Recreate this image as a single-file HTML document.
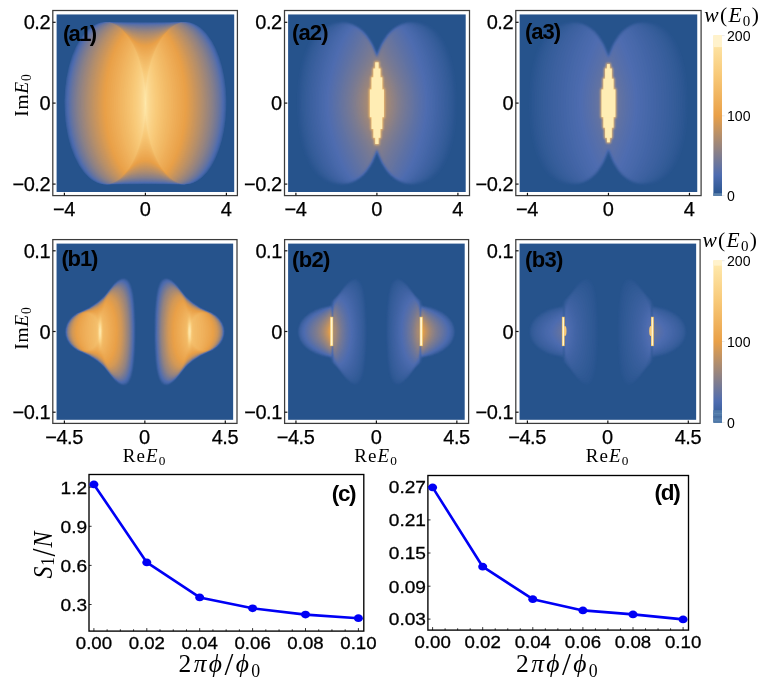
<!DOCTYPE html>
<html lang="en"><head><meta charset="utf-8"><title>Figure</title><style>html,body{margin:0;padding:0;background:#fff;}svg{display:block;}</style></head><body>
<svg width="762" height="683" viewBox="0 0 762 683">
<rect width="762" height="683" fill="#fff"/>
<defs><filter id="soft" x="-5%" y="-5%" width="110%" height="110%" color-interpolation-filters="sRGB"><feGaussianBlur stdDeviation="0.6"/></filter><filter id="soft2" x="-50%" y="-10%" width="200%" height="120%" color-interpolation-filters="sRGB"><feGaussianBlur stdDeviation="0.9"/></filter></defs>
<g id="hm-a1">
<rect x="56.60" y="14.45" width="177.60" height="177.55" fill="#26538c"/>
<clipPath id="cp-a1"><rect x="0" y="0" width="177.60" height="177.55"/></clipPath>
<g transform="translate(56.60,14.45)" clip-path="url(#cp-a1)"><g fill-rule="evenodd" filter="url(#soft)">
<path fill="#29558e" d="M45.7,8l0.5,-0.4 2,-0.1 83.2,0.1 0.5,0.4 2.1,0.1 0.5,0.5 1.5,0 1.5,1 1,0 5,3.1 4.8,4.4 0.2,0.5 2.9,3 0.1,0.5 1.4,1.5 1.1,2 0.9,1 4.5,8.5 0.6,2 2,4 0,1 0.5,0.5 1.5,4.5 0,1 0.5,0.5 0,1.1 0.4,0.5 0.1,1.5 0.5,0.5 0,1.5 0.5,0.5 0,1.5 0.5,0.5 0.5,4 0.5,1 0,2 0.5,0.5 0.5,6 0.5,1 0,3.5 0.5,1 0,5.5 0.5,2.1 0,13.5 -0.5,2.5 0,5.5 -0.5,1 0,3.5 -0.5,1 -0.5,6.1 -0.5,0.5 0,2 -0.5,1 -0.5,4 -0.5,0.5 0,1.5 -0.5,0.5 0,1.5 -0.5,0.5 -0.1,1.5 -0.4,0.5 0,1 -0.5,0.5 -0.6,3 -0.9,2.5 -0.5,0.5 -0.6,2.5 -1.4,2.5 -0.1,1 -3.5,7.1 -0.9,1 -0.6,1.5 -0.9,1 -1.1,2 -1.4,1.5 -0.1,0.5 -4.4,4.8 -5,4.1 -0.5,0.1 -2,1.4 -1,0.5 -1,0.1 -1.5,0.9 -1.5,0.1 -0.5,0.5 -2.1,0 -1,0.5 -84.7,0 -0.5,-0.5 -2.1,0 -0.5,-0.5 -1.5,-0.1 -1.5,-0.9 -1,-0.1 -5,-3 -4.8,-4.4 -0.2,-0.5 -2.9,-3 -0.1,-0.5 -1.4,-1.5 -1.1,-2 -0.9,-1 -5,-9.6 -0.1,-1 -1.4,-2.5 -0.6,-2.5 -0.5,-0.5 -0.9,-2.5 -0.6,-3 -0.5,-0.5 0,-1 -0.4,-0.5 -0.1,-1.5 -0.5,-0.5 0,-1.5 -0.5,-0.5 0,-1.5 -0.5,-0.5 -0.5,-4 -0.5,-1 0,-2 -0.5,-0.5 0,-2.6 -0.4,-0.5 -0.1,-3 -0.5,-1 0,-3.5 -0.5,-1 0,-5.5 -0.4,-1.5 -0.1,-13 0.1,-2.5 0.4,-1.1 0,-5.5 0.5,-1 0,-3.5 0.5,-1 0.5,-6 0.5,-0.5 0,-2 0.5,-1 0.5,-4 0.5,-0.5 0,-1.5 0.5,-0.5 0,-1.5 0.5,-0.5 0.1,-1.5 0.4,-0.5 0,-1.1 0.5,-0.5 0,-1 1.5,-4.5 0.5,-0.5 0,-1 0.5,-0.5 0.5,-2 1,-1.5 0.1,-1 1.9,-4 1.6,-3 0.9,-1 0.6,-1.5 0.9,-1 0.1,-0.5 2.4,-3 0.1,-0.5 2.9,-3 0.2,-0.5 4.8,-4.4 4,-2.6 1,-0.5 1,0 1.5,-1 1.5,0 0.5,-0.5z"/>
<path fill="#2b5691" d="M45.9,8l0.8,-0.4 3.5,0 80.7,0 1,0.5 2.1,0.1 0.5,0.4 2.5,0.6 4,2 3,2.1 6.8,6.8 4.5,6.5 4,7.5 3,7.5 3,9.6 2,9 1.5,10 1,12.6 0,11 -0.5,9 -1.5,11.6 -2,10 -3,10 -3.5,9 -4,7.6 -4.5,6.5 -3.3,3.5 -5.5,4.8 -2.5,1.4 -3.5,1.6 -5.6,1.1 -83.7,0 -1,-0.4 -2.1,-0.1 -0.5,-0.4 -2.5,-0.6 -4,-2 -3,-2.1 -6.8,-6.8 -4.5,-6.5 -4,-7.6 -4,-10.5 -2.5,-8.5 -2.5,-13.1 -1,-8.5 -0.5,-7.5 -0.1,-9.5 0.6,-11.1 1.5,-11.5 2,-10 3.5,-11.6 4,-9.5 4.6,-8 2.9,-4 6.8,-6.8 3,-2.1 4,-2 2.5,-0.6 0.5,-0.4z"/>
<path fill="#2e5893" d="M43.6,8.3l3.1,-0.6 3.5,-0.1 80.7,0.1 1,0.4 2.1,0.2 0.5,0.3 2.5,0.7 4,2 3,2.1 6.2,6.2 5,7 3.4,6.5 4.1,10 3,10.6 2,9.5 1.5,12 0.5,9.6 0,9 -1,13 -1.5,10.1 -2.5,11 -2.5,8 -3.6,8.5 -3.4,6.6 -4.6,6.5 -6.1,6.2 -3.5,2.6 -5.5,2.5 -5.6,1.1 -83.2,-0.1 -1,-0.4 -2.1,-0.1 -0.5,-0.4 -2.5,-0.6 -4,-2 -3,-2.1 -6.2,-6.2 -5,-7 -5,-10.1 -3,-8 -3,-11 -2,-11.1 -1,-9 -0.5,-15.5 0.5,-11.1 1.5,-12 2.5,-11.5 3,-10.1 4,-9.5 4,-7 4,-5.5 6.2,-6.2 3,-2.1 4,-2 2.5,-0.7z"/>
<path fill="#315a96" d="M43.6,8.4l3.6,-0.7 3.5,-0.1 30.6,0.3 49.6,-0.1 3.1,0.6 3,0.9 4,2.1 3,2.1 6.1,6.1 4.9,7 4,7.7 3.6,8.8 3,10.6 2,10 1.5,12 0.5,10.1 -0.1,8 -0.9,12.5 -1.5,10.6 -2,9 -3.1,9.9 -3.5,8.5 -4.4,8.2 -4,5.5 -5.6,5.6 -3.5,2.5 -5.5,2.6 -6.1,1.2 -35.6,-0.3 -47.1,0.2 -3.1,-0.6 -3,-1 -4,-2.1 -3,-2.1 -6.1,-6 -4.9,-7.1 -4.6,-9 -3.5,-9 -3,-11 -2,-11.1 -1,-9.5 -0.5,-14 0.5,-11.6 1.5,-12 2,-10 3,-10.6 4.1,-9.9 4.4,-8.1 4,-5.5 6.1,-6.1 3,-2.1 4,-2.1z"/>
<path fill="#345b98" d="M44.1,8.3l6.6,-0.6 29.6,0.3 46.6,-0.3 4,0.2 4.6,1 2.5,1 3,1.6 3.5,2.5 5,5.1 5.5,7.7 4,7.8 3,7.5 3.1,9.9 2,9.2 1.5,10.4 0.8,12.7 0,9.5 -0.8,12.1 -1.5,10.4 -2,9.3 -2.6,8.4 -3.5,9 -3.5,6.9 -4,6.1 -4.8,5.5 -2.2,2 -3.5,2.5 -5.5,2.7 -6.1,1.1 -37.6,-0.3 -44.6,0.3 -3.1,-0.6 -3.5,-1.1 -4,-2.1 -3.5,-2.5 -5,-5 -5.5,-7.8 -4.5,-8.8 -3.6,-9.4 -3,-11.2 -2,-11.3 -1,-9.6 -0.4,-13.1 0.4,-10.1 1.5,-13.1 2.5,-12.1 3.1,-9.9 3.5,-8.6 4.5,-8.3 4.5,-6.1 4.5,-4.6 2.5,-2 5.5,-3.1z"/>
<path fill="#365d9b" d="M44.1,8.4l6.6,-0.7 33.1,0.5 46.6,-0.4 3.1,0.6 3.5,1.1 3,1.5 3.7,2.5 2.8,2.5 3,3.2 5.5,7.9 3.5,6.7 3.5,8.7 3.1,10.1 2,9.5 1.5,11 0.6,9.7 0,10.5 -0.6,11.1 -1.5,11.1 -2,9.5 -3.1,10.1 -3.5,8.7 -3.5,6.7 -5,7.2 -4.5,4.8 -5.5,4 -4.5,2.1 -6.6,1.2 -36.6,-0.4 -45.1,0.3 -3.1,-0.5 -3.5,-1.2 -3,-1.5 -3.7,-2.5 -2.8,-2.5 -3,-3.2 -5.5,-7.8 -4.5,-9 -3.6,-9.5 -3,-11.4 -2,-11.8 -1,-10.8 -0.2,-12.7 0.7,-12.2 1.5,-11 2.5,-11.4 3.1,-9.6 3.5,-8.4 4.5,-8 5,-6.6 5.5,-5.1 3,-2 3,-1.5z"/>
<path fill="#395f9d" d="M44.1,8.4l6.6,-0.7 13.5,0.4 28.6,0.2 34.1,-0.6 3.5,0.2 3.1,0.5 3.2,1.1 3.1,1.5 3.7,2.5 2.9,2.5 3.1,3.5 5,7 4,7.7 3.5,8.8 3.1,10.4 2,9.8 1.5,11.9 0.5,8.7 -0.1,11 -0.9,12.5 -1.5,9.9 -2.5,10.8 -2.6,8 -3.5,8.4 -3.5,6.6 -4.5,6.5 -4.7,5 -5.5,4 -3.1,1.5 -3.2,1.1 -5.1,0.7 -35.6,-0.5 -28.6,0.1 -13.5,0.4 -3.5,-0.1 -3.1,-0.6 -3.2,-1.1 -3.1,-1.5 -3.7,-2.5 -2.9,-2.5 -3.1,-3.4 -5,-7.1 -4.5,-8.8 -3.5,-9.2 -3.1,-10.9 -2,-10.9 -1.2,-12.4 -0.3,-12 0.5,-11.7 1.5,-11.9 2.5,-11.8 3.1,-9.8 4,-9.5 4.5,-7.9 5,-6.5 5.1,-4.7 3.1,-2 3.1,-1.5z"/>
<path fill="#3c61a0" d="M44.1,8.5l6.6,-0.8 13,0.5 27.1,0.2 24.6,-0.2 11.5,-0.5 3.5,0.2 3.1,0.6 3,1 4,2 2.8,2 5.7,5.6 5.5,7.8 3.5,6.7 3.5,8.6 3.1,10 2,9.3 1.5,10.6 0.7,11.2 0,11 -0.7,11.1 -1.5,10.6 -2,9.4 -2.6,8.5 -3.5,9 -4,7.7 -4,6 -4.9,5.4 -5.1,4 -5.3,2.5 -4.8,1.1 -2,0.2 -37.1,-0.6 -43.6,0.5 -3.6,-0.7 -3,-1 -4,-2 -2.8,-2 -5.7,-5.6 -5.5,-7.8 -4,-7.7 -3.5,-9 -3.1,-10.6 -2,-10.2 -1.5,-13.3 -0.3,-11 0.3,-11.1 1.5,-13.2 2.5,-12.3 3.1,-10 4,-9.7 4.5,-8 5,-6.5 2.9,-3 3.1,-2.5 5.5,-3z"/>
<path fill="#3e62a2" d="M44.3,8.5l6.4,-0.7 13,0.5 25.6,0.2 25.1,-0.2 12.5,-0.5 3.5,0.2 2.9,0.5 4.1,1.5 5.7,3.5 2.8,2.5 3.1,3.4 2.5,3.3 3,4.6 3.5,6.8 3.5,8.8 3.1,10.3 2,9.7 1.5,11.8 0.5,10.1 -0.1,11 -0.9,11.9 -1.5,9.7 -2.5,10.8 -3.1,9.2 -3,7.1 -4,7.4 -4,5.6 -4.7,5 -5.4,4 -3.1,1.5 -3,1 -5.4,0.8 -13.5,-0.5 -22.6,-0.2 -44.1,0.5 -3.4,-0.6 -3,-1 -3.1,-1.5 -3.7,-2.5 -2.8,-2.5 -3.1,-3.4 -2.5,-3.2 -3,-4.7 -4,-7.9 -3.5,-9.2 -3.1,-10.9 -2,-10.8 -1.3,-12.6 -0.3,-12 0.6,-12.1 1.5,-11.8 2.5,-11.7 3.1,-9.7 4,-9.5 4.5,-7.9 5,-6.4 5.1,-4.7 3,-2 3.1,-1.5z"/>
<path fill="#4164a4" d="M44.6,8.5l6.1,-0.7 13.5,0.6 27.6,0.2 23.6,-0.3 11.5,-0.5 6,0.7 3.1,1 3.1,1.5 5.5,4 5.4,6 4.5,6.8 3.5,6.9 3.5,9 2.6,8.6 2,9.3 1.5,10.7 0.7,11 0,11 -0.7,11 -1.5,10.6 -2,9.4 -3.1,10 -3.5,8.6 -4,7.5 -4.5,6.4 -5,5.2 -4.9,3.5 -3.1,1.5 -3,1 -5.6,0.7 -12.5,-0.5 -24.1,-0.2 -27.1,0.2 -13,0.5 -3,-0.1 -3.1,-0.6 -4.2,-1.5 -2.7,-1.5 -3.5,-2.5 -5.6,-5.7 -2.5,-3.3 -3,-4.8 -4,-8 -3.5,-9.4 -3.1,-11.3 -2,-11.5 -1.1,-11.7 -0.2,-12.5 0.8,-13 1.5,-10.7 2.5,-11.2 3.1,-9.5 3.5,-8.3 4.5,-8.1 4.9,-6.4 5.5,-5.1 3,-2 3.1,-1.5z"/>
<path fill="#4466a7" d="M44.9,8.5l5.8,-0.7 11.5,0.6 26.6,0.4 26.6,-0.4 11.5,-0.6 3.1,0.2 2.7,0.5 4.2,1.5 5.6,3.5 2.8,2.5 3.2,3.5 3,4 2.5,4 3.5,6.8 3.5,8.8 3.1,10.4 2,9.9 1.4,11.3 0.6,10.6 -0.2,10.5 -0.8,11.2 -1.5,10 -2.5,10.9 -2.6,7.9 -3.5,8.5 -4,7.5 -4.4,6.2 -4.9,5 -4.9,3.5 -3.1,1.5 -3,1 -5.3,0.7 -11.5,-0.5 -25.1,-0.4 -27.6,0.3 -12.5,0.6 -3,-0.2 -2.8,-0.5 -4.2,-1.5 -5.6,-3.5 -2.8,-2.5 -3.2,-3.4 -3,-4 -2.5,-4 -4,-8 -3.5,-9.2 -3.1,-11 -2,-11 -1.2,-12.1 -0.3,-12 0.5,-11.2 1.5,-12.2 2.5,-11.9 3.1,-9.8 3.5,-8.5 4.5,-8.2 5,-6.7 5.7,-5.3 3,-2 3.1,-1.5z"/>
<path fill="#4767a9" d="M45.3,8.5l5.4,-0.6 9.5,0.5 23.6,0.5 23.1,-0.2 20,-0.8 5.4,0.6 3.1,1 3.1,1.5 5.4,4 5.1,5.6 5,7.4 4,8.2 3,7.9 2.6,8.7 2.2,11.4 1.3,9.6 0.6,11.5 -0.1,11.5 -0.9,10 -1.6,11.1 -2,8.8 -3.1,9.6 -3.5,8.4 -4,7.3 -4.3,6 -4.8,5 -4.9,3.5 -3.1,1.5 -3.1,1 -4.9,0.7 -18,-0.8 -19.1,-0.3 -21.1,0.3 -18.5,0.8 -2.7,-0.2 -2.7,-0.5 -4.2,-1.5 -3.6,-2 -2.7,-2 -3.2,-3 -3,-3.5 -5,-7.5 -4.5,-9.3 -3.5,-10 -2.6,-9.9 -2,-11.9 -1,-11.5 -0.1,-11.6 0.6,-11.5 1.5,-11.4 2.5,-11.5 3.1,-9.6 4,-9.5 4.5,-7.8 5,-6.4 5,-4.6 3,-2 3.1,-1.5z"/>
<path fill="#4969ac" d="M45.6,8.5l5.1,-0.6 16,0.8 18.6,0.4 23.1,-0.3 18.5,-0.9 5.1,0.6 3,1 3.1,1.5 5.5,4 5.4,6 4.5,6.8 3.5,6.9 3.5,9 3.1,10.7 1.8,9.3 1.3,10 0.6,11.1 0,10.5 -0.8,10.5 -1.4,10.1 -2.1,9.5 -3,9.9 -3.5,8.6 -4,7.5 -4.5,6.4 -5,5.2 -4.9,3.5 -3.1,1.5 -3,1 -4.6,0.7 -17.5,-0.9 -20.1,-0.3 -18.6,0.2 -20.5,1 -2.4,-0.2 -2.7,-0.5 -4.2,-1.5 -2.7,-1.5 -3.5,-2.5 -3.2,-3 -2.7,-3 -5.2,-7.8 -4.5,-9.2 -3.5,-9.8 -2.6,-9.7 -2,-11.6 -1,-11.6 -0.3,-12.5 0.8,-12.6 1.5,-11 2.6,-11.3 3,-9.5 3.5,-8.3 4.5,-8.1 4.9,-6.4 5.5,-5.1 3,-2 3.1,-1.5z"/>
<path fill="#4c6bae" d="M48.7,8l19,0.9 17.6,0.4 23.6,-0.4 18,-1 4.7,0.6 3,1 3.1,1.5 5.5,4 5.3,5.9 5,7.6 3.5,7.1 3.5,9.3 2.6,9 2,10.1 1.3,10.7 0.6,10.6 -0.1,10.5 -0.9,10.5 -1.4,10.2 -2.1,9.4 -3,9.7 -3.5,8.6 -4,7.4 -4.5,6.3 -4.9,5.1 -4.9,3.5 -4.4,2 -5.9,1.1 -17,-0.9 -21.1,-0.5 -20.1,0.4 -20.5,0.9 -2.7,-0.5 -4.2,-1.5 -2.7,-1.5 -3.5,-2.5 -3.2,-3 -2.8,-3.2 -3,-4.1 -2.5,-4.2 -4,-8.2 -3.5,-9.8 -3,-11.6 -1.7,-10.6 -1.1,-12 -0.2,-12 0.9,-12.6 1.5,-11 2.6,-11.2 3,-9.4 4,-9.3 4.5,-7.7 5,-6.3 5.5,-4.8 5.4,-3 3,-1z"/>
<path fill="#4f6caf" d="M49.2,8l21,1.2 15.6,0.3 20.6,-0.3 20.5,-1.2 4.3,0.5 3,1 3.1,1.5 5.4,4 5.3,5.8 5,7.6 4,8.2 3,8.1 2.5,8.9 2.1,9.9 1.4,11.2 0.5,10.6 -0.1,10.5 -0.8,11.1 -1.5,10 -2.6,10.9 -2.5,8.1 -3.5,8.4 -4,7.4 -4.5,6.3 -4.8,5 -4.9,3.5 -4.4,2 -5.5,1.1 -20,-1.2 -18.1,-0.4 -18.1,0.4 -22,1.1 -2.8,-0.5 -4.1,-1.5 -3.6,-2 -2.7,-2 -3.2,-3 -2.7,-3.1 -2.9,-3.9 -2.6,-4.3 -4,-8.2 -3.5,-9.7 -2.6,-9.5 -2.1,-12 -1.1,-11.5 -0.3,-12 0.6,-11.6 1.6,-12 2.4,-11.1 3,-9.8 4,-9.6 4.5,-7.9 4.8,-6.2 5.4,-5.1 3,-2 3.1,-1.5 3,-1z"/>
<path fill="#526dad" d="M49.6,8l19.6,1.3 17.1,0.4 21.1,-0.4 19.5,-1.3 3.9,0.5 3,1 3.1,1.5 3,2 3,2.5 5.3,6.1 4.8,7.5 4,8.5 3,8.4 2.5,9.3 2,10.4 1.1,10 0.6,11.1 -0.3,10.5 -0.9,10.5 -1.5,10.1 -2.5,10.3 -3,9.2 -3.5,8.2 -4,7.1 -4.5,6 -4.8,4.8 -5.3,3.5 -3.4,1.5 -5.1,1.1 -19.5,-1.4 -19.1,-0.4 -18.6,0.4 -20.6,1.3 -2.8,-0.5 -4.1,-1.5 -3.6,-2 -2.7,-2 -3.2,-3 -3,-3.5 -3.1,-4.3 -2.5,-4.3 -4,-8.4 -3.5,-10.1 -2.6,-10 -1.9,-11.6 -1,-11.5 -0.1,-11.5 0.6,-11.6 1.6,-11.5 2.4,-11 3,-9.7 4,-9.5 4.5,-7.9 4.7,-6 5.4,-5.1 3,-2 3.1,-1.5 3,-1z"/>
<path fill="#556eab" d="M50,8l18.2,1.4 18.1,0.5 21.6,-0.4 19,-1.5 3.4,0.5 3.1,1 3,1.5 3.1,2 3,2.5 5.5,6.3 5,8.1 3.5,7.5 3,8.3 2.5,9.2 2.1,10.6 1.2,10.7 0.4,10.6 -0.2,10.5 -0.9,11.1 -1.5,9.5 -2.6,10.6 -3,9.1 -3.5,8.1 -4,7.1 -4.6,6.2 -4.6,4.5 -5.3,3.5 -3.5,1.5 -4.6,1 -19,-1.4 -19.6,-0.5 -19.6,0.5 -19.2,1.4 -2.7,-0.5 -4.2,-1.5 -3.6,-2 -3.2,-2.5 -3.2,-3 -3,-3.6 -3,-4.4 -2.5,-4.3 -4,-8.8 -3.1,-9 -2.6,-10.5 -1.9,-11.6 -1,-11.5 -0.1,-12 0.7,-11.6 1.7,-11.5 2.3,-10.3 3,-9.8 4,-9.3 4.5,-7.8 5,-6.4 5,-4.6 3.1,-2 3,-1.5 3.1,-1z"/>
<path fill="#5870a9" d="M47.7,8.5l3,-0.5 19.5,1.6 18.6,0.6 18.6,-0.6 19.5,-1.6 3,0.5 3,1 3.1,1.5 5.5,4 5.5,6.1 4.9,7.5 3.7,7.5 3.4,9.4 2.5,9.2 2,10 1.3,10.5 0.5,10.6 -0.2,10.5 -0.8,10.5 -1.6,10.6 -2.2,9.5 -3,9.6 -3.5,8.3 -3.9,7.2 -4.3,6 -4.9,5 -4.9,3.5 -4.4,2 -4.7,1 -19.5,-1.6 -18.6,-0.5 -18.1,0.5 -20.5,1.6 -2.5,-0.5 -4.2,-1.5 -2.7,-1.5 -3.5,-2.5 -3.2,-3 -3,-3.4 -5.4,-8.1 -4.1,-8.6 -3.1,-8.5 -2.9,-11 -1.9,-10.6 -1.1,-11.5 -0.3,-11 0.5,-11.6 1.2,-11.1 2.1,-10.4 3,-10.8 3.5,-9 4,-7.8 4.8,-7 5.3,-5.6 2.5,-2 3.3,-2z"/>
<path fill="#5c71a7" d="M48.1,8.5l2.6,-0.4 19.5,1.7 18.6,0.6 18.6,-0.6 19.5,-1.7 2.6,0.4 3,1 3.1,1.5 5.4,4 5.5,6.1 5,7.6 4,8.4 3,8.2 2.5,9.2 2,10.2 1.3,10.5 0.5,10.6 -0.1,10.5 -0.9,10.5 -1.5,10.6 -2.3,9.7 -2.5,8.3 -3.5,8.5 -4,7.6 -4.5,6.3 -5,5.2 -4.9,3.5 -4.5,2 -4.2,0.9 -19.5,-1.7 -18.6,-0.5 -18.1,0.5 -20.5,1.7 -3.7,-0.9 -2.5,-1 -3.6,-2 -3.3,-2.5 -3.1,-3 -2.9,-3.5 -5,-7.7 -4,-8.3 -3.5,-9.9 -2.5,-9.7 -2,-11.1 -1.1,-11 -0.3,-11.5 0.5,-11.1 1.3,-11.4 2.1,-10.3 3,-10.7 3.5,-9 4,-7.8 4.8,-6.9 5.2,-5.6 2.6,-2 3.3,-2z"/>
<path fill="#5f72a5" d="M48.6,8.5l2.1,-0.3 2.5,0.1 18,1.8 17.6,0.5 17.6,-0.5 18,-1.8 2.5,-0.1 2.1,0.3 3,1 3.1,1.5 3,2 3,2.5 5.4,6.2 5,7.9 3.6,7.5 3.4,9.5 2.5,9.6 1.7,9.5 1.2,11 0.5,10.6 -0.3,11 -1,10.5 -1.6,10.1 -2.5,10.1 -3,9 -3.5,8 -4,7 -4.5,6 -4.6,4.5 -5.2,3.5 -3.5,1.5 -3.8,0.8 -20.5,-1.8 -16.6,-0.6 -18.1,0.5 -18.5,1.8 -2.5,0.1 -2.1,-0.3 -3,-1 -3.1,-1.5 -3,-2 -3,-2.5 -5.4,-6.1 -5,-7.9 -4,-8.6 -3,-8.7 -2.6,-9.8 -2,-11.5 -1,-11.1 -0.3,-11.5 0.6,-11.6 1.3,-11 2,-10 3,-10.5 3.5,-9 4.2,-8.1 4.8,-6.9 5,-5.2 2.6,-2 3.2,-2z"/>
<path fill="#6273a3" d="M49.1,8.5l4.1,-0.2 8.5,1.1 11.5,1 15.6,0.5 15.6,-0.5 11.5,-1 8.5,-1.1 4.1,0.2 3,1 3.1,1.5 3,2 3,2.5 5.4,6.2 5,7.9 4,8.5 3,8.5 2.5,10 1.8,9.6 1.1,10.5 0.5,10.6 -0.3,11 -1,10.5 -1.6,10.1 -2.5,10.1 -3,9 -3.5,8 -4,7 -4.5,6 -4.6,4.5 -5.2,3.5 -3.5,1.5 -3.3,0.8 -20.5,-2 -16.6,-0.6 -16.1,0.4 -10,0.8 -10.5,1.3 -4.1,-0.2 -3,-1 -3.1,-1.5 -3,-2 -3,-2.5 -5.4,-6.1 -5,-8 -4,-8.5 -3,-8.7 -2.6,-9.8 -2,-11.6 -1,-11 -0.3,-11.5 0.6,-11.6 1.3,-11 2,-10 3,-10.5 3.5,-9 4.2,-8.1 4.8,-6.9 5,-5.2 2.6,-2 3.2,-2z"/>
<path fill="#6574a0" d="M49.6,8.5l3.6,-0.1 10,1.3 10.5,1 15.1,0.5 15.1,-0.5 10.5,-1 10,-1.3 3.6,0.1 3,1 3.1,1.5 3,2 3.5,3 5.5,6.6 4.9,8 3.5,7.7 3.1,8.8 2.4,9.6 1.9,10.5 1.1,10.5 0.4,10.6 -0.3,10.5 -1.1,10.5 -1.6,10.1 -2.4,9.5 -3,9.1 -3.5,8 -4,7 -4.5,6 -4.6,4.5 -5.3,3.5 -3.4,1.5 -2.8,0.7 -2.5,0 -18,-2.1 -17.1,-0.7 -15.6,0.5 -10.5,0.9 -10,1.4 -3.6,-0.2 -3,-1 -3.1,-1.5 -3,-2 -3.5,-3 -5.5,-6.5 -4.9,-8 -4,-9 -3,-9.1 -2.5,-10.4 -1.7,-10.2 -0.9,-11 -0.2,-11.5 0.6,-11.6 1.4,-11 2.3,-10.8 2.9,-9.8 3.6,-8.9 4,-7.6 4.7,-6.5 4.8,-5.1 2.6,-2 3.3,-2z"/>
<path fill="#69759e" d="M50.2,8.5l3,-0.1 9.5,1.4 10,1 16.1,0.6 16.1,-0.6 10,-1 9.5,-1.4 3,0.1 3.1,1 3,1.5 3.1,2 3.5,3 5.5,6.6 4.9,8 3.5,7.8 3,8.6 2.5,9.8 1.8,9.9 1.1,10.5 0.4,10.6 -0.3,10.6 -1,10.6 -1.6,9.9 -2.4,9.9 -3,9.1 -3.5,8 -4,7.1 -4.6,6 -4.6,4.5 -5.2,3.5 -5.2,2 -3,0.2 -9.5,-1.5 -10.5,-1 -10.1,-0.5 -10.5,0 -15.6,0.9 -15,2.1 -3,-0.2 -3.1,-1 -3,-1.5 -3.1,-2 -3.5,-3 -5.5,-6.5 -4.9,-8 -4,-9.1 -3,-9 -2.5,-10.5 -1.6,-10.1 -1,-11 -0.2,-11.5 0.6,-11.6 1.4,-11 2.3,-10.7 2.9,-9.9 3.6,-8.9 4,-7.5 4.7,-6.6 4.9,-5.1 2.5,-2 3.3,-2z"/>
<path fill="#6c769c" d="M50.7,8.5l2.5,-0.1 9.5,1.6 10.5,1.1 15.6,0.6 15.6,-0.6 10.5,-1.1 9.5,-1.6 2.5,0.1 3,1 3.1,1.5 3,2 3.5,3 5.5,6.6 5,8.2 3.5,7.7 3,8.7 2.5,9.9 1.8,10.1 1.1,10.5 0.4,10.6 -0.3,10.5 -1.1,10.5 -1.6,10.1 -2.4,9.5 -2.9,8.8 -3.6,8.3 -4,7 -4.5,6 -4.6,4.5 -5.2,3.5 -5.2,2 -2.5,0.1 -9.5,-1.5 -11,-1.2 -10.1,-0.5 -9.5,0 -13.6,0.8 -9,1 -8.5,1.4 -2.5,-0.1 -3,-1 -3.1,-1.5 -3,-2 -3.5,-3 -5.5,-6.5 -5,-8.2 -3.9,-8.9 -3.1,-9.3 -2.5,-10.2 -1.6,-10.6 -1,-11 -0.1,-11.5 0.6,-11.6 1.5,-11 2.1,-10 3,-10.1 3.5,-8.7 4.1,-7.8 4.7,-6.5 4.8,-5.1 2.6,-2 3.2,-2z"/>
<path fill="#6f779a" d="M51.3,8.5l1.9,-0.1 10,1.8 9,1.1 16.6,0.7 16.6,-0.7 9,-1.1 10,-1.8 1.9,0.1 3,1 3.1,1.5 3,2 3.5,3 5.6,6.6 5.1,8.5 3.4,7.6 3.1,8.9 2.4,9.8 1.7,9.8 1.1,10.5 0.4,10.6 -0.3,10.5 -1,10.5 -1.7,10.1 -2.3,9.5 -2.9,8.6 -3.7,8.5 -4,7 -4.5,6 -4.6,4.5 -5.2,3.5 -3.5,1.5 -1.7,0.5 -1.9,0.1 -10.5,-1.8 -9.5,-1.1 -10.1,-0.6 -10,0 -13.6,0.8 -9,1.2 -8.5,1.5 -1.9,-0.1 -3,-1 -3.1,-1.5 -3,-2 -3.5,-3 -5.6,-6.5 -5.1,-8.5 -3.9,-9 -3,-9.1 -2.4,-10 -1.7,-10.6 -0.9,-11.5 -0.2,-11 0.7,-11.1 1.5,-11.5 2.1,-10 2.9,-10.1 3.5,-8.6 4.2,-7.9 4.6,-6.5 4.9,-5.1 2.6,-2 3.2,-2z"/>
<path fill="#727898" d="M51.9,8.5l1.3,0 9.5,1.7 9,1.2 8.6,0.7 8.5,0.3 8.5,-0.3 8.6,-0.7 9,-1.2 9.5,-1.7 1.3,0 3,1 3.9,2 2.9,2 3.3,3.1 3.2,3.5 2.6,3.5 4.9,8.5 3.5,8.2 2.9,8.9 2.3,9.5 1.6,10 1,10.5 0.3,10.6 -0.4,11 -1.2,10.3 -1.8,10.3 -2.5,9.5 -3.2,8.9 -3.5,7.6 -4,6.7 -4.7,5.9 -5,4.5 -4.9,3 -4.2,1.5 -1.3,0.1 -10,-1.9 -10,-1.2 -9.6,-0.7 -9,-0.1 -15.1,1 -8.5,1.2 -9,1.7 -1.3,-0.1 -3,-1 -3.9,-2 -2.9,-2 -3.3,-3 -3.2,-3.5 -2.6,-3.5 -4.9,-8.6 -3.5,-8.1 -3.1,-9.4 -2.4,-10.5 -1.6,-10.6 -0.9,-11 0,-11.5 0.7,-11.1 1.4,-11 2.3,-10.5 2.9,-9.6 3.7,-9 4,-7.3 4.4,-6.2 4.9,-5.1 2.6,-2 3.2,-2z"/>
<path fill="#757996" d="M52.5,8.5l19.2,3.2 8.6,0.7 8.5,0.3 8.5,-0.3 8.6,-0.7 19.2,-3.2 3,1 3.9,2 3.5,2.5 2.7,2.6 2.8,3 3,4 5.1,9 3.4,8 2.9,9.1 2.3,9.5 1.6,10 0.9,10.5 0.3,10.6 -0.5,10.5 -1.1,10.5 -1.9,10.2 -2.4,9.4 -3.1,8.7 -3.6,7.9 -4.3,7 -4.4,5.5 -5,4.5 -4.9,3 -2.5,1 -2.4,0.6 -9.5,-1.9 -10,-1.5 -9.6,-0.7 -9.5,-0.1 -8,0.4 -8.1,0.8 -17.2,2.9 -3,-1 -3.9,-2 -3.5,-2.5 -2.7,-2.5 -2.8,-3 -3,-4 -5.1,-9.1 -3.6,-8.5 -3,-9.5 -2.3,-10.4 -1.6,-10.7 -0.8,-11 0,-11 0.8,-11.6 1.4,-10.5 2.2,-10 3,-9.7 3.5,-8.6 4,-7.5 4.5,-6.3 4.9,-5.1 2.6,-2 3.2,-2z"/>
<path fill="#797a93" d="M53.2,8.5l10,2.1 8,1.3 9.1,0.8 8.5,0.3 8.5,-0.3 9.1,-0.8 8,-1.3 10,-2.1 3.1,1 3.9,2 3.5,2.5 2.7,2.6 3.1,3.5 2.8,3.7 2.6,4.3 2.6,5 3.4,8 2.8,9.1 2.2,9.5 1.6,10 0.9,10.5 0.2,10.6 -0.4,10.5 -1.2,10.5 -1.9,10.1 -2.5,9.5 -3.3,9 -3.5,7.5 -4,6.6 -4.4,5.5 -5,4.5 -5,3 -4.2,1.5 -10.5,-2.2 -9.5,-1.4 -9.1,-0.7 -9.5,-0.1 -7.5,0.3 -8.1,0.9 -8,1.3 -9,1.9 -3.1,-1 -3.9,-2 -3.5,-2.5 -2.7,-2.5 -3.1,-3.5 -2.8,-3.8 -2.6,-4.2 -2.6,-5.1 -3.6,-8.5 -2.9,-9.5 -2.3,-10.5 -1.5,-10.6 -0.8,-11 0,-11 0.8,-10.7 1.5,-10.9 2.2,-10 2.9,-9.6 3.4,-8.5 4.4,-8 4.7,-6.5 5,-5.1 5.3,-3.5z"/>
<path fill="#7c7b91" d="M46.9,11.5l6.3,-2.8 1.5,0.2 9.5,2.1 9.5,1.5 8.1,0.7 7.5,0.2 8,-0.3 8.1,-0.8 7.5,-1.2 11.5,-2.4 3.6,1.3 2.7,1.5 3.5,2.5 3.2,3.1 5.6,7 5,8.8 3.4,8.2 2.9,9.1 2.2,9.5 1.6,10 0.9,10.5 0.2,10.6 -0.5,10.5 -1.2,10.5 -1.8,10.1 -2.6,9.5 -3,8.5 -3.6,7.7 -4.2,6.9 -4.4,5.5 -5,4.5 -4.9,3 -3.6,1.3 -12,-2.4 -8,-1.3 -9.1,-0.7 -8.5,-0.2 -8,0.4 -7.6,0.8 -18,3.4 -3.6,-1.3 -2.7,-1.5 -3.5,-2.5 -3.2,-3 -5.6,-7 -5,-8.9 -3.5,-8.4 -2.9,-9.3 -2.3,-10 -1.5,-10.6 -0.9,-10.5 -0.1,-11 0.7,-11.1 1.4,-10.5 2.1,-10.2 2.7,-9.4 3.3,-8.5 4,-7.9 4.5,-6.6 4.6,-5.1z"/>
<path fill="#7f7c8f" d="M52.8,9l2.4,0 9.5,2.3 9,1.5 7.6,0.7 7.5,0.2 8,-0.3 7.6,-0.7 9,-1.5 9,-2.2 2,-0.1 2.9,1.1 3.5,2 3.3,2.5 2.7,2.6 3,3.5 2.7,3.7 5,9 3.5,8.3 2.6,8.6 2.3,10 1.6,10 0.8,10.6 0.2,10.5 -0.5,10.5 -1.1,10 -1.9,9.9 -2.5,9.5 -3,8.5 -3.6,7.8 -4.2,7 -4.5,5.5 -4.9,4.5 -5,3 -2.9,1.1 -1.5,0 -10,-2.3 -8.5,-1.4 -8.6,-0.9 -8.5,-0.2 -8,0.4 -7.6,0.9 -8.5,1.5 -8,1.9 -2,0.1 -2.9,-1.1 -3.5,-2 -3.3,-2.5 -2.7,-2.5 -3,-3.5 -2.7,-3.7 -5,-9 -3.5,-8.5 -2.9,-9.4 -2.1,-9.6 -1.6,-10.5 -0.8,-10.5 -0.1,-11 0.7,-11.1 1.3,-10.5 2.1,-10 2.8,-9.6 3.3,-8.5 3.8,-7.6 4.3,-6.4 5,-5.6 5.1,-4z"/>
<path fill="#827e8d" d="M53.5,9l1.6,0 9.1,2.3 8.5,1.6 8.1,0.9 8,0.3 8,-0.3 8.1,-0.9 8.5,-1.6 9.1,-2.3 1.6,0 3.5,1.5 3.3,2 5.7,5.1 5.4,7 5,9.1 3.3,7.9 2.8,9.1 2.2,10 1.5,10 0.9,10.6 0.1,10.5 -0.5,10.5 -1.2,10 -1.9,10.1 -2.6,9.5 -3.1,8.5 -3.5,7.5 -4,6.6 -4.4,5.5 -5,4.5 -5,3 -2.5,1 -1.2,0.1 -9.5,-2.4 -8.5,-1.6 -9.1,-0.9 -8.5,-0.2 -7.5,0.3 -7.6,0.9 -8,1.5 -9.1,2.3 -1.6,0 -3.5,-1.5 -3.3,-2 -5.7,-5 -5.4,-7 -5,-9.1 -3.4,-8.5 -2.8,-9 -2.2,-10 -1.5,-10.6 -0.8,-10.5 -0.1,-11 0.7,-11.1 1.4,-10.5 2.2,-10.3 2.7,-9.3 3.4,-8.5 3.8,-7.5 4.5,-6.5 4.5,-5.1 5.2,-4z"/>
<path fill="#857f8b" d="M54.2,9l11,2.8 7.5,1.4 8.1,1 8,0.3 8,-0.3 8.1,-1 7.5,-1.4 11,-2.8 3.5,1.5 3.3,2 3.1,2.5 3,3.1 2.9,3.5 2.7,4 4.8,9 3.3,8.3 2.6,8.8 2.1,9.5 1.5,10 0.8,10.6 0.1,10.5 -0.6,10.5 -1.2,10 -1.8,9.6 -2.6,9.5 -3.1,8.5 -3.5,7.6 -4,6.5 -4.4,5.5 -5,4.5 -5,3 -3,1.1 -10,-2.7 -8.5,-1.6 -8.6,-1 -8.5,-0.2 -7.5,0.4 -7.6,0.9 -7,1.4 -11,2.7 -3.5,-1.5 -3.3,-2 -3.1,-2.5 -3,-3 -2.9,-3.5 -2.7,-4 -4.8,-9.1 -3.4,-8.5 -2.8,-9.5 -2.1,-10 -1.4,-10.1 -0.7,-10.5 0,-11 0.7,-10.6 1.5,-10.5 2.1,-10 2.8,-9.3 3.3,-8.3 3.9,-7.5 4.4,-6.5 4.5,-5.1 5.2,-4z"/>
<path fill="#898089" d="M48.1,12.5l6.6,-3.4 1.5,0.3 9,2.6 9.6,1.8 7.5,0.8 7,0.3 8,-0.4 8.1,-1.1 7.5,-1.6 10,-2.7 3.3,1.4 3.3,2 3.1,2.5 3,3.1 2.9,3.5 2.7,4 4.8,9 3.4,8.5 2.6,8.9 2.1,9.7 1.4,10 0.8,10.1 0.1,10.5 -0.6,10.5 -1.2,10 -1.9,10.1 -2.5,9 -3.1,8.5 -3.6,7.6 -3.9,6.5 -4.5,5.5 -4.9,4.5 -5,3 -2.3,0.9 -10.5,-2.8 -8,-1.6 -8.6,-1 -8,-0.3 -8,0.4 -7.6,1 -7.5,1.6 -10,2.7 -3.3,-1.4 -3.3,-2 -3.1,-2.5 -3,-3 -2.9,-3.5 -2.7,-4 -4.8,-9 -3.4,-8.6 -2.6,-8.9 -2.1,-9.6 -1.4,-10.1 -0.8,-10.5 -0.1,-10.5 0.6,-10.6 1.4,-10.5 1.9,-9.7 2.6,-9.4 3.2,-8.5 3.7,-7.5 4.2,-6.5 4.6,-5.5z"/>
<path fill="#8c8186" d="M54.3,9.5l1.9,-0.1 9,2.7 8.5,1.9 7.6,0.9 7.5,0.4 8,-0.4 7.6,-1 8.5,-1.9 8.5,-2.6 1.5,0 3.5,1.6 3,2 3,2.5 2.9,3.1 5.5,7.5 4.7,9 3.3,8.5 2.6,9.1 2.1,9.5 1.3,10 0.8,10.1 0.1,10.5 -0.7,10.5 -1.2,10.1 -1.9,9.5 -2.4,9 -3.1,8.5 -3.6,7.6 -4,6.5 -4.4,5.5 -5,4.5 -4.9,3 -1.6,0.7 -1.5,-0.1 -8.5,-2.6 -8.5,-1.8 -8.1,-1.1 -8.5,-0.3 -7.5,0.4 -7.6,1 -8,1.8 -8.5,2.6 -1.5,0.1 -3.5,-1.7 -3,-2 -3,-2.5 -2.9,-3 -5.5,-7.5 -4.7,-9.1 -3.3,-8.5 -2.6,-9 -2.1,-9.9 -1.4,-10.2 -0.7,-10.5 0,-10.5 0.6,-10.6 1.4,-10 2,-10 2.6,-9.1 3.3,-8.5 3.7,-7.5 4.3,-6.5 4.3,-5 4.7,-4.1z"/>
<path fill="#8f8284" d="M55,9.5l1.2,0 9,2.8 8.5,2 7.6,1 7.5,0.4 7.5,-0.4 7.6,-1 8.5,-2 9,-2.8 1.2,0 3,1.5 3.1,2 3,2.5 3.3,3.6 3,3.8 2.7,4.2 4.7,9.5 3.1,8.4 2.6,9.2 1.9,9.8 1.3,10.2 0.6,10.1 -0.1,10.5 -0.7,10.5 -1.4,10.1 -2,9.5 -2.7,9.2 -3.2,8.3 -3.8,7.5 -4.4,6.6 -4.4,5 -4.9,4 -4.7,2.5 -1.2,0.1 -9,-2.9 -8.5,-2 -7.6,-1 -7.5,-0.3 -7.5,0.3 -7.6,1 -8.5,2 -9,2.9 -1.2,-0.1 -3,-1.5 -3.1,-2 -3,-2.5 -3.3,-3.5 -3,-3.9 -2.7,-4.1 -4.7,-9.6 -3.1,-8.3 -2.6,-9.2 -1.9,-9.9 -1.3,-10.2 -0.6,-10 0.1,-10.5 0.7,-10.6 1.4,-10 2,-9.5 2.7,-9.3 3.2,-8.3 3.8,-7.5 4.4,-6.5 4.4,-5.1 4.9,-4z"/>
<path fill="#928382" d="M55.8,9.5l10.4,3.3 7,1.7 8.1,1.2 7.5,0.4 7.5,-0.4 8.1,-1.2 7,-1.7 10.4,-3.3 3.1,1.5 3.7,2.5 2.8,2.5 3.3,3.6 2.8,3.7 2.7,4.3 4.7,9.5 3.1,8.5 2.4,9.1 1.9,9.5 1.2,10 0.6,10.1 0,10.5 -0.8,10.5 -1.4,10.1 -2,9.5 -2.6,9 -3.3,8.5 -3.5,7.1 -4.3,6.5 -4.3,5 -4.7,4 -5.4,3 -10.4,-3.3 -7,-1.7 -8.1,-1.2 -7.5,-0.3 -7.5,0.3 -8.1,1.2 -7,1.7 -10.4,3.3 -3.1,-1.5 -3.7,-2.5 -2.8,-2.5 -3.3,-3.5 -2.8,-3.7 -2.7,-4.3 -4.7,-9.6 -3.1,-8.5 -2.4,-9 -1.9,-9.5 -1.2,-10.1 -0.6,-10 0,-10.5 0.8,-10.6 1.4,-10 2,-9.5 2.6,-9.1 3.3,-8.5 3.5,-7 4.3,-6.5 4.3,-5 4.7,-4.1z"/>
<path fill="#968480" d="M50.5,13l5.7,-3.3 1,0.2 9,3.1 8.6,2.2 7.5,1 7,0.3 7.5,-0.4 7.6,-1.2 7,-1.9 10,-3.3 3.5,1.8 2.9,2 2.8,2.5 3.3,3.6 3,4 2.5,4 4.6,9.3 3,8.2 2.5,9.1 2,10 1.3,10 0.6,10.1 -0.1,10.5 -0.7,10.5 -1.4,10.1 -2,9.5 -2.7,9 -3.1,8 -3.7,7.6 -4.2,6.5 -4.3,5 -4.7,4 -5.1,2.9 -10,-3.4 -7,-1.8 -8.1,-1.3 -7.5,-0.4 -7.5,0.4 -8.1,1.3 -7,1.8 -10,3.4 -3.5,-1.9 -2.9,-2 -2.8,-2.5 -3.3,-3.5 -3,-4 -2.5,-4 -4.6,-9.3 -3,-8.3 -2.5,-9 -1.9,-9.5 -1.3,-10.1 -0.6,-10 0,-10.5 0.6,-10.1 1.4,-10 1.9,-9.5 2.5,-9.1 3,-8 3.7,-7.5 4,-6.5 4.6,-5.5z"/>
<path fill="#99857e" d="M56.2,10l1.2,0 8.8,3.3 8.1,2.1 7.5,1.2 7,0.4 7,-0.4 7.5,-1.2 8.1,-2.1 8.8,-3.3 1.2,0 3.5,2 2.7,2 3.2,3.1 2.7,3 5.1,7.5 4.7,9.5 2.9,8 2.5,9.1 1.9,9.5 1.3,10 0.6,10.1 0,10.5 -0.6,10 -1.4,10.1 -1.9,9.5 -2.5,9 -3.1,8.3 -3.5,7.3 -4.1,6.5 -4.6,5.5 -4.5,4 -4.9,3 -1.2,0 -8.8,-3.2 -8.1,-2.2 -7.5,-1.2 -7,-0.3 -7,0.3 -7.5,1.2 -8.1,2.2 -8.8,3.2 -1.2,0 -3.5,-2 -2.7,-2 -3.2,-3 -2.7,-3 -5.1,-7.5 -4.7,-9.6 -2.9,-8 -2.5,-9 -1.9,-9.5 -1.3,-10.1 -0.6,-10 0,-10.5 0.6,-10.1 1.4,-10 1.9,-9.5 2.5,-9.1 3.1,-8.2 3.5,-7.3 4.1,-6.5 4.6,-5.5 4.5,-4.1z"/>
<path fill="#9c867c" d="M57,10l9.7,3.6 7,2 7.6,1.4 7.5,0.4 7.5,-0.4 7.6,-1.4 7,-2 9.7,-3.6 2.7,1.5 3.5,2.5 3.2,3.1 3.1,3.5 5.3,8 4.5,9.5 3,8.5 2.4,9.1 1.8,9.5 1.1,10 0.6,10.1 -0.1,10 -0.7,10 -1.4,10.1 -2,9.5 -2.6,8.8 -3,7.9 -3.6,7.4 -3.9,6.2 -4.5,5.3 -4.5,4 -4.9,3 -9.7,-3.6 -7,-2 -7.6,-1.3 -7.5,-0.5 -7.5,0.5 -7.6,1.3 -7,2 -9.7,3.6 -2.7,-1.5 -3.5,-2.5 -3.2,-3 -3.1,-3.5 -5.3,-8 -4.5,-9.6 -3,-8.5 -2.4,-9 -1.8,-9.6 -1.1,-10 -0.6,-10 0.1,-10 0.7,-10.1 1.4,-10 2,-9.5 2.6,-8.9 3,-7.9 3.6,-7.3 3.9,-6.2 4.5,-5.3 4.5,-4.1z"/>
<path fill="#9f877a" d="M56.8,10.5l1.7,0 8.7,3.5 7.6,2.2 7,1.3 7,0.4 7.5,-0.5 7,-1.3 6.6,-1.9 9.2,-3.7 1.3,-0.1 2.9,1.6 3.3,2.5 5.7,6.1 5.3,8 4.4,9.3 2.9,8.2 2.4,9.1 1.9,9.5 1.1,9.5 0.6,10.1 0,10 -0.7,10 -1.3,10.1 -1.9,9.4 -2.4,8.6 -2.9,8 -3.6,7.6 -4,6.5 -4.4,5.5 -4.3,4 -5,3.2 -1.3,-0.2 -9.2,-3.7 -6.6,-1.9 -7,-1.3 -7.5,-0.4 -7.5,0.4 -7,1.3 -6.6,1.9 -9.2,3.7 -1.3,0.2 -2.9,-1.7 -3.3,-2.5 -5.7,-6 -5.3,-8 -4.4,-9.3 -2.9,-8.3 -2.4,-9 -1.9,-9.6 -1.1,-9.5 -0.6,-10 0,-10 0.7,-10.1 1.2,-9.5 1.9,-9.5 2.3,-8.6 2.9,-8 3.5,-7.5 3.9,-6.5 4.3,-5.5 4.8,-4.6z"/>
<path fill="#a28877" d="M57.7,10.5l1.5,0.4 9,3.7 6.6,2 7,1.3 7,0.5 7,-0.5 7,-1.3 6.6,-2 9,-3.7 1.5,-0.4 3.3,2 3.1,2.5 5.5,6.1 5.2,8 4.4,9.5 2.8,8 2.4,9.1 1.8,9.5 1.2,9.5 0.5,10.1 0,10 -0.7,10 -1.3,9.6 -1.9,9.5 -2.4,8.5 -3,8 -3.5,7.6 -3.8,6.2 -4.2,5.3 -4.8,4.5 -4.6,3 -1.5,-0.3 -9,-3.8 -6.6,-2 -7,-1.3 -7,-0.4 -7,0.4 -7,1.3 -6.6,2 -9,3.8 -1.5,0.3 -3.3,-2 -3.1,-2.5 -5.5,-6 -5.2,-8 -4.4,-9.6 -2.8,-8 -2.4,-9 -1.8,-9.6 -1.2,-9.5 -0.5,-10 0,-10 0.7,-10.1 1.3,-9.5 1.9,-9.5 2.4,-8.6 3,-8 3.5,-7.5 3.8,-6.3 4.2,-5.2 4.8,-4.6z"/>
<path fill="#a68975" d="M53.3,14l4.9,-3.3 1,0.2 8.5,3.8 8.1,2.5 6.5,1.2 7,0.5 7,-0.6 7,-1.5 6.6,-2.1 7.5,-3.4 2,-0.6 3,1.8 3.1,2.5 5.5,6.1 5.2,8 4.4,9.5 2.9,8.3 2.3,8.8 1.7,9.1 1.2,9.9 0.6,10.1 -0.1,10 -0.7,10 -1.3,9.6 -1.8,9 -2.4,8.8 -3,8.2 -3.3,7.1 -3.9,6.5 -4.3,5.5 -4.2,4 -4.9,3.3 -2,-0.6 -8,-3.5 -6.6,-2.1 -7,-1.4 -7,-0.5 -7,0.5 -7,1.4 -6.6,2.1 -8,3.5 -2,0.6 -3,-1.8 -3.1,-2.5 -5.5,-6 -5.2,-8 -4.4,-9.6 -2.9,-8.3 -2.3,-8.7 -1.7,-9.1 -1.2,-9.5 -0.5,-9.5 0,-10 0.6,-10.1 1.2,-9.5 1.9,-9.5 2.3,-8.6 2.8,-8 3.4,-7.5 3.9,-6.5 4.2,-5.5z"/>
<path fill="#a98a73" d="M58.4,11l1.8,0.4 9,4.1 6.1,2 7,1.4 6.5,0.5 6.5,-0.5 7,-1.4 6.1,-2 9,-4.1 1.8,-0.4 3,2 3,2.5 5.3,6.1 5.1,8 4.3,9.5 2.8,8 2.3,8.9 1.7,9.2 1.2,9.5 0.5,9.6 0,10 -0.7,10 -1.2,9.6 -1.8,9 -2.3,8.5 -2.9,8 -3.4,7.6 -3.8,6.5 -4.2,5.5 -4.6,4.5 -4.3,3 -1.8,-0.3 -9,-4.2 -6.1,-1.9 -7,-1.5 -6.5,-0.4 -6.5,0.4 -7,1.5 -6.1,1.9 -9,4.2 -1.8,0.3 -3,-2 -3,-2.5 -5.3,-6 -5.1,-8 -4.3,-9.6 -2.8,-8 -2.3,-8.8 -1.7,-9.3 -1.2,-9.5 -0.5,-9.5 0,-10 0.7,-10.1 1.2,-9.5 1.8,-9 2.3,-8.6 2.9,-8 3.4,-7.5 3.8,-6.5 4.2,-5.5 4.6,-4.6z"/>
<path fill="#ac8c71" d="M53.8,15l5.4,-3.9 1,0.3 8,4 8.1,2.8 6.5,1.3 6.5,0.4 6.5,-0.6 7,-1.6 6.6,-2.3 9,-4.3 2.9,1.9 3,2.5 2.9,3.1 2.8,3.5 5,8 4.1,9 2.7,8 2.3,8.6 1.7,9.5 1.2,9.5 0.5,9.6 0,10 -0.7,10 -1.2,9.6 -1.8,9 -2.3,8.6 -3,8.4 -3.3,7.1 -3.8,6.5 -4.2,5.5 -4,4 -4.8,3.4 -9,-4.2 -6.6,-2.4 -7,-1.6 -7,-0.5 -7,0.5 -7,1.6 -6.6,2.4 -9,4.2 -2.9,-1.9 -3,-2.5 -2.9,-3 -2.8,-3.5 -5,-8 -4.1,-9.1 -2.7,-8 -2.3,-8.5 -1.7,-9.1 -1.1,-9.5 -0.6,-9.5 0,-10 0.6,-9.6 1.1,-9.5 1.7,-9 2.3,-8.6 2.7,-8 3.4,-7.5 3.6,-6.5 4,-5.5z"/>
<path fill="#af8d6f" d="M59.3,11.5l0.9,0 8,4.1 7.1,2.7 7,1.6 6.5,0.5 6.5,-0.5 7,-1.6 7.1,-2.7 8,-4.1 0.9,0 5.7,4.5 5.5,6.6 4.9,8 4,9 2.7,8 2.2,8.6 1.7,9 1.1,9.5 0.6,9.6 -0.1,10 -0.6,9.5 -1.2,9.6 -1.7,9 -2.3,8.5 -2.8,8 -3.1,7.1 -3.7,6.5 -4,5.5 -4.3,4.5 -4.6,3.5 -0.9,0.1 -8,-4.2 -7.1,-2.6 -7,-1.6 -6.5,-0.5 -6.5,0.5 -7,1.6 -7.1,2.6 -8,4.2 -0.9,-0.1 -5.7,-4.5 -5.5,-6.5 -4.9,-8 -4,-9.1 -2.7,-8 -2.2,-8.5 -1.7,-9.1 -1.1,-9.5 -0.6,-9.5 0.1,-10 0.6,-9.6 1.2,-9.5 1.7,-9 2.3,-8.6 2.8,-8 3.1,-7 3.7,-6.5 4,-5.5 4.3,-4.6z"/>
<path fill="#b38e6d" d="M55.1,15.5l5.1,-3.9 8.5,4.5 7.6,2.9 6.5,1.5 6.5,0.4 6.5,-0.6 7,-1.8 7.1,-2.9 7.5,-4 5.7,4.4 5.5,6.6 4.9,8 4.2,9.5 2.7,8 2.1,8.6 1.7,9 1.1,9.5 0.5,9.6 -0.1,9.5 -0.6,9.5 -1.2,9.6 -1.7,9 -2.3,8.5 -2.8,8 -3.1,7.1 -3.7,6.5 -4,5.5 -4.3,4.5 -4.6,3.5 -8,-4.3 -7.1,-2.8 -7,-1.7 -6.5,-0.5 -6.5,0.5 -7,1.7 -7.1,2.8 -8,4.3 -5.7,-4.5 -5.5,-6.5 -4.9,-8 -4.2,-9.6 -2.7,-8 -2.1,-8.5 -1.7,-9.1 -1,-9 -0.6,-9.5 0,-9.5 0.6,-9.6 1.2,-9.5 1.7,-9 2.2,-8.6 2.8,-8 3.1,-7 3.6,-6.5 3.9,-5.5z"/>
<path fill="#b68f6a" d="M60.4,12l1.3,0.4 8,4.4 6.1,2.4 6.5,1.7 6.5,0.5 6.5,-0.5 6.5,-1.7 6.1,-2.4 8,-4.4 1.3,-0.4 5.5,4.6 5.4,6.5 4.7,8 4.2,9.5 2.6,8.1 2.1,8.5 1.6,9 1.1,9.5 0.5,9.6 -0.1,9.5 -0.6,9.5 -1.2,9.1 -1.6,8.5 -2.2,8.5 -2.8,8 -3.1,7.1 -3.6,6.5 -3.9,5.5 -4.2,4.5 -4.4,3.5 -1.3,-0.3 -8,-4.5 -6.1,-2.4 -6.5,-1.6 -6.5,-0.6 -6.5,0.6 -6.5,1.6 -6.1,2.4 -8,4.5 -1.3,0.3 -5.5,-4.5 -5.4,-6.5 -4.7,-8 -4.2,-9.6 -2.6,-8 -2.1,-8.5 -1.6,-9.1 -1.1,-9.5 -0.5,-9.5 0.1,-9.5 0.6,-9.6 1.2,-9 1.6,-8.5 2.2,-8.6 2.8,-8 3.1,-7 3.6,-6.5 3.9,-5.5 4.2,-4.6z"/>
<path fill="#b99068" d="M60.5,12.5l1.2,0 7.5,4.3 7.1,3 6.5,1.7 6,0.5 6,-0.5 6.5,-1.7 7.1,-3 7.5,-4.3 1,-0.1 5.4,4.7 5.2,6.5 4.7,8 3.9,9 2.6,8.1 2.1,8.5 1.6,9 1.1,9 0.5,9.1 0,9.5 -0.6,9.5 -1.1,9 -1.7,9.1 -2.2,8.5 -2.7,8 -3,7 -3.6,6.6 -3.8,5.5 -4,4.5 -4.4,3.6 -1,0 -7.5,-4.4 -7.1,-3 -6.5,-1.6 -6,-0.5 -6,0.5 -6.5,1.6 -7.1,3 -7.5,4.4 -1,0 -5.4,-4.6 -5.2,-6.5 -4.7,-8 -3.9,-9.1 -2.6,-8 -2.1,-8.5 -1.6,-9.1 -1.1,-9 -0.5,-9 0,-9.5 0.6,-9.6 1.1,-9 1.6,-8.5 2.1,-8.6 2.7,-8 3,-7 3.5,-6.5 3.7,-5.5 4.4,-5.1z"/>
<path fill="#bc9166" d="M61.4,12.5l8.3,4.9 6.6,2.8 6.5,1.8 6,0.5 6,-0.5 6.5,-1.8 6.6,-2.8 8.3,-4.9 5.6,5.1 5.1,6.5 4.6,8 4,9.5 2.5,7.7 2,8.4 1.6,9 1,9 0.5,9.1 -0.1,9.5 -0.6,9.5 -1.1,9 -1.6,8.6 -2.2,8.5 -2.7,8 -3,7 -3.6,6.6 -3.8,5.5 -4,4.5 -4.2,3.5 -8.3,-4.8 -6.6,-2.9 -6.5,-1.8 -6,-0.5 -6,0.5 -6.5,1.8 -6.6,2.9 -8.3,4.8 -5.6,-5 -5.1,-6.5 -4.6,-8 -4,-9.6 -2.5,-7.6 -2,-8.4 -1.6,-9.1 -1,-9 -0.5,-9 0.1,-9.5 0.6,-9.6 1.1,-9 1.6,-8.5 2.2,-8.6 2.7,-8 3,-7 3.6,-6.5 3.8,-5.5 4,-4.6z"/>
<path fill="#bf9264" d="M61.7,13l1.5,0.5 8,4.9 5.6,2.5 6,1.6 6,0.6 6,-0.6 6,-1.6 5.6,-2.5 8,-4.9 1.5,-0.5 5.5,5.1 4.9,6.5 4.5,8 3.8,9 2.4,7.6 2.1,8.5 1.6,9 1,9 0.4,9.1 0,9.5 -0.6,9 -1.1,9 -1.5,8.6 -2.2,8.5 -2.5,7.5 -2.9,7 -3.4,6.6 -3.7,5.5 -3.8,4.5 -4.5,4 -1.5,-0.4 -8,-5 -5.6,-2.4 -6,-1.7 -6,-0.5 -6,0.5 -6,1.7 -5.6,2.4 -8,5 -1.5,0.4 -5.5,-5 -4.9,-6.5 -4.5,-8.1 -3.8,-9 -2.4,-7.5 -2.1,-8.5 -1.6,-9.1 -1,-9 -0.4,-9 0,-9.5 0.6,-9.1 1.1,-9 1.5,-8.5 2.2,-8.6 2.5,-7.5 2.9,-7 3.4,-6.5 3.7,-5.5 3.8,-4.5z"/>
<path fill="#c39362" d="M57.6,17.6l4.6,-4.3 1.5,0.6 7,4.5 6.6,3.1 6,1.7 5.5,0.5 6,-0.6 6,-1.8 5.6,-2.6 7.5,-4.8 1.5,-0.6 5.5,5.3 4.8,6.5 4.5,8 3.7,9 2.5,8.1 1.9,8 1.4,8.5 1,9 0.5,9.1 0,9.5 -0.6,9 -1.1,9 -1.6,8.6 -2.1,8.5 -2.5,7.5 -2.9,7 -3.4,6.6 -3.7,5.5 -3.8,4.5 -4.1,3.7 -1.5,-0.5 -7.5,-4.9 -5.6,-2.6 -6,-1.7 -6,-0.6 -6,0.6 -6,1.7 -5.6,2.6 -7.5,4.9 -1.5,0.5 -5.5,-5.2 -4.8,-6.5 -4.5,-8.1 -3.7,-9 -2.5,-8 -1.9,-8 -1.4,-8.6 -1,-9 -0.5,-9 0,-9 0.5,-9.1 1.1,-9 1.5,-8.5 2.1,-8.5 2.5,-7.6 2.9,-7 3.3,-6.5 3.6,-5.5z"/>
<path fill="#c69460" d="M58.1,18.1l4.6,-4.4 1,0.2 7.5,5.1 6.6,3.1 5.5,1.6 5.5,0.6 6,-0.7 6,-1.9 5.6,-2.7 7.5,-5.1 1,-0.2 5,4.9 4.9,6.5 4.4,8 3.7,9 2.5,8.1 1.9,8 1.5,8.5 1,9 0.5,9.1 0,9 -0.6,9 -1,9 -1.6,8.6 -2.1,8.5 -2.4,7.5 -2.9,7 -3.4,6.6 -3.6,5.5 -3.7,4.5 -4.1,3.9 -1,-0.3 -7.5,-5.1 -5.6,-2.7 -6,-1.9 -6,-0.6 -6,0.6 -6,1.9 -5.6,2.7 -7.5,5.1 -1,0.3 -5,-4.9 -4.9,-6.5 -4.4,-8.1 -3.7,-9 -2.4,-7.5 -1.9,-8 -1.5,-8.6 -1.1,-9 -0.5,-9 0,-9 0.5,-9.1 1.1,-9 1.5,-8.5 1.9,-8 2.6,-8.1 2.8,-7 3.3,-6.5 3.5,-5.5z"/>
<path fill="#c9955d" d="M63.2,14l0.5,0 8,5.6 5.6,2.8 6,1.9 5.5,0.6 5.5,-0.6 6,-1.9 5.6,-2.8 8,-5.6 0.5,0 5.4,5.6 4.7,6.5 4.2,8 3.6,9 2.3,7.6 1.9,8 1.4,8.5 1,9 0.5,9.1 -0.1,9 -0.6,9 -1,8.5 -1.5,8.6 -2,8 -2.4,7.5 -2.8,7 -3.3,6.6 -3.5,5.5 -3.7,4.5 -4.1,4 -0.5,0 -8,-5.6 -5.6,-2.8 -6,-1.8 -5.5,-0.6 -5.5,0.6 -6,1.8 -5.6,2.8 -8,5.6 -0.5,0 -5.4,-5.5 -4.7,-6.5 -4.2,-8.1 -3.6,-9 -2.3,-7.5 -1.9,-8 -1.4,-8.6 -1,-9 -0.5,-9 0.1,-9 0.6,-9.1 1,-8.5 1.5,-8.5 2,-8 2.4,-7.6 2.8,-7 3.3,-6.5 3.5,-5.5 3.7,-4.5z"/>
<path fill="#cc965b" d="M63.6,14.5l0.6,0 7,5.1 6.1,3.3 6,2 5.5,0.6 5.5,-0.6 6,-2 5.6,-3 7.5,-5.4 0.5,-0.1 5,5.2 4.9,7 4.2,8 3.5,9 2.4,8.1 1.8,8 1.4,8.5 0.9,8.5 0.4,8.6 -0.1,9 -0.5,9 -1,8.5 -1.5,8.1 -1.9,8 -2.4,7.5 -2.8,7 -3.2,6.6 -3.4,5.5 -3.6,4.5 -4.1,4.1 -0.5,0 -7.5,-5.5 -5.6,-2.9 -6,-2 -5.5,-0.6 -5.5,0.6 -6,2 -5.6,2.9 -7.5,5.5 -0.5,0 -5,-5.1 -4.9,-7 -4.2,-8.1 -3.5,-9 -2.3,-7.5 -1.8,-8 -1.4,-8.6 -1,-8.5 -0.4,-8.5 0,-9 0.6,-9.1 1,-8.5 1.5,-8.5 1.9,-8 2.4,-7.6 2.8,-7 3.2,-6.5 3.4,-5.5 3.6,-4.5z"/>
<path fill="#cf9759" d="M60.1,19.1l4.1,-4.3 0.5,0.2 7,5.2 6.1,3.3 5.5,1.9 5.5,0.7 5.5,-0.7 6,-2.1 5.1,-2.8 8,-5.7 5,5.3 4.5,6.5 4.2,8 3.5,9 2.2,7.6 1.9,8 1.4,8.5 0.9,8.5 0.4,8.6 0,9 -0.5,9 -1,8.5 -1.4,8.1 -1.9,8 -2.4,7.5 -2.7,7 -3.2,6.6 -3.3,5.5 -3.9,5 -3.7,3.7 -8,-5.7 -5.1,-2.8 -6,-2.1 -5.5,-0.6 -5.5,0.6 -6,2.1 -5.1,2.8 -8,5.7 -5,-5.2 -4.5,-6.5 -4.2,-8.1 -3.5,-9 -2.2,-7.5 -1.9,-8 -1.4,-8.6 -0.9,-8.5 -0.4,-8.5 0,-9 0.5,-8.6 1,-8.5 1.3,-8 1.9,-8 2.3,-7.6 2.7,-7 3.1,-6.5 3.3,-5.5z"/>
<path fill="#d39957" d="M60.6,19.6l4.1,-4.4 0.5,0.3 7,5.3 6.1,3.4 5.5,1.9 5,0.6 5.5,-0.7 5.5,-2 5.6,-3.2 7.5,-5.6 4.9,5.4 4.4,6.5 4.1,8 3.5,9 2.2,7.6 1.8,8 1.3,8 0.9,8.5 0.5,8.6 -0.1,9 -0.4,8.5 -1,8.5 -1.4,8.1 -1.9,8 -2.2,7.5 -2.7,7 -3.2,6.6 -3.3,5.5 -3.7,5 -3.7,3.8 -7.5,-5.6 -5.6,-3.2 -5.5,-2 -5.5,-0.6 -5.5,0.6 -5.5,2 -5.6,3.2 -7.5,5.6 -4.9,-5.3 -4.4,-6.5 -4.1,-8.1 -3.5,-9 -2.2,-7.5 -1.8,-8 -1.3,-8.1 -0.9,-8.5 -0.5,-8.5 0.1,-9 0.4,-8.6 1,-8.5 1.4,-8 1.9,-8 2.2,-7.6 2.5,-6.5 3.1,-6.5 3.2,-5.5z"/>
<path fill="#d69a55" d="M61.2,20.1l4,-4.4 0.5,0.3 7,5.5 6.1,3.5 5,1.7 5,0.6 5.5,-0.7 5.5,-2.1 5.1,-3 7.5,-5.8 4.8,5.4 4.6,7 4,8 3.2,8.5 2.2,7.6 1.7,8 1.3,8 0.9,8.5 0.4,8.6 0,8.5 -0.5,8.5 -1,8.5 -1.3,8.1 -1.9,8 -2.3,7.5 -2.5,6.5 -3.1,6.6 -3.2,5.5 -3.7,5 -3.6,3.9 -7.5,-5.8 -5.1,-3 -5.5,-2.1 -5.5,-0.8 -5.5,0.8 -5.5,2.1 -5.1,3 -7.5,5.8 -4.8,-5.4 -4.6,-7 -4,-8.1 -3.2,-8.5 -2.2,-7.5 -1.7,-7.5 -1.3,-8.1 -0.9,-8.5 -0.4,-8.5 0,-8.5 0.5,-8.6 0.9,-8.5 1.3,-8 1.9,-8 2.1,-7.1 2.6,-7 3,-6.5 3.2,-5.5z"/>
<path fill="#d99b53" d="M61.7,20.6l4,-4.5 7.5,6 5.6,3.4 5,1.8 5,0.7 5,-0.7 5.5,-2.1 5.1,-3.1 7.5,-6 4.7,5.5 4.6,7 3.8,8 3.2,8.5 2.1,7.6 1.7,7.5 1.3,8 0.8,8.5 0.5,8.6 -0.1,8.5 -0.5,8.5 -0.9,8.5 -1.4,8.1 -1.8,7.5 -2,7 -2.6,7 -3.1,6.6 -3.1,5.5 -3.6,5 -3.6,3.9 -7.5,-6 -5.1,-3.1 -5.5,-2.1 -5,-0.6 -5,0.6 -5.5,2.1 -5.1,3.1 -7.5,6 -4.7,-5.4 -4.6,-7 -3.8,-8.1 -3.2,-8.5 -2.1,-7.5 -1.7,-7.5 -1.3,-8.1 -0.8,-8.5 -0.5,-8.5 0.1,-8.5 0.5,-8.6 0.9,-8 1.3,-8 1.7,-7.5 2.2,-7.4 2.4,-6.7 3,-6.5 3.1,-5.5z"/>
<path fill="#dc9c50" d="M62.3,21.1l3.9,-4.5 7.5,6.2 5.6,3.4 5,1.9 4.5,0.5 5,-0.7 5.5,-2.2 5.1,-3.3 7,-5.8 4.6,5.5 4.5,7 3.8,8 3.1,8.5 2.1,7.6 1.6,7.5 1.3,8 0.8,8 0.4,8.6 -0.1,8.5 -0.4,8.5 -0.9,8 -1.4,8.1 -1.7,7.5 -2.2,7.4 -2.4,6.6 -3,6.6 -3.1,5.5 -3.5,5 -3.5,4 -7,-5.9 -5.1,-3.3 -5.5,-2.2 -5,-0.7 -5,0.7 -5.5,2.2 -5.1,3.3 -7,5.9 -4.6,-5.5 -4.5,-7 -3.8,-8.1 -3.1,-8.5 -2.1,-7.5 -1.6,-7.5 -1.3,-8.1 -0.8,-8 -0.4,-8 0,-8.5 0.5,-8.6 0.9,-8 1.3,-8 1.7,-7.5 2,-7.1 2.5,-7 2.9,-6.5 3.1,-5.5z"/>
<path fill="#e09d4e" d="M66.7,17.1l7,6 5.1,3.4 5,2 5,0.8 5,-0.8 5,-2 5.1,-3.4 7,-6 4.5,5.5 4.4,7 3.7,8 3.2,9 2.1,7.6 1.5,7.5 1.2,8 0.8,8 0.3,8.1 0,8.5 -0.5,8 -0.9,8 -1.4,8.1 -1.7,7.5 -2,7 -2.4,6.5 -2.9,6.6 -3.1,5.5 -3.4,5 -3.4,4 -7,-6.1 -5.1,-3.3 -5,-2.1 -5,-0.7 -5,0.7 -5,2.1 -5.1,3.3 -7,6.1 -4.5,-5.5 -4.4,-7 -3.7,-8.1 -3.2,-9 -2.1,-7.5 -1.5,-7.5 -1.2,-8.1 -0.8,-8 -0.3,-8 0,-8.5 0.5,-8.1 0.9,-8 1.4,-8 1.7,-7.5 2,-7.1 2.4,-6.5 2.9,-6.5 3.1,-5.5 3.4,-5z"/>
<path fill="#e39e4c" d="M67.2,17.6l6.5,5.9 5.1,3.5 5,2.2 5,0.7 5,-0.7 5,-2.2 5.1,-3.5 6.5,-5.9 4.4,5.5 4.3,7 3.7,8 3.1,9 1.9,7.1 1.5,7.5 1.2,8 0.8,8 0.3,8.1 0,8.5 -0.5,8 -0.9,8 -1.3,8.1 -1.7,7.5 -2.1,7 -2.3,6.5 -2.7,6.1 -3,5.5 -3.4,5 -3.3,4 -6.5,-5.9 -5.1,-3.5 -5,-2.2 -5,-0.8 -5,0.8 -5,2.2 -5.1,3.5 -6.5,5.9 -4.4,-5.5 -4.3,-7 -3.7,-8.1 -3.1,-9 -1.9,-7 -1.5,-7.5 -1.2,-8.1 -0.8,-8 -0.3,-8 0,-8.5 0.5,-8.1 0.9,-8 1.3,-8 1.7,-7.5 2.1,-7.1 2.3,-6.5 2.7,-6 3,-5.5 3.4,-5z"/>
<path fill="#e69f4a" d="M63.8,23.1l3.9,-5 7.1,6.5 5,3.4 4.5,1.9 4.5,0.7 4.5,-0.7 5,-2.1 5,-3.6 6.6,-6.1 4.3,5.5 4.1,7 3.7,8 2.9,8.5 1.9,7.1 1.6,7.5 1.2,8 0.7,8 0.4,8.1 -0.1,8 -0.4,8 -0.9,8 -1.2,7.6 -1.7,7.5 -1.9,7 -2.3,6.5 -2.6,6 -2.9,5.6 -3.2,5 -3.6,4.5 -6.6,-6.1 -5,-3.6 -5,-2.2 -4.5,-0.6 -4.5,0.6 -5,2.2 -5,3.6 -6.6,6.1 -4.3,-5.5 -4.1,-7 -3.7,-8.1 -2.9,-8.5 -1.9,-7 -1.6,-7.5 -1.1,-7.6 -0.8,-8 -0.4,-8 0.1,-8 0.4,-8.1 0.8,-8 1.2,-7.5 1.6,-7.5 2,-7.1 2.2,-6.5 2.6,-6 2.8,-5.5z"/>
<path fill="#e9a048" d="M64.4,23.6l3.8,-5 0.5,0.4 6.1,5.9 5,3.7 4.5,2 4.5,0.7 4.5,-0.7 5,-2.3 5,-3.8 6.1,-5.9 4.1,5.5 4.1,7 3.6,8 2.9,8.5 1.8,7.1 1.6,7.5 1.1,7.5 0.7,8 0.4,8.1 -0.1,8 -1.2,15.5 -1.2,7.6 -1.6,7.5 -2,7 -2.2,6.5 -2.6,6 -2.8,5.6 -3.2,5 -3.4,4.4 -6.1,-5.8 -5,-3.8 -5,-2.3 -4.5,-0.7 -4.5,0.7 -5,2.3 -5,3.8 -6.1,5.8 -4.1,-5.4 -4.1,-7 -3.6,-8.1 -2.9,-8.5 -1.8,-7 -1.5,-7 -1.1,-7.6 -0.8,-8 -0.4,-8 0,-8 1.2,-15.6 1.2,-7.5 1.6,-7.5 1.9,-7.1 2.2,-6.5 2.5,-6 2.8,-5.5z"/>
<path fill="#eaa34b" d="M69,19.6l0.3,0 0.1,0.5 5.9,5.8 4.5,3.5 4.5,2.2 4.5,0.8 4.5,-0.8 4.5,-2.2 4.5,-3.5 5.9,-5.8 0.1,-0.5 0.3,0 4.4,6 3.6,6.5 3.4,8 2.9,8.6 1.7,7 1.5,7.5 1.7,15 0.3,15.6 -1.2,15.5 -2.7,14.6 -1.9,7 -2.3,6.5 -2.5,6 -2.8,5.6 -3,5 -3.1,4 -0.3,0 -0.1,-0.5 -5.9,-5.8 -4.5,-3.6 -4.5,-2.2 -4.5,-0.7 -4.5,0.7 -4.5,2.2 -4.5,3.6 -5.9,5.8 -0.1,0.5 -0.3,0 -4.4,-6 -3.6,-6.5 -3.4,-8.1 -2.9,-8.5 -1.7,-7 -1.5,-7.5 -1.7,-15.1 -0.3,-15.5 1.2,-15.6 2.7,-14.5 1.9,-7.1 2.3,-6.5 2.5,-6 2.8,-5.5 3,-5z"/>
<path fill="#eba54e" d="M69.7,21.1l0.5,-0.1 0.5,0.4 5.1,5.6 4.5,3.8 4.5,2.3 4,0.7 4,-0.7 4.5,-2.3 4.5,-3.8 5.1,-5.6 0.5,-0.4 0.5,0.1 4,6 3.4,6.5 3.1,7.5 2.6,8.1 3.1,14 1.7,14.5 0.4,15.1 -1.1,15 -2.5,14.6 -3.8,13 -2.3,6 -2.6,5.6 -2.9,5 -3.1,4.5 -0.5,0 -0.5,-0.4 -5.1,-5.6 -4.5,-3.8 -4.5,-2.3 -4,-0.7 -4,0.7 -4.5,2.3 -4.5,3.8 -5.1,5.6 -0.5,0.4 -0.5,0 -4,-6 -3.4,-6.6 -3.1,-7.5 -2.6,-8 -3.1,-14 -1.7,-14.6 -0.4,-15 1.1,-15.1 2.5,-14.5 3.8,-13.1 2.3,-6 2.6,-5.5 2.9,-5z"/>
<path fill="#eca851" d="M70.6,22.6l0.6,-0.2 5.6,6.3 4.5,3.9 4,2.1 3.5,0.6 4,-0.8 4,-2.2 4,-3.6 4.6,-5.3 1,-1 0.5,-0.1 3.6,5.8 3.3,6.5 3,7.5 2.5,8.1 3,13.5 1.6,14.5 0.3,14.6 -1,14.5 -2.4,14.1 -3.6,13 -2.3,6 -2.5,5.6 -2.8,5 -2.7,4.2 -0.5,-0.1 -1,-0.9 -4.6,-5.4 -4,-3.5 -4,-2.2 -4,-0.8 -4,0.8 -4,2.2 -4,3.5 -4.6,5.4 -1,0.9 -0.5,0.1 -3.6,-5.7 -3.3,-6.6 -3,-7.5 -2.5,-8 -3,-13.5 -1.6,-14.6 -0.3,-14.5 1,-14.6 2.4,-14 3.4,-12.6 2.3,-6 2.5,-5.5 2.7,-5z"/>
<path fill="#edaa54" d="M71.8,23.6l0.5,0 0.1,0.5 5.4,6.4 3.5,3.3 4,2.3 3.5,0.7 3.5,-0.7 4,-2.3 3.5,-3.3 5.4,-6.4 0.1,-0.5 0.5,0 3.6,6 3.1,6.5 2.9,7.5 2.4,8.1 2.7,13 1.5,14 0.2,14.6 -1,14 -2.2,13.6 -3.4,12.5 -4.4,11 -2.6,5.1 -2.8,4.5 -0.5,0 -0.1,-0.5 -5.4,-6.5 -3.5,-3.2 -4,-2.3 -3.5,-0.7 -3.5,0.7 -4,2.3 -3.5,3.2 -5.4,6.5 -0.1,0.5 -0.5,0 -3.6,-6 -3.1,-6.6 -2.9,-7.5 -2.4,-8 -2.7,-13.1 -1.5,-14 -0.2,-14.5 1,-14.1 2.2,-13.5 3.4,-12.6 4.4,-11 2.6,-5z"/>
<path fill="#eead57" d="M72.8,25.1l0.5,0 0.1,0.5 4.4,5.6 4,4.1 3.5,2.2 3.5,0.8 3.5,-0.8 3.5,-2.2 4,-4.1 4.4,-5.6 0.1,-0.5 0.5,0 3.5,6 2.9,6.5 2.6,7 2.3,8.1 2.6,13 1.4,13.5 0.2,14.1 -1,13.5 -2,13.1 -3.2,12 -4.2,11 -5.1,9.6 -0.5,0 -0.1,-0.5 -4.4,-5.7 -4,-4.1 -3.5,-2.2 -3.5,-0.7 -3.5,0.7 -3.5,2.2 -4,4.1 -4.4,5.7 -0.1,0.5 -0.5,0 -3.5,-6 -2.9,-6.6 -2.6,-7 -2.3,-8 -2.6,-13.1 -1.4,-13.5 -0.2,-14 1,-13.6 2,-13 3.2,-12.1 4.2,-11z"/>
<path fill="#efaf5a" d="M73.7,26.6l1.2,1 4.4,6.2 3,3.1 3.5,2.3 3,0.6 3,-0.6 3.5,-2.3 3,-3.1 4.4,-6.2 1.2,-1 3.2,6 2.8,6.5 2.5,7 2,7.6 2.5,12.5 1.3,13 0.2,13.6 -0.9,13 -1.9,13.1 -3.1,12 -3.8,10.5 -4.8,9.6 -1.2,-1 -4.4,-6.2 -3,-3.2 -3.5,-2.2 -3,-0.7 -3,0.7 -3.5,2.2 -3,3.2 -4.4,6.2 -1.2,1 -3.2,-6.1 -2.8,-6.5 -2.5,-7 -2,-7.5 -2.5,-12.6 -1.3,-13 -0.2,-13.5 0.9,-13.1 1.9,-13 3.1,-12.1 3.8,-10.5z"/>
<path fill="#f0b25d" d="M74.8,28.1l5,7.1 3,3.4 3,2.1 3,0.7 3,-0.7 3,-2.1 3,-3.4 5,-7.1 2.9,5.5 2.7,6.5 2.4,7 2,7.6 2.2,12 1.3,13 0.2,13.1 -0.8,12.5 -1.8,12.6 -2.8,11.5 -3.7,10.5 -4.6,9.6 -5,-7.2 -3,-3.3 -3,-2.1 -3,-0.8 -3,0.8 -3,2.1 -3,3.3 -5,7.2 -2.9,-5.6 -2.7,-6.5 -2.4,-7 -2,-7.5 -2.2,-12.1 -1.3,-13 -0.2,-13 0.8,-12.6 1.8,-12.5 2.8,-11.6 3.7,-10.5z"/>
<path fill="#f1b560" d="M71.4,39.1l4.4,-9.5 4.5,7.1 3,3.6 3,2.1 2.5,0.6 3,-0.8 3,-2.4 3,-3.8 4,-6.4 2.7,5.5 2.6,6.5 2.3,7.1 1.8,7 2.1,11.5 1.2,12.5 0.2,12.6 -0.8,12.5 -1.7,12.1 -2.7,11.5 -3.5,10.5 -4.2,9 -4,-6.3 -3,-3.8 -3,-2.4 -3,-0.9 -3,0.9 -3,2.4 -3,3.8 -4,6.3 -2.7,-5.5 -2.6,-6.5 -2.3,-7 -1.8,-7 -2.1,-11.6 -1.2,-12.5 -0.2,-12.5 0.7,-12.1 1.7,-12 2.6,-11.5z"/>
<path fill="#f1b763" d="M76.6,31.6l4.2,6.6 2.5,3.3 3,2.5 2.5,0.7 2.5,-0.7 3,-2.5 2.5,-3.3 4.2,-6.6 2.6,5.5 2.4,6.5 2,6.6 1.7,7 1.9,11.5 1.1,11.5 0.2,12.1 -0.8,12 -1.5,11.6 -2.5,11 -3.2,10 -3.9,9.1 -4.2,-6.7 -2.5,-3.3 -3,-2.4 -2.5,-0.7 -2.5,0.7 -3,2.4 -2.5,3.3 -4.2,6.7 -2.6,-5.6 -2.4,-6.5 -2,-6.5 -1.7,-7 -1.9,-11.6 -1.1,-11.5 -0.2,-12 0.8,-12.1 1.5,-11.5 2.5,-11 3.2,-10.1z"/>
<path fill="#f2ba66" d="M77.4,33.6l0.4,-0.1 3.5,6.3 2.5,3.5 2.5,2.3 2.5,0.7 2.5,-0.7 2.5,-2.3 2.5,-3.5 3.5,-6.3 0.4,0.1 4.5,11.5 3.3,12.6 1.8,10.5 1.1,11.5 0.2,11.6 -0.6,11.5 -1.4,11.1 -2.2,11 -3,10 -3.7,9 -0.4,0.1 -3.5,-6.3 -2.5,-3.5 -2.5,-2.2 -2.5,-0.8 -2.5,0.8 -2.5,2.2 -2.5,3.5 -3.5,6.3 -0.4,-0.1 -4.5,-11.5 -3.3,-12.5 -1.8,-10.6 -1.1,-11.5 -0.2,-11.5 0.6,-11.6 1.4,-11 2.2,-11 3,-10.1z"/>
<path fill="#f3bc69" d="M78.2,35.6l0.6,0 3,5.8 2.5,3.8 2.5,2.2 2,0.6 2,-0.6 2.5,-2.2 2.5,-3.8 3,-5.8 0.5,-0.1 4.1,11.1 3.2,12.6 1.6,10.5 1,11.1 0.1,11 -0.5,11 -1.3,10.6 -2.1,10.5 -2.8,9.5 -3.3,8.7 -0.5,-0.2 -3,-5.8 -2.5,-3.7 -2.5,-2.3 -2,-0.6 -2,0.6 -2.5,2.3 -2.5,3.7 -3,5.8 -0.5,0.2 -4.1,-11.2 -3.2,-12.5 -1.6,-10.6 -1,-11 -0.1,-11 0.5,-11.1 1.3,-10.5 2,-10 2.7,-9.6z"/>
<path fill="#f4bf6c" d="M79.3,37.1l3.5,6.9 2,3.1 2,2 2,0.6 2,-0.6 2,-2 2,-3.1 3.5,-6.9 3.9,11 3,12.6 1.5,10 0.8,10.6 0.2,10.5 -0.6,10.5 -1.2,10 -1.9,10.1 -2.6,9.5 -3.1,8.5 -3.5,-6.9 -2,-3.1 -2,-1.9 -2,-0.7 -2,0.7 -2,1.9 -2,3.1 -3.5,6.9 -3.9,-11 -3,-12.5 -1.5,-10.1 -0.8,-10.5 -0.2,-10.5 0.6,-10.6 1.2,-10 1.9,-10 2.6,-9.6z"/>
<path fill="#f5c16f" d="M80.1,39.1l2.7,5.8 2,3.5 2,2.3 2,0.8 2,-0.8 2,-2.3 2,-3.5 2.7,-5.8 3.5,10.6 2.8,12.5 1.3,9.5 0.8,10.1 0.1,10 -0.5,10 -1.1,10 -1.8,9.6 -2.3,9 -2.8,8 -2.7,-5.7 -2,-3.5 -2,-2.3 -2,-0.8 -2,0.8 -2,2.3 -2,3.5 -2.7,5.7 -3.5,-10.5 -2.8,-12.5 -1.3,-9.6 -0.8,-10 -0.1,-10 0.5,-10.1 1.1,-10 1.8,-9.5 2.3,-9.1z"/>
<path fill="#f6c472" d="M80.7,41.6l0.6,0.3 2,4.8 2,3.7 2,2.3 1.5,0.5 1.5,-0.5 2,-2.3 2,-3.7 1.9,-4.6 0.6,-0.6 3.1,10.2 2.4,11 1.3,9.5 0.7,9.6 0.1,9.5 -0.4,9.5 -1,9.5 -1.6,9.1 -2,8.5 -2.6,8.1 -0.6,-0.6 -1.9,-4.5 -2,-3.8 -2,-2.2 -1.5,-0.6 -1.5,0.6 -2,2.2 -2,3.8 -1.9,4.5 -0.6,0.6 -3.1,-10.1 -2.4,-11 -1.3,-9.6 -0.7,-9.5 -0.1,-9.5 0.4,-9.6 1,-9.5 1.6,-9 2,-8.5z"/>
<path fill="#f7c675" d="M79.2,51.7l2.6,-8.1 2.5,6.1 1.5,2.8 1.5,1.9 1.5,0.6 1.5,-0.6 1.5,-1.9 1.5,-2.8 2.5,-6.1 0.2,0 2.9,10.1 2.2,11 1.1,9 0.6,9.1 0.1,9 -0.4,9 -1,9 -1.5,9.1 -2.1,9 -2.1,6.1 -2.5,-6.2 -1.5,-2.8 -1.5,-1.8 -1.5,-0.6 -1.5,0.6 -1.5,1.8 -1.5,2.8 -2.5,6.2 -0.2,-0.1 -2.9,-10 -2.2,-11.1 -1.1,-8.5 -0.6,-9 -0.1,-9 0.4,-9.1 0.9,-9 1.4,-8.5z"/>
<path fill="#f8c978" d="M82.2,46.1l0.7,0.5 1.9,5.2 1.5,2.9 1.5,1.8 1,0.3 1,-0.3 1.5,-1.8 1.5,-2.9 1.9,-5.2 0.6,-0.6 2.5,9.2 1.9,10 1.1,8.5 0.5,8.6 0.2,8.5 -0.4,8.5 -0.8,8.5 -1.2,8.1 -1.6,8 -2.2,7.7 -0.6,-0.7 -1.9,-5.1 -1.5,-3 -1.5,-1.7 -1,-0.3 -1,0.3 -1.5,1.7 -1.5,3 -1.9,5.1 -0.6,0.7 -2.5,-9.2 -1.9,-10.1 -1.1,-8.5 -0.5,-8.5 -0.2,-8.5 0.4,-8.6 0.8,-8.5 1.2,-8 1.6,-8z"/>
<path fill="#f8cb7b" d="M83,48.1l0.3,0 0.1,1.1 2.9,6.9 1.5,2.1 1,0.4 1,-0.4 1.5,-2.1 2.9,-6.9 0.1,-1.1 0.3,0 2.4,9.6 1.6,9.5 0.9,8 0.5,8.1 0.1,8.5 -0.4,8 -0.7,8 -1.3,8.6 -2,9 -1.1,4 -0.3,0.1 -0.1,-1.1 -2.9,-7 -1.5,-2 -1,-0.4 -1,0.4 -1.5,2 -2.9,7 -0.1,1 -0.3,0 -2.4,-9.5 -1.6,-9.6 -0.9,-8 -0.5,-8 -0.1,-8 0.4,-8.1 0.7,-8 1.1,-7.5 1.5,-7.5z"/>
<path fill="#f9cd7f" d="M83.7,50.2l3.1,8.2 1,1.4 1,0.5 1,-0.5 1,-1.4 3.1,-8.2 2.1,9 1.5,9 1.2,15.1 -0.2,15.5 -0.7,8 -1.1,7.6 -1.4,7.5 -1.5,5.5 -0.1,-1 -0.5,-0.5 -0.2,-1 -2.2,-5.7 -1,-1.5 -1,-0.5 -1,0.5 -1,1.5 -3.1,8.2 -2.1,-9 -1.5,-9.1 -1.2,-15 0.2,-15.1 1.6,-15z"/>
<path fill="#f9cf82" d="M84.2,52.7l0.7,1 0.3,1.5 1.6,4.5 1,1.8 1,0.6 1,-0.6 1,-1.8 2.5,-7.2 1.8,8.2 1.3,8.5 1.1,14.1 -0.1,14.5 -1.5,14 -2.6,13.3 -2.5,-7.3 -1,-1.7 -1,-0.6 -1,0.6 -1,1.7 -2.5,7.3 -1.8,-8.2 -1.3,-8.6 -1.1,-14 0.1,-14.1 1.4,-14z"/>
<path fill="#fad185" d="M84.8,55.2l0.6,1 1.9,6 1,1.5 0.5,0.2 0.5,-0.2 1,-1.5 1.9,-6 0.6,-1.1 1.4,7.1 1.2,8 1,13.1 -0.1,13.5 -1.2,13 -2.3,12.6 -0.6,-1 -1.9,-6 -1,-1.5 -0.5,-0.2 -0.5,0.2 -1,1.5 -1.9,6 -0.6,1 -1.4,-7 -1.2,-8.1 -1,-13 0.1,-13.5 1.2,-13.1z"/>
<path fill="#fad389" d="M83.3,69.7l2,-12 0.6,0.5 0.2,1.5 1.2,3.9 1,1.8 0.5,0.3 1,-1 1.7,-5 0.2,-1.5 0.6,-0.5 2.1,13 0.9,12.6 0,12.5 -1.1,12.5 -1.9,11.5 -0.6,-0.4 -0.2,-1.5 -1.7,-5 -1,-1 -1,1 -1.7,5 -0.2,1.5 -0.6,0.4 -2.1,-13 -0.9,-12 0,-12.5z"/>
<path fill="#fad58c" d="M85.8,60.2l0.5,0.5 1.5,5.5 1,1.3 1,-1.3 1.5,-5.5 0.5,-0.5 1.8,12 0.7,11.6 0,11.5 -0.8,11 -1.7,11.1 -0.5,-0.5 -1.5,-5.6 -1,-1.2 -1,1.2 -1.5,5.6 -0.5,0.5 -1.8,-12.1 -0.7,-11.5 0,-11.5 0.8,-11.1z"/>
<path fill="#fbd790" d="M84.9,72.7l1.4,-10.2 0.1,0.7 0.5,0.5 0.9,4 0.5,1.2 0.5,0.4 0.5,-0.4 0.5,-1.2 0.9,-4 0.5,-0.5 0.1,-0.7 1.5,10.7 0.6,10.6 0,10.5 -0.7,10.5 -1.4,10.3 -0.1,-0.7 -0.5,-0.5 -0.9,-4 -0.5,-1.2 -0.5,-0.4 -0.5,0.4 -0.5,1.2 -0.9,4 -0.5,0.5 -0.1,0.7 -1.5,-10.8 -0.6,-10.5 0,-10.5z"/>
<path fill="#fbd993" d="M86.8,64.7l1.5,5.8 0.5,0.6 0.5,-0.6 0.5,-1.5 1,-4.5 1.3,10.7 0.5,9.6 0,9.5 -0.6,9.5 -1.2,9.2 -1,-4.4 -0.5,-1.6 -0.5,-0.5 -0.5,0.5 -0.5,1.6 -1,4.4 -1.3,-10.7 -0.5,-9.5 0,-9.5 0.6,-9.1z"/>
<path fill="#fcdb97" d="M87.2,67.2l1.1,5 0.5,0.7 0.5,-0.7 1.1,-5 1.1,10 0.4,9.1 -0.1,8.5 -0.6,9.5 -0.9,6.1 -0.3,-2.6 -0.7,-2.4 -0.5,-0.8 -0.5,0.8 -1.1,4.9 -1.1,-10 -0.4,-8.5 0.1,-8 0.4,-8.1z"/>
<path fill="#fcde9a" d="M87.8,70.7l0.5,3 0.5,1.1 0.5,-1.1 0.5,-3 0.5,0.5 0.7,8.5 0.1,16.1 -0.8,10.5 -0.5,0.5 -0.5,-2.9 -0.5,-1.1 -0.5,1.1 -0.5,2.9 -0.5,-0.5 -0.7,-8.5 -0.1,-16 0.8,-10.6z"/>
<path fill="#fde09d" d="M87.8,72.7l1,3.9 0.8,-2.4 0.2,-1.7 0.5,6.7 0.3,13.1 -0.8,12.7 -0.2,-1.7 -0.8,-2.4 -0.8,2.4 -0.2,1.7 -0.5,-6.7 -0.3,-13z"/>
<path fill="#fde2a1" d="M88,76.2l0.3,-0.4 0.5,2.7 0.5,-2.7 0.3,0.4 0.3,4.6 0.2,12.5 -0.5,8 -0.3,0.4 -0.5,-2.6 -0.5,2.6 -0.3,-0.4 -0.3,-4.5 -0.2,-10.5z"/>
<path fill="#fde4a4" d="M87.9,87.3l0.4,-9.5 0.5,2.5 0.5,-2.5 0.4,11 -0.4,11 -0.5,-2.6 -0.5,2.6 -0.2,-3.5z"/>
<path fill="#fee6a8" d="M88.8,82.3l0.4,1.5 0.1,4.5 -0.1,5.5 -0.4,1.5 -0.4,-1.5 -0.1,-4.5 0.1,-5.5z"/>
<path fill="#fee8ab" d="M88.8,84.3l0.4,4.5 -0.4,4.7 -0.4,-4.7z"/>
<path fill="#ffeaaf" d="M88.6,88.8l0.2,-2.8 0.2,2.8 -0.2,2.8z"/>
<path fill="#ffecb2" d="M88.7,88.8l0.1,-1 0,1.9z"/>
</g></g>

</g>
<rect x="52.80" y="10.50" width="184.60" height="185.10" fill="none" stroke="#3c3c3c" stroke-width="1.25"/>
<line x1="52.80" x2="55.60" y1="22.30" y2="22.30" stroke="#111" stroke-width="1.2"/>
<text x="50.10" y="29.30" font-family='"Liberation Sans", sans-serif' font-size="20.0" font-weight="normal" font-style="normal" text-anchor="end" stroke="#000" stroke-width="0.25" letter-spacing="-0.45">0.2</text>
<line x1="52.80" x2="55.60" y1="103.10" y2="103.10" stroke="#111" stroke-width="1.2"/>
<text x="50.10" y="110.10" font-family='"Liberation Sans", sans-serif' font-size="20.0" font-weight="normal" font-style="normal" text-anchor="end" stroke="#000" stroke-width="0.25" letter-spacing="-0.45">0</text>
<line x1="52.80" x2="55.60" y1="184.10" y2="184.10" stroke="#111" stroke-width="1.2"/>
<text x="50.10" y="191.10" font-family='"Liberation Sans", sans-serif' font-size="20.0" font-weight="normal" font-style="normal" text-anchor="end" stroke="#000" stroke-width="0.25" letter-spacing="-0.45">−0.2</text>
<line x1="64.40" x2="64.40" y1="195.60" y2="192.80" stroke="#111" stroke-width="1.2"/>
<text x="64.00" y="215.90" font-family='"Liberation Sans", sans-serif' font-size="20.0" font-weight="normal" font-style="normal" text-anchor="middle" stroke="#000" stroke-width="0.25" letter-spacing="-0.45">−4</text>
<line x1="145.40" x2="145.40" y1="195.60" y2="192.80" stroke="#111" stroke-width="1.2"/>
<text x="145.00" y="215.90" font-family='"Liberation Sans", sans-serif' font-size="20.0" font-weight="normal" font-style="normal" text-anchor="middle" stroke="#000" stroke-width="0.25" letter-spacing="-0.45">0</text>
<line x1="226.40" x2="226.40" y1="195.60" y2="192.80" stroke="#111" stroke-width="1.2"/>
<text x="226.00" y="215.90" font-family='"Liberation Sans", sans-serif' font-size="20.0" font-weight="normal" font-style="normal" text-anchor="middle" stroke="#000" stroke-width="0.25" letter-spacing="-0.45">4</text>
<text x="62.90" y="40.50" font-family='"Liberation Sans", sans-serif' font-size="22" font-weight="bold" font-style="normal" text-anchor="start" letter-spacing="-1.64">(a1)</text>
<g id="hm-a2">
<rect x="288.10" y="14.45" width="177.60" height="177.55" fill="#26538c"/>
<clipPath id="cp-a2"><rect x="0" y="0" width="177.60" height="177.55"/></clipPath>
<g transform="translate(288.10,14.45)" clip-path="url(#cp-a2)"><g fill-rule="evenodd" filter="url(#soft)">
<path fill="#28548e" d="M50.6,6l4.6,-0.3 7,1 5.5,2.1 5,3 4.1,3.3 3.8,4.5 5,7.5 2.7,5.6 0.5,0.4 0.5,-0.4 2.7,-5.6 3.5,-5.5 1.9,-2.5 3.9,-4.4 3.6,-2.9 5,-3 3.5,-1.5 5,-1.2 5,-0.4 5.5,0.6 6.1,1.3 5,2.1 5,3.3 4,3.6 3.8,4.5 3.6,5.5 3.8,8 3,8.5 2.5,10.1 1.6,9.5 1.2,12 0.3,9.1 -0.1,15.5 -0.8,11 -1.6,11.1 -1.9,9 -2.6,8.5 -3.1,7.6 -3.8,7 -4.1,5.5 -4.8,4.8 -5,3.5 -4,1.9 -3.5,1.2 -5.1,1 -4,0.4 -7,-0.5 -6.5,-2 -6,-3.6 -4.4,-3.7 -3.5,-4 -2.5,-3.5 -3,-5 -2.2,-4.6 -0.5,-0.5 -0.5,0.5 -2.7,5.6 -5,7.5 -3.8,4.4 -4.1,3.3 -5,3.1 -5.5,2 -7,1 -5.5,-0.4 -4,-0.7 -4.6,-1.3 -3.5,-1.6 -4,-2.4 -3,-2.5 -3.8,-3.9 -3.1,-4 -2.5,-4 -3.8,-8.1 -3.6,-10.5 -2.5,-11 -1.7,-12.1 -0.8,-12.5 0.1,-19.1 0.9,-11.5 2,-12.5 2.6,-10.6 3.4,-9.5 4,-8 4.6,-6.5 5.2,-5.3 6,-4.1 6,-2.4z"/>
<path fill="#29558f" d="M53.3,6.5l5.9,0.3 4.5,1 4.5,1.9 4.5,2.9 3.6,2.9 4.3,5.1 4,6 3.2,6.5 1,1.4 0.5,-0.4 2.3,-5 3,-5 3.1,-4.5 3.6,-4.1 4.1,-3.3 4,-2.5 4.5,-1.9 5,-1.1 5,-0.2 6,0.8 5.6,1.5 5,2.4 4.5,3.1 3.8,3.8 4,5 3,5 3.5,7.5 2.9,8.5 2.2,9.1 1.8,11 1.1,12 0.2,12.1 -0.2,13 -1,11.5 -1.5,9.6 -2,9 -2.6,8 -3.4,8.1 -4,7 -4,5 -4.3,4.1 -5.5,3.6 -3.5,1.6 -3.6,1 -5,1 -3.5,0.3 -7,-0.7 -6,-2.1 -5.5,-3.3 -3.6,-3 -3.2,-3.5 -5.1,-7.5 -3.2,-6.6 -1,-1.3 -1,1.3 -3.2,6.6 -4,6 -4.3,5 -4.1,3.3 -5,3 -5.5,2 -6.5,0.8 -5,-0.4 -5,-1 -4.1,-1.3 -3.5,-1.7 -3.5,-2.3 -3.4,-2.9 -3.2,-3.5 -3,-4 -2.7,-4.5 -3.9,-8.6 -3.1,-9.5 -2.5,-11.5 -1.5,-11.6 -0.7,-13 0.2,-18.6 1.1,-12.5 2,-12 2.5,-9.6 3.5,-9.5 3.8,-7.5 5.1,-7 5.3,-5.1 6,-3.7 6.1,-2.1z"/>
<path fill="#2b5691" d="M52.5,7l6.2,0.1 3.5,0.7 5.5,2.1 4.5,2.7 4.1,3.4 4.3,5.1 3.9,6 3.3,6.8 1,1.3 0.5,-0.4 2.7,-5.7 3,-5 3.1,-4.5 3.7,-4.1 4.1,-3.2 4,-2.4 4,-1.7 4.5,-1 5,-0.3 6,0.8 5.6,1.5 4.5,2.1 4.5,3.2 3.8,3.6 3.6,4.5 3.4,5.5 3.5,7.5 2.9,8.5 2.4,9.6 1.7,10.5 1,11.5 0.4,12.1 -0.3,13 -1,11.5 -1.5,10.1 -2.1,9 -2.7,8.5 -3.3,7.6 -3.4,6 -4.2,5.5 -4.7,4.5 -5,3.3 -6.6,2.5 -4.5,0.9 -4,0.5 -4.5,-0.3 -3,-0.5 -6,-2.2 -4,-2.4 -3.1,-2.4 -4.7,-4.9 -5,-7.5 -3.3,-6.8 -1,-1.4 -0.5,0.4 -2.7,5.8 -3,5 -3.1,4.5 -3.7,4 -4.1,3.3 -4,2.4 -4,1.6 -4.5,1.1 -5,0.3 -6,-0.8 -5.6,-1.6 -4.5,-2.1 -4.5,-3.1 -3.8,-3.6 -3.6,-4.5 -3.4,-5.5 -3.9,-8.6 -3.2,-10 -2.4,-11 -1.6,-12.1 -0.7,-13 0.2,-17.1 1,-13 1.9,-11.5 2.6,-10.1 3.2,-9 4.1,-8 4.5,-6.5 5,-5.1 5.6,-3.7 6.1,-2.4z"/>
<path fill="#2d5792" d="M51.2,7.5l3,-0.3 3.5,0.1 5,0.9 5,2 4.5,2.7 3.8,3.1 3.9,4.6 4.6,7 3.3,6.8 1,1.4 1,-1.4 2.7,-5.8 3.1,-5 2.4,-3.5 3.8,-4.3 4.1,-3.2 4,-2.4 4.5,-1.8 4.5,-1 4.5,-0.2 5,0.7 5.6,1.4 5,2.4 4.1,2.8 3.7,3.6 3.6,4.5 3.1,5 3.5,7.3 3,8.6 2.5,9.9 1.7,9.8 1.2,11.5 0.4,10.6 -0.2,13.5 -0.8,11 -1.4,10.1 -2.1,9.5 -2.7,9 -3,7.6 -3.6,6.5 -3.9,5.5 -4.4,4.5 -5.2,3.6 -3,1.5 -3.6,1.2 -4.5,1.1 -4,0.4 -7,-0.6 -3.5,-1 -3,-1.3 -3.5,-2.1 -4.1,-3.1 -4.3,-4.7 -4.9,-7.5 -3.3,-6.9 -1,-1.3 -1,1.3 -2.7,5.9 -3.1,5 -2.4,3.5 -3.8,4.2 -4.1,3.3 -4,2.4 -4.5,1.8 -4.5,0.9 -4.5,0.2 -5,-0.6 -5.6,-1.5 -5,-2.3 -4.1,-2.9 -3.7,-3.5 -3.6,-4.5 -3.1,-5 -4,-8.6 -3.2,-9.5 -2.4,-10.5 -1.8,-12.6 -0.8,-13 0.1,-16.1 0.8,-12 1.7,-11.8 2.6,-10.7 3,-9 4,-8.6 4.2,-6.5 5.1,-5.6 5.2,-3.8 5.5,-2.5z"/>
<path fill="#2f5894" d="M53.9,7.5l5.8,0.3 5.5,1.5 5,2.5 4.6,3.4 4.1,4.4 3.2,4.5 3,5 3.2,6.8 0.5,0.4 0.5,-0.4 3.2,-6.8 2.7,-4.5 3.1,-4.5 3.6,-4.1 4,-3.2 4,-2.4 4,-1.7 4.5,-1 5,-0.2 5,0.7 5.6,1.6 4.5,2.2 4.1,3 3.6,3.6 3.5,4.5 3.3,5.5 3.5,7.7 3,9 2.5,10.4 1.6,10 1,11.5 0.2,11.6 -0.2,11.5 -1,11.5 -1.6,9.7 -2,8.9 -2.6,8.5 -3.4,8.1 -3.6,6.5 -4.2,5.5 -4.8,4.5 -4.7,3 -5.8,2.2 -4.5,1 -3.5,0.4 -4,-0.2 -3,-0.5 -3.5,-1.1 -3,-1.4 -3.5,-2.2 -3.6,-2.8 -4,-4.4 -5.3,-8 -3.2,-6.8 -1,-1.4 -0.5,0.4 -3.2,6.8 -2.7,4.5 -3.1,4.5 -3.6,4 -4,3.2 -4,2.4 -4,1.7 -4.5,1 -5,0.2 -5,-0.7 -5.6,-1.6 -4.5,-2.2 -4.1,-3 -3.6,-3.5 -3.5,-4.5 -3.3,-5.5 -4,-9.1 -3,-9.5 -2.5,-11.7 -1.6,-11.9 -0.7,-13.5 0.2,-15.6 1,-12 2.1,-12.2 2.5,-9.9 3.5,-9.8 3.9,-7.7 4.5,-6.5 5.1,-5.1 5.3,-3.5 5.8,-2.2z"/>
<path fill="#305a95" d="M51.8,8l2.9,-0.3 3.5,0.1 4.5,0.9 4.5,1.7 5,3 3.6,2.9 4.1,4.8 4.2,6.5 3.7,7.7 1,1.3 0.5,-0.3 3.4,-7.2 2.3,-4 3.1,-4.5 3.7,-4.3 3.6,-2.9 4,-2.5 4.5,-2 4.5,-1 5,-0.2 4.5,0.7 5,1.5 4.6,2.1 4.1,3 3.5,3.6 3.5,4.5 3,5 3.4,7.3 3,8.7 2.4,9.6 1.8,10 1.1,11 0.4,11.1 -0.1,12.5 -0.9,11 -1.5,10.6 -2,9.5 -2.7,8.8 -3,7.5 -3.6,6.8 -3.9,5.5 -4.4,4.5 -5,3.5 -3.2,1.5 -3,1 -4,0.9 -3.5,0.4 -6.5,-0.5 -3.5,-1 -3.5,-1.6 -3,-1.8 -4.1,-3.2 -3.8,-4.2 -5,-7.5 -3.7,-7.7 -1,-1.4 -0.5,0.4 -3.4,7.2 -2.3,4 -3.1,4.5 -3.7,4.2 -3.6,2.9 -4,2.6 -4.5,1.9 -4.5,1 -5,0.2 -4.5,-0.7 -5,-1.4 -4.6,-2.2 -4.1,-3 -3.5,-3.5 -3.5,-4.5 -3,-5 -3.9,-8.6 -3.1,-9.5 -2.5,-11 -1.7,-12.1 -0.9,-12.5 0,-14.5 0.9,-12.6 1.7,-11.5 2.3,-10.6 3.1,-9.5 3.7,-8.3 4.1,-6.7 4.7,-5.5 4.9,-4.1 5.9,-2.8z"/>
<path fill="#325b97" d="M53.8,8l5.4,0.1 5,1.2 5.5,2.6 5.1,3.7 4.1,4.5 3.2,4.5 3,5 3.2,7 0.5,0.4 0.5,-0.4 3.2,-7 3,-5 3.2,-4.5 3.2,-3.5 4,-3.4 4,-2.4 4,-1.7 4.5,-1 5,-0.1 4.5,0.7 5,1.6 4.3,2.2 3.9,3 3.3,3.6 3.4,4.5 3.2,5.5 3.3,7.5 2.8,8.5 2.4,10.1 1.7,10 1,10.5 0.4,11.6 -0.2,12 -1,11 -1.5,10.1 -2.2,10 -2.7,8.6 -3.3,8 -3.6,6.5 -4.1,5.5 -4.7,4.5 -4.8,3 -6.1,2.2 -6,0.9 -4,-0.2 -3,-0.6 -3,-0.9 -3.5,-1.7 -3,-1.9 -3.1,-2.4 -4.1,-4.4 -5,-7.5 -3.9,-8.1 -1,-1.3 -0.5,0.3 -3.2,7.1 -3,5 -3.2,4.5 -3.2,3.5 -4,3.3 -4,2.5 -4,1.6 -4.5,1 -5,0.2 -4.5,-0.8 -5,-1.6 -4.3,-2.2 -3.9,-3 -3.3,-3.5 -3.4,-4.5 -3.2,-5.5 -3.9,-9.1 -3,-10 -2.4,-11 -1.6,-12.1 -0.7,-12.5 0.2,-14.1 0.9,-12 1.9,-12 2.5,-10.6 3.1,-9.2 3.6,-7.8 4.4,-7 4.4,-5.1 5.2,-4 5.6,-2.5z"/>
<path fill="#345c98" d="M52.1,8.5l2.6,-0.3 3.5,0 4,0.7 5,1.8 5,3.1 3.4,2.8 3.9,4.5 4.6,7 3.7,7.9 1,1.3 0.5,-0.4 3.4,-7.3 3,-5 2.8,-4 3.5,-4 3.9,-3.2 3.5,-2.2 4,-1.7 4.5,-1.1 5,-0.2 4,0.6 5.4,1.7 3.8,2 3.8,3 3.3,3.6 3.3,4.5 2.9,5 3.6,8 2.8,8.5 2.4,9.6 1.7,10.5 1.1,10.5 0.4,11.1 -0.2,12 -1,11 -1.6,10.6 -2.1,9.5 -2.8,9 -3.2,7.9 -3.6,6.7 -4.1,5.5 -4.7,4.5 -4.7,3 -3.5,1.4 -3.5,0.9 -3,0.5 -3.5,0 -2.5,-0.2 -3.5,-0.9 -5.5,-2.4 -6.1,-4.5 -3.8,-4.3 -5,-7.5 -3.7,-7.9 -1,-1.3 -0.5,0.3 -3.4,7.4 -3,5 -2.8,4 -3.5,4 -3.9,3.1 -3.5,2.2 -4,1.8 -4.5,1.1 -5,0.2 -4,-0.7 -5.4,-1.7 -3.8,-2 -3.8,-3 -3.3,-3.5 -3.3,-4.5 -2.9,-5 -3.6,-8.1 -3.3,-10 -2.4,-11 -1.7,-11.6 -0.9,-12 0,-13.5 0.7,-12.1 1.6,-11.4 2.2,-10.6 2.9,-9.6 3.5,-8.5 3.9,-7.1 4.6,-5.9 5.1,-4.6 5.4,-2.8z"/>
<path fill="#365d9a" d="M53.7,8.5l5.5,0 5.5,1.3 5,2.5 5.1,3.7 4.2,4.6 3.1,4.5 2.9,5 3.2,7 0.6,0.5 0.6,-0.5 3.2,-7 2.9,-5 3.1,-4.5 3.6,-4 4.2,-3.4 3.5,-2.1 4,-1.6 4,-0.9 5,-0.2 3.7,0.6 4.6,1.5 3.7,2 3.8,3 3.7,4.1 3.1,4.5 3.1,5.5 3.4,8 2.8,8.5 2.2,9.6 1.7,10.5 1,10.5 0.4,11.1 -0.3,11.5 -0.9,10.5 -1.6,10.6 -2.3,10 -2.6,8.5 -3.3,8.1 -3.6,6.5 -4,5.5 -4.6,4.5 -4.6,3 -6.4,2.2 -3,0.4 -3.5,0 -3,-0.4 -3,-0.8 -5.5,-2.6 -5.6,-4.2 -3.7,-4.1 -5,-7.5 -3.8,-8.2 -1,-1.3 -0.6,0.4 -3.2,7.1 -2.9,5 -3.1,4.5 -3.6,4 -4.2,3.3 -3.5,2.1 -4,1.7 -4,0.9 -5,0.1 -3.7,-0.6 -4.6,-1.5 -3.7,-2 -3.8,-3 -3.7,-4 -3.1,-4.5 -3.1,-5.5 -3.6,-8.6 -3.1,-10 -2.4,-11 -1.6,-11.6 -0.7,-12 0,-13 0.8,-11.6 1.6,-11.5 2.4,-11.1 3,-9.5 3.6,-8.5 4,-7 4.9,-6 4.8,-4.1 5,-2.5z"/>
<path fill="#375e9c" d="M52.4,9l5.8,-0.4 4.5,0.7 5,2 4.5,2.8 3.1,2.5 4.6,5.5 4.2,6.5 3.7,8 1,1.2 1,-1.2 2.9,-6.5 2.9,-5 3.2,-4.5 3.5,-4 4.1,-3.2 3.5,-2.1 3.5,-1.5 4,-1 4.5,-0.2 3.3,0.4 4.8,1.5 3.6,2 3.8,3 3.2,3.6 3.3,4.5 3.1,5.5 3.4,8 2.8,8.5 2.3,9.6 1.8,10.5 1.1,10.5 0.4,10.6 -0.2,11.5 -0.9,10.5 -1.6,10.6 -2.1,9.5 -2.8,9.5 -3.3,8.1 -3.7,7 -4,5.5 -4.5,4.5 -4.6,3 -6.2,2.1 -6,0.3 -5.5,-1.1 -3.5,-1.5 -2.5,-1.5 -5,-3.8 -4,-4.5 -4.9,-7.5 -3.7,-8 -1,-1.3 -1,1.3 -2.9,6.5 -2.9,5 -3.2,4.5 -3.5,4 -4.1,3.2 -3.5,2.1 -3.5,1.5 -4,0.9 -4.5,0.2 -3.3,-0.4 -4.8,-1.5 -3.6,-2 -3.8,-3 -3.2,-3.5 -3.3,-4.5 -3.1,-5.5 -3.5,-8.2 -3,-9.5 -2.5,-10.9 -1.7,-11.1 -0.9,-11.5 -0.1,-12.5 0.6,-11.6 1.3,-11 2,-10.5 2.8,-10.1 3.4,-9 3.8,-7.5 4.2,-6 4.9,-5.1 4.6,-3z"/>
<path fill="#395f9d" d="M53.8,9l5.4,-0.1 5,1 5,2.4 5.6,4 3.9,4.3 2.8,4 3,5 3.3,7.2 1,1.2 1,-1.2 2.7,-6.2 3.2,-5.5 3.2,-4.5 3.4,-3.8 3.6,-2.9 4,-2.5 3.5,-1.5 4,-0.9 5,-0.1 3.5,0.6 3.9,1.5 3.3,2 3.5,3 3.4,4.1 3.1,4.5 2.9,5.4 3.2,7.6 2.8,9 2.4,10.1 1.6,10 1,10 0.4,10.6 -0.2,11 -0.9,10.5 -1.6,10.6 -2.2,9.8 -2.8,9.2 -3.2,8.1 -3.7,7 -4,5.5 -4.4,4.5 -4.6,3 -2.3,1 -3.6,1 -5.5,0.2 -5.5,-1.3 -3,-1.3 -3,-1.7 -4.6,-3.6 -4.2,-4.8 -4.5,-7 -3.8,-8.3 -1,-1.2 -1,1.2 -2.7,6.3 -3.2,5.5 -3.2,4.5 -3.4,3.8 -3.6,2.9 -4,2.4 -3.5,1.5 -4,1 -5,0.1 -3.5,-0.7 -3.9,-1.5 -3.3,-2 -3.5,-3 -3.4,-4 -3.1,-4.5 -2.9,-5.5 -3.5,-8.6 -3,-9.5 -2.3,-10.5 -1.6,-11.1 -0.9,-11.5 -0.1,-12 0.6,-11.1 1.4,-11 2.1,-10.5 2.8,-10.2 3.3,-8.9 3.8,-7.5 4.2,-6 4.8,-5.1 4.6,-3 2.3,-1z"/>
<path fill="#3b609f" d="M57,9l4.2,0.3 4.5,1.4 5,2.6 4.2,3.3 3.7,4 3.5,5 2.8,5 2.9,6.5 1,1.2 1,-1.2 2.9,-6.5 2.8,-5 3.5,-5 3.3,-3.7 4.1,-3.2 3.5,-2.1 4,-1.7 4,-0.8 4.5,0 3.8,0.9 3.3,1.5 3.5,2.5 3.6,3.6 3.1,4 3.1,5 2.7,5.5 3.1,8 2.7,9.6 2.2,10 1.5,10 0.8,10 0.2,11.1 -0.4,10 -1,10 -1.7,10.1 -2.4,10.2 -2.8,8.8 -3.4,8.1 -3.6,6.5 -4.1,5.5 -4.2,4 -4.9,3 -4.6,1.4 -5.5,0 -5,-1.3 -3,-1.4 -3,-1.8 -4.1,-3.3 -4,-4.6 -4.6,-7 -3.9,-8.6 -1,-1.1 -1,1.1 -2.9,6.6 -2.8,5 -3.5,5 -3.3,3.6 -4.1,3.3 -3.5,2.1 -4,1.6 -4,0.8 -4.5,0 -3.8,-0.9 -3.3,-1.5 -3.5,-2.5 -3.6,-3.5 -3.1,-4 -3.1,-5 -2.7,-5.5 -3.4,-9.1 -2.8,-10 -2.2,-11 -1.4,-11.1 -0.7,-11.5 0.2,-12 0.8,-10.6 1.6,-11 2.4,-10.9 3,-9.8 3.5,-8.5 4.1,-7.4 4.3,-5.5 5,-4.6 4.9,-2.5 2.8,-0.7z"/>
<path fill="#3d61a0" d="M54.5,9.5l5.2,-0.2 5,1.1 5,2.4 5,3.8 3.7,4 3.2,4.5 3,5 3.2,7.2 1,1.2 1,-1.2 3.2,-7.2 2.7,-4.5 3.5,-5 3.1,-3.5 4.1,-3.3 3.5,-2.1 3.5,-1.5 4,-0.9 4.5,0.1 3,0.6 3.3,1.5 2.8,2 3.7,3.6 3.1,4 2.9,4.5 2.8,5.5 3.2,8 2.7,9 2.3,10.1 1.6,10 1,10 0.3,10.6 -0.3,10.5 -1,10 -1.7,10.6 -2.3,10 -2.8,9.1 -3.5,8.5 -3.8,7 -4.1,5.5 -4.7,4.5 -4.2,2.5 -4.3,1.2 -3,0.1 -2.5,-0.2 -5.5,-1.8 -5,-2.9 -3.5,-2.9 -4.4,-5 -4.5,-7 -3.7,-8.3 -1,-1.1 -1,1.1 -3.2,7.3 -2.7,4.5 -3.5,5 -3.1,3.5 -4.1,3.2 -3.5,2.1 -3.5,1.5 -4,0.9 -4.5,0 -3,-0.7 -3.3,-1.5 -2.8,-2 -3.7,-3.5 -3.1,-4 -2.9,-4.5 -2.8,-5.5 -3.4,-8.6 -2.8,-9.5 -2.3,-10.5 -1.6,-10.6 -0.8,-10.5 -0.1,-11.5 0.5,-10.6 1.2,-10 1.9,-10.5 2.8,-10.6 3.1,-9 3.8,-8 4.1,-6.5 4.4,-5.1 4.5,-3.5 2,-1z"/>
<path fill="#3e62a2" d="M56.8,9.5l3.9,0.1 5,1.4 5,2.6 4.1,3.1 3.5,3.9 3.2,4.5 3,5 3.3,7.5 1,1.1 1,-1.1 3.3,-7.5 2.7,-4.5 3.1,-4.5 3.4,-3.9 4.1,-3.3 3.5,-2 3.5,-1.5 4,-0.9 3.4,0 3.1,0.7 3.7,1.8 3.1,2.5 3.4,3.6 2.9,4 3,5 2.6,5.5 3,8 2.8,9.6 2.1,9.7 1.5,9.8 0.9,10 0.2,10.1 -0.3,10 -1,9.5 -1.7,10.6 -2.4,10 -2.9,9.5 -3.3,8.1 -3.8,7 -4.1,5.5 -4.6,4.5 -4.1,2.5 -4.1,1 -4.9,-0.2 -5,-1.6 -5,-3 -3.4,-2.7 -4.3,-5 -4.3,-6.5 -4.1,-9 -1,-1.1 -1,1.1 -3.3,7.5 -2.7,4.5 -3.1,4.5 -3.4,3.8 -4.1,3.3 -3.5,2.1 -3.5,1.5 -4,0.8 -3.4,0 -3.1,-0.6 -3.7,-1.9 -3.1,-2.5 -3.4,-3.5 -2.9,-4 -3,-5 -2.6,-5.6 -3.2,-8.5 -2.7,-9.5 -2.2,-10.5 -1.5,-10.6 -0.8,-10.5 -0.1,-11 0.6,-10.1 1.3,-10.5 2.2,-11 2.7,-10.1 3.3,-9 3.9,-8 4.2,-6.5 4.7,-5.1 2.6,-2 2.7,-1.5z"/>
<path fill="#4063a3" d="M55.7,10l4,-0.3 5,1 5,2.4 4.7,3.5 3.9,4.1 3.1,4.4 3.2,5.5 3.2,7.2 1,1 1,-1 3.2,-7.2 2.6,-4.5 3.4,-5 3.3,-3.7 4.1,-3.3 3.5,-2.1 3.5,-1.4 3.5,-0.8 3,-0.1 3.6,0.8 2.7,1.5 3.1,2.5 3.2,3.6 2.9,4 3,5 2.6,5.5 3,8 2.8,9.6 2.2,10 1.5,9.5 0.9,9.5 0.2,10.1 -0.3,10 -0.9,9.5 -1.8,10.6 -2.3,10 -3,9.5 -3.2,8.1 -3.7,7 -3.9,5.5 -4.4,4.5 -2.7,2 -1.9,1 -1.6,0.5 -3,0.4 -2.5,-0.2 -3,-0.7 -5,-2.3 -5.1,-3.6 -4,-4.2 -3.1,-4.4 -3.2,-5.5 -3.2,-7.2 -1,-1.1 -1,1.1 -3.2,7.2 -2.6,4.5 -3.4,5 -3.3,3.7 -4.1,3.3 -3.5,2.1 -3.5,1.4 -3.5,0.8 -3,0 -3.6,-0.8 -2.7,-1.5 -3.1,-2.5 -3.2,-3.5 -2.9,-4 -3,-5 -2.6,-5.5 -3.2,-8.6 -2.7,-9.5 -2.2,-10 -1.5,-10.1 -0.8,-10 -0.2,-10 0.4,-10.1 1,-9.5 1.9,-10.5 2.6,-10.6 3.1,-9.5 3.5,-8 4,-7 4.3,-5.6 4.6,-4 2.7,-1.5z"/>
<path fill="#4264a5" d="M57.7,10l4,0.1 4.5,1.4 4.5,2.4 4.1,3.1 3.7,4.1 3.1,4.5 2.9,5 3.3,7.4 1,1 1,-1 3.3,-7.4 2.6,-4.5 3.4,-5 3.2,-3.6 3.6,-3 3.5,-2.1 4,-1.7 3.5,-0.7 3,0 3.2,1 3,2 2.7,2.5 2.9,3.6 3.1,4.5 2.7,5 2.5,5.5 3,8.4 2.6,9.2 2.1,10 1.4,9.5 0.8,9.6 0.2,9.5 -0.3,9.5 -1,9 -1.8,10.6 -2.5,10.5 -3,9.5 -3.3,8.1 -3.7,7 -3.9,5.5 -4.5,4.5 -4.1,2.5 -4.1,0.6 -5,-0.9 -4.7,-2.2 -4.9,-3.5 -4,-4.3 -3.3,-4.7 -2.9,-5 -3.3,-7.5 -1,-1 -1,1 -3.3,7.5 -2.6,4.5 -3.4,5 -3.2,3.5 -3.6,3 -3.5,2.1 -4,1.7 -3.5,0.8 -3,-0.1 -3.2,-1 -3,-2 -2.7,-2.5 -2.9,-3.5 -3.1,-4.5 -2.7,-5 -2.5,-5.6 -3,-8.5 -2.7,-9.5 -2.1,-10 -1.5,-10.1 -0.7,-9.9 -0.1,-10.1 0.5,-9.6 1.1,-9.2 2,-10.8 2.7,-10.6 3.2,-9.5 3.6,-8 3.8,-6.5 4.4,-5.6 4.8,-4 2,-1z"/>
<path fill="#4365a7" d="M57.3,10.5l3.9,-0.2 4.5,1.1 5,2.6 3.9,3.1 3.7,3.9 3.2,4.6 2.9,5 3.4,7.6 1,1 1,-1 3.4,-7.6 2.9,-5 3.2,-4.5 3.2,-3.5 3.9,-3.2 3,-1.9 3.5,-1.5 3.5,-0.7 2.5,0 2.7,0.7 2.9,2 2.7,2.5 2.9,3.6 2.7,4 2.8,5 2.5,5.5 2.9,8 2.8,9.6 2.1,9.5 1.6,9.5 0.8,9 0.3,9.1 -0.2,9.5 -0.9,9 -1.6,10.1 -2.4,10.5 -3,10 -3.3,8.6 -3.5,7 -3.9,6 -4.1,4.5 -2.4,2 -1.9,1.1 -3.5,0.7 -5,-0.8 -5,-2.4 -4.6,-3.3 -4,-4.2 -3.2,-4.6 -2.9,-5 -3.4,-7.7 -1,-0.9 -1,0.9 -3.4,7.7 -2.9,5 -3.2,4.5 -3.2,3.5 -3.9,3.2 -3,1.8 -3.5,1.5 -3.5,0.8 -2.5,0 -2.7,-0.8 -2.9,-2 -2.7,-2.5 -2.9,-3.5 -2.7,-4 -2.8,-5 -2.5,-5.6 -2.9,-8 -2.8,-9.5 -2.2,-9.9 -1.5,-9.7 -0.9,-9 -0.2,-9.5 0.3,-9.6 0.9,-9 1.8,-10.5 2.5,-10.5 3.1,-10.1 3.4,-8.5 3.8,-7 3.8,-5.5 4.5,-4.6 2,-1.5z"/>
<path fill="#4567a8" d="M59.6,10.5l3.6,0.3 3.7,1.2 3.8,2.2 4.1,3.1 3.5,3.8 3.1,4.5 3,5 3.4,7.8 1,0.9 1,-0.9 3.4,-7.8 3,-5 3.1,-4.5 3.3,-3.5 3.8,-3.1 3.3,-2 3.7,-1.4 3,-0.6 2.5,0.2 2.1,0.8 3.1,2.5 2.8,3.1 2.7,3.5 2.7,4.5 4.9,10.5 2.9,8.5 2.5,9.1 2.1,9.5 1.4,9 0.8,8.5 0.2,9.1 -0.3,9 -0.8,8.5 -1.7,10.1 -2.4,10.5 -3.1,10 -3.3,8.6 -3.5,7 -3.9,6 -4,4.5 -2.4,2 -1.7,1 -1.6,0.5 -2,0 -4.4,-1 -4.6,-2.3 -4.3,-3.2 -3.7,-4 -3.2,-4.5 -3,-5 -3.4,-7.9 -1,-0.9 -1,0.9 -3.4,7.9 -3,5 -3.1,4.4 -3.5,3.8 -4.3,3.3 -4.8,2.5 -4.5,1 -3,-0.3 -1.6,-0.7 -2.6,-2 -2.5,-2.5 -2.8,-3.5 -4.2,-7 -4.1,-9.1 -2.9,-8.5 -2.7,-9.5 -2,-9.5 -1.4,-9.6 -0.7,-9 -0.2,-9.5 0.4,-9.1 1.1,-9 1.9,-10.5 2.7,-10.6 3.1,-9.5 3.5,-8.5 3.8,-7 4.5,-6.1 4.4,-4 1.7,-1z"/>
<path fill="#4768aa" d="M59.4,11l3.3,0 3.7,1 4.3,2.3 4.1,3.1 3.5,3.9 3,4.3 3.2,5.5 3.3,7.5 1,0.9 1,-0.9 3.3,-7.5 3.2,-5.5 3,-4.3 3.5,-3.9 4.1,-3.1 4.3,-2.3 3.7,-1 3.5,0.1 1.8,0.9 2.3,2 5,6.1 4.4,7.5 3.9,9 2.9,8.5 2.5,9.1 2,9 1.4,9 0.8,8.6 0.2,9 -0.3,8.5 -0.9,8.5 -1.7,10.1 -2.5,10.5 -3.1,10 -3.3,8.6 -3.5,7 -3.8,6 -4.5,5 -1.8,1.5 -1.8,0.9 -3.5,0.2 -3.7,-1.1 -4.3,-2.3 -4.1,-3.1 -3.5,-3.8 -3,-4.3 -3.2,-5.5 -3.3,-7.6 -1,-0.9 -1,0.9 -3.3,7.6 -3.2,5.5 -3,4.3 -3.5,3.8 -4.1,3.1 -4.3,2.3 -3.7,1.1 -3.5,-0.2 -1.8,-0.9 -2.3,-2 -5,-6 -4.4,-7.5 -3.9,-9.1 -2.9,-8.5 -2.5,-9 -2,-9 -1.4,-9.1 -0.8,-8.5 -0.2,-9 0.3,-8.6 0.9,-8.5 1.7,-10 2.5,-10.5 3.1,-10.1 3.3,-8.5 3.7,-7.5 4,-6 4.7,-5.1 2,-1.5z"/>
<path fill="#4969ab" d="M60,11.5l3.2,-0.2 4,1.2 3.7,2 3.8,3.1 3.6,3.8 3,4.3 3.1,5.4 3.4,7.7 1,0.9 1,-0.9 3.4,-7.7 3.1,-5.4 3,-4.3 3.6,-3.8 3.8,-3.1 3.7,-2 4,-1.2 3.2,0.2 1.7,1 2.6,2.5 4.6,6.1 3.9,7 3.9,9 2.8,8.5 2.6,9.1 1.9,9 1.4,8.5 0.8,8 0.3,8.6 -0.3,8.5 -0.8,8 -1.7,10.1 -2.3,10 -3,10 -3.3,9 -3.6,7.6 -3.6,6 -4.1,5 -2.1,2 -1.7,1 -3.2,0.2 -4,-1.2 -3.7,-2 -3.8,-3 -3.6,-3.9 -3,-4.3 -3.1,-5.3 -3.4,-7.7 -1,-0.9 -1,0.9 -3.4,7.7 -3.1,5.3 -3,4.3 -3.6,3.9 -3.8,3 -3.7,2 -4,1.2 -3.2,-0.2 -1.7,-1 -2.6,-2.5 -4.6,-6 -3.9,-7 -3.9,-9.1 -2.8,-8.5 -2.6,-9 -1.9,-9 -1.4,-8.6 -0.8,-8 -0.3,-8.5 0.3,-8.6 0.8,-8 1.7,-10 2.3,-10 3,-10.1 3.3,-9 3.6,-7.5 3.6,-6 4.1,-5.1 2.1,-2z"/>
<path fill="#4a6aad" d="M60.8,12l2.4,-0.3 3.6,0.8 3.9,2.1 4.1,3.2 3.5,3.8 3,4.3 3,5.2 3.5,7.9 1,0.8 1,-0.8 3.5,-7.9 3,-5.2 3,-4.3 3.5,-3.8 3.6,-2.8 3.5,-2 4,-1.3 2.5,0.2 1.2,0.6 2.6,2.5 4.9,6.6 4,7.5 3.9,9.5 2.9,8.5 2.4,9.1 1.9,8.5 1.4,8.5 0.7,8.1 0.2,8 -0.3,8 -0.7,7.5 -1.6,9.6 -2.3,10 -3.1,10.5 -3.4,9 -3.5,7.6 -3.5,6 -4.4,5.5 -2.1,2 -1.2,0.7 -2.5,0.1 -4,-1.2 -3.5,-2 -3.6,-2.8 -3.5,-3.8 -3,-4.3 -3,-5.2 -3.5,-7.9 -1,-0.9 -1,0.9 -3.5,7.9 -3,5.2 -3,4.3 -3.5,3.8 -3.6,2.8 -3.5,2 -4,1.2 -2.5,-0.1 -1.2,-0.7 -2.6,-2.5 -4.9,-6.5 -4,-7.5 -3.9,-9.6 -2.9,-8.5 -2.4,-9 -1.9,-8.6 -1.3,-8 -0.7,-7.5 -0.3,-8 0.2,-8 0.7,-8.1 1.6,-9.5 2.3,-10 2.9,-10.1 3.5,-9.5 3.4,-7.5 3.5,-6 3.7,-5.1z"/>
<path fill="#4c6bae" d="M61.7,12.5l2,-0.4 3.7,0.9 3.7,2 3.7,2.9 3,3.2 3.5,4.9 3,5.2 3.5,7.9 1,0.9 1,-0.9 3.5,-7.9 3,-5.2 3.5,-4.9 3,-3.2 3.7,-2.9 3.7,-2 3.2,-0.9 2,0.2 1.7,1.2 2.3,2.5 4.5,6.6 4.1,8 4,10 2.7,8.6 2.5,9 1.7,8 1.2,8 0.7,7.6 0.2,8 -0.3,7.5 -0.8,7.5 -1.5,9.1 -2.4,10 -3.1,10.2 -3.4,9.3 -3.4,7.6 -3.4,6 -4.2,5.5 -2,2 -1.1,0.7 -2,0.2 -3.2,-0.9 -3.7,-2 -3.7,-2.9 -3,-3.2 -3.5,-4.9 -3,-5.1 -3.5,-8 -1,-0.8 -1,0.8 -3.5,8 -3,5.1 -3.5,4.9 -3,3.2 -3.7,2.9 -3.7,2 -3.2,0.9 -2,-0.2 -1.7,-1.2 -2.3,-2.5 -4.5,-6.5 -4.1,-8 -4,-10.1 -2.7,-8.5 -2.3,-8.5 -1.8,-8.1 -1.3,-8 -0.7,-7.5 -0.2,-8 0.3,-7.5 0.7,-7.6 1.5,-9 2.2,-9.5 3,-10.1 3.4,-9.5 3.3,-7.5 3.3,-6 3.9,-5.6z"/>
<path fill="#4e6cb0" d="M62.8,13l1.9,-0.4 3.3,0.9 2.8,1.5 4,3.1 3,3.2 3.5,4.9 3,5.2 3.4,7.7 1.1,1 1.1,-1 4.9,-10.5 5.5,-7.9 3.1,-3.1 4.2,-3.1 3.8,-1.6 1.5,-0.3 1.5,0.3 1.5,1.1 2.5,3.1 4.6,7 4.1,8.5 3.9,10.5 2.7,8.6 2.3,8.5 1.5,7.5 1.2,7.5 0.6,7.1 0.2,7.5 -0.3,7.5 -0.8,7 -1.5,9.1 -2.3,9.5 -3.1,10 -3.4,9.5 -3.3,7.6 -3.3,6 -3.8,5.5 -2.3,2.5 -1,0.7 -1.5,0.2 -1.5,-0.2 -3.8,-1.7 -4.2,-3 -3.1,-3.2 -5.5,-7.8 -4.9,-10.6 -1.1,-0.9 -1.1,0.9 -4.9,10.6 -5.5,7.8 -3.1,3.2 -4.2,3 -3.8,1.7 -1.5,0.2 -1.5,-0.2 -1.5,-1.2 -2.5,-3 -4.6,-7 -4.1,-8.6 -3.9,-10.5 -4.8,-16.5 -1.7,-7.6 -1.1,-7.5 -0.7,-7 -0.2,-7.5 0.3,-7.5 0.7,-7.1 1.4,-8.5 2.3,-9.5 2.9,-10.1 3.4,-9.5 3.2,-7.5 3.5,-6.5 3.7,-5.5z"/>
<path fill="#506daf" d="M63.9,13.5l1.3,-0.3 1,0 3.5,1.4 4.3,3 3.3,3.3 5.5,7.8 4.8,10.4 0.7,0.9 0.5,0.2 0.5,-0.2 0.7,-0.9 4.8,-10.4 5.5,-7.8 3.3,-3.3 4.3,-3 3.5,-1.4 2,0.2 1.3,1.1 2.8,3.6 4.5,7.5 4.4,9.5 4.1,11.5 4.5,16.1 1.5,7.5 1,7 0.5,7.1 0,7 -0.4,7 -0.8,7 -1.6,8.6 -2.4,9.5 -3.1,10 -3.5,9.5 -3.4,7.6 -3.3,6 -4.3,6 -1.3,1.3 -1,0.5 -2.5,-0.2 -3.3,-1.6 -3.5,-2.5 -3.3,-3.3 -5.5,-7.9 -4.8,-10.4 -0.7,-0.9 -0.5,-0.2 -0.5,0.2 -0.7,0.9 -4.8,10.4 -5.5,7.9 -3.3,3.3 -4.3,3 -3.5,1.3 -2,-0.2 -1.3,-1.1 -2.8,-3.5 -4.5,-7.5 -4.4,-9.6 -4.1,-11.5 -4.5,-16 -1.4,-7.1 -1,-7 -0.5,-7 -0.1,-7 0.3,-6.6 0.7,-7 1.6,-8.5 2.2,-9 2.8,-9.6 3.4,-9.5 3.2,-7.5 3.4,-6.5 3.6,-5.5z"/>
<path fill="#526dad" d="M65,14l1.2,-0.3 1,0.1 3,1.3 3.6,2.5 3.5,3.4 5.5,7.9 4.7,10.2 0.8,1.1 0.5,0.1 0.5,-0.1 0.8,-1.1 4.7,-10.2 5.5,-7.9 3.5,-3.4 3.6,-2.5 3,-1.3 1,-0.1 1.2,0.3 1.8,2 2.6,3.6 4.4,8 4.5,10.5 4.2,12.1 4,15 1.4,7 0.8,6.5 0.4,6.6 0,7 -0.4,6.5 -0.9,7 -1.7,8.6 -2.4,9 -3.2,10 -3.3,9 -3.4,7.6 -3.5,6.5 -3.9,5.5 -1.1,1.3 -1,0.5 -2,-0.2 -3,-1.4 -3.1,-2.2 -3.5,-3.5 -5.5,-7.8 -4.7,-10.3 -0.8,-1 -0.5,-0.2 -0.5,0.2 -0.8,1 -4.7,10.3 -5.5,7.8 -3.5,3.5 -3.6,2.5 -3,1.2 -1,0.1 -1.2,-0.3 -1.8,-2 -2.6,-3.5 -4.4,-8 -4.5,-10.5 -4.2,-12.1 -4,-15.1 -1.4,-7 -0.8,-6.5 -0.4,-6.5 0,-7 0.4,-6.6 0.8,-6.5 1.6,-8 2.3,-9 3,-9.6 3.2,-9 3.3,-7.5 3,-6 3.5,-5.5z"/>
<path fill="#546eac" d="M66.2,14.5l2,0 2.5,1.1 3,2.1 3.6,3.5 5.5,7.8 4.6,10.1 0.7,1 0.7,0.4 0.7,-0.4 0.7,-1 4.6,-10.1 5.5,-7.8 3.6,-3.5 3,-2.1 2.5,-1.1 2,0 1.5,1.5 2.8,4.1 4.8,9 4.8,11.5 4.4,13.1 3.6,14 1.1,6.5 0.7,6.6 0.3,6.5 -0.1,6.5 -1.4,12.5 -1.6,8.1 -2.4,8.7 -3.2,9.8 -3.4,9 -3.3,7.6 -3.4,6.5 -3.7,5.5 -1,1.2 -1,0.5 -1.7,-0.2 -2.8,-1.4 -3,-2.1 -3.6,-3.7 -5,-7.3 -4.6,-10.1 -0.7,-1 -0.7,-0.3 -0.7,0.3 -0.7,1 -4.6,10.1 -5.5,7.9 -3.6,3.5 -3,2.1 -2.5,1.1 -2,-0.1 -1.5,-1.5 -2.8,-4 -4.8,-9 -4.8,-11.6 -4.4,-13 -3.6,-14.1 -1.8,-12.5 -0.3,-6.5 0.1,-6.5 1.3,-12.6 1.5,-7.5 2.2,-8.5 3,-9.6 3.4,-9 3.2,-7.5 3,-6 3.4,-5.5z"/>
<path fill="#566fab" d="M67.6,15l1.1,0.1 1.4,0.4 2.6,1.6 5.1,4.8 5,7.3 4.5,9.9 0.7,1 0.8,0.5 0.8,-0.5 0.7,-1 4.5,-9.9 5,-7.3 3.5,-3.6 2.6,-1.8 3,-1.4 1.5,0.1 1.6,1.9 2.7,4 4.9,9.5 5.2,13 4.5,13.6 3.1,13 1.5,12.1 0.1,12.5 -1.5,12 -1.6,7.6 -2.4,8.5 -3,9 -3.4,9 -3.2,7.6 -3.1,6 -3.8,6 -1.1,1.5 -0.9,0.5 -1.1,0 -1.4,-0.5 -2.6,-1.6 -5.1,-4.8 -5,-7.3 -4.5,-9.9 -0.7,-1 -0.8,-0.4 -0.8,0.4 -0.7,1 -4.5,9.9 -5,7.3 -3.5,3.6 -2.6,1.9 -3,1.4 -1.5,-0.1 -1.6,-1.9 -2.7,-4 -4.9,-9.5 -5.2,-13.1 -4.5,-13.5 -3.1,-13.1 -1.5,-12 -0.1,-12.5 1.5,-12.1 1.6,-7.5 2.4,-8.5 3,-9.1 3.4,-9 3.2,-7.5 3.1,-6 3.8,-6 1.1,-1.6z"/>
<path fill="#586fa9" d="M68,16l0.7,-0.3 1,0.1 2.5,1.2 2.1,1.5 3.5,3.6 5,7.3 4.5,9.8 0.6,0.9 0.9,0.6 0.9,-0.6 0.6,-0.9 4.5,-9.8 5,-7.3 3.5,-3.6 2.1,-1.5 2.5,-1.2 1,-0.1 0.7,0.3 1.9,2.6 2.7,4.5 4.8,10 5.4,13.8 4.3,13.3 2.7,12 1.4,11.6 -0.2,12 -1.5,11.5 -1.6,7.1 -2.3,8 -6.5,18 -3.2,7.6 -3.3,6.5 -3.8,6 -0.8,1 -0.7,0.3 -1.7,-0.3 -2.8,-1.7 -4.6,-4.3 -5,-7.3 -4.5,-9.8 -0.6,-1 -0.9,-0.5 -0.9,0.5 -0.6,1 -4.5,9.8 -5,7.3 -3.5,3.5 -2.1,1.5 -2.5,1.2 -1,0.1 -0.7,-0.3 -1.9,-2.5 -2.7,-4.5 -4.8,-10.1 -5.4,-13.7 -4.3,-13.3 -2.7,-12.1 -1.4,-11.5 0.1,-11.5 1.5,-11.6 1.6,-7 2.1,-7.5 6,-17.1 6.3,-14 3.1,-5.5z"/>
<path fill="#5a70a8" d="M69.6,16.6l1.1,0.1 2.5,1.3 4.6,4.3 5,7.2 4.6,10.1 0.9,1 0.5,0.2 0.5,-0.2 0.9,-1 4.6,-10.1 5,-7.2 4.6,-4.3 2.5,-1.3 1.5,0 1.7,2.4 2.9,5 5.2,11 5.9,15.1 4,13 2.4,11.5 1.1,11.1 -0.3,11 -1.7,11 -1.6,7.1 -2.3,7.5 -6.2,17 -6.5,14.1 -3.5,6 -1.5,1.5 -1.1,-0.1 -2.5,-1.3 -4.6,-4.3 -5,-7.3 -4.6,-10.1 -0.9,-1 -0.5,-0.2 -0.5,0.2 -0.9,1 -4.6,10.1 -5,7.3 -4.6,4.3 -2.5,1.3 -1.5,-0.1 -1.7,-2.3 -2.9,-5 -5.2,-11.1 -5.9,-15 -4,-13 -2.4,-11.6 -1.1,-11 0.3,-11 1.7,-11.1 1.6,-7 2.3,-7.5 6.2,-17.1 6.5,-14 3.5,-6z"/>
<path fill="#5c71a6" d="M70.3,17.6l1.4,-0.1 1.5,0.8 4.6,4.2 5,7.2 4.6,9.9 0.7,1 0.7,0.3 0.7,-0.3 0.7,-1 4.6,-9.9 5,-7.2 4.6,-4.2 1.5,-0.8 1.5,0.1 1.7,2.5 2.8,5 5.8,12.5 5.7,15.1 3.9,12.5 2.2,11 0.9,10.6 -0.4,10.5 -1.8,11 -3.9,14.1 -6.2,16.5 -6.7,14.6 -3.2,5.5 -1.3,1.1 -1,-0.1 -2,-1.1 -4.6,-4.5 -5,-7.5 -4.1,-9 -0.7,-1 -0.7,-0.3 -0.7,0.3 -0.7,1 -4.6,9.9 -5,7.3 -4.6,4.2 -1.5,0.7 -1.5,-0.1 -1.7,-2.4 -2.8,-5 -5.8,-12.6 -5.7,-15 -3.9,-12.6 -2.1,-10.5 -0.9,-10.5 0.3,-10.5 1.7,-11.1 3.5,-13 5.9,-16.1 6.5,-14.5 3.3,-6z"/>
<path fill="#5e71a5" d="M71.3,18.6l0.9,-0.2 1.5,0.6 3.1,2.6 2,2.4 4.5,6.8 4,8.9 0.7,0.9 0.8,0.4 1.2,-0.9 4.3,-9.3 5,-7.4 1.5,-1.8 3.1,-2.6 1.5,-0.6 1,0.2 1.9,3 2.9,5.5 6.2,13.7 5.5,14.4 3.5,12 2,10.5 0.8,10.1 -0.5,10 -1.8,10.5 -3.7,13.1 -5.9,15.5 -6.8,15.1 -3.4,6 -1.2,1.2 -1.5,-0.4 -2.6,-1.9 -3.5,-4 -4,-6.2 -4,-8.8 -0.7,-1 -0.8,-0.4 -1.2,0.9 -4.3,9.3 -5,7.5 -1.5,1.8 -3.1,2.5 -1.5,0.7 -1,-0.2 -1.9,-3 -2.9,-5.5 -6.2,-13.8 -5.5,-14.3 -3.5,-12.1 -2,-10 -0.7,-10 0.4,-10.1 1.7,-10.5 3.3,-12 5.4,-14.6 6.6,-15 3.4,-6.5z"/>
<path fill="#6072a4" d="M72.3,19.6l1.4,0 2.1,1.4 4,4.5 3.5,5.5 4,8.9 0.5,0.7 1,0.6 1,-0.6 0.5,-0.7 4,-8.9 4,-6.1 2,-2.5 2,-1.8 2.1,-1.2 1,0.2 5.1,9.5 6.9,15.6 5.1,13.5 3.1,11 1.8,10 0.5,9.6 -0.5,9.5 -1.8,10 -3.5,12.1 -5.5,14.5 -7.3,16.1 -3.3,6 -1.1,1.2 -1,-0.2 -2.6,-1.8 -3.5,-4.2 -3.5,-5.4 -4,-8.9 -0.5,-0.8 -1,-0.5 -1,0.5 -0.5,0.8 -4,8.9 -4,6.1 -2,2.5 -2,1.8 -2.1,1.2 -1,-0.3 -5.1,-9.4 -6.9,-15.6 -5.1,-13.5 -3.1,-11.1 -1.7,-9.5 -0.6,-9.5 0.4,-9.6 1.7,-10 3.2,-11 5,-13.6 7.1,-16 3.3,-6.5z"/>
<path fill="#6273a2" d="M73.6,20.6l1.2,0.2 1.5,0.9 3.5,4.1 3.5,5.4 4,8.8 0.5,0.7 1,0.6 0.5,-0.2 0.9,-1 4.1,-8.9 4,-6.1 3.5,-3.7 1.5,-0.9 1.1,0.3 5.4,10.3 7.3,16.5 4.7,12.6 2.9,10.5 1.6,9.5 0.5,9.6 -0.7,9 -1.7,9.5 -3.3,11.1 -5.2,13.4 -7.8,17.2 -3.2,6 -1,1 -1.6,-0.5 -1.5,-1.1 -3.5,-4.3 -3,-4.8 -4,-8.8 -0.5,-0.7 -1,-0.5 -0.5,0.1 -0.9,1 -4.1,8.9 -4,6.1 -3.5,3.8 -1.5,0.8 -1.1,-0.2 -5.4,-10.3 -7.3,-16.6 -4.7,-12.5 -2.9,-10.6 -1.6,-9.5 -0.5,-9.5 0.7,-9.1 1.7,-9.5 3.3,-11 5,-13.1 7.5,-16.5 3.4,-6.5z"/>
<path fill="#6574a1" d="M74.2,22.1l1.1,-0.4 1,0.5 3.5,3.8 3.5,5.4 4,8.7 0.5,0.8 1,0.5 1,-0.5 0.5,-0.8 4,-8.7 3.5,-5.4 3.5,-3.8 1,-0.5 1,0.3 6,11.6 7.6,17.1 4.2,11.5 2.7,10 1.4,9.1 0.4,9 -0.7,9 -1.8,9 -3.2,10.6 -4.7,12 -8.3,18.1 -3,5.8 -1.1,1 -1,-0.2 -1,-0.7 -3.5,-4.1 -3,-4.7 -4,-8.7 -0.5,-0.7 -1,-0.5 -1,0.5 -0.5,0.7 -4,8.7 -3.5,5.4 -3.5,3.8 -1,0.5 -1,-0.2 -6,-11.7 -7.6,-17 -4.2,-11.5 -2.7,-10.1 -1.4,-9 -0.4,-9 0.7,-8.6 1.7,-9 2.7,-9.5 4.3,-11 7.1,-16.1z"/>
<path fill="#67749f" d="M75.5,23.1l0.8,-0.1 1,0.6 3,3.4 3,4.7 3.9,8.4 0.6,0.9 1,0.5 1,-0.5 0.6,-0.9 3.9,-8.4 3,-4.7 3,-3.4 1,-0.6 1,0.3 6.6,12.8 7.4,16.6 4,11 2.6,10 1.3,8.6 0.2,9 -0.8,8.5 -1.8,9 -3,9.6 -4.7,11.5 -8.6,18.6 -2.7,5 -1,1.1 -1,-0.3 -1,-0.8 -3.5,-4.4 -2.5,-4.2 -3.4,-7.5 -0.6,-0.9 -1,-0.5 -1,0.5 -0.6,0.9 -3.9,8.5 -3,4.6 -3,3.4 -1,0.7 -1,-0.3 -6.6,-12.8 -7.4,-16.6 -4,-11 -2.6,-10.1 -1.3,-8.5 -0.2,-9 0.8,-8.6 1.7,-8.5 2.9,-9.5 4.2,-10.5 7.8,-17.1 3.8,-7.5z"/>
<path fill="#69759e" d="M76.3,24.6l1,-0.2 1,0.7 3,3.6 2,3.2 3.8,8.2 0.7,1.1 1,0.4 1,-0.4 0.7,-1.1 3.8,-8.2 2,-3.2 3,-3.6 1,-0.7 1,0.2 7.2,14 7,15.6 4,11 2.5,9.5 1.1,8.6 0.2,8.5 -0.9,8.5 -1.8,8.5 -3.1,9.6 -4.4,10.5 -9.2,19.5 -2.2,4.1 -0.9,0.7 -1,-0.4 -1,-0.8 -3,-3.9 -3,-5.5 -2.3,-5.2 -0.7,-1 -1,-0.5 -1,0.5 -0.7,1 -3.8,8.2 -2,3.3 -3,3.6 -1,0.6 -1,-0.1 -7.2,-14.1 -7,-15.5 -4,-11.1 -2.5,-9.5 -1.1,-8.5 -0.2,-8.5 0.8,-8.1 1.8,-8.5 2.7,-8.5 4,-10 7.1,-15.4z"/>
<path fill="#6b769d" d="M77.2,26.1l0.6,-0.3 1,0.4 2.5,2.8 2,3.2 3.9,8.4 0.6,0.7 1,0.4 1,-0.4 0.6,-0.7 3.9,-8.4 2,-3.2 2.5,-2.8 1,-0.4 0.6,0.3 8.2,16 6.2,13.6 3.8,10.5 2.5,10 1,8.1 0,8.5 -0.9,8 -2,8.5 -3,9.1 -4.2,10 -10.2,20.6 -1.4,2.5 -0.6,0.3 -1.5,-0.9 -2.5,-3.1 -3,-5.4 -2.2,-5 -0.8,-1.2 -1,-0.4 -1,0.4 -0.6,0.7 -3.9,8.4 -2,3.2 -2.5,2.9 -1,0.4 -0.6,-0.3 -8.2,-16.1 -6.2,-13.5 -3.8,-10.6 -2.5,-10 -1,-8 0,-8 0.8,-8.1 1.8,-8 2.7,-8.5 3.7,-9 6.4,-13.6z"/>
<path fill="#6d769b" d="M78.1,27.6l0.7,-0.4 0.5,0.2 2.5,2.7 3,5.3 2.3,5.2 0.7,0.8 1,0.5 1,-0.5 0.7,-0.8 2.3,-5.2 3,-5.3 2.5,-2.7 0.5,-0.2 0.7,0.4 8.6,16.5 6,13.1 3.8,10.5 2.3,9.5 0.8,8.1 0,8 -1,8 -1.9,8 -3,8.6 -4.3,10 -10.5,20.8 -0.8,1.3 -0.7,0.3 -1,-0.5 -2,-2.3 -3,-5.4 -2.3,-5.2 -0.7,-0.8 -1,-0.4 -1,0.4 -0.7,0.8 -2.3,5.2 -3,5.4 -2.5,2.6 -0.5,0.2 -0.7,-0.3 -8.6,-16.6 -6,-13 -3.8,-10.6 -2.3,-9.5 -0.8,-7.5 0,-8 0.9,-8.1 1.9,-8 2.7,-8 3.5,-8.5 5.9,-12.1z"/>
<path fill="#6f779a" d="M78.9,29.1l0.9,-0.4 0.5,0.3 1.5,1.5 3,5.2 2.2,4.9 0.8,1 1,0.4 1,-0.4 0.8,-1 2.2,-4.9 3,-5.2 1.5,-1.5 0.5,-0.3 0.9,0.4 8.7,16.4 5.7,12.2 3.8,10.5 2.2,9.5 0.9,7.6 -0.1,8 -0.9,7.5 -1.9,8 -2.8,8.1 -3.7,8.5 -7.6,15 -3.7,7.1 -1,1.3 -1,-0.2 -1.5,-1.6 -3,-5.2 -2.2,-4.9 -0.8,-0.9 -1,-0.4 -1,0.4 -0.8,0.9 -2.2,4.9 -3,5.2 -1.5,1.6 -0.5,0.2 -0.9,-0.3 -8.7,-16.4 -5.7,-12.2 -3.8,-10.6 -2.2,-9.5 -0.9,-7.5 0.1,-7.5 0.8,-7.6 1.9,-8 2.5,-7.5 3.6,-8.5 5.4,-11.1z"/>
<path fill="#717899" d="M79.7,30.6l0.6,-0.4 0.5,0.1 1,0.8 3,4.9 2.1,4.6 0.9,1.1 1,0.4 1,-0.4 0.9,-1.1 2.1,-4.6 2.5,-4.3 1.5,-1.4 0.5,-0.1 0.5,0.4 9,16.5 5.5,11.6 3.8,10.5 2.1,9.5 0.8,7.6 -0.2,7.5 -1,7.5 -2,8 -2.9,8.1 -3.8,8.5 -10.3,19.4 -1.5,2.1 -1,-0.4 -1,-1.2 -2.5,-4.3 -2.1,-4.6 -0.9,-1.1 -1,-0.4 -1,0.4 -0.9,1.1 -2.1,4.6 -2.5,4.3 -1.5,1.5 -0.5,0.1 -0.5,-0.4 -9,-16.6 -5.5,-11.5 -3.8,-10.6 -2.1,-9.5 -0.8,-7.5 0.2,-7.5 1,-7.6 1.9,-7.5 2.6,-7.5 3.5,-8 4.9,-9.8z"/>
<path fill="#737897" d="M80.5,32.1l0.8,-0.4 1,0.7 2,3.1 2.8,5.6 0.7,0.8 1,0.4 1,-0.4 0.7,-0.8 2.8,-5.6 2,-3.1 1,-0.7 0.8,0.4 8.8,15.8 5.6,11.8 3.6,10 2.3,10 0.6,7.1 -0.2,7.5 -1.1,7.5 -2,7.5 -3,8.1 -4.2,9 -9.7,17.8 -0.7,1.3 -0.8,0.3 -1,-0.7 -1.5,-2.2 -3.3,-6.5 -0.7,-0.7 -1,-0.4 -1,0.4 -0.7,0.7 -2.8,5.7 -2,3 -1,0.7 -1,-0.7 -8.9,-16.2 -5.3,-11 -3.6,-10.1 -2.3,-10 -0.6,-7 0.2,-7.5 1,-7.1 2,-7.5 2.7,-7.5 3.6,-8 4.9,-9.6z"/>
<path fill="#757996" d="M81.3,33.6l0.5,-0.3 1,0.5 1.5,2.1 2.6,5.2 0.9,1 1,0.3 1,-0.3 0.9,-1 2.6,-5.2 1.5,-2.1 1,-0.5 0.5,0.3 8.6,15.1 5.7,11.5 3.8,10.5 2.1,10.1 0.5,7 -0.3,7 -1.1,7 -2,7.5 -2.8,7.6 -3.9,8.3 -9.3,16.7 -1.8,2.4 -1,-0.6 -1,-1.3 -3.1,-6 -0.9,-0.9 -1,-0.3 -1,0.3 -0.9,0.9 -2.6,5.3 -1.5,2 -1,0.6 -0.5,-0.4 -8.6,-15 -5.7,-11.5 -3.8,-10.6 -2.1,-10 -0.5,-7 0.3,-7 1.1,-7.1 1.8,-7 2.6,-7 3.7,-8 4.8,-9.1z"/>
<path fill="#777a94" d="M82,35.1l0.8,-0.3 1,0.9 3.3,5.9 0.7,0.6 1,0.3 1,-0.3 0.7,-0.6 2.8,-5.2 1,-1.2 1,-0.4 0.5,0.5 8.6,14.6 5.5,11.3 3.6,10 2,10.1 0.5,7 -0.3,7 -1.2,7 -2,7 -2.8,7.6 -3.6,7.5 -6.5,11.5 -3.3,5.6 -1,1.2 -1,-0.3 -1,-1.3 -2.8,-5.2 -0.7,-0.6 -1,-0.3 -1,0.3 -0.7,0.6 -2.8,5.2 -1,1.3 -1,0.3 -0.5,-0.4 -8.6,-14.7 -5.5,-11.2 -3.6,-10.1 -2,-10 -0.5,-6.5 0.3,-7 1.1,-7.1 1.9,-7 2.6,-7 3.5,-7.5 4.9,-9.1z"/>
<path fill="#797a93" d="M82.5,36.6l0.8,-0.4 0.5,0.3 3.1,5.1 0.9,0.8 1,0.3 1,-0.3 0.9,-0.8 3.1,-5.1 1,-0.1 0.5,0.5 8.5,14.3 5.4,11 3.6,10 1.1,5 0.8,5.1 0.4,7 -0.5,6.5 -1.2,7 -2.1,7 -3,7.6 -4.2,8.5 -8.3,14 -1,1.3 -0.5,0.1 -1,-0.8 -2.6,-4.6 -0.9,-0.8 -1,-0.2 -1,0.2 -0.9,0.8 -3.1,5.1 -1,0.2 -0.7,-0.8 -8.3,-14 -5.4,-11 -3.6,-10.1 -1.1,-5 -0.8,-5 -0.4,-6.5 0.4,-6.5 1.1,-6.6 1.9,-7 2.7,-7 3.3,-7 4.9,-8.7z"/>
<path fill="#7b7b92" d="M83,38.1l0.8,-0.4 0.5,0.2 2.9,4.2 1.6,0.8 1.6,-0.8 2.9,-4.2 0.5,-0.2 0.5,0.1 0.7,0.8 8.2,13.6 5.2,10.5 3.5,10 1.2,5 0.7,5.1 0.3,6.5 -0.4,6.5 -1.2,6.5 -2,7 -2.8,7.1 -4,8 -8.1,13.5 -1,1.5 -0.8,0.5 -1,-0.9 -2.4,-3.6 -1.6,-0.7 -1.6,0.7 -2.9,4.2 -0.5,0.3 -0.5,-0.2 -1,-1.3 -8,-13.4 -5.3,-10.6 -3.4,-10.1 -1.8,-9.5 -0.3,-6.5 0.4,-6.5 1.2,-6.6 1.8,-6.5 2.6,-6.5 3.6,-7.5 4.7,-8.3z"/>
<path fill="#7d7c90" d="M84.2,39.1l0.6,0.3 2.1,2.7 1.4,0.9 1,0 1,-0.5 3,-3.4 0.9,0.5 1.1,1.6 7.5,12.5 5.2,10.5 3.3,10 1.7,9.6 0.2,6.5 -0.6,6.5 -1.3,6.5 -2,6.5 -2.9,7.1 -3.8,7.5 -7.7,12.5 -1.1,1.4 -0.5,0.2 -1,-0.9 -1.6,-2.2 -1.4,-0.8 -1,0 -1,0.5 -3,3.4 -0.9,-0.6 -1.4,-2 -7.5,-12.5 -4.9,-10 -3.3,-10.1 -1.7,-9.5 -0.2,-6.5 0.5,-6 1.2,-6.6 2,-6.5 2.8,-7 3.9,-7.5 7.5,-12.5 1.1,-1.6z"/>
<path fill="#7f7d8f" d="M84.2,40.6l0.6,-0.2 0.5,0.3 1.9,1.9 1.6,0.6 1.6,-0.6 1.9,-1.9 1,-0.2 2.5,3.5 6.8,11.2 4.8,10 3.1,9.5 1.6,9.1 0.2,6.5 -0.5,6 -1.3,6.5 -2,6.5 -2.9,7.1 -3.9,7.5 -7.4,11.9 -0.9,1.1 -0.6,0.2 -2.4,-2.2 -1.6,-0.6 -1.6,0.6 -1.9,1.9 -1,0.2 -4.2,-6.1 -6.1,-10.5 -4.2,-9.1 -2.9,-9 -1.4,-8.5 -0.2,-6.5 0.5,-6 1.1,-6.1 2,-6.5 2.6,-6.5 3.5,-7 5.1,-8.6z"/>
<path fill="#817d8e" d="M84.4,42.1l0.9,-0.4 2,1.3 1.5,0.4 1.5,-0.4 2,-1.3 0.5,0.1 4.2,5.8 5.9,10.1 4.1,9 2.9,9 1.4,8.6 0.1,6.5 -0.5,6 -1.3,6 -2,6.5 -3,7.1 -4,7.5 -6.8,10.8 -1,1.1 -0.5,0.1 -2,-1.4 -1.5,-0.4 -1.5,0.4 -2,1.4 -0.5,-0.1 -1.5,-1.9 -4.5,-7 -5.1,-9 -3.7,-8.6 -2.4,-8 -1.3,-8 -0.1,-6 0.5,-6 1.1,-6.1 1.8,-6 2.7,-6.5 3.3,-6.5 4.2,-7.2z"/>
<path fill="#837e8c" d="M84.9,43.1l0.9,-0.4 3,1 3,-1 0.5,0.1 1.5,1.8 4.6,7.1 4.7,8.5 3.8,8.5 2.3,8 1.2,8.1 0.1,6 -0.5,6 -1.2,6 -2.1,6.5 -3.1,7.1 -3.7,7 -6.6,10.2 -1,1.1 -0.5,0.1 -3,-0.9 -3,0.9 -0.9,-0.4 -7.1,-11 -4.3,-8 -3.1,-7.6 -2.1,-7.5 -1.1,-7.5 -0.1,-6 0.4,-5.5 1.2,-6.1 1.9,-6 2.4,-6 3.3,-6.5 4.2,-7z"/>
<path fill="#857f8b" d="M86.2,43.6l2.6,0.4 2.5,-0.4 0.9,0.5 4.5,6.6 3.9,6.5 3.7,7.5 2.7,7 1.8,7 0.9,7.1 0,6 -0.6,5.5 -1.3,6 -2,6 -2.9,6.6 -3.8,7 -6.1,9.5 -0.8,1 -0.9,0.5 -2.5,-0.3 -2.5,0.3 -0.9,-0.5 -4.5,-6.5 -3.9,-6.5 -3.7,-7.6 -2.7,-7 -1.8,-7 -0.9,-7 0,-6 0.6,-5.6 1.3,-6 2,-6 2.9,-6.5 3.5,-6.5 6.4,-10.1z"/>
<path fill="#887f89" d="M86.3,44.6l1,-0.3 3,0 1,0.3 4.6,6.6 4.5,7.5 3.5,7 2.6,7 1.6,7 0.8,6.6 -0.1,6 -0.7,5.5 -1.3,6 -2.1,6 -3.2,7.1 -4,7 -5.7,8.5 -0.5,0.5 -1,0.4 -3.5,-0.1 -1,-0.8 -5.4,-8 -4.3,-7.5 -3,-6.6 -2.3,-6.5 -1.3,-6 -0.8,-6.5 0.1,-5.5 0.6,-5.6 1.2,-5.5 1.9,-6 2.4,-5.5 3.1,-6 4.3,-7z"/>
<path fill="#8a8088" d="M87.1,45.1l1.2,-0.3 1.5,0 1.5,1.1 5.9,8.8 4.4,8 2.8,6.5 1.9,6 1.4,6.6 0.4,6 -0.2,5.5 -0.8,6 -1.6,6 -2.3,6 -4,8.1 -5.6,9 -2.8,3.8 -1,0.5 -1,0.1 -1.7,-0.4 -2.1,-2.5 -6,-9.5 -4.2,-8.1 -2.3,-6 -1.6,-5.5 -1,-5.5 -0.4,-5.5 0.1,-5 0.8,-5.6 1.3,-5.5 1.9,-5.5 2.4,-5.5 3.2,-6 4.8,-7.5z"/>
<path fill="#8c8187" d="M87.9,45.6l0.9,-0.2 1,0.3 1.5,1.6 6.4,9.9 4.2,8 2.2,5.5 1.8,6 1.1,6.1 0.3,5.5 -0.2,5.5 -0.8,5.5 -1.6,6 -2.1,5.5 -3.5,7.1 -4.2,7 -4.1,6 -1,1 -1,0.2 -1,-0.2 -1,-1 -4.1,-6 -4.2,-7 -3.5,-7.1 -2.1,-5.5 -1.4,-5.5 -0.9,-5.5 -0.3,-5 0.2,-5.5 0.7,-5.1 1.3,-5 1.9,-5.5 2.5,-5.5 3.3,-6 5.8,-9.1z"/>
<path fill="#8e8185" d="M88.1,46.6l0.7,-0.2 1,0.4 1.9,2.4 6,9.5 3.8,7.5 2.2,5.5 1.6,5.5 0.9,5.6 0.4,5.5 -0.3,5.5 -0.7,5 -1.4,5.5 -2,5.5 -2.9,6.1 -3.7,6.5 -4.8,7.3 -1,1 -1,0.4 -1,-0.4 -1,-1 -4.2,-6.3 -4.1,-7 -2.9,-6.1 -2,-5.5 -1.4,-5 -0.8,-5 -0.4,-5.5 0.2,-5 0.7,-5.1 1.2,-5 1.9,-5.5 2.5,-5.5 3,-5.5 5.4,-8.5z"/>
<path fill="#908284" d="M88.5,47.6l1.3,0.4 2.1,2.7 5.8,9.5 3.7,7.5 1.8,5 1.5,5.5 0.9,5.6 0.2,5 -0.2,5 -0.9,5.5 -1.3,5 -1.8,5 -3.6,7.6 -5.5,9 -2.2,3.2 -1.5,0.9 -1.5,-0.9 -2.2,-3.2 -5.5,-9 -3.6,-7.6 -1.8,-5 -1.3,-5 -0.9,-5.5 -0.2,-5 0.2,-5 0.9,-5.6 1.3,-5 1.8,-5 2.6,-5.5 3.4,-6 4.4,-7 1.4,-1.7z"/>
<path fill="#928382" d="M87.8,49.2l1,-0.5 0.5,0.2 2,2 5.8,9.8 3,6 2.2,5.5 1.6,5.5 0.8,5.1 0.4,5.5 -0.2,5 -0.7,5 -1.3,5 -1.9,5.5 -3.3,7.1 -5.6,9.5 -1.8,2.5 -1.5,0.9 -1.5,-0.9 -1.8,-2.5 -5.6,-9.5 -3.1,-6.6 -1.8,-5 -1.4,-5 -0.8,-5 -0.3,-5 0.2,-4.5 0.6,-5.1 1.2,-5 1.5,-4.5 4.5,-9.5 5.3,-9z"/>
<path fill="#948381" d="M88,50.2l1.3,-0.2 2,2 5.6,9.7 2.9,6 1.9,5 1.5,5.5 0.9,5.1 0.3,5 -0.2,5 -0.7,4.5 -1.2,5 -1.7,5 -2.9,6.6 -5.7,10 -1.7,2.4 -1.5,0.9 -1.5,-0.9 -1.7,-2.4 -5.4,-9.5 -3,-6.6 -1.8,-5 -1.1,-4.5 -0.8,-4.5 -0.3,-5 0.2,-4.5 0.6,-4.6 1,-4.5 1.6,-5 4.4,-9.5 4.8,-8.4z"/>
<path fill="#968480" d="M88.2,51.2l0.6,-0.2 1,0.4 1.5,1.8 5.6,10 2.6,5.5 1.8,5 1.3,5 0.8,5.1 0.3,4.5 -0.2,4.5 -0.7,5 -1.2,5 -1.5,4.5 -2.7,6.1 -5.4,10 -1.7,2.3 -1.5,0.8 -1.5,-0.8 -1.7,-2.3 -5.1,-9.5 -2.8,-6.1 -1.6,-4.5 -1.1,-4.5 -0.8,-5 -0.3,-4.5 0.2,-4.5 0.6,-4.6 1,-4.5 1.6,-5 2.6,-6 5.1,-9.5 1.8,-2.8z"/>
<path fill="#98857e" d="M86.3,54.1l2,-1.9 1,0 1,0.7 1,1.2 7,13.6 2,5 1.4,5 0.9,5.1 0.4,5 -0.1,4.5 -0.7,5 -1.1,5 -1.5,4.5 -2.4,5.5 -5.2,10.1 -1.7,2.2 -1.5,0.8 -1.5,-0.8 -1.5,-2 -5.1,-9.8 -2.3,-5 -1.6,-4.5 -1.1,-4.5 -0.8,-4.5 -0.3,-4.5 0.6,-8.5 0.9,-4.6 1.4,-4.5 2.5,-6 4,-8z"/>
<path fill="#9a867d" d="M87.7,53.7l1.6,-0.3 1,0.6 1,1.2 6.7,13.5 1.9,5 1.3,4.5 0.8,5.1 0.3,5 -0.1,4.5 -0.6,4.5 -1.1,4.5 -1.5,4.5 -2.1,5 -5,10.1 -1.6,2.2 -1.5,0.7 -1.5,-0.7 -1.5,-2 -7.1,-14.8 -1.5,-4.5 -1.1,-4.5 -0.8,-8.5 0.6,-8.5 2.3,-8.6 2,-5 4.4,-9 1.7,-3z"/>
<path fill="#9c867c" d="M87.8,54.7l1,-0.3 1,0.3 1.5,1.5 1.7,3 4.6,10 1.8,5 1.2,4.5 0.8,5.1 0.3,4.5 -0.7,8.5 -1,4.5 -1.5,4.5 -6.7,14.8 -1.5,1.9 -1.5,0.7 -1.5,-0.7 -1.5,-1.9 -6.6,-14.3 -2.4,-8.5 -0.9,-8.5 0.6,-8 2.2,-8.6 6.2,-14 1.4,-2.5z"/>
<path fill="#9e877a" d="M88,55.7l0.8,-0.2 1,0.3 1,0.8 1,1.4 5.5,12.2 1.6,4.5 1.2,4.5 0.7,4.6 0.2,4.5 -0.7,8.5 -2.2,8.5 -5.8,13.4 -2,2.8 -1.5,0.6 -1.5,-0.6 -1.9,-2.6 -5.7,-13.1 -2.3,-8 -0.8,-8.5 0.6,-8 2,-8.1 5.9,-14 1.7,-2.6z"/>
<path fill="#a08879" d="M88.2,56.7l1.1,-0.1 1,0.5 1.5,1.9 5.2,12.2 2.5,8.5 0.9,8.6 -0.7,8.5 -2.1,8 -5.7,13.6 -1.6,2 -1.5,0.6 -1.5,-0.6 -1.6,-2 -5.3,-12.6 -2.4,-8.5 -0.8,-8 0.6,-8 2,-8.1 5.5,-13.3 1.5,-2.3z"/>
<path fill="#a28877" d="M88.7,57.7l1.6,0.5 1.5,1.8 1.7,3.7 3.1,8 2.4,8.5 0.6,4.1 0.2,4.5 -0.7,8 -2.1,8 -3.5,9.1 -1.7,3.6 -1.5,1.9 -1.5,0.5 -1.5,-0.5 -1.5,-1.9 -1.7,-3.6 -3.5,-9.1 -2.1,-8 -0.7,-8 0.7,-8 2.1,-8.1 3.5,-9 1.7,-3.7 1.5,-1.8z"/>
<path fill="#a48976" d="M87.4,59.2l1.4,-0.5 1.5,0.6 1.5,1.8 1.3,2.6 4.6,13.5 1,5.1 0.5,5.5 -0.6,8 -2.1,8.5 -4.2,11.3 -1.5,2.3 -1,0.7 -1,0.2 -1.5,-0.5 -1,-1 -1.5,-2.8 -1.7,-4.2 -3.6,-11.5 -0.8,-4.5 -0.3,-4.5 0.4,-7 1.6,-7.6 4.3,-12 1.6,-2.9z"/>
<path fill="#a68a75" d="M87.5,60.2l1.3,-0.4 1.5,0.5 1.5,1.8 1.1,2.1 1.5,4 2.7,9 1.1,5.6 0.4,5 -0.2,5 -0.7,5 -3.3,11.5 -2.6,6.2 -1.5,1.7 -1.5,0.6 -1.5,-0.6 -1,-1 -1.3,-2.3 -1.5,-3.6 -3.4,-11.5 -0.8,-4.5 -0.3,-4.5 0.5,-7.5 1.6,-7.6 3.7,-10.6 1.5,-2.8z"/>
<path fill="#a88a73" d="M87.6,61.2l1.7,-0.3 1.5,0.9 1.3,1.9 1.4,3 2,6.5 1.4,5.5 0.8,4.6 0.3,4.5 -0.1,4.5 -0.7,5 -1.2,5.5 -2,6.5 -1.7,4.2 -1,1.7 -1,1 -1.5,0.5 -1.5,-0.5 -1,-1 -1,-1.7 -1.5,-3.7 -3.2,-11.5 -1,-8.5 0.4,-7.5 1.9,-8.6 1.9,-6 1.5,-3.7 1,-1.6z"/>
<path fill="#ab8b72" d="M87.7,62.2l1.6,-0.2 1.5,0.9 1,1.3 1.5,3.2 2,6.3 1.2,5.5 1,8.6 -0.2,4.5 -0.6,5 -1.3,6 -1.6,5.5 -1,2.6 -1.5,2.7 -1,1 -1.5,0.5 -1.5,-0.5 -1,-1 -2.3,-4.8 -2.9,-11 -1,-8.5 0.5,-7.5 1.9,-9.1 1.7,-5.5 1.1,-2.6 1,-1.7z"/>
<path fill="#ad8c71" d="M87.8,63.2l1.5,-0.2 1.5,0.9 1,1.3 1.4,3 2.5,9.5 0.9,5.6 0.3,4.5 -0.1,5 -0.7,5 -1.1,5.5 -1.6,5.5 -2.1,4.3 -1,0.9 -1.5,0.6 -1.5,-0.6 -1,-0.9 -2,-4.1 -1.7,-5.7 -0.9,-4.5 -1,-9 0.3,-7 1.7,-9.1 2.6,-7.6 1,-1.6z"/>
<path fill="#af8c6f" d="M88,64.2l1.3,-0.1 1,0.5 1.5,1.7 1,2 2.3,8.4 1,6.1 0.3,5 -0.4,7.5 -1.6,9 -1.6,5 -1,1.9 -1.5,1.8 -1.5,0.5 -1.5,-0.5 -1,-1 -1,-1.6 -1,-2.6 -1.3,-4.5 -0.9,-4.5 -0.9,-9 0.3,-7 1.6,-9.1 2.2,-6.5 1.5,-2.2z"/>
<path fill="#b18d6e" d="M88.2,65.2l1.1,-0.1 1.5,1 1,1.3 1,2.1 1.4,4.2 0.8,4 0.7,5.6 0.3,5 -0.5,7.5 -1.5,8.5 -2.2,5.9 -1.5,1.7 -1.5,0.6 -1.5,-0.6 -1.5,-1.7 -2.1,-5.4 -1.5,-8 -0.6,-7.5 0.4,-7 1.4,-8.6 2.2,-6 1.2,-1.6z"/>
<path fill="#b38e6c" d="M88.4,66.2l1.4,0.2 1.5,1.4 1,1.7 1.3,3.7 1.4,7.6 0.6,7.5 -0.4,7.5 -1.4,8 -2,5.2 -1.5,1.8 -1.5,0.6 -1.5,-0.6 -1.3,-1.5 -2,-5 -1.4,-7.5 -0.6,-7.5 0.4,-7.5 1.4,-8.1 2,-5.2 1.5,-1.7z"/>
<path fill="#b58f6b" d="M87.6,67.7l1.2,-0.5 1.5,0.7 1.5,1.9 1,2.2 1.5,6.2 0.9,8.6 -0.3,8 -1.3,8.5 -1.3,3.5 -1,1.8 -1.5,1.4 -1,0.3 -1,-0.3 -1.5,-1.4 -2,-4.4 -1.2,-5.9 -0.7,-7.5 0.2,-7.5 1.2,-8.1 2,-5.4z"/>
<path fill="#b78f6a" d="M87.7,68.7l1.1,-0.4 1.5,0.7 1.5,2 1,2.2 1.4,6 0.6,8.1 -0.3,8 -1.2,7.5 -2,4.6 -1.4,1.4 -1.1,0.4 -1.1,-0.4 -1.4,-1.4 -1.9,-4.1 -1.1,-6 -0.5,-7 0.2,-7.5 1.2,-7.6 1.6,-4.2z"/>
<path fill="#b99068" d="M88,69.7l1.3,-0.1 1,0.6 1.5,2.1 0.9,1.9 1.2,5.5 0.6,7.6 -0.3,8 -1.2,7 -0.7,2 -1.2,2 -1.3,1.4 -1,0.4 -1,-0.4 -1,-0.9 -2,-3.8 -1.2,-5.7 -0.5,-7 0.2,-7 1,-6.9 1.5,-4.1 1,-1.5z"/>
<path fill="#bb9167" d="M88.4,70.7l0.9,0 1,0.7 1.5,2.2 0.7,1.6 1.2,5.6 0.5,7 -0.3,7.5 -1.1,6.1 -0.9,2.4 -1.1,1.7 -1,1 -1,0.4 -1,-0.4 -1,-1 -1.9,-3.7 -1.1,-5.5 -0.4,-6.5 0.3,-7.5 1.1,-6.2 1.5,-3.4 1,-1.3z"/>
<path fill="#bd9165" d="M87.8,72.2l1,-0.4 1,0.4 1.3,1.5 1,2 1.2,5 0.5,6.1 -0.1,7 -1,6 -1.6,4 -1.3,1.5 -1,0.4 -1,-0.4 -0.9,-1 -1.6,-3 -1,-4.4 -0.5,-6.1 0.1,-6.5 0.9,-6.3 1.1,-3.3z"/>
<path fill="#bf9264" d="M88.3,73.2l1,0 1,0.9 1.7,3.1 1.1,4.6 0.4,6 -0.2,6 -1,5.7 -1.5,3.3 -1,1.2 -1,0.5 -1,-0.5 -1,-1.2 -1.5,-3.3 -0.9,-4.7 -0.3,-5 0.2,-6 0.8,-5.1 1.2,-3.1 1,-1.5z"/>
<path fill="#c19363" d="M88,74.7l0.8,-0.3 1,0.5 1.7,2.8 1.1,4.1 0.5,5.5 -0.1,6 -0.8,4.5 -1.4,3.5 -1,1.3 -1,0.5 -1.5,-1 -1.5,-3 -1,-4.3 -0.3,-4.5 0.1,-5.5 0.7,-4.6 1,-3z"/>
<path fill="#c39361" d="M88,76.2l0.8,-0.4 0.5,0.2 1,1 0.9,1.7 1.1,4.1 0.4,4.5 -0.1,5 -0.8,4.7 -1.5,3.5 -1,1.1 -0.5,0.1 -0.5,-0.1 -1,-1.1 -1.2,-2.7 -0.8,-3.2 -0.4,-4.3 0.1,-4.5 0.5,-4 1.1,-3.6z"/>
<path fill="#c59460" d="M88.1,77.7l0.7,-0.3 0.5,0.1 1.5,2.4 1,3.5 0.4,4.4 -0.1,4.5 -0.8,4 -1,2.5 -0.8,1 -0.7,0.4 -1,-0.7 -1.3,-2.7 -0.8,-3 -0.3,-4 0,-3.5 0.5,-3.5 0.9,-2.9z"/>
<path fill="#c7955f" d="M88.4,79.2l0.9,0.1 0.4,0.4 0.9,2.1 0.8,3 0.2,3.5 -0.1,3.5 -0.7,3.5 -1,2.4 -1,0.7 -1,-0.7 -1,-2.4 -0.8,-6 0.1,-3.5 0.6,-3 0.6,-2z"/>
<path fill="#c9955d" d="M88.6,81.3l0.7,0.1 1,2.2 0.6,5.2 -0.6,5.2 -0.5,1.4 -1,1 -1,-1 -0.5,-1.4 -0.6,-5.2 0.6,-5.2 0.5,-1.4z"/>
<path fill="#cb965c" d="M87.8,85.9l1,-1.9 0.5,0.4 0.5,1.5 0.2,2.4 -0.2,3.3 -0.5,1.5 -0.5,0.5 -0.5,-0.5 -0.5,-1.3 -0.2,-2.5z"/>
</g></g>
<g filter="url(#soft2)">
<rect x="374.40" y="61.50" width="5.00" height="83.30" fill="#f3bd6c"/>
<rect x="372.55" y="67.70" width="8.70" height="70.90" fill="#f3bd6c"/>
<rect x="370.70" y="76.50" width="12.40" height="53.30" fill="#f3bd6c"/>
<rect x="369.05" y="88.60" width="15.70" height="29.40" fill="#f3bd6c"/>
</g><g filter="url(#soft)">
<rect x="375.20" y="62.30" width="3.40" height="81.70" fill="#ffedb4"/>
<rect x="373.35" y="68.50" width="7.10" height="69.30" fill="#ffedb4"/>
<rect x="371.50" y="77.30" width="10.80" height="51.70" fill="#ffedb4"/>
<rect x="369.85" y="89.40" width="14.10" height="27.80" fill="#ffedb4"/>
</g>
</g>
<rect x="284.50" y="10.50" width="185.00" height="185.10" fill="none" stroke="#3c3c3c" stroke-width="1.25"/>
<line x1="284.50" x2="287.30" y1="22.30" y2="22.30" stroke="#111" stroke-width="1.2"/>
<text x="281.80" y="29.30" font-family='"Liberation Sans", sans-serif' font-size="20.0" font-weight="normal" font-style="normal" text-anchor="end" stroke="#000" stroke-width="0.25" letter-spacing="-0.45">0.2</text>
<line x1="284.50" x2="287.30" y1="103.10" y2="103.10" stroke="#111" stroke-width="1.2"/>
<text x="281.80" y="110.10" font-family='"Liberation Sans", sans-serif' font-size="20.0" font-weight="normal" font-style="normal" text-anchor="end" stroke="#000" stroke-width="0.25" letter-spacing="-0.45">0</text>
<line x1="284.50" x2="287.30" y1="184.10" y2="184.10" stroke="#111" stroke-width="1.2"/>
<text x="281.80" y="191.10" font-family='"Liberation Sans", sans-serif' font-size="20.0" font-weight="normal" font-style="normal" text-anchor="end" stroke="#000" stroke-width="0.25" letter-spacing="-0.45">−0.2</text>
<line x1="295.90" x2="295.90" y1="195.60" y2="192.80" stroke="#111" stroke-width="1.2"/>
<text x="295.50" y="215.90" font-family='"Liberation Sans", sans-serif' font-size="20.0" font-weight="normal" font-style="normal" text-anchor="middle" stroke="#000" stroke-width="0.25" letter-spacing="-0.45">−4</text>
<line x1="376.90" x2="376.90" y1="195.60" y2="192.80" stroke="#111" stroke-width="1.2"/>
<text x="376.50" y="215.90" font-family='"Liberation Sans", sans-serif' font-size="20.0" font-weight="normal" font-style="normal" text-anchor="middle" stroke="#000" stroke-width="0.25" letter-spacing="-0.45">0</text>
<line x1="457.90" x2="457.90" y1="195.60" y2="192.80" stroke="#111" stroke-width="1.2"/>
<text x="457.50" y="215.90" font-family='"Liberation Sans", sans-serif' font-size="20.0" font-weight="normal" font-style="normal" text-anchor="middle" stroke="#000" stroke-width="0.25" letter-spacing="-0.45">4</text>
<text x="292.10" y="39.70" font-family='"Liberation Sans", sans-serif' font-size="22" font-weight="bold" font-style="normal" text-anchor="start" letter-spacing="-0.91">(a2)</text>
<g id="hm-a3">
<rect x="519.65" y="14.45" width="177.60" height="177.55" fill="#26538c"/>
<clipPath id="cp-a3"><rect x="0" y="0" width="177.60" height="177.55"/></clipPath>
<g transform="translate(519.65,14.45)" clip-path="url(#cp-a3)"><g fill-rule="evenodd" filter="url(#soft)">
<path fill="#28548e" d="M53.1,6l5.6,0.2 4.5,1 5,2.1 5,3.2 3.6,3 4.3,5.1 3.9,6 3.3,6.6 0.5,0.5 0.5,-0.5 2.7,-5.6 3.1,-5 2.5,-3.5 3.7,-4.1 4.1,-3.3 4,-2.4 5,-2.1 4.5,-1 5,-0.2 6.5,0.8 5.6,1.4 4.5,2 4.5,3 4.2,3.9 4.1,5 3.4,5.5 3.1,6.5 3,8.5 2.5,10.1 1.7,10.5 1,12.5 0.3,13.1 -0.3,13 -1,12.6 -1.6,10 -2,8.5 -2.6,8 -3.1,7.1 -3.4,6 -4.2,5.5 -4.6,4.4 -5,3.4 -3,1.5 -4.6,1.5 -7.5,1.2 -7,-0.3 -4,-0.9 -3,-1.1 -3,-1.4 -4,-2.7 -3.1,-2.6 -3.2,-3.5 -4.6,-6.5 -2,-3.5 -2.2,-4.7 -0.5,-0.4 -0.5,0.4 -3.3,6.7 -4.6,7 -4.1,4.5 -4.1,3.3 -5,3 -5.5,1.9 -7,0.9 -4.5,-0.3 -5.5,-1 -3.6,-1.1 -4,-1.9 -4,-2.6 -3.5,-3 -3.4,-3.7 -2.9,-4 -2.4,-4 -4.1,-9.1 -3,-9.5 -2.5,-12 -1.4,-12.1 -0.6,-13.5 0.3,-18.1 1.2,-13.5 2.1,-12 2.9,-10.6 3.1,-8 4.4,-8 4.7,-6 5.1,-4.8 6,-3.6 6.1,-2z"/>
<path fill="#29558f" d="M51.2,7l4.5,-0.2 4,0.3 3,0.7 5,2 5,3.1 3.6,3 3.6,4.2 4.7,7 3.2,6.7 1,1.4 1,-1.4 2.7,-5.7 3.1,-5 2.4,-3.5 3.7,-4.1 4.2,-3.3 4,-2.4 3.5,-1.5 5,-1.2 5,-0.3 5,0.5 6.1,1.5 5,2.2 4.5,3 3.9,3.6 3.7,4.5 3.2,5 3.4,7 3.1,8.5 2.4,9.6 1.6,10 1.1,12 0.4,11.6 -0.2,14 -0.9,12.5 -1.4,9.6 -1.9,9 -2.6,8.5 -2.9,7.1 -3.6,6.5 -4,5.5 -4.3,4.3 -5,3.5 -3,1.5 -4.1,1.5 -8.5,1.4 -7,-0.4 -4,-1 -2.5,-1.1 -3.5,-1.8 -3,-2.2 -3.1,-2.5 -3.3,-3.7 -5,-7.5 -3.2,-6.8 -1,-1.3 -1,1.3 -2.7,5.8 -3.1,5 -2.4,3.5 -3.7,4 -4.2,3.4 -4,2.4 -3.5,1.5 -5,1.2 -5,0.3 -5,-0.6 -6.1,-1.4 -5,-2.2 -4.5,-3 -3.9,-3.6 -3.7,-4.5 -3.2,-5 -4,-8.6 -3.3,-10 -2.3,-10.5 -1.6,-12.1 -0.7,-13.5 0.1,-17.6 0.9,-13 1.8,-12 2.6,-10.6 3.1,-8.5 4,-8 4.1,-6 5.1,-5.3 5.5,-3.8 6.6,-2.7z"/>
<path fill="#2b5691" d="M51.4,7.5l3.3,-0.3 3.5,0.2 4.5,0.9 5,1.9 5,3.2 3.2,2.6 4.7,5.6 3.8,6 3.9,8 0.5,0.4 0.5,-0.4 2.8,-6 2.9,-5 3.1,-4.5 3.7,-4.2 4.1,-3.3 4,-2.4 4.5,-1.8 4.5,-0.9 5,-0.2 6,0.9 5.1,1.5 4.5,2.2 4.4,3.1 3.6,3.6 3.5,4.5 3,4.9 3.5,7.5 2.9,8.6 2.1,8.8 1.7,10.3 1,11.5 0.3,12.6 -0.2,13.5 -0.9,12 -1.3,9.2 -2.1,9.2 -2.5,8.1 -3,7.3 -3.5,6.4 -4.1,5.5 -4.6,4.5 -4.8,3.3 -3,1.4 -3.6,1.2 -4.5,1 -4,0.4 -7,-0.6 -3.5,-1 -3,-1.4 -4,-2.4 -3.6,-2.8 -4.2,-4.6 -4.9,-7.5 -3.9,-8.1 -0.5,-0.4 -0.5,0.4 -2.8,6.1 -2.9,5 -3.1,4.5 -3.7,4.2 -4.1,3.2 -4,2.4 -4.5,1.8 -4.5,1 -5,0.2 -6,-0.9 -5.1,-1.5 -4.5,-2.2 -4.4,-3.2 -3.6,-3.5 -3.5,-4.5 -3,-4.9 -4,-8.9 -3,-9.5 -2.3,-10.8 -1.5,-11.6 -0.7,-13.5 0.1,-17.1 1,-13 1.8,-12 2.5,-10.1 2.9,-8.5 3.7,-7.5 4.3,-6.5 4.7,-5.1 5.6,-4 6,-2.5z"/>
<path fill="#2d5792" d="M50.9,8l4.3,-0.4 3.5,0.2 3,0.5 5.5,2 5,3 3.6,3 4.1,4.8 4.5,7 3.9,8.2 0.5,0.4 0.5,-0.4 2.8,-6.2 2.9,-5 3.1,-4.5 3.7,-4.3 3.6,-3 4,-2.5 4.5,-1.9 4.5,-1 5,-0.3 5,0.7 5.6,1.6 4.3,2.1 4.2,3 3.6,3.6 3.4,4.3 3,4.9 3.5,7.5 2.9,8.3 2.1,8.9 1.7,10.2 1,11 0.4,12.1 -0.2,14 -0.8,12.1 -1.5,10.5 -2,9 -2.6,8.2 -3,7.2 -3.5,6.4 -3.9,5.3 -4.7,4.5 -4.5,3 -3.2,1.5 -3.3,1.1 -4.5,1 -3.5,0.3 -4,-0.1 -3,-0.6 -3,-0.9 -3.5,-1.5 -3.5,-2.2 -3.6,-2.8 -3.9,-4.3 -4.9,-7.5 -4.2,-8.7 -0.5,-0.4 -0.5,0.4 -2.8,6.2 -2.9,5 -3.1,4.5 -3.7,4.3 -3.6,2.9 -4,2.6 -4.5,1.9 -4.5,1 -5,0.2 -5,-0.7 -5.6,-1.6 -4.3,-2.1 -4.2,-3 -3.6,-3.5 -3.4,-4.3 -3,-4.9 -4,-8.8 -3,-9.5 -2.2,-10.1 -1.6,-11.6 -0.7,-13.5 0,-16.6 0.8,-13 1.7,-11.6 2.1,-9.5 2.9,-9 3.5,-8 4.4,-7 4.4,-5 5.1,-4.1 5.6,-2.8z"/>
<path fill="#2f5894" d="M53.8,8l5.4,0.2 5,1.1 5,2.3 5.6,4.1 4.1,4.4 3.1,4.5 3,5 3.3,7.2 0.5,0.4 0.5,-0.4 3.3,-7.2 3,-5 3.1,-4.5 3.2,-3.5 4,-3.3 4,-2.5 3.5,-1.5 4.5,-1.1 5,-0.2 4.3,0.5 5.4,1.5 4.2,2 4.2,3 3.6,3.6 3.5,4.5 3.3,5.5 3.3,7.5 2.8,8.5 2.1,9.1 1.6,10 1,11.5 0.3,12.6 -0.3,13.5 -0.9,11.5 -1.3,9.1 -2,9.1 -2.5,8.3 -3,7.4 -3.4,6.3 -4.1,5.5 -4.6,4.5 -4.5,3 -3.3,1.5 -3.2,1 -4,0.8 -3,0.3 -4,-0.2 -3,-0.6 -3,-0.9 -3.5,-1.7 -3,-1.9 -3.1,-2.4 -4.1,-4.4 -5,-7.5 -3.9,-8.3 -1,-1.3 -0.5,0.3 -3.3,7.3 -3,5 -3.1,4.5 -3.2,3.5 -4,3.3 -4,2.4 -3.5,1.5 -4.5,1.1 -5,0.3 -4.3,-0.6 -5.4,-1.5 -4.2,-2 -4.2,-3 -3.6,-3.5 -3.5,-4.5 -3.3,-5.5 -3.6,-8.3 -3.1,-9.8 -2.2,-11 -1.4,-11.6 -0.7,-14 0.1,-16.6 0.9,-12.5 1.9,-12 2.4,-10.1 3.1,-8.8 3.7,-7.7 4.3,-6.4 5,-5.2 5.1,-3.5 5,-2z"/>
<path fill="#305a95" d="M52.6,8.5l6.1,-0.1 4.5,0.9 5,2 4,2.6 3.2,2.7 4.7,5.5 3.9,6 3.8,8.2 1,1.3 0.6,-0.5 3.1,-7 3,-5 3.1,-4.5 3.6,-4 3.7,-3.1 3.5,-2.2 4.5,-1.9 4,-0.9 5,-0.2 4.5,0.7 4.8,1.5 3.9,2 3.9,3 3.4,3.6 3.3,4.5 2.9,5 3.4,7.5 2.6,8 2.2,9.6 1.6,10 0.9,11 0.4,12.6 -0.3,13.5 -0.9,11.6 -1.4,10 -2,9 -2.6,8.5 -2.9,7.1 -3.6,6.5 -3.6,5 -4.6,4.5 -4.5,3 -3.4,1.5 -3,0.9 -6,0.9 -3.5,-0.2 -3,-0.5 -3,-1 -3.5,-1.7 -3,-1.9 -3.2,-2.5 -4.1,-4.5 -5,-7.5 -3.8,-8.3 -1,-1.3 -0.6,0.5 -3.1,7.1 -3,5 -3.1,4.5 -3.6,4 -3.7,3 -3.5,2.2 -4.5,2 -4,0.9 -5,0.1 -4.5,-0.7 -4.8,-1.5 -3.9,-2 -3.9,-3 -3.4,-3.5 -3.3,-4.5 -2.9,-5 -3.6,-8.1 -2.9,-9.5 -2.3,-10.5 -1.4,-11.6 -0.8,-13.5 0.1,-16.1 0.7,-12.5 1.6,-11.5 2.2,-10.1 2.8,-9 3.6,-8 3.9,-6.5 4.7,-5.5 4.9,-4.1 5.2,-2.5z"/>
<path fill="#325b97" d="M52,9l2.7,-0.4 3.5,0 4.5,0.7 5,2 4.5,2.8 3.1,2.5 4.6,5.5 4.2,6.5 3.7,8.1 1,1.3 1,-1.3 2.7,-6.1 3.2,-5.5 3.1,-4.5 3.5,-4 4.1,-3.2 3.5,-2.1 3.5,-1.5 4,-1 5,-0.2 3.2,0.4 4.9,1.5 3.8,2 3.9,3 3.3,3.6 3.3,4.5 2.9,5 3.3,7.5 2.8,8.5 2.2,9.6 1.5,10 0.9,11 0.3,12.6 -0.2,13 -0.9,11.5 -1.4,9.6 -1.9,9 -2.4,8 -3,7.6 -3.4,6.5 -4,5.5 -4.5,4.5 -4.4,3 -3.4,1.5 -3.6,1 -2.7,0.4 -3.5,0 -3,-0.4 -3,-0.7 -5.5,-2.7 -5.5,-4.1 -4,-4.5 -4.9,-7.5 -3.7,-8.2 -1,-1.2 -1,1.2 -2.7,6.2 -3.2,5.5 -3.1,4.5 -3.5,3.9 -4.1,3.3 -3.5,2.1 -3.5,1.5 -4,0.9 -5,0.2 -3.2,-0.4 -4.9,-1.5 -3.8,-2 -3.9,-3 -3.3,-3.5 -3.3,-4.5 -2.9,-5 -3.5,-8.1 -2.9,-9 -2.2,-10.5 -1.5,-11.1 -0.8,-13 0,-15.5 0.6,-12.6 1.4,-11.5 2,-10.1 2.6,-8.7 3.1,-7.8 3.8,-7 4,-5.5 4.7,-4.6 4.8,-3z"/>
<path fill="#345c98" d="M54.4,9l5.3,0 5,1.2 5.5,2.8 4.6,3.4 3.8,4.2 3.5,5 2.9,5 2.8,6.5 1,1.2 1,-1.2 2.8,-6.5 2.9,-5 3.5,-5 3.3,-3.8 4.1,-3.2 3.5,-2.1 3.5,-1.5 4,-0.9 5,-0.1 3.3,0.5 4.1,1.5 3.4,2 3.6,3 3.5,4.1 3.1,4.5 3,5.5 3.1,7.5 2.6,8.5 2,9.6 1.4,10 0.9,12 0.2,13.6 -0.4,12 -0.9,11.1 -1.5,9.5 -2.1,9 -2.6,8 -2.9,7.1 -3.7,6.5 -3.8,5 -4.2,4 -4.7,3 -2.4,1 -3.5,0.9 -5.5,0.2 -5.5,-1.2 -3,-1.4 -3,-1.7 -4.6,-3.6 -4.1,-4.7 -4.5,-7 -3.9,-8.6 -1,-1.2 -1,1.2 -2.8,6.6 -2.9,5 -3.5,5 -3.3,3.7 -4.1,3.2 -3.5,2.1 -3.5,1.5 -4,1 -5,0.1 -3.3,-0.6 -4.1,-1.5 -3.4,-2 -3.6,-3 -3.5,-4 -3.1,-4.5 -3,-5.5 -3.3,-8.1 -2.8,-9.5 -2,-10.3 -1.4,-11.3 -0.6,-12.5 0,-15.6 0.7,-12 1.5,-11.5 2.1,-10.1 2.7,-9 3.3,-8 3.7,-6.5 4.3,-5.5 5,-4.6 4.5,-2.5z"/>
<path fill="#365d9a" d="M54,9.5l5.2,-0.3 5,1 5,2.3 5.1,3.7 4.1,4.4 3.2,4.5 2.9,5 3.3,7.4 1,1.1 1,-1.1 3.3,-7.4 2.6,-4.5 3.5,-5 3.1,-3.5 3.7,-3.1 3.4,-2 3.5,-1.6 4,-1 3.5,-0.2 4,0.5 3.5,1.3 4,2.5 3.3,3.1 3.4,4 3,4.5 2.6,5 3.3,8 2.5,8.5 2,9.6 1.4,10 0.8,11.5 0.2,13.1 -0.3,12 -1,11.1 -1.5,9.5 -2,9 -2.6,8.4 -3,7.2 -3.5,6.3 -3.9,5.2 -4.1,4 -4.6,3 -4.5,1.5 -3.5,0.3 -2.5,-0.1 -5.5,-1.5 -5.5,-3 -4,-3.2 -4.3,-5 -4.5,-7 -3.8,-8.5 -1,-1.1 -1,1.1 -3.3,7.5 -2.6,4.5 -3.5,5 -3.1,3.5 -3.7,3 -3.4,2.1 -3.5,1.5 -4,1 -3.5,0.2 -4,-0.5 -3.5,-1.3 -4,-2.5 -3.3,-3 -3.4,-4 -3,-4.5 -2.6,-5 -3.3,-8.1 -2.6,-9 -2.1,-10 -1.4,-11.1 -0.7,-12.5 0,-14.5 0.6,-12.1 1.2,-11 1.9,-10 2.4,-9.1 3,-8 3.6,-7 4.1,-6 4.4,-4.6 4.2,-3 2.1,-1z"/>
<path fill="#375e9c" d="M57.7,9.5l4.5,0.4 4,1.3 4.5,2.5 4.1,3.1 3.5,3.8 3.1,4.5 3.2,5.5 3.2,7.3 1,1 1,-1 3.2,-7.3 2.5,-4.5 3.5,-5 3.3,-3.8 4.1,-3.3 3.5,-2.1 3.5,-1.4 4,-0.9 4,0.1 3.4,0.8 2.9,1.5 3.3,2.5 3.4,3.6 3.1,4 3,5 2.6,5.5 2.9,8 2.3,8.6 1.8,9.5 1.2,10.5 0.7,11.6 0.1,13.5 -0.6,11.5 -1,10.6 -1.7,9.5 -2,8.5 -2.7,8 -3.1,7.1 -3.5,6 -4,5 -4.4,4 -4.3,2.5 -1.9,0.6 -3,0.4 -4.9,-0.5 -5.1,-1.9 -4.5,-2.8 -3.1,-2.6 -3,-3.3 -2.1,-2.9 -3.5,-5.5 -3.9,-8.8 -1,-1.1 -1,1.1 -3.2,7.3 -2.5,4.5 -3.5,5 -3.3,3.7 -4.1,3.3 -3.5,2.1 -3.5,1.5 -4,0.8 -4,0 -3.4,-0.9 -2.9,-1.5 -3.3,-2.5 -3.4,-3.5 -3.1,-4 -3,-5 -2.6,-5.6 -2.9,-8 -2.5,-9.5 -1.9,-10.5 -1.1,-11.1 -0.6,-12.5 0.2,-14.6 0.7,-11.5 1.5,-11 2.1,-10.1 2.6,-8.5 3,-7.5 3.9,-7 4.1,-5.5 4.9,-4.6 4.3,-2.5 1.9,-0.6z"/>
<path fill="#395f9d" d="M57.1,10l4.1,0 4,1 5,2.6 4.6,3.4 3.7,4.1 3.1,4.5 2.9,5 3.3,7.6 1,1 1,-1 3.3,-7.6 2.6,-4.5 3.4,-5 3.2,-3.6 3.6,-3 3.5,-2.1 3.5,-1.5 3.5,-0.9 3,-0.1 3.2,0.6 2.9,1.5 3.8,3 3.2,3.6 3,4 2.6,4.5 2.6,5.5 2.9,8 2.4,9.1 1.7,9.5 1.2,10 0.7,11.6 0.1,13.5 -0.5,11 -1.1,10.6 -1.6,9.5 -2,8.5 -2.6,8 -3,7.1 -3.8,6.5 -3.8,5 -4.4,4 -4,2.4 -4,0.8 -5,-0.7 -5.5,-2.4 -5.1,-3.6 -4,-4.3 -3.3,-4.7 -2.9,-5 -3.3,-7.6 -1,-1 -1,1 -3.3,7.6 -2.6,4.5 -3.4,5 -3.2,3.5 -3.6,3 -3.5,2.2 -3.5,1.5 -3.5,0.8 -3,0.1 -3.2,-0.6 -2.9,-1.5 -3.8,-3 -3.2,-3.5 -3,-4 -2.6,-4.5 -2.6,-5.6 -2.9,-8 -2.4,-9 -1.8,-10 -1.2,-10.6 -0.6,-12 0,-14 0.6,-11.6 1.3,-10.5 1.7,-9.5 2.4,-9.1 2.7,-7.5 3.3,-7 3.9,-6 4.4,-5.1 4.6,-3.5 2.1,-1z"/>
<path fill="#3b609f" d="M57.6,10.5l4.1,-0.1 4,1.1 5,2.5 3.9,3.1 3.7,4 3.1,4.5 3,5 3.4,7.9 1,0.9 1,-0.9 3.2,-7.4 2.8,-5 3.5,-5 3,-3.3 3.9,-3.3 3.2,-1.9 3.7,-1.6 2.8,-0.6 3,0 2.5,0.6 3.2,2 2.9,2.5 3.1,3.6 2.7,4 2.6,4.5 2.5,5.5 2.8,8 2.3,8.6 1.7,9.5 1.2,10 0.7,11 0.1,13.1 -0.5,11 -0.9,10.1 -1.5,9.5 -2.1,9 -2.5,8 -2.8,7.1 -3.4,6.3 -3.8,5.2 -4.4,4.5 -3.9,2.5 -3.5,0.8 -4.8,-0.8 -5.2,-2.4 -4.6,-3.3 -4,-4.3 -3.1,-4.5 -3,-5 -3.4,-7.9 -1,-1 -1,1 -3.2,7.4 -2.8,4.9 -3.5,5.1 -3,3.3 -3.9,3.2 -3.2,1.9 -3.7,1.6 -2.8,0.6 -3,0.1 -2.5,-0.7 -3.2,-2 -2.9,-2.5 -3.1,-3.5 -2.7,-4 -2.6,-4.5 -2.5,-5.6 -2.8,-8 -2.4,-9 -1.7,-9.5 -1.2,-10.4 -0.6,-11.7 -0.1,-13 0.6,-11.1 1.1,-10.5 1.6,-9.5 2.2,-9.1 2.7,-8 3.1,-7 3.5,-6 4,-5 4.4,-4.1 2.1,-1.2z"/>
<path fill="#3d61a0" d="M58.7,11l3.5,-0.1 4.3,1.1 4.2,2.3 4.1,3.1 3.5,3.9 3,4.3 3.2,5.5 3.3,7.7 1,0.9 1,-0.9 4.7,-10.2 2.8,-4.5 3,-4 3,-3.1 4.1,-3 3.7,-2 4.3,-1.1 2.5,-0.1 2.2,0.7 2.8,2 3.1,3.1 2.8,3.5 2.6,4 2.6,4.8 2.2,5.2 2.7,8 2.2,8.6 1.7,9.5 1.1,10 0.7,11.1 0,12.5 -0.5,11 -1,10.1 -1.5,9.5 -2.1,9 -2.5,8 -2.9,7.1 -3.6,6.5 -3.6,5 -4,4 -2,1.5 -2,1 -3.5,0.2 -4.3,-1.2 -4.2,-2.3 -4.1,-3.1 -3.5,-3.8 -3,-4.3 -3.2,-5.5 -3.3,-7.7 -1,-0.9 -1,0.9 -4.7,10.2 -2.8,4.5 -3,3.9 -3,3.2 -4.1,3 -3.7,1.9 -4.3,1.2 -2.5,0 -2.2,-0.7 -2.8,-2 -3.1,-3 -2.8,-3.5 -2.6,-4 -2.6,-4.8 -2.2,-5.3 -2.7,-8 -2.2,-8.5 -1.7,-9.5 -1.1,-10.1 -0.7,-11 0,-12.5 0.5,-11.1 1,-10 1.5,-9.5 2.1,-9.1 2.5,-8 2.9,-7 3.6,-6.5 3.6,-5 4.6,-4.6z"/>
<path fill="#3e62a2" d="M60.3,11.5l3.4,0 3.4,1 3.6,2 4.1,3.2 3.5,3.8 3,4.3 3,5.3 3.5,8 1,0.8 1,-0.8 4.8,-10.5 5.5,-8 3.2,-3.4 3.6,-2.7 3.6,-2 3.9,-1.1 2.5,0 1.5,0.6 3.1,2.5 2.8,3.1 2.6,3.5 2.5,4.1 4.5,9.9 2.6,8 2.1,8.6 1.7,9.5 1,9.5 0.6,10.6 0.1,12 -0.4,10.5 -1,10.1 -1.5,9.5 -1.9,8.5 -2.4,8 -2.9,7.4 -3.1,6.2 -3.7,5.5 -4.1,4.5 -1.8,1.5 -1.8,1 -3,0.1 -3.9,-1.1 -3.6,-2 -4.1,-3.1 -3.5,-3.9 -3,-4.3 -3,-5.2 -3.5,-8 -1,-0.9 -1,0.9 -4.8,10.5 -5.5,8 -3.2,3.3 -3.6,2.7 -3.6,2 -3.9,1.1 -2.5,0 -1.5,-0.6 -3.1,-2.5 -2.8,-3 -2.6,-3.5 -2.5,-4.2 -4.5,-9.9 -2.6,-8 -2.1,-8.5 -1.7,-9.5 -1,-9.6 -0.6,-10.5 -0.1,-12 0.4,-10.6 1,-10 1.5,-9.5 1.9,-8.6 2.4,-8 2.9,-7.5 3.1,-6 3.7,-5.5 4.1,-4.6 1.8,-1.5z"/>
<path fill="#4063a3" d="M62.3,12l1.9,0 1.5,0.4 3.8,1.6 4.3,3.1 3.5,3.4 5.6,8.1 4.8,10.5 1.1,1 1.1,-1 3.4,-7.8 3,-5.2 3.5,-5 3,-3.2 3.7,-2.9 3.6,-2 3.3,-1 2.5,0.2 1.4,0.8 2.6,2.5 4.7,6.1 3.8,7 3.3,8 2.5,8 2,8.6 1.5,9 1,9.5 0.6,10.1 0.1,11.5 -0.5,10 -0.9,9.5 -1.5,9.6 -1.8,8.5 -2.3,8 -2.6,7.1 -3.1,6.5 -3.5,5.5 -3.8,4.5 -2.1,2 -1.4,0.8 -2.5,0.2 -3.3,-1 -3.6,-2 -3.7,-2.9 -3,-3.2 -3.5,-4.9 -3,-5.2 -3.4,-7.9 -1.1,-1 -1.1,1 -3.4,7.9 -3,5.2 -3.5,4.9 -3,3.2 -3.7,2.9 -3.6,2 -3.3,1 -2.5,-0.2 -1.4,-0.8 -2.6,-2.5 -4.7,-6 -3.8,-7 -3.3,-8.1 -2.5,-8 -2,-8.5 -1.5,-9.5 -1.1,-9.6 -0.5,-10 0,-11.5 0.4,-10.1 1,-9.5 1.4,-9.5 1.9,-8.6 2.4,-8 2.8,-7.5 3.3,-6.5 3.6,-5.5 4.1,-4.6 1.8,-1.5z"/>
<path fill="#4264a5" d="M63.1,13l1.1,-0.3 2,0.3 3.7,1.5 4.2,3.1 3.2,3.2 5.5,7.9 4.7,10.4 0.8,1.1 0.5,0.1 0.5,-0.1 0.8,-1.1 4.7,-10.4 5.5,-7.9 3.2,-3.2 4.2,-3.1 3.7,-1.5 1.5,-0.3 1.5,0.3 3.7,3.6 4.3,6 3.7,7 3.1,8 2.3,7.5 2,8.6 1.5,9 1,9 0.6,9.6 0.1,10.5 -0.4,9.5 -0.8,9.5 -1.3,9.1 -1.8,9 -2.2,8 -2.6,7.5 -2.9,6.6 -3.2,5.5 -3.8,5 -3.3,3 -1.5,0.3 -1.5,-0.2 -3.7,-1.6 -4.2,-3 -3.2,-3.2 -5.5,-8 -4.7,-10.4 -0.8,-1 -0.5,-0.2 -0.5,0.2 -0.8,1 -4.7,10.4 -5.5,8 -3.2,3.2 -4.2,3 -3.7,1.6 -1.5,0.2 -1.5,-0.3 -3.7,-3.5 -4.3,-6 -3.7,-7 -3.1,-8.1 -2.3,-7.5 -2,-8.5 -1.5,-9 -1,-9.1 -0.6,-9.5 -0.1,-10.5 0.4,-9.6 0.8,-9.5 1.3,-9 1.7,-8.5 2.1,-8.1 2.6,-7.5 2.9,-6.5 3.4,-6 3.8,-5.1z"/>
<path fill="#4365a7" d="M64.7,14l1,-0.3 1,0 3.5,1.4 3.6,2.5 3.5,3.4 5.5,8 4.6,10.1 0.6,1 0.8,0.5 0.8,-0.5 0.6,-1 4.6,-10.1 5.5,-8 3.5,-3.4 3.6,-2.5 3,-1.3 2,0 1.1,0.7 2.3,2.6 4.4,6.5 3.7,7.5 3.1,8.5 2.1,7.5 1.9,8.6 1.4,8.5 1,9 0.5,9.1 0.1,10 -0.4,9 -0.8,9 -1.3,9.1 -1.8,8.5 -2.1,8 -2.5,7.5 -2.8,6.6 -3.3,6 -3.6,5 -1.9,2 -1.1,0.8 -2,-0.1 -3,-1.2 -3.6,-2.5 -3.5,-3.5 -5.5,-7.9 -4.6,-10.2 -0.6,-1 -0.8,-0.4 -0.8,0.4 -0.6,1 -4.6,10.2 -5.5,7.9 -3.5,3.5 -3.6,2.5 -3,1.2 -2,0.1 -1.1,-0.8 -2.3,-2.5 -4.4,-6.5 -3.7,-7.5 -3.1,-8.6 -2.1,-7.5 -1.9,-8.5 -1.4,-8.5 -0.9,-8.6 -0.6,-9 -0.1,-10 0.4,-9.1 0.7,-8.5 1.3,-9 1.6,-8.5 2.1,-8.1 2.4,-7.5 2.7,-6.5 3.2,-6 3.4,-5z"/>
<path fill="#4567a8" d="M66.5,15l1.2,-0.3 2.6,0.8 3.4,2.3 3.6,3.5 5.5,7.9 4.7,10.4 0.8,1 0.5,0.2 0.5,-0.2 0.8,-1 4.7,-10.4 5.5,-7.9 3.3,-3.2 2.8,-2.1 2.5,-1.1 2,0 1.2,1.1 2.3,3.1 4,6.5 3.3,7.5 3.1,9 2.1,7.9 1.7,8.2 1.3,8 0.9,8.5 0.4,8.6 0.1,9.5 -0.4,8.5 -0.8,8 -1.3,9.1 -1.7,8.5 -2.1,8 -2.5,7.5 -2.9,7.1 -3.2,6 -3.9,5.5 -1.1,1.3 -1,0.5 -2,-0.3 -3.5,-2 -5.1,-4.8 -5,-7.4 -4.7,-10.4 -0.8,-1 -0.5,-0.1 -0.5,0.1 -0.8,1 -4.7,10.4 -5.5,7.9 -3.3,3.3 -2.8,2 -2.5,1.1 -2,0 -1.2,-1.1 -2.3,-3 -4,-6.5 -3.3,-7.6 -3.1,-9 -2,-7.5 -1.7,-8 -1.3,-8.1 -0.9,-8.5 -0.5,-8.5 -0.1,-9.5 0.4,-8.6 0.7,-8 1.2,-8.5 1.7,-8.5 2,-8.1 2.4,-7.5 2.6,-6.5 3,-6 3.2,-5z"/>
<path fill="#4768aa" d="M68.7,16l1.5,0.1 2.7,1.5 4.9,4.6 5,7.3 4.5,10.1 0.8,1 0.7,0.4 0.7,-0.4 0.8,-1 4.5,-10.1 5,-7.3 4.9,-4.6 2.7,-1.5 1.5,-0.1 1.1,1.1 2.5,3.5 3.9,7 3.3,8 3,9.5 3.5,15.6 2,15.5 0.4,16.6 -1.1,15.5 -1.3,8.6 -1.6,8 -2,8 -2.4,7.5 -2.5,6.6 -2.8,6 -3.7,6 -2.3,2.5 -1.5,-0.1 -2.7,-1.4 -4.9,-4.7 -5,-7.3 -4.5,-10.1 -0.8,-1 -0.7,-0.3 -0.7,0.3 -0.8,1 -4.5,10.1 -5,7.3 -4.9,4.7 -2.7,1.4 -1.5,0.1 -1.1,-1 -2.5,-3.5 -3.9,-7 -3.3,-8.1 -3,-9.5 -3.5,-15.5 -2,-15.6 -0.4,-16.5 1.1,-15.6 1.3,-8.5 1.6,-8 2,-8.1 2.4,-7.5 2.5,-6.5 2.8,-6 3.4,-5.5 1.6,-2.2z"/>
<path fill="#4969ab" d="M70.5,17.6l1.2,0 1.5,0.7 4.6,4.3 5,7.2 4.7,10.3 0.8,0.9 0.5,0.2 0.5,-0.2 0.8,-0.9 4.7,-10.3 5,-7.2 4.6,-4.3 2,-0.8 1,0.2 3.6,5.4 3.7,7.5 3.4,9 2.9,10.1 3,14.5 1.6,14.5 0.3,15.1 -1.2,14.5 -1.2,8.1 -1.7,8 -2,8 -2.4,7.5 -2.5,6.6 -2.8,6 -3.6,6 -0.7,1 -0.9,0.6 -1,-0.2 -2,-1 -3.1,-2.8 -1.5,-1.8 -5,-7.5 -4.2,-9.4 -0.8,-0.9 -0.5,-0.1 -0.5,0.1 -0.8,0.9 -4.7,10.3 -5,7.3 -4.6,4.2 -2,0.9 -1,-0.2 -3.6,-5.4 -3.7,-7.5 -3.4,-9.1 -2.9,-10 -3,-14.5 -1.6,-14.6 -0.3,-15 1.1,-14.1 1.2,-8 1.7,-8 4.2,-15.1 2.4,-6.5 2.7,-6 3.4,-6z"/>
<path fill="#4a6aad" d="M71.9,19.6l0.8,-0.5 1,0.4 2.6,1.9 2,2.2 5,7.5 4,9 0.5,0.8 1,0.5 1,-0.5 0.5,-0.8 4,-9 3.5,-5.5 4,-4.6 2.1,-1.5 1.5,-0.2 1.1,1.3 2.2,4 4.1,9 3.5,10 2.9,10.6 2.6,13.5 1.4,13.6 0,14 -1.2,13 -2.8,15.1 -4.3,15 -2.7,7.1 -2.7,6 -3.4,6 -1.2,0.9 -1,-0.3 -2.6,-1.9 -3.5,-4.2 -3.5,-5.6 -4,-9 -0.5,-0.7 -1,-0.5 -1,0.5 -0.5,0.7 -4,9 -3.5,5.6 -4,4.6 -2.1,1.5 -1.5,0.2 -1.1,-1.3 -2.2,-4 -4.1,-9.1 -3.5,-10 -2.9,-10.5 -2.5,-13.1 -1.4,-13 -0.2,-13.5 1.1,-13.1 2.6,-14.5 3.9,-14.6 4.8,-12.5 2.7,-5.5z"/>
<path fill="#4c6bae" d="M73.7,21.6l1.1,-0.4 1.5,0.8 3.5,4 3.5,5.5 4,8.9 0.5,0.7 1,0.5 1,-0.5 0.5,-0.7 4,-8.9 3.5,-5.5 3.5,-4 1.5,-0.8 1.1,0.3 3.7,7.1 3.7,9 3.4,10.5 2.8,11.1 2.2,12 1,12.1 -0.1,12.5 -1.1,12 -2.8,14.1 -4,14 -5.1,13.1 -3.1,6 -1.2,1.3 -1,-0.2 -1.5,-1 -3.5,-4.3 -3,-4.7 -3.8,-8.7 -0.7,-0.9 -1,-0.5 -1,0.4 -0.5,0.7 -4,9 -3.5,5.4 -3.5,4 -1.5,0.8 -1.1,-0.3 -3.7,-7 -3.7,-9.1 -3.4,-10.5 -2.8,-11 -2.2,-12.1 -1,-12 0,-12 1.2,-12.1 2.4,-13 3.9,-14.1 4.7,-12.5z"/>
<path fill="#4e6cb0" d="M75.9,23.6l0.9,0 1,0.8 3.5,4.2 2,3.3 3.9,8.7 0.6,0.8 1,0.4 1,-0.4 0.6,-0.8 3.9,-8.7 2,-3.3 3.5,-4.2 1,-0.8 1,0.1 3.8,7.4 4.3,11 3.6,12.1 2.6,11 1.6,11 0.7,10.6 -0.3,11 -1.4,11 -2.6,12.6 -4.1,13.5 -5.1,13.1 -2.6,5.2 -1,0.9 -2,-1.4 -3,-3.8 -2,-3.3 -3.9,-8.7 -0.6,-0.7 -1,-0.5 -1,0.5 -0.6,0.7 -3.9,8.7 -2,3.3 -3.5,4.3 -1,0.7 -1,0 -3.8,-7.4 -4.3,-11.1 -3.6,-12 -2.6,-11.1 -1.6,-11 -0.7,-10.5 0.3,-11.1 1.3,-10.5 2.5,-12 3.8,-13.1 4.7,-12.5 3,-6.3z"/>
<path fill="#506daf" d="M77.6,26.1l1.2,0.3 2.5,2.8 2,3.2 3.7,8.2 0.8,1 1,0.4 1,-0.4 0.8,-1 3.7,-8.2 2,-3.2 2.5,-2.8 1,-0.4 0.5,0.4 4.3,9.2 4.2,11.5 3.3,11.1 2.3,10.5 1.3,10 0.5,9.6 -0.4,10 -1.3,10 -2.6,11.6 -3.6,12 -5,13 -2.5,5.6 -1,1 -1.5,-0.7 -2.5,-3.1 -3,-5.6 -2.2,-5.2 -0.8,-1 -1,-0.4 -1,0.4 -0.8,1 -3.7,8.2 -2,3.3 -2.5,2.8 -1,0.3 -0.5,-0.3 -4.3,-9.3 -4.2,-11.5 -3.3,-11 -2.3,-10.6 -1.3,-10 -0.5,-9.5 0.4,-10.1 1.3,-10 2.4,-11 3.6,-12.1 4.8,-12.5 2.7,-6z"/>
<path fill="#526dad" d="M79.1,28.6l0.7,0 0.5,0.3 1.5,1.6 3,5.4 2.3,5.2 0.7,0.8 1,0.3 1,-0.3 0.7,-0.8 2.3,-5.2 3,-5.4 2,-1.9 0.5,-0.1 0.5,0.4 4.4,9.7 4.4,12.1 3.2,11 2,10 1.1,9.6 0.3,9 -0.5,9 -1.4,9.5 -2.3,10.1 -3.5,11 -5,13 -2.3,5.1 -0.9,1.1 -1,-0.4 -1.5,-1.7 -3,-5.4 -2.3,-5.2 -0.7,-0.7 -1,-0.4 -1,0.4 -0.7,0.7 -2.3,5.2 -3,5.4 -2,2 -0.5,0.1 -0.5,-0.4 -4.4,-9.8 -4.4,-12 -3.2,-11 -2,-10.1 -1.1,-9.5 -0.3,-9 0.5,-9.1 1.3,-9 2.3,-10 3.4,-11.1 4.6,-12 2.8,-6.3z"/>
<path fill="#546eac" d="M80.7,31.1l1.1,0.5 1,1.3 4.1,8.2 0.9,1 1,0.4 1,-0.4 0.9,-1 2.1,-4.6 2.5,-4.3 1,-1 0.5,-0.1 0.5,0.3 4.8,10.7 4.3,12.1 3,10.5 1.9,10 0.9,8.6 0.1,8.5 -0.6,8.5 -1.4,8.5 -2.3,9.6 -3.3,10 -5.1,13 -1.9,4.1 -0.9,1 -1,-0.5 -1,-1.4 -4.1,-8.2 -0.9,-0.9 -1,-0.4 -1,0.4 -0.9,0.9 -2.1,4.7 -2.5,4.3 -1,1 -0.5,0.1 -0.5,-0.4 -4.8,-10.7 -4.3,-12 -3,-10.6 -1.9,-10 -0.9,-8.5 -0.1,-8.5 0.6,-8.6 1.4,-8.5 2.3,-9.5 3.3,-10 4.9,-12.6 2.1,-4.5z"/>
<path fill="#566fab" d="M81.7,34.1l0.6,-0.2 1,0.9 3.7,6.8 0.8,0.8 1,0.3 1,-0.3 0.8,-0.8 2.7,-5.4 1.5,-2 0.5,-0.3 0.5,0.1 0.5,0.6 4.8,11 4.2,11.6 2.7,10 1.8,10 0.7,8.1 -0.1,8 -0.7,8 -1.4,8 -2.4,9.1 -3.4,10 -5.7,13.4 -0.9,1.6 -0.6,0.2 -2,-2.3 -2.7,-5.4 -0.8,-0.7 -1,-0.3 -1,0.3 -0.8,0.7 -2.7,5.4 -1.5,2 -0.5,0.3 -0.5,-0.1 -0.5,-0.6 -4.8,-11 -4.2,-11.5 -2.7,-10.1 -1.8,-10 -0.6,-7.5 0,-8 0.6,-8.1 1.3,-7.5 2,-8 2.9,-9 4.2,-10.6z"/>
<path fill="#586fa9" d="M82.7,37.1l0.6,-0.5 0.5,0.3 2.9,4.7 1.1,1.1 1,0.3 1,-0.3 1.1,-1.1 2.9,-4.7 0.5,-0.3 0.6,0.5 5,11 4,11.1 2.8,10 1.5,9.5 0.6,7.6 -0.1,7.5 -0.8,7.5 -1.4,7.5 -2.3,8.6 -2.9,8.5 -5.3,12.5 -1.1,2 -0.6,0.5 -1,-0.7 -2.8,-4.8 -1.7,-0.8 -1,0.3 -1.1,1 -2.9,4.8 -0.5,0.2 -0.9,-1 -4.9,-11 -4,-11 -2.6,-9.6 -1.5,-9.5 -0.6,-7 0.1,-7.5 0.6,-7.1 1.3,-7.5 1.9,-7.5 2.7,-8 3.6,-9.1z"/>
<path fill="#5a70a8" d="M84,39.6l0.8,0.1 2.5,3 1.5,0.6 1.6,-0.7 2.4,-2.9 0.8,-0.1 0.7,1 5,11.1 3.6,10 2.5,9.5 1.4,9.6 0.4,7 -0.2,7 -0.8,7 -1.4,7 -2.2,8.1 -2.9,8 -4.9,11.1 -1,1.8 -0.5,0.3 -0.5,-0.2 -2.4,-3 -1.6,-0.6 -1.6,0.6 -2.4,3 -0.8,0 -0.7,-0.9 -5,-11.1 -3.6,-10 -2.5,-9.6 -1.4,-9.5 -0.4,-7 0.2,-7 0.8,-7.1 1.3,-6.5 1.9,-7 2.8,-8 4,-9.6z"/>
<path fill="#5c71a6" d="M85,42.1l0.8,0.1 1.5,1 1.5,0.4 1.5,-0.4 2,-1.2 0.5,0.2 0.9,1.4 4.7,10.6 3.4,9.5 2.3,9.5 1.3,9.1 0.2,7 -0.3,6.5 -0.8,6.5 -1.4,6.5 -2.1,7.6 -2.8,7.5 -4.5,10 -0.9,1.4 -0.5,0.2 -2,-1.2 -1.5,-0.4 -1.5,0.4 -2,1.2 -0.5,-0.2 -0.9,-1.4 -4.7,-10.5 -3.4,-9.5 -2.3,-9.6 -1.3,-9 -0.2,-6.5 0.2,-6.5 0.8,-6.6 1.3,-6.5 2,-7 2.5,-7 4.2,-9.6z"/>
<path fill="#5e71a5" d="M85.9,44.1l0.9,-0.3 2,0.3 2,-0.3 0.9,0.3 3.4,6.6 3.7,9 2.6,8.5 1.8,8 0.8,8.1 0.1,6.5 -0.3,6 -0.9,6 -1.5,6.5 -2.3,7.6 -3.2,8 -3.6,7.7 -0.6,0.8 -0.9,0.3 -2,-0.2 -2.5,0.2 -0.5,-0.4 -4.6,-9.4 -3.1,-8 -2.2,-7.6 -1.5,-7.5 -0.8,-7.5 -0.2,-6 0.4,-6 0.8,-6.1 1.3,-6 1.7,-6 2.4,-6.5 3.5,-8z"/>
<path fill="#6072a4" d="M87.4,45.1l1.9,-0.2 0.9,0.2 0.6,0.6 3.2,6.5 3.5,8.5 2.2,6.5 1.7,7 1,6.6 0.4,6.5 -0.2,6 -0.6,6 -1.1,6 -1.7,6.5 -3,8.6 -4.1,9 -1.8,3 -1.5,0.3 -1.5,-0.3 -1.3,-2 -4,-8.5 -3,-8 -1.7,-6.1 -1.3,-6 -0.9,-6 -0.3,-5.5 0.1,-5.5 0.5,-5.6 2.2,-11 1.9,-6 2.5,-6.5 3.7,-8.1z"/>
<path fill="#6273a2" d="M88.6,46.6l1.2,0.5 2.1,3.6 3.6,8.5 2.6,7.5 1.5,5.5 1,5.5 0.7,5.6 0.2,5.5 -0.2,5.5 -0.7,5.5 -1,5.5 -1.5,5.5 -2.4,7.1 -3.6,8.5 -1.8,3.4 -1,1 -0.5,0.2 -0.5,-0.2 -1,-1 -1.8,-3.4 -3.6,-8.5 -2.4,-7.1 -1.5,-5.5 -1,-5.5 -0.7,-5.5 -0.2,-5.5 0.8,-10.6 1,-5.5 1.5,-5.5 2.2,-6.5 3.4,-8.5 2.3,-4.5z"/>
<path fill="#6574a1" d="M88.8,49.2l0.5,0.1 1,1 1.8,3.4 5.1,14.5 2.3,10.5 0.7,10.1 -0.7,10 -2.3,10.5 -5.1,14.6 -1.8,3.4 -1.5,1.1 -1.5,-1.1 -1.8,-3.4 -5.1,-14.6 -2.3,-10.5 -0.7,-10 0.7,-10.1 2.3,-10.5 5.1,-14.5 1.8,-3.4z"/>
<path fill="#67749f" d="M87.9,52.2l0.9,-0.5 0.5,0.2 1.5,1.6 1.5,3.2 2.2,6.5 3.4,13 0.8,5.6 0.3,6 -0.1,5 -0.5,5.5 -2.4,11 -4.2,12.8 -1.5,2.7 -1.5,1 -1.5,-1 -1.5,-2.7 -3.9,-11.8 -2.4,-10.5 -0.9,-10 0.4,-8.5 1.6,-9.1 3.9,-13.5 1.8,-4.3z"/>
<path fill="#69759e" d="M87.9,54.7l1.4,-0.2 1.5,1.4 1.5,3.1 1.4,4.2 3,12.5 0.8,6.1 0.4,6 -0.1,5.5 -0.6,5 -2.3,11.5 -3.1,10 -1.5,2.6 -1.5,0.8 -1.5,-0.8 -1,-1.6 -1.3,-2.9 -2.1,-7.1 -2.4,-11.5 -0.8,-9.5 0.1,-5.5 0.6,-5.1 2.1,-11 2.8,-9.2 1.5,-3.1z"/>
<path fill="#6b769d" d="M88,57.2l1.3,-0.1 1.5,1.2 1,1.9 1.3,3.5 2.5,11 0.9,7.1 0.4,6 -0.7,11 -2,11 -1.4,4.8 -1.5,3.8 -1,1.5 -1.5,0.7 -1.5,-0.7 -1,-1.5 -1.5,-3.8 -1.3,-4.3 -2,-10.5 -0.8,-10 0.7,-11.1 2,-11 2.4,-7.5 1,-1.9z"/>
<path fill="#6d769b" d="M88.2,59.7l1.6,0.2 1,0.9 1.4,2.9 1.2,3.5 1.7,8.5 0.9,12.1 -0.1,5.5 -0.7,7 -1.7,9.5 -2.2,6.1 -1,1.4 -1.5,0.7 -1.5,-0.7 -1,-1.4 -2.2,-6.1 -1.6,-8.5 -0.9,-11.5 0.6,-11.1 0.6,-5 1.2,-5.5 1.8,-5.6 1,-1.8z"/>
<path fill="#6f779a" d="M88.7,62.2l1.1,0.3 1,0.9 1,1.8 1.1,3 1.6,8 0.8,12.6 -0.8,12.5 -1.6,8 -1.1,3.1 -1,1.7 -1,1 -1,0.3 -1,-0.3 -1,-1 -1,-1.7 -1.1,-3.1 -1.6,-8 -0.8,-12.5 0.7,-12.1 1.6,-8 1.7,-4.5 1,-1.3z"/>
<path fill="#717899" d="M87.7,65.2l1.1,-0.4 1.5,0.7 1,1.3 1,2.3 1.5,6.4 0.8,10.8 -0.1,9 -1,8.5 -1.7,6 -1.5,2.2 -1.5,0.8 -1,-0.4 -1,-1 -1.5,-3.1 -1.5,-6.2 -0.8,-10.8 0.1,-8.5 0.9,-8.6 1.8,-6.4z"/>
<path fill="#737897" d="M88,67.7l1.3,-0.1 1,0.7 1,1.5 1.3,3.4 1,5.5 0.5,8.1 -0.2,9 -1,7.5 -1.9,5 -1.2,1.4 -1,0.4 -1,-0.4 -1,-1.1 -2,-4.9 -0.9,-5.9 -0.4,-7 0.2,-9 0.9,-7.1 1.7,-4.9z"/>
<path fill="#757996" d="M87.8,70.7l1,-0.4 1,0.4 2,3.4 1,4.1 0.7,8.1 -0.2,8.4 -1,7.1 -1.5,3.7 -1,1.3 -1,0.5 -1,-0.5 -1,-1.3 -1.5,-3.7 -0.8,-4.5 -0.4,-6 0.1,-7.5 0.7,-6.1 0.9,-3.6 1,-2z"/>
<path fill="#777a94" d="M88,73.7l0.8,-0.4 1,0.6 1.5,2.9 1,4.1 0.5,6.3 -0.2,6.6 -0.8,5.3 -1.5,3.8 -1,1.2 -0.5,0.1 -0.5,-0.1 -1,-1.2 -1.5,-3.6 -0.6,-3.5 -0.4,-5.4 0.1,-5.6 0.6,-5.1 1,-3.5z"/>
<path fill="#797a93" d="M88.2,77.2l0.6,-0.3 0.5,0.2 1.2,2.1 0.9,3.6 0.5,5 -0.2,4.5 -0.6,4 -1.3,3.5 -1,0.9 -1,-0.8 -1,-2.6 -0.8,-3.5 -0.3,-4 0.6,-7.6 1,-3.5z"/>
<path fill="#7b7b92" d="M88.6,81.8l0.7,0.2 0.5,1.2 0.7,5.1 -0.5,5.5 -0.7,1.7 -0.5,0.4 -0.5,-0.4 -0.5,-1.2 -0.7,-5 0.4,-5 0.7,-2z"/>
</g></g>
<g filter="url(#soft2)">
<rect x="606.25" y="63.30" width="4.40" height="79.80" fill="#f3bd6c"/>
<rect x="604.30" y="67.70" width="8.30" height="70.90" fill="#f3bd6c"/>
<rect x="602.55" y="77.90" width="11.80" height="50.60" fill="#f3bd6c"/>
<rect x="600.70" y="88.60" width="15.50" height="29.30" fill="#f3bd6c"/>
</g><g filter="url(#soft)">
<rect x="607.05" y="64.10" width="2.80" height="78.20" fill="#ffedb4"/>
<rect x="605.10" y="68.50" width="6.70" height="69.30" fill="#ffedb4"/>
<rect x="603.35" y="78.70" width="10.20" height="49.00" fill="#ffedb4"/>
<rect x="601.50" y="89.40" width="13.90" height="27.70" fill="#ffedb4"/>
</g>
</g>
<rect x="515.80" y="10.50" width="185.30" height="185.10" fill="none" stroke="#3c3c3c" stroke-width="1.25"/>
<line x1="515.80" x2="518.60" y1="22.30" y2="22.30" stroke="#111" stroke-width="1.2"/>
<text x="513.10" y="29.30" font-family='"Liberation Sans", sans-serif' font-size="20.0" font-weight="normal" font-style="normal" text-anchor="end" stroke="#000" stroke-width="0.25" letter-spacing="-0.45">0.2</text>
<line x1="515.80" x2="518.60" y1="103.10" y2="103.10" stroke="#111" stroke-width="1.2"/>
<text x="513.10" y="110.10" font-family='"Liberation Sans", sans-serif' font-size="20.0" font-weight="normal" font-style="normal" text-anchor="end" stroke="#000" stroke-width="0.25" letter-spacing="-0.45">0</text>
<line x1="515.80" x2="518.60" y1="184.10" y2="184.10" stroke="#111" stroke-width="1.2"/>
<text x="513.10" y="191.10" font-family='"Liberation Sans", sans-serif' font-size="20.0" font-weight="normal" font-style="normal" text-anchor="end" stroke="#000" stroke-width="0.25" letter-spacing="-0.45">−0.2</text>
<line x1="527.45" x2="527.45" y1="195.60" y2="192.80" stroke="#111" stroke-width="1.2"/>
<text x="527.05" y="215.90" font-family='"Liberation Sans", sans-serif' font-size="20.0" font-weight="normal" font-style="normal" text-anchor="middle" stroke="#000" stroke-width="0.25" letter-spacing="-0.45">−4</text>
<line x1="608.45" x2="608.45" y1="195.60" y2="192.80" stroke="#111" stroke-width="1.2"/>
<text x="608.05" y="215.90" font-family='"Liberation Sans", sans-serif' font-size="20.0" font-weight="normal" font-style="normal" text-anchor="middle" stroke="#000" stroke-width="0.25" letter-spacing="-0.45">0</text>
<line x1="689.45" x2="689.45" y1="195.60" y2="192.80" stroke="#111" stroke-width="1.2"/>
<text x="689.05" y="215.90" font-family='"Liberation Sans", sans-serif' font-size="20.0" font-weight="normal" font-style="normal" text-anchor="middle" stroke="#000" stroke-width="0.25" letter-spacing="-0.45">4</text>
<text x="525.00" y="38.80" font-family='"Liberation Sans", sans-serif' font-size="22" font-weight="bold" font-style="normal" text-anchor="start" letter-spacing="-1.01">(a3)</text>
<text x="27.70" y="95.45" font-family='"Liberation Serif", serif' font-size="19.5" text-anchor="middle" textLength="42.5" lengthAdjust="spacing" transform="rotate(-90 27.70 95.45)"><tspan font-style="normal">Im</tspan><tspan font-style="italic">E</tspan><tspan font-size="13.6" dy="2.9">0</tspan></text>
<g id="hm-b1">
<rect x="56.55" y="243.60" width="176.60" height="176.20" fill="#26538c"/>
<clipPath id="cp-b1"><rect x="0" y="0" width="176.60" height="176.20"/></clipPath>
<g transform="translate(56.55,243.60)" clip-path="url(#cp-b1)"><g fill-rule="evenodd" filter="url(#soft)">
<path fill="#29558e" d="M64.7,34.1l1.5,-0.3 2,0 2.5,1 2.7,2.8 2.1,4.6 1.6,6 1,6.5 1,11.1 0.5,12.5 0,18.6 -0.5,13 -1,11.6 -1,6.5 -1.6,6 -1,2.5 -1.4,2.6 -2.4,2.3 -2,0.9 -1.5,0.1 -1.5,0 -2,-0.7 -2.5,-1.3 -2,-1.7 -3.3,-3.2 -7.7,-10 -4,-4 -3.6,-3 -5,-3.5 -4.3,-2.6 -11.2,-5.2 -5.6,-4 -2.8,-3.3 -2,-3.5 -1.4,-4 -0.5,-3.5 0.4,-4.6 1,-3.5 2.2,-4 3.1,-3.8 5.6,-4 11.2,-5.2 4.3,-2.6 5,-3.5 3.6,-3 4,-4 9,-11.3 4,-3.6zM105.9,34.8l3,-1 2,0 2,0.7 2.5,1.3 5.3,4.9 7.7,10 4,4 3.6,3 5,3.5 4.3,2.6 11.2,5.2 5,3.6 3.4,3.7 2,3.5 1.4,4 0.5,3.5 -0.4,4.6 -1,3.5 -2.2,4 -3.1,3.8 -5.6,4 -11.2,5.2 -4.3,2.6 -5,3.5 -3.6,3 -4,4 -7.7,10 -2.8,2.8 -4,3 -2.5,1 -1.5,0.1 -3,-0.5 -2.5,-1.8 -2.3,-3.6 -1.5,-4 -1.5,-7 -1.1,-8.5 -1,-18.6 0,-19.1 0.5,-13 1.6,-15.6 1.4,-6.5 1.6,-4.5 2.3,-3.6z"/>
<path fill="#2b5691" d="M64.8,34.6l1.4,-0.3 2,0.1 2.5,1.1 2.4,2.7 2,4.5 1.4,5.5 1,6.5 1.1,11.1 0.5,13 0,17.6 -0.5,13.5 -1.1,11.6 -1,6.5 -1.4,5.5 -2,4.5 -2.4,2.7 -2,1 -1.5,0.2 -2,-0.2 -2,-0.8 -2,-1.1 -2.5,-2.2 -3.8,-4.1 -6.7,-8.6 -3.9,-3.9 -3.7,-3 -8.4,-5.6 -12.1,-5.6 -5,-3.8 -2.8,-3.1 -2.2,-3.5 -1.4,-4 -0.4,-3.5 0.2,-3.6 1.2,-4.5 1.5,-3 3.3,-4.2 2.6,-2.1 3,-2.1 12.1,-5.6 8.4,-5.6 4.2,-3.5 3.9,-3.9 8.5,-10.8 4,-3.6zM107.5,34.6l1.9,-0.3 2,0.2 4,1.9 4.7,4.3 8.8,11.1 3.4,3.4 3.7,3 8.4,5.6 12.1,5.6 5,3.8 2.8,3.1 2.2,3.5 1.4,4 0.4,3.5 -0.2,3.6 -1.2,4.5 -1.5,3 -3.3,4.2 -2.6,2.1 -3,2.1 -12.1,5.6 -8.4,5.6 -3.7,3 -3.9,3.9 -6.7,8.6 -3.8,4.1 -4,3.1 -2.5,1 -1.5,0.2 -3,-0.6 -2.3,-1.7 -1.9,-3.1 -1.7,-4.5 -1.4,-6.5 -1,-8.5 -1.1,-19.6 0,-17.6 0.5,-13 0.6,-7.6 1,-8.5 1.4,-6.5 1.7,-4.5 2.2,-3.3z"/>
<path fill="#2e5893" d="M64.3,35.1l1.4,-0.4 2,0 2.5,0.9 1.3,1 1.2,1.6 1.9,4 1.5,5.5 1.1,7 1,11.1 0.5,11 0.1,16.6 -0.4,14 -0.7,9.6 -1.2,9 -1.4,6.5 -2.1,5 -1.5,2.1 -1.3,1 -1.5,0.8 -1.5,0.2 -2,-0.2 -1.5,-0.5 -2,-1.1 -2.5,-2 -3.2,-3.3 -8.3,-10.5 -3.1,-3 -4.9,-4 -8,-5.1 -11.1,-5.1 -5,-3.6 -2.3,-2.3 -2.6,-4 -1.5,-3.5 -0.6,-4 0.1,-4.1 1.1,-4 2.1,-4 2.8,-3.5 4.9,-3.8 13,-6.2 4.9,-3.1 4.1,-3 6.6,-6.1 9,-11.3 4,-3.5zM107.1,35.1l1.8,-0.4 2.5,0.1 4,2 4.8,4.4 8.7,11 6.1,5.5 7.3,5 5.6,3.1 7.6,3.3 3,1.9 2.5,2 3.4,3.8 1.8,3 1.2,3 0.6,4.5 -0.2,4.1 -1.4,4.5 -2,3.5 -2.9,3.3 -4.5,3.5 -12.1,5.7 -8,5.1 -4.9,4 -3.1,3 -8.3,10.5 -3.2,3.3 -3.5,2.6 -2,0.8 -2,0.4 -2.5,-0.4 -2.3,-1.6 -2.1,-3.1 -1.5,-4 -1.5,-7 -1.1,-8 -1,-18.1 0,-23.1 0.5,-10.5 1.1,-11.6 1.5,-8.5 1.6,-5 2,-3.6z"/>
<path fill="#315a96" d="M65,35.1l3.2,-0.1 2.5,1.3 2.3,2.9 2,5 1.5,7 1,8 1,20.1 0.1,15.1 -0.5,15 -0.6,7.6 -1.1,8.5 -1.4,6.5 -2,5 -1.4,2.1 -1.4,1.2 -1.5,0.8 -1.5,0.2 -2,-0.2 -2,-0.7 -3.5,-2.5 -4.3,-4.4 -7.2,-9.2 -3.4,-3.3 -4.2,-3.5 -8.6,-5.6 -11.4,-5.3 -3,-1.9 -2.5,-2.2 -2.7,-3.1 -2,-3.5 -1.1,-3 -0.6,-4 0.2,-3.6 1.3,-4.5 1.5,-3 3.4,-4.1 2.5,-2.2 3,-1.9 11.4,-5.3 8.6,-5.6 4.2,-3.5 3.4,-3.3 6.8,-8.7 2.7,-3.1 3.5,-3.1zM107.9,35.1l1.5,-0.2 2,0.2 2,0.7 2,1.2 4.5,4.2 9,11.2 6.4,5.8 4.2,3 5.1,3.1 11.4,5.3 5,3.6 2.8,3.1 1.9,3 1.6,4 0.6,4 -0.2,3.6 -1.3,4.5 -1.5,3 -3.4,4.1 -2.5,2.2 -3,1.9 -11.4,5.3 -8.6,5.6 -4.2,3.5 -3.4,3.3 -7.2,9.2 -3.8,4 -4,2.9 -2,0.7 -1.5,0.2 -2.5,-0.4 -2.4,-1.8 -1.9,-3.1 -1.6,-4.5 -1.4,-6.5 -1,-8 -1,-20.1 -0.1,-15.1 0.5,-14.5 1.6,-16.1 1.4,-6.5 1.6,-4.5 2.3,-3.5z"/>
<path fill="#345b98" d="M66.2,35.1l3,0.5 2.5,2 2,3.6 1.7,5.5 1.4,8.5 1,11.1 0.6,20.5 -0.6,23.1 -1,11.1 -1.2,7.5 -1.5,5.5 -2,4 -2.4,2.3 -1.5,0.6 -1.5,0.2 -2,-0.3 -2,-0.9 -3.5,-2.6 -3.2,-3.3 -8.3,-10.4 -3.2,-3.1 -4.3,-3.5 -7.9,-5.1 -12.2,-5.7 -4.5,-3.4 -2.2,-2.4 -2.6,-4 -1.5,-4 -0.5,-4 0.5,-4.6 1.5,-4 2.6,-4 2.2,-2.4 4.5,-3.4 12.2,-5.7 7.9,-5.1 4.3,-3.5 3.2,-3.1 8.3,-10.4 2.7,-2.8 4,-3.1zM107.9,35.4l3,-0.2 2,0.6 2,1.1 2.5,2 3.2,3.3 8.3,10.4 3.2,3.1 4.3,3.5 7.9,5.1 12.2,5.7 4.5,3.4 2.2,2.4 2.6,4 1.5,4 0.5,4 -0.5,4.6 -1.5,4 -2.6,4 -2.2,2.4 -4.5,3.4 -12.2,5.7 -7.9,5.1 -4.3,3.5 -3.2,3.1 -8.3,10.4 -3.2,3.3 -3.5,2.6 -2,0.9 -2,0.3 -1.5,-0.2 -1.5,-0.6 -2.4,-2.3 -1.8,-3.5 -1.6,-5.5 -1.3,-8 -1,-11.1 -0.6,-20 0.6,-23.6 1,-11.1 1.1,-7 1.3,-5 2,-4.5 2.2,-2.5z"/>
<path fill="#365d9b" d="M64.7,35.6l3,-0.2 1.5,0.5 1.2,0.7 2.3,3.1 1.7,4 1.6,7 1.1,8.5 1.1,20.6 0,14.1 -0.5,15 -0.6,8.1 -1.1,8.5 -1.6,7 -1.9,4.5 -1.3,1.8 -1.4,1.3 -1.6,0.6 -1.5,0.2 -1.5,-0.2 -2.5,-1 -4,-3.1 -3.4,-3.6 -7.6,-9.6 -3,-2.9 -5,-4 -8.1,-5.1 -10.5,-4.7 -3,-2 -2.5,-2.1 -2.9,-3.2 -2,-3.5 -1.3,-4 -0.4,-3.5 0.3,-3.6 1.4,-4.5 1.7,-3 2.9,-3.5 4.8,-3.7 12.4,-5.8 4.2,-2.6 4.9,-3.4 6.6,-6.1 9.5,-11.7 3.5,-3zM107.9,35.6l1.5,-0.3 2,0.2 4,2 4.6,4.2 8.4,10.5 6.5,6 6.6,4.5 5.6,3.1 8.4,3.7 5,3.6 3.4,3.7 1.8,3 1.5,4.5 0.4,3.5 -0.3,3.6 -1.4,4.5 -2,3.5 -2.9,3.2 -2.5,2.1 -3,2 -10.5,4.7 -8.1,5.1 -5,4 -3,2.9 -7.6,9.6 -3.4,3.6 -4,3.1 -2.5,1 -1.5,0.2 -2.5,-0.6 -2.2,-1.7 -1.8,-3.1 -1.7,-5 -1.2,-5.5 -1,-8 -1.1,-20.6 0,-14.1 0.5,-14.5 0.6,-8.6 1,-8 1.5,-6.5 1.6,-4.5 2,-3.1z"/>
<path fill="#395f9d" d="M65.5,35.6l2.7,0.1 2.5,1.5 2.3,3.5 1.7,5 1.2,5.5 1,8.5 0.7,8.6 0.4,14.5 0,14.1 -0.5,12.5 -1.1,11.6 -1,6.5 -1.6,6 -1.9,4 -2.2,2.3 -1.5,0.7 -1.5,0.2 -2,-0.3 -2,-0.9 -4,-3 -3.3,-3.5 -7.2,-9.2 -3.4,-3.3 -3.6,-3 -8.5,-5.6 -12.1,-5.6 -5,-3.8 -2.7,-3.1 -2.1,-3.5 -1.4,-4.5 -0.3,-3 0.3,-3.6 1.4,-4.5 2.1,-3.5 2.6,-3 5.1,-3.9 12.1,-5.6 8.5,-5.6 3.6,-3 3.4,-3.3 6.8,-8.7 3.2,-3.5 4,-3.2zM108.7,35.6l1.7,-0.1 2,0.5 2,1 2.5,1.8 4.3,4.4 7.7,9.7 3,3 4.8,3.8 8.1,5.1 11.2,5.1 5,3.8 2.7,3.1 2.1,3.5 1.4,4.5 0.3,3 -0.3,3.6 -1.4,4.5 -2.1,3.5 -2.7,3.1 -5,3.8 -12.1,5.6 -8.5,5.6 -3.6,3 -3.4,3.3 -7.2,9.2 -3.3,3.5 -4,3 -2,0.9 -2,0.3 -2.5,-0.6 -2.3,-2.1 -1.9,-3.5 -1.6,-5 -0.9,-4.5 -1.1,-9 -0.6,-8.6 -0.4,-14 0,-14.1 0.5,-12 0.6,-8.1 1.1,-8.5 1.4,-6 1.7,-4.6 2,-3 1.5,-1z"/>
<path fill="#3c61a0" d="M64.4,36.1l1.8,-0.4 1.5,0.1 2.5,1.3 2,2.6 1.9,4.5 1.5,6.5 1.1,8.5 1.1,20.1 0.1,14.1 -0.5,14 -0.7,9.6 -1.1,8.5 -1.5,6.5 -1.9,4.5 -1,1.5 -1.5,1.5 -1.5,0.7 -1.5,0.3 -2,-0.3 -2,-0.9 -4,-3 -3.1,-3.3 -7.9,-9.8 -3,-3 -4.7,-3.7 -8,-5.1 -11.4,-5.2 -4.5,-3.4 -2.7,-2.9 -2.2,-3.5 -1.4,-3.5 -0.6,-4 0.2,-3.6 1.3,-4.5 1.9,-3.5 3,-3.5 5,-3.8 11.4,-5.2 5.1,-3.1 4.3,-3 3.6,-3 3.2,-3.2 9.5,-11.7 3.5,-3zM107.8,36.1l1.6,-0.3 2,0.1 2,0.7 2,1.2 4.5,4.1 9,11.1 5.7,5.2 7.3,5.1 4.8,2.5 8.3,3.7 4.5,3 2.9,2.8 2.8,4 1.6,4 0.6,4 -0.2,3.6 -1.3,4.5 -1.9,3.5 -3,3.5 -5,3.8 -11.4,5.2 -8.7,5.6 -4.3,3.5 -3.2,3.2 -7.4,9.3 -2.6,2.9 -4,3.1 -2,1 -2,0.5 -2.6,-0.4 -2.4,-2.1 -1.8,-3 -1.5,-4.5 -1.2,-5.5 -1,-8.5 -1.1,-19.6 -0.1,-14.1 0.5,-13.5 0.7,-9.6 1,-8 1.3,-6.5 1.6,-4.5 2,-3.1z"/>
<path fill="#3e62a2" d="M65,36.1l3,0 2.5,1.5 2.2,3.6 1.6,4.3 1.2,5.7 1.1,8.5 0.7,9.5 0.4,13.6 -0.1,13.6 -0.4,11.5 -0.7,9.1 -1.2,9.2 -1.5,6.2 -2.1,4.5 -1.2,1.7 -1.3,0.9 -2.5,0.7 -2,-0.2 -2,-0.8 -4,-3 -3.4,-3.7 -7.6,-9.5 -3,-2.9 -4.5,-3.6 -8.1,-5.1 -10.5,-4.7 -2.5,-1.6 -3,-2.4 -2.2,-2.3 -2.6,-4 -1.5,-4 -0.5,-4 0.4,-4.1 1.1,-3.5 2,-3.5 2.9,-3.5 4.9,-3.7 11.5,-5.3 5.1,-3.1 4.3,-3 3.6,-3 3.1,-3.1 9.5,-11.6 4,-3.4zM108.6,36.1l1.8,-0.1 2,0.4 2,0.9 2.5,1.9 3.6,3.5 8.9,11 2.7,2.5 5,4 7.4,4.6 10.5,4.7 5,3.5 2.7,2.8 2.6,4 1.5,4 0.5,4 -0.4,4.1 -1.1,3.5 -2,3.5 -2.9,3.5 -4.9,3.7 -11.5,5.3 -8.1,5.1 -4.5,3.6 -3,2.9 -7.5,9.4 -3,3.3 -4,3.2 -2,0.9 -2,0.4 -1.5,-0.1 -1.5,-0.5 -2,-2 -2,-3.8 -1.5,-4.8 -1.2,-7 -0.8,-6.5 -0.6,-8.6 -0.4,-13.5 0.5,-24.6 0.7,-9.6 1.1,-8.5 1.5,-6.5 1.7,-4 2,-2.8z"/>
<path fill="#4164a4" d="M64,36.6l1.7,-0.4 1.5,0 2.5,1.2 2.3,2.8 1.8,4.4 1.5,6.5 1,7.6 1.2,20.1 0,14.1 -0.4,14 -0.8,10.1 -1,8.1 -1.5,6.5 -2.1,4.8 -2.3,2.7 -1.2,0.6 -1.5,0.3 -2,-0.2 -2,-0.8 -4,-3 -3.3,-3.5 -7.7,-9.6 -3,-2.9 -5.1,-4 -7.3,-4.6 -10.7,-4.8 -3,-1.9 -2.5,-2.1 -2.9,-3.2 -1.8,-3 -1.5,-4 -0.5,-3.5 0.3,-4.1 1.2,-4 2,-3.5 2.7,-3.2 3,-2.6 2.5,-1.6 11.2,-5.1 4.3,-2.6 5.1,-3.5 3.5,-2.9 3,-3.1 9.5,-11.6 3.5,-3zM108,36.6l1.9,-0.4 1.5,0.1 2,0.7 2,1.1 4.5,4.1 9,11.1 6,5.4 7.6,5.1 12.5,5.8 4.5,3.1 2.7,2.6 3,4.5 1.5,4 0.5,3.5 -0.3,4.1 -1.2,4 -2,3.5 -2.9,3.5 -5.3,3.9 -11.2,5.1 -8,5.1 -4.4,3.5 -3,2.9 -7.5,9.4 -3,3.3 -4,3.1 -2,0.9 -2,0.4 -2.5,-0.5 -2.3,-2 -1.7,-3.1 -1.6,-4.6 -1,-4.8 -1,-8 -1.2,-20.1 0.2,-22.1 0.4,-9 1.1,-11.4 1.3,-7.2 1.8,-5.4 2,-3.4z"/>
<path fill="#4466a7" d="M64.6,36.6l1.6,-0.2 1.5,0.2 2.5,1.6 2,3.1 1.6,4.1 1.3,5.8 1.2,9.2 0.6,8.9 0.5,13.5 -0.1,14.1 -0.5,11.5 -0.7,9.1 -1.3,9.1 -1.6,5.8 -2,4.3 -2.3,2.4 -2.7,0.7 -1.6,-0.2 -2.4,-1.1 -4,-3.1 -3,-3.2 -7,-8.8 -3,-3.1 -4.1,-3.3 -4.3,-3 -4.4,-2.6 -11.3,-5.2 -5,-3.7 -2.8,-3.1 -2.1,-3.5 -1.3,-4 -0.4,-3.5 0.4,-4.1 1.3,-4 2.1,-3.5 2.7,-3 5.1,-3.8 11.3,-5.2 4.4,-2.6 4.3,-3 4.1,-3.3 3,-3.1 9.5,-11.6 4,-3.2zM108.8,36.6l1.6,-0.2 2,0.4 2,0.9 2.5,1.8 4,3.9 8.5,10.5 2.5,2.4 4.9,3.9 7.4,4.6 11.3,5.2 4,2.8 3,3 2.6,4 1.4,3.5 0.6,4.5 -0.4,4.1 -1.3,4 -2.1,3.5 -2.7,3 -5.1,3.8 -11.3,5.2 -4.4,2.6 -4.3,3 -4.1,3.3 -3,3.1 -7,8.8 -3,3.2 -4,3.1 -2.4,1.1 -1.6,0.2 -2.5,-0.6 -2,-1.8 -2,-3.6 -1.6,-4.8 -1.2,-7 -0.8,-7 -0.6,-8.1 -0.5,-14 0.5,-24.1 0.8,-9.6 1,-8 1.3,-5.8 1.6,-4.1 2,-3.1z"/>
<path fill="#4767a9" d="M63.7,37.1l3,-0.4 2.5,1.1 2.1,2.4 1.9,4.4 1.6,6.1 1.1,8 0.8,10.1 0.4,10 0.1,14.1 -0.5,14 -0.8,10.6 -1.1,8 -1.6,6.1 -2,4.5 -2.1,2.5 -1.4,0.6 -1.5,0.3 -1.5,-0.2 -2,-0.7 -4.5,-3.3 -3,-3.2 -7.5,-9.4 -2.8,-2.7 -4.3,-3.5 -8,-5.1 -11.5,-5.2 -4.5,-3.3 -2.8,-3 -2.2,-3.5 -1.4,-3.5 -0.6,-4 0.2,-3.6 1.1,-4 1.8,-3.5 2.9,-3.5 2.5,-2.2 3,-2.1 11.5,-5.2 5.1,-3.1 4.2,-3 6.3,-5.8 9.5,-11.5 3.5,-2.9zM108.4,37.1l1.5,-0.4 1.5,0.1 2,0.6 2,1.1 4,3.4 9,11 6.3,5.8 7.5,5.1 3.8,2 8.5,3.7 4.5,3 3,2.8 2.8,4 1.6,4 0.6,4 -0.3,4.1 -1.2,4 -2,3.5 -3,3.5 -5,3.8 -11.5,5.2 -8,5.1 -4.3,3.5 -2.8,2.7 -7.5,9.4 -3,3.2 -4,3.1 -3.5,1.1 -2.5,-0.4 -2,-1.6 -2,-3.3 -1.6,-4.3 -1,-4.4 -1.1,-8.5 -1.2,-19.6 -0.1,-14.1 0.4,-13.4 1.5,-16.1 1.3,-6.6 1.8,-5.2 2,-3.3z"/>
<path fill="#4969ac" d="M64.5,37.1l2.7,0 2.5,1.6 2.1,3 2,5.6 1.4,7.4 0.8,7.5 1,21.1 -0.1,13.6 -0.4,10.5 -0.8,9.6 -1.3,9 -1.7,6.2 -1.8,3.8 -1.2,1.5 -1.3,1.1 -2.7,0.6 -1.5,-0.2 -2,-0.8 -4,-3 -3.5,-3.8 -7,-8.8 -2.7,-2.6 -4.3,-3.5 -8,-5.1 -11.6,-5.3 -4.9,-3.7 -3,-3.5 -1.8,-3 -1.2,-3.5 -0.5,-4 0.4,-4.1 1.3,-4 1.8,-3 3,-3.5 4.9,-3.7 11.6,-5.3 4.3,-2.6 4.4,-3 3.8,-3.1 3,-3.1 9.5,-11.5 3.5,-2.9zM109.4,37.1l2,-0.1 2,0.6 4,2.6 3.5,3.5 8.5,10.4 2.5,2.4 4.7,3.7 7.3,4.6 10.6,4.7 5,3.5 2.8,2.8 2.6,4 1.5,4 0.5,4 -0.4,4.1 -1.3,4 -1.8,3 -3,3.5 -4.9,3.7 -11.6,5.3 -8,5.1 -4.3,3.5 -2.7,2.6 -7,8.8 -3.5,3.8 -4,3 -2,0.8 -1.5,0.2 -2.5,-0.5 -2.4,-2.2 -1.6,-3 -1.7,-5 -1.3,-7 -0.8,-7.5 -1,-21.1 0.5,-23.6 0.7,-9.8 1.1,-7.8 1,-4.5 2,-5.6 2,-2.9z"/>
<path fill="#4c6bae" d="M63.5,37.6l2.7,-0.3 2.5,1 2.4,2.9 1.6,3.7 1.6,5.8 1.1,8 0.9,9.6 0.4,11 0.1,13.6 -0.5,14 -0.9,10.6 -1.1,8 -1.6,6 -2,4.1 -2.2,2.4 -1.3,0.7 -1.5,0.2 -2,-0.3 -1.5,-0.6 -4,-3 -3,-3.1 -8,-9.9 -7.1,-6 -7.3,-4.6 -11.2,-5.1 -5,-3.6 -2.6,-2.8 -2.2,-3.5 -1.5,-4 -0.5,-4 0.3,-3.6 1.2,-4 2,-3.5 2.8,-3.3 3,-2.5 2.5,-1.6 11.2,-5.1 4.4,-2.6 4.3,-3 6.2,-5.5 10,-12.1 3,-2.5zM109,37.6l1.9,-0.3 2,0.3 2,0.9 2.5,1.8 3.5,3.5 8.5,10.4 7.1,6 7.3,4.6 11.2,5.1 4.2,2.9 3,3 2.6,4 1.5,4 0.5,4 -0.3,3.6 -1.2,4 -2,3.5 -3,3.5 -2.8,2.3 -2.5,1.6 -11.2,5.1 -7.3,4.6 -7.1,6 -8,9.9 -3,3.1 -4,3 -1.5,0.6 -2,0.3 -2.5,-0.7 -2,-1.8 -2,-3.7 -1.5,-4.7 -1.2,-6 -0.9,-8 -1,-21.1 0.5,-23.6 1.5,-15.7 1.2,-5.9 1.9,-5.3 2,-3.2z"/>
<path fill="#4f6caf" d="M64.6,37.6l2.6,0.3 2.5,1.9 2,3.4 1.7,5 1.4,7 0.9,8.6 0.7,11 0.2,12.5 -0.2,14.1 -0.5,9 -1.1,10.6 -1,5.5 -1.6,5.2 -2,4 -2.5,2.3 -2.5,0.6 -1.5,-0.2 -2,-0.9 -3.5,-2.6 -3,-3.2 -7.5,-9.3 -3,-2.9 -4.5,-3.5 -8.2,-5.1 -10.4,-4.6 -2.5,-1.6 -2.7,-2.3 -2.7,-3 -2.1,-3.5 -1.3,-4 -0.4,-3.5 0.4,-4.1 1.3,-4 2.1,-3.5 2.7,-3 2.7,-2.3 2.5,-1.6 11.4,-5.1 4.3,-2.6 4.3,-3 3.6,-2.9 3,-3.1 6.5,-8.1 3,-3.3 4,-3.1zM110.5,37.6l1.5,0 1.9,0.6 2,1.1 2.5,2 3,3.2 7.5,9.3 3,2.9 4.5,3.5 8.2,5.1 10.4,4.6 4.7,3.4 2.8,3 2.2,3.5 1.5,4 0.5,4 -0.4,4.1 -1.3,4 -2.1,3.5 -2.7,3 -2.7,2.3 -2.5,1.6 -10.4,4.6 -8.2,5.1 -4.5,3.5 -3,2.9 -7.5,9.3 -3,3.2 -3.5,2.6 -2,0.9 -1.5,0.2 -2.5,-0.6 -2,-1.6 -2,-3.4 -1.6,-4.5 -1.4,-7 -0.9,-8 -1,-21.1 0.5,-23.1 0.8,-10.2 1.2,-7.9 1.6,-6 1.8,-3.9 2.2,-2.6z"/>
<path fill="#526dad" d="M63.5,38.2l1.7,-0.3 1.5,0.3 2.4,1.5 2,3 1.9,5 1.4,7 1,8 1,20.6 -0.1,13.6 -0.4,10 -0.9,10.1 -1.3,8.5 -1.7,6 -1.8,3.6 -2.4,2.4 -2.6,0.8 -2,-0.3 -1.5,-0.7 -3.5,-2.5 -3,-3.2 -7.5,-9.2 -3,-2.9 -4.4,-3.5 -8.2,-5.1 -10.5,-4.7 -5,-3.7 -2.8,-3.1 -2.1,-3.5 -1.4,-4 -0.3,-3.5 0.3,-4.1 1.4,-4 2.1,-3.5 2.6,-3 5.2,-3.8 11.5,-5.2 5,-3 3.5,-2.5 3.6,-3 3,-3 6,-7.6 3.5,-3.8 3,-2.4zM109.9,38.2l1.5,-0.3 2,0.3 2,0.9 2.5,1.9 3.5,3.6 8,9.8 3,2.8 4.5,3.5 7.6,4.6 10.5,4.7 4,2.8 3,3 2.7,4 1.4,4 0.5,4 -0.3,4.1 -1.4,4 -2.1,3.5 -2.6,3 -5.2,3.8 -10.5,4.7 -8.2,5.1 -4.4,3.5 -3,2.9 -7.5,9.2 -3,3.2 -3.5,2.5 -1.5,0.7 -2,0.3 -2.5,-0.7 -2,-1.8 -1.9,-3.3 -1.5,-4.5 -1.3,-6.5 -1,-8 -1,-20.6 0.5,-23.1 0.8,-9.6 0.8,-6.6 1.3,-5.9 1.9,-5 2,-3z"/>
<path fill="#556eab" d="M62.6,38.7l1.6,-0.5 1.5,0.1 2.5,1.1 2.3,2.8 1.6,3.5 1.4,5.5 1.3,8 0.8,9.1 0.5,10.5 0.1,13.6 -0.3,11.5 -0.8,10.1 -1.1,8.5 -1.5,6.5 -2,5 -2.3,2.8 -1.5,0.9 -1.5,0.3 -1.5,-0.1 -2,-0.7 -3.5,-2.5 -3.5,-3.7 -7.5,-9.2 -6.8,-5.8 -8.2,-5.1 -10.6,-4.7 -4,-2.9 -3,-2.9 -2.3,-3.5 -1.5,-3.5 -0.8,-4.5 0.2,-3.6 1.1,-4 1.9,-3.5 2.9,-3.6 2.5,-2.2 3,-2 11.6,-5.2 4.3,-2.6 4.3,-3 3.4,-2.8 3,-3 9,-10.9 3,-2.6zM109.6,38.7l1.8,-0.5 1.5,0.1 3.5,1.6 4.5,4.2 8.5,10.3 5.4,4.8 6.8,4.6 4.9,2.5 7.5,3.2 5,3.3 3,3 2.3,3.5 1.6,4 0.7,4.5 -0.4,4.1 -1.4,4 -2.1,3.5 -2.6,3 -5.1,3.8 -11.6,5.2 -7.9,5.1 -3.7,3 -2.9,2.8 -6.5,8.1 -3.5,3.8 -4,3 -3,0.8 -2.5,-0.6 -2.3,-1.9 -1.8,-3 -1.5,-4.5 -1.2,-5.5 -1,-7 -1.1,-18.6 0.1,-22.1 0.7,-11 1,-8.6 1.3,-6.5 1.5,-4.5 2,-3.5z"/>
<path fill="#5870a9" d="M63.2,38.7l1.5,-0.2 1.5,0.2 2.4,1.5 2.1,3 1.7,4.5 1.5,6.5 1,8 0.8,10.1 0.3,11 -0.1,13.6 -0.4,10.5 -1,10.1 -1.2,7.5 -1.6,5.6 -1.9,3.9 -1.2,1.5 -1.4,1 -2.5,0.7 -3,-0.7 -4,-2.9 -3,-3.2 -7.5,-9.2 -6.7,-5.7 -8.2,-5.1 -10.7,-4.8 -4.5,-3.2 -2.8,-3 -2.5,-4 -1.3,-4 -0.4,-3.5 0.4,-4.1 1.3,-4 2.1,-3.5 2.7,-3 5,-3.7 11.7,-5.3 7.9,-5.1 6.5,-5.7 6.5,-8.1 3.5,-3.8 3,-2.3zM110.6,38.7l1.8,-0.2 2,0.5 4,2.6 3.5,3.7 7.5,9.2 2.9,2.7 4.5,3.5 7.5,4.6 10.7,4.8 4,2.8 3.3,3.4 2.5,4 1.3,4 0.4,3.5 -0.4,4.1 -1.3,4 -2.5,4 -2.8,3 -4.5,3.2 -10.7,4.8 -8.2,5.1 -6.7,5.7 -7.5,9.2 -3,3.2 -4,2.9 -3,0.7 -2.5,-0.6 -2.2,-2.1 -1.8,-3.1 -1.5,-4.6 -1.3,-5.8 -1,-8 -0.7,-9.6 -0.3,-11 0.1,-13.6 0.4,-10 0.7,-8.6 1,-7 1.4,-6 1.7,-4.5 2.1,-3z"/>
<path fill="#5c71a7" d="M62.3,39.2l2.9,-0.4 2.5,1.1 2.4,2.8 1.6,3.8 1.4,5.2 1.3,7.5 0.9,9.6 0.4,10.5 0.1,13.6 -0.3,11 -0.7,9.7 -1.3,8.9 -1.4,6 -2,5 -2.4,2.8 -1.5,0.8 -1.5,0.3 -1.5,-0.1 -2,-0.7 -3.5,-2.6 -3,-3.2 -7.5,-9.2 -6.6,-5.6 -8.2,-5.1 -10.8,-4.8 -4,-2.9 -2.8,-2.8 -2.4,-3.5 -1.6,-4 -0.6,-4 0.3,-4.1 1.4,-4.5 2.1,-3.5 2.7,-3 4.9,-3.7 11.8,-5.3 7.9,-5.1 6.4,-5.6 9.5,-11.4 3,-2.5zM110.2,39.2l1.7,-0.4 2,0.2 1.5,0.6 2.5,1.7 4,4.1 7.5,9.2 2.8,2.6 4.5,3.5 7.5,4.6 9.8,4.3 4.8,3.2 3,3 2.6,4 1.4,3.5 0.6,4.5 -0.4,4.1 -1.3,4 -2.5,4 -2.8,3 -4.4,3.2 -10.8,4.8 -8.2,5.1 -6.6,5.6 -7.5,9.2 -3,3.2 -3.5,2.6 -3,0.8 -2.5,-0.5 -2,-1.5 -2,-3.2 -1.6,-4.2 -1.4,-6.5 -1,-7.5 -1,-17.6 -0.1,-13.1 0.3,-11 0.7,-9.6 1,-7.8 1.5,-6.7 1.6,-4.2 2,-3.2z"/>
<path fill="#5f72a5" d="M63.1,39.2l1.6,-0.1 1.5,0.4 2.3,1.7 2.2,3.5 1.6,4.5 1.3,6.5 1.1,8.6 0.7,11 0.3,12 -0.7,21.1 -0.9,9.1 -1.4,7.6 -1.5,5.4 -2,3.7 -2.5,2.3 -2.5,0.6 -3,-0.7 -3.5,-2.5 -3,-3.2 -7.5,-9.2 -6.6,-5.6 -8.1,-5 -10.9,-4.9 -4.3,-3.1 -2.8,-3 -2.5,-4 -1.4,-4 -0.3,-3.5 0.3,-4.1 1.4,-4 2.1,-3.5 2.6,-3 4.9,-3.6 10.9,-4.9 4.5,-2.6 4.1,-2.8 6.1,-5.2 7.5,-9.2 3,-3.2 3,-2.2zM111.3,39.2l1.6,-0.1 2,0.5 3.5,2.3 3.5,3.6 7.5,9.2 2.7,2.5 4.5,3.5 7.5,4.6 9.9,4.3 5,3.4 3.1,3.3 2.5,4 1.4,4 0.3,3.5 -0.3,4.1 -1.4,4 -2.5,4 -2.8,3 -4.3,3.1 -10.9,4.9 -8.1,5 -6.6,5.6 -7.5,9.2 -3,3.2 -3.5,2.5 -3,0.7 -2.5,-0.6 -2.5,-2.3 -2,-3.7 -1.5,-5.4 -1.3,-7.1 -0.8,-7.6 -0.6,-10 -0.3,-11.5 0.7,-21.1 0.8,-8.6 1.3,-7.5 1.6,-5.5 1.6,-3.4 2,-2.4z"/>
<path fill="#6273a3" d="M62.1,39.7l2.6,-0.3 1.5,0.5 1.3,0.8 2.2,2.7 1.8,4.3 1.5,6 1.1,7 0.8,8.6 0.5,11 0,12.6 -0.3,11 -0.8,10.1 -1.3,8.5 -1.5,6 -1.9,4.5 -2.4,2.7 -1.5,0.9 -1.5,0.2 -3,-0.6 -3.5,-2.4 -3,-3.1 -7.5,-9.2 -6.6,-5.7 -8,-4.9 -10.5,-4.6 -4.5,-3.2 -3.1,-3.2 -2.4,-4 -1.3,-3.5 -0.5,-4 0.4,-4.1 1.3,-3.9 2.2,-3.6 2.6,-3 4.8,-3.6 11.9,-5.4 8,-5.1 6.2,-5.5 6.5,-8.1 3,-3.2 2.5,-2zM110.8,39.7l1.6,-0.3 2,0.2 2,0.9 2,1.5 3.5,3.5 7.5,9.2 2.7,2.5 4.4,3.5 7.5,4.6 10,4.4 4.7,3.1 3,3 2.6,4 1.3,3.5 0.7,4.5 -0.4,4.1 -1.4,4 -2.4,4 -2.9,3 -4.7,3.4 -10.5,4.6 -8,4.9 -6.6,5.7 -7.5,9.2 -3,3.1 -3,2.2 -3,0.8 -2.5,-0.5 -2.3,-1.8 -1.9,-3 -1.4,-4 -1.4,-6.1 -1.1,-7.4 -1.1,-19.1 0,-12.1 0.3,-10.5 0.8,-9.6 1.1,-7.9 1.4,-6.1 1.6,-4.3 2,-3z"/>
<path fill="#6574a0" d="M63.5,39.7l2.7,0.6 2.5,2.3 2,3.6 1.5,5.1 1.3,6.9 0.9,7.6 0.6,10 0.3,12 -0.3,12.6 -0.6,10 -0.9,7.6 -1.3,6.9 -1.5,5.1 -2,3.6 -2.5,2.3 -2.5,0.7 -2.5,-0.6 -3.5,-2.3 -3,-3.1 -7.5,-9.2 -6.6,-5.6 -7.9,-4.9 -10.6,-4.7 -4.7,-3.3 -2.8,-3 -2.5,-4 -1.2,-3.5 -0.5,-4 0.4,-4.1 1.3,-4 2.5,-4 2.8,-3 4.7,-3.3 10.6,-4.7 7.9,-4.9 6.6,-5.6 7.5,-9.2 3,-3.1 3,-2.1zM112.6,39.7l2.8,0.5 3.5,2.3 3,3.1 7.5,9.2 6.6,5.6 7.9,4.9 10.6,4.7 4.5,3.2 3,3.1 2.2,3.5 1.4,3.5 0.6,4.5 -0.4,4.1 -1.3,4 -2.5,4 -2.8,3 -4.7,3.3 -10.6,4.7 -7.9,4.9 -6.6,5.6 -7.5,9.2 -3,3.1 -3.5,2.3 -2.5,0.6 -2.5,-0.7 -2.5,-2.3 -2,-3.6 -1.5,-5.1 -1.3,-6.9 -0.9,-7.6 -0.6,-10 -0.3,-12 0.8,-20.6 0.8,-8.6 1.4,-7.5 1.6,-5.5 1.9,-3.5 2.1,-2.1z"/>
<path fill="#69759e" d="M61.9,40.2l2.8,-0.1 2.5,1.4 2.2,2.7 1.8,4.5 1.5,6 1.1,7.1 0.7,8 0.5,11.5 0,13.1 -0.4,9.5 -0.8,10.5 -1.4,8.6 -1.5,5.5 -1.8,4 -2.4,2.7 -1.5,0.8 -1.5,0.2 -3,-0.6 -3,-2 -3,-3.1 -7.5,-9.2 -6.6,-5.6 -7.8,-4.8 -10.7,-4.7 -4.5,-3.2 -2.9,-3.1 -2.2,-3.5 -1.5,-3.8 -0.5,-4.2 0.4,-4.1 1.1,-3.6 1.9,-3.4 3,-3.5 2.4,-2 2.8,-1.8 10.7,-4.7 4.3,-2.5 4,-2.7 6.1,-5.2 9.5,-11.3 3,-2.4zM111.6,40.2l1.8,-0.2 1.5,0.2 3.5,2 3.5,3.5 8,9.7 6.6,5.4 7.3,4.5 10.7,4.7 4,2.8 3,3 2.6,4 1.5,3.8 0.5,4.2 -0.4,4.1 -1.3,4 -2.5,4 -2.8,3 -4.6,3.3 -10.7,4.7 -7.8,4.8 -6.6,5.6 -7.5,9.2 -3,3.1 -3,2 -2.5,0.6 -2.5,-0.4 -2.5,-2.1 -1.9,-3.2 -1.4,-4 -1.3,-5.5 -1.1,-7.5 -1.1,-18.6 0,-13.1 0.4,-9.5 0.7,-9.6 1.2,-7.7 1.5,-6.3 1.5,-3.8 2.2,-3.2z"/>
<path fill="#6c769c" d="M61.1,40.7l1.6,-0.4 1.5,0 2.5,1.2 2.3,2.7 1.7,4 1.5,5.5 1.2,7 0.8,9.1 0.5,11 0.1,13.6 -0.4,9.5 -1,11.1 -1.2,7.5 -1.5,5.5 -2,4.4 -2.5,2.6 -1.5,0.7 -1.5,0.2 -3,-0.8 -3,-2.1 -3,-3.2 -7,-8.5 -6.6,-5.6 -7.8,-4.8 -10.7,-4.7 -4.5,-3.3 -2.9,-3 -2.2,-3.5 -1.4,-4 -0.6,-4 0.4,-4.1 1.2,-3.5 1.9,-3.5 3,-3.5 5.1,-3.8 10.7,-4.7 4.5,-2.6 4.3,-2.9 6.1,-5.4 8.5,-10.2 2.5,-2.2zM111.3,40.7l1.6,-0.4 1.5,0 1.5,0.5 2,1.2 4,3.8 7.5,9.1 5.1,4.5 7,4.6 4.4,2.3 7.6,3.2 5,3.3 3,3 2.6,4 1.4,4 0.6,4 -0.5,4.5 -1.3,3.6 -2.4,4 -2.9,3 -4.5,3.3 -10.7,4.7 -7.8,4.8 -6.6,5.6 -7,8.5 -3,3.2 -3,2.1 -3,0.8 -2.5,-0.6 -2.2,-1.8 -1.9,-3 -1.4,-4.1 -1.5,-6.4 -1,-7.1 -1,-17.5 0.1,-20.1 0.8,-10.5 1.1,-8.3 1.2,-5.8 1.7,-5 2.1,-3.2z"/>
<path fill="#6f779a" d="M62,40.7l2.7,0.2 2.7,1.8 2.2,3.5 1.7,5 1.4,6.5 1,8.1 0.6,10 0.3,11.5 -0.3,13.1 -0.5,8 -0.8,8.1 -1.3,7 -1.9,6 -1.6,3 -2.5,2.4 -2.5,0.7 -3,-0.6 -3,-2.1 -3,-3.1 -7,-8.6 -6.7,-5.7 -7.6,-4.6 -10.8,-4.8 -4.5,-3.2 -2.8,-3 -2.3,-3.6 -1.5,-4.4 -0.4,-3.5 0.4,-4.1 1.4,-4 2.1,-3.6 3.1,-3.4 4.5,-3.2 10.8,-4.8 7.7,-4.7 6.6,-5.6 9.5,-11.2 2.5,-2zM112.6,40.7l2.8,0.1 3.5,2.1 3,2.9 8,9.7 6.6,5.5 7.2,4.3 10.8,4.8 4.5,3.2 2.8,3 2.3,3.6 1.5,4.4 0.4,3.5 -0.4,4.1 -1.4,4 -2.1,3.6 -3.1,3.4 -4.5,3.2 -10.8,4.8 -7.7,4.7 -6.6,5.6 -7,8.6 -3,3.1 -3,2.1 -2.5,0.6 -1.5,-0.1 -1.5,-0.6 -2.5,-2.4 -1.5,-2.7 -1.9,-5.8 -1.2,-6 -1,-9.1 -0.8,-20 0.3,-13.1 0.5,-8 0.8,-8.1 1.3,-6.9 1.3,-4.6 1.7,-3.7 2,-2.5 1.3,-0.8z"/>
<path fill="#727898" d="M61,41.2l2.7,-0.2 2.6,1.2 2.1,2.5 1.9,4 1.4,5 1.2,7 0.9,9.1 0.5,10.5 0.1,8.6 -0.5,15 -0.9,10.6 -1.3,7.6 -1.4,5.4 -2.1,4.3 -2.5,2.6 -1.5,0.7 -1.5,0.2 -3,-0.8 -2.5,-1.7 -3,-3.1 -7,-8.6 -6.6,-5.6 -7.6,-4.6 -10.9,-4.8 -4.4,-3.2 -2.8,-3 -2.4,-3.8 -1.4,-4.2 -0.4,-3.5 0.3,-3.7 1.4,-4.4 2.1,-3.5 2.7,-3 4.9,-3.7 10.9,-4.8 4.5,-2.6 4.1,-2.8 5.6,-4.8 9,-10.8 2.5,-2zM112.1,41.2l1.8,-0.3 1.5,0.2 3.5,1.9 3.5,3.5 7.5,9.1 6.6,5.4 7.1,4.3 10.3,4.5 4.4,3 3,3 2.6,4 1.5,4 0.5,4 -0.3,3.7 -1.4,4.4 -2.1,3.6 -3.2,3.4 -4.4,3.2 -10.9,4.8 -7.6,4.6 -6.6,5.6 -7,8.6 -3,3.1 -2.5,1.7 -3,0.8 -2.5,-0.6 -2.1,-1.7 -1.9,-3 -1.5,-4 -1.5,-6.5 -1,-6.6 -1.1,-17 0.2,-20.6 0.7,-10 1.2,-8.6 1.5,-6.5 1.7,-4.5 2.2,-3z"/>
<path fill="#757996" d="M60.2,41.7l1.5,-0.5 1.5,0 2.5,1.1 2.5,2.8 1.7,3.6 1.5,5 1.2,7 0.9,9.1 0.5,10 0.2,9.1 -0.5,15 -0.9,9.6 -1.1,7.5 -1.6,6 -1.9,4.1 -2.5,2.8 -1.5,0.8 -1.5,0.3 -3,-0.7 -3,-2.1 -3,-3.2 -6.5,-7.9 -6.6,-5.6 -7.5,-4.6 -11,-4.9 -4.3,-3.1 -2.8,-3 -2.5,-4 -1.2,-3.5 -0.5,-3.5 0.3,-4.1 1.2,-4 2.2,-4 2.7,-3 4.9,-3.6 11,-4.9 4,-2.3 4.5,-3 5.6,-4.9 8.5,-10.2 2.5,-2.1zM111.9,41.7l1.5,-0.5 1.5,0 1.5,0.5 2,1.1 3.5,3.2 7.5,9.1 5.6,4.9 6.6,4.3 11.9,5.3 4.8,3.2 3,3 2.3,3.5 1.5,3.6 0.7,4.4 -0.3,4.1 -1.4,4.5 -2.5,4 -2.8,3 -4.3,3.1 -11,4.9 -7.5,4.6 -6.6,5.6 -6.5,7.9 -3,3.2 -2.5,1.9 -3,0.9 -2.5,-0.5 -2.1,-1.5 -1.9,-2.8 -1.7,-4.2 -1.3,-5.4 -1,-6.3 -0.8,-7.9 -0.5,-10 -0.2,-8.6 0.3,-12.5 0.7,-9.5 1.1,-8.6 1.4,-6 1.9,-5 2,-3z"/>
<path fill="#797a93" d="M61,41.7l1.7,-0.2 1.5,0.4 2.5,1.8 2,3 1.8,5 1.4,6 1.1,8.6 0.6,9 0.4,12 -0.2,9.6 -0.7,11.5 -0.9,7.6 -1.4,7.5 -1.5,4.5 -2.1,3.9 -2.4,2.1 -2.6,0.7 -3,-0.8 -2.5,-1.8 -3,-3.1 -6.5,-8 -6.6,-5.6 -7.5,-4.5 -11,-4.9 -4.3,-3.1 -2.8,-3 -2.4,-4 -1.2,-3.5 -0.5,-4 0.4,-4.1 1.3,-4 2.4,-4 2.8,-3 4.3,-3.1 11,-4.9 8,-4.9 6.1,-5.2 9,-10.6 2.5,-2zM113.1,41.7l2.8,0 2,0.9 1.5,1.1 3,2.9 7.5,9.1 6.6,5.5 7,4.1 10.3,4.5 4.4,3 3,3 2.4,3.6 1.5,3.9 0.6,4.5 -0.4,4.1 -1.3,4 -2.4,4 -2.8,3 -4.3,3.1 -11,4.9 -7.5,4.5 -6.6,5.6 -6.5,8 -3,3.1 -2.5,1.8 -3,0.8 -2.6,-0.7 -2.4,-2.1 -2.1,-3.9 -1.5,-4.5 -1.1,-5.5 -1.2,-9.1 -0.6,-8.5 -0.3,-11.5 0.8,-19.6 0.9,-8.6 1.1,-6.2 1.5,-5.3 1.5,-3.5 2,-2.5z"/>
<path fill="#7c7b91" d="M60.1,42.2l2.6,-0.3 1.5,0.4 1.4,0.9 2.1,2.5 1.9,4 1.4,5 1.1,6.5 0.9,8.6 0.6,10 0.1,9.1 -0.3,12 -0.7,9.5 -1.5,9.9 -1.5,5.7 -2,4.5 -2.5,2.8 -1.5,0.8 -1.5,0.3 -3,-0.7 -2.5,-1.7 -3,-3.1 -7,-8.5 -6.1,-5.1 -7.5,-4.4 -10.2,-4.5 -5,-3.5 -2.8,-3 -2.2,-3.5 -1.4,-3.8 -0.5,-4.2 0.4,-4.1 1.3,-4 2.4,-3.9 2.8,-3.1 4.2,-3.1 11,-4.9 8,-4.8 6.1,-5.2 8.5,-10.2 2.5,-2zM112.8,42.2l1.6,-0.4 1.5,0.2 2,0.8 1.5,1 3,2.9 7.5,9.1 3.6,3.2 3.5,2.6 6.5,3.7 10.2,4.5 4.4,3 3,3 2.5,3.8 1.5,4 0.5,4.2 -0.4,4.1 -1.3,4 -2.4,3.9 -2.8,3.1 -5,3.5 -10.2,4.5 -7.5,4.4 -6.6,5.6 -9,10.6 -2.5,1.9 -3,1 -2.5,-0.5 -2.4,-1.9 -1.7,-2.5 -1.8,-4.5 -1.3,-5.5 -0.9,-6 -1.3,-17.1 -0.1,-9.1 0.3,-12 0.7,-9 1.1,-8.6 1.4,-6 1.9,-5 2.1,-2.9z"/>
<path fill="#7f7c8f" d="M61.5,42.2l2.7,0.6 2.5,2.1 2,3.6 1.5,4.5 1.2,5.2 1.2,9.1 0.6,8.5 0.3,12 -0.2,9.1 -0.7,11.5 -0.9,7.3 -1.4,7.3 -1.6,4.7 -2,3.6 -2.5,2.1 -2.5,0.6 -2.5,-0.5 -3,-2.1 -2.5,-2.6 -7,-8.5 -6.1,-5 -7.5,-4.5 -10.1,-4.4 -5,-3.5 -2.8,-3 -2.2,-3.5 -1.4,-4 -0.5,-4 0.4,-4.4 1.3,-3.7 2.3,-3.8 2.9,-3.2 5,-3.5 10.1,-4.4 7.5,-4.5 6.1,-5 7,-8.5 2.5,-2.6 2.5,-1.8zM114.5,42.2l2.9,0.5 3,2.1 2.5,2.6 7,8.5 6.1,5 7.5,4.5 10.1,4.4 5,3.5 2.8,3 2.2,3.5 1.4,4 0.5,4 -0.4,4.4 -1.3,3.7 -2.3,3.8 -2.9,3.2 -5,3.5 -10.1,4.4 -7.5,4.5 -6.1,5 -7,8.5 -2.5,2.6 -3,2.1 -2.5,0.5 -2.5,-0.6 -2.5,-2.1 -2,-3.6 -1.6,-4.7 -1.1,-5 -1.2,-9.1 -0.6,-8.5 -0.3,-12 0.8,-19.1 0.9,-8.6 1.2,-6.5 1.6,-5 1.8,-3.6 2.3,-2.4z"/>
<path fill="#827e8d" d="M60.1,42.7l2.8,0 1.3,0.5 1.5,1.2 2,2.8 2,5 1.3,5.5 1.2,9 0.7,9.1 0.4,11 -0.2,10.1 -0.6,9.5 -0.9,8.6 -1.4,7 -1.5,4.8 -1.9,3.7 -2.6,2.5 -2.5,0.7 -3,-0.7 -2.5,-1.7 -2.5,-2.5 -7,-8.5 -6.1,-5.1 -7.5,-4.4 -10.1,-4.4 -5,-3.5 -2.7,-3 -2.3,-3.6 -1.5,-4.4 -0.3,-3.5 0.3,-4.1 1.5,-4.4 2.3,-3.6 2.7,-3 4.6,-3.3 10.5,-4.6 8,-4.8 6.1,-5.2 8.5,-10.1 2,-1.6zM113.7,42.7l1.7,-0.2 1.5,0.3 3,1.7 3,2.9 7,8.5 6.6,5.5 7,4 10.1,4.4 4.4,3 2.9,3 2.6,4 1.4,4 0.5,4 -0.3,4.1 -1.5,4.4 -2.3,3.6 -2.7,3 -5,3.5 -10.1,4.4 -7.5,4.4 -6.1,5.1 -7,8.5 -2.5,2.5 -2.5,1.7 -3,0.7 -2.5,-0.7 -2.5,-2.4 -1.9,-3.6 -1.5,-4.5 -1,-4.5 -1.2,-8.6 -0.6,-9 -0.4,-11 0.2,-10.1 0.6,-9.5 0.9,-8.1 1,-6 1.4,-5 2,-4.4 2,-2.4z"/>
<path fill="#857f8b" d="M59.2,43.2l3,-0.3 2.5,1.2 2.3,2.6 1.9,4 1.4,5 1.1,6 0.9,8.1 0.6,10 0.1,9.1 -0.3,12 -0.8,9.5 -1.4,9.1 -1.5,5.5 -2,4.5 -2.3,2.6 -1.5,0.9 -1.5,0.4 -2.5,-0.4 -3,-1.8 -2.5,-2.5 -7,-8.5 -6.1,-5.1 -7.5,-4.4 -10,-4.3 -5,-3.5 -2.8,-3 -2.1,-3.5 -1.3,-3.5 -0.6,-4 0.2,-4 1,-3.6 2.1,-4 3,-3.5 4.6,-3.5 11.9,-5.3 7.5,-4.7 5.6,-4.8 8,-9.6 2,-1.7zM113.4,43.2l1.5,-0.4 2,0.2 3,1.6 3,2.9 7,8.5 6.6,5.4 7,4.1 10,4.3 4.4,3 3,3 2.5,4 1.4,4 0.5,4 -0.4,4.1 -1.3,4.2 -2.1,3.4 -3,3.4 -5,3.5 -10,4.3 -7.5,4.4 -6.1,5.1 -9,10.6 -2.5,1.8 -3,0.8 -2.5,-0.6 -2,-1.6 -1.9,-2.7 -1.6,-4 -1.4,-5.5 -1,-6.1 -1.3,-16.5 -0.1,-9.1 0.3,-12 0.8,-9 1.2,-8.6 1.5,-6 1.6,-4 2.2,-3z"/>
<path fill="#898089" d="M60.5,43.2l2.7,0.4 2.6,2.1 1.9,3.2 1.8,4.8 1.4,7 0.9,6.6 0.6,8.5 0.4,11.5 -0.2,9.6 -0.6,9.5 -1,8.6 -1.1,6 -1.6,5 -2.1,4 -2.5,2.3 -2.5,0.7 -2.5,-0.4 -3,-1.9 -9,-10.6 -6.1,-5.1 -7.5,-4.3 -9.9,-4.3 -5,-3.5 -3.1,-3.5 -2.1,-3.5 -1.2,-4 -0.4,-3.5 0.4,-4.1 1.2,-4 2.1,-3.5 3.1,-3.5 5,-3.5 9.9,-4.3 7.5,-4.3 6.1,-5.1 9,-10.6 2.5,-1.7zM115.1,43.2l2.8,0.4 2.5,1.5 2.5,2.5 7,8.5 6.6,5.4 7,4 9.9,4.3 5,3.5 3.1,3.5 2.1,3.5 1.2,4 0.4,3.5 -0.4,4.1 -1.2,4 -2.1,3.5 -3.1,3.5 -5,3.5 -9.9,4.3 -7.5,4.3 -6.1,5.1 -9,10.6 -3,1.9 -2.5,0.4 -2.5,-0.7 -2.5,-2.3 -2.1,-4 -1.4,-4.5 -1.3,-6.5 -0.8,-6.6 -0.6,-8 -0.4,-12 0.8,-18.6 1,-8.6 1.1,-6 1.4,-4.5 2,-4 2.3,-2.5z"/>
<path fill="#8c8186" d="M59.2,43.7l3,0 2.5,1.5 2,2.5 2.1,5 1.4,5.5 1.3,8.6 0.7,9 0.3,11 -0.1,9.6 -0.6,9.5 -1.1,9 -1.2,6.1 -1.4,4.5 -2,4 -2.4,2.3 -1.5,0.7 -1.5,0.2 -2.5,-0.5 -2.5,-1.7 -2,-2 -7,-8.5 -5.6,-4.7 -7.5,-4.4 -10.4,-4.5 -5,-3.5 -2.7,-3 -2.1,-3.5 -1.4,-3.7 -0.5,-4.3 0.4,-4.1 1.1,-3.8 2.5,-4.2 2.7,-3 5,-3.5 10.4,-4.5 7.5,-4.4 5.6,-4.7 8.5,-10.1 2,-1.6zM114.4,43.7l3,0 3,1.5 2.5,2.5 7.5,9 6.6,5.2 7,3.9 9.4,4 4.4,3 2.9,3 2.4,3.7 1.5,4 0.5,4.3 -0.4,4.1 -1.1,3.8 -2.5,4.2 -2.7,3 -5,3.5 -10.4,4.5 -7.5,4.4 -5.6,4.7 -7,8.5 -2,2 -2.5,1.7 -2.5,0.5 -2.7,-0.7 -2.3,-2 -2.2,-4 -1.5,-4.5 -1.2,-6 -0.9,-6.6 -0.7,-8.5 -0.3,-11 0.6,-17.6 0.9,-8.5 1.2,-7.1 1.5,-5 1.9,-4 2.2,-2.5z"/>
<path fill="#8f8284" d="M58.4,44.2l2.8,-0.3 2.5,1 2.2,2.3 2.1,4 1.5,5 1.2,7 1,9.1 0.4,8 0.2,8.6 -0.4,11.5 -0.8,9.5 -1.4,9.1 -1.6,5.5 -2.2,4.5 -2.5,2.5 -2.7,0.9 -2.5,-0.4 -3,-2 -8.5,-10 -5.6,-4.8 -7.5,-4.4 -10.3,-4.4 -4.4,-3 -2.9,-3 -2.5,-3.9 -1.5,-4.3 -0.4,-3.8 0.4,-4.4 1.5,-4.2 2.1,-3.4 2.7,-3.1 5,-3.5 10.3,-4.4 7.5,-4.4 5.6,-4.8 8,-9.5 2,-1.7zM114.2,44.2l2.7,-0.3 3,1.1 3,2.8 7,8.4 5.6,4.8 7.5,4.4 10.3,4.4 4.4,3 2.9,3 2.5,3.9 1.5,4.3 0.4,3.8 -0.4,4.4 -1.5,4.2 -2.1,3.4 -2.7,3.1 -5,3.5 -10.3,4.4 -7.5,4.4 -5.6,4.8 -8.5,10 -2.5,1.7 -2.5,0.7 -2.5,-0.5 -2.4,-1.9 -1.7,-2.5 -1.7,-4 -1.2,-4.8 -1.1,-6.3 -0.9,-8.5 -0.4,-8 -0.2,-8.6 0.4,-11.5 0.7,-9 1.2,-8.1 1.5,-6 1.7,-4 2.1,-3z"/>
<path fill="#928382" d="M59.5,44.2l1.7,0 1.3,0.5 2.5,2 2.1,3.5 1.6,4.5 1.4,6 0.9,7.1 0.7,8.5 0.3,11 -0.1,8.6 -0.6,10 -0.9,7.6 -1.4,7 -1.6,5 -2,3.5 -2.2,2.2 -1.5,0.6 -1.5,0.3 -2.5,-0.6 -2.5,-1.6 -8.5,-10 -6.1,-5.1 -7,-4.1 -10.2,-4.3 -4.4,-3 -2.9,-3 -2.6,-4.1 -1.5,-4.6 -0.3,-3.3 0.3,-3.9 1.5,-4.6 2.6,-4.1 2.3,-2.5 5,-3.5 10.2,-4.3 7.5,-4.5 5.6,-4.7 8.5,-10 2,-1.4zM115.8,44.2l1.6,0 1.5,0.5 2.5,1.6 8.5,10 6.1,5.1 7,4.1 10.2,4.3 4.4,3 2.9,3 2.6,4.1 1.5,4.6 0.3,3.3 -0.3,3.9 -1.5,4.6 -2.6,4.1 -2.3,2.5 -5,3.5 -10.2,4.3 -7,4.1 -6.1,5.1 -8.5,10 -2.5,1.6 -2.5,0.6 -2.5,-0.7 -2.5,-2.1 -2,-3.5 -1.7,-4.8 -1.2,-6 -1,-7.6 -0.6,-7.5 -0.3,-11 0.1,-8.6 0.6,-10 0.9,-7.6 1.4,-7 1.4,-4.5 1.9,-3.6 2.3,-2.4z"/>
<path fill="#968480" d="M58.4,44.7l2.8,-0.1 2.5,1.4 2,2.3 2,4.3 1.5,5.5 1.1,5.7 0.9,9.6 0.4,7.9 0,13.1 -0.3,8 -1,9.5 -1.1,6.2 -1.5,5.5 -2,4.3 -2.5,2.7 -1.8,0.9 -1.2,0.2 -3,-0.6 -2,-1.4 -3,-3.2 -5.5,-6.7 -6.1,-5.1 -7,-4 -10.2,-4.3 -4.4,-3 -2.9,-3.2 -2.6,-4.1 -1.4,-4.7 -0.2,-3 0.1,-3.3 1.5,-5 2.1,-3.5 2.9,-3.3 2.5,-2 2.4,-1.5 10.2,-4.3 7,-4 6.1,-5.1 8,-9.5 1.5,-1.2zM115.2,44.7l2.7,-0.1 3,1.5 3.5,3.6 6,7.3 5.6,4.5 7,4 10.2,4.3 4.4,3 2.9,3.2 2.6,4.1 1.4,4.7 0.2,3 -0.1,3.3 -1.5,5 -2.6,4.1 -2.9,3.2 -4.4,3 -10.2,4.3 -7,4 -6.1,5.1 -5.5,6.7 -3,3.2 -2,1.4 -2.5,0.6 -2.5,-0.5 -2,-1.4 -2,-2.8 -1.6,-3.5 -1.4,-5.4 -1.1,-5.7 -0.9,-9.6 -0.4,-7.9 0,-13.1 0.3,-8 1,-9.5 1,-6.1 1.5,-5.5 1.6,-3.5 2.2,-3z"/>
<path fill="#99857e" d="M57.7,45.2l1.5,-0.3 1.5,0.1 2.5,1.2 2.2,2.5 1.8,3.8 1.5,5.1 1.3,7.2 0.7,6.3 0.6,10.2 -0.3,19.6 -1,10.5 -1.3,7.6 -1.6,5 -2.1,4 -2.3,2.4 -1.5,0.7 -1.5,0.2 -2.5,-0.5 -2,-1.2 -3,-3.1 -6,-7.3 -5.6,-4.6 -7,-4 -10.1,-4.2 -4.4,-3 -2.5,-2.6 -2.6,-3.9 -1.4,-4 -0.6,-4 0.2,-3.6 1.3,-4.9 2.1,-3.6 3,-3.5 2.4,-2 2.5,-1.5 10.1,-4.2 7,-4 6.1,-5.1 7.5,-9 1.5,-1.3zM115.2,45.2l2.7,-0.3 3,1.3 3,3 6.5,7.8 3.6,3.1 3.5,2.5 6.5,3.4 9.1,3.8 4.4,3 2.5,2.6 2.6,3.9 1.5,4.1 0.5,4.4 -0.5,5 -1.1,3.1 -2,3.5 -3,3.5 -2.4,2 -2.5,1.5 -10.1,4.2 -7,4 -5.6,4.6 -6,7.3 -3,3.1 -2,1.2 -2.5,0.5 -2.5,-0.6 -2.1,-1.7 -1.9,-3 -1.5,-3.7 -1.5,-5.8 -1,-6.6 -1.1,-15.5 0.2,-18.1 0.9,-10 1,-6.6 1.5,-5.8 1.7,-4.2 2.2,-3z"/>
<path fill="#9c867c" d="M57.2,45.7l3,-0.3 2.5,1.1 2,2.2 2.1,4 1.4,4.6 1.3,6.5 0.9,8 0.6,9.5 -0.3,19.1 -0.8,9 -1.3,8.1 -1.8,6 -2.1,4 -2.5,2.5 -2.5,0.9 -2.5,-0.4 -2.5,-1.5 -8,-9.4 -6.1,-5.1 -7,-3.9 -10,-4.2 -4.4,-3 -2.6,-2.8 -2.4,-3.7 -1.5,-4 -0.5,-4 0.3,-4.6 1,-3.5 2.2,-4 3,-3.5 2.4,-2 2.5,-1.5 11,-4.7 7,-4.2 5.1,-4.3 7.5,-9zM115.4,45.7l2.5,-0.4 1.5,0.4 1.5,0.7 2.5,2.3 6.5,7.9 5.1,4.3 7,4.2 11,4.7 4.4,3 3.1,3.4 2.1,3.4 1.4,4.2 0.5,4 -0.4,4.3 -1.2,3.8 -2,3.5 -3,3.5 -2.4,2 -2.5,1.5 -10,4.2 -7,3.9 -6.1,5.1 -8,9.4 -2,1.3 -2.5,0.6 -2.5,-0.6 -2.2,-1.8 -1.8,-2.6 -1.6,-3.9 -1.4,-5.3 -1,-5.9 -0.8,-7.4 -0.5,-9 0.2,-18.1 0.8,-9 1.1,-7.1 1.4,-5.5 1.8,-4.4 2,-2.9z"/>
<path fill="#9f877a" d="M56.6,46.2l3.1,-0.4 2.5,1.1 2.2,2.3 2.1,4 1.5,5 1.2,6.1 0.9,7.5 0.5,10 0.1,11.1 -0.4,8.5 -1,9.5 -1.2,6.6 -1.6,5.5 -2.1,4 -2.5,2.5 -2.7,0.9 -2.5,-0.4 -2,-1.2 -2.5,-2.5 -6,-7.3 -6.1,-4.9 -6.5,-3.6 -9.9,-4.1 -4.4,-3 -2.7,-2.9 -2.3,-3.6 -1.4,-4 -0.6,-4 0.3,-4.1 1.3,-4.5 2.2,-4 2.7,-3 2.4,-2 2.5,-1.5 10.9,-4.6 7,-4.1 5.1,-4.4 7,-8.4 1.5,-1.3zM115.6,46.2l2.8,-0.4 2.5,0.8 3,2.8 6.5,7.8 4.6,3.9 7,4.1 10.9,4.6 4.4,3 2.7,2.9 2.3,3.6 1.4,4 0.6,4 -0.3,4.1 -1.3,4.5 -2.2,4 -2.7,3 -2.4,2 -2.5,1.5 -9.9,4.1 -7.5,4.3 -5.6,4.7 -7.5,8.9 -2,1.4 -2.5,0.6 -2.3,-0.4 -2.2,-1.5 -2.1,-3 -1.7,-4 -1.5,-5.5 -1,-6.1 -0.7,-7.5 -0.5,-8.5 0.3,-18.1 0.8,-8.5 1.1,-7.1 1.5,-5.5 1.7,-4 2.1,-3z"/>
<path fill="#a28877" d="M56.1,46.7l1.6,-0.4 1.5,0 2.5,0.9 2.4,2.5 2.1,4 1.5,5.2 1.1,5.9 0.9,7.5 0.6,9.5 0,9.6 -0.3,9.5 -1,9.5 -1.3,6.9 -1.7,5.7 -2.3,4 -2,2 -1.5,0.7 -1.5,0.3 -2.5,-0.4 -2,-1.4 -8,-9.4 -5.6,-4.5 -6.5,-3.6 -10.3,-4.3 -4.4,-3 -2.8,-3 -2.1,-3.5 -1.4,-4 -0.6,-4 0.3,-4.6 1.3,-4 1.8,-3.5 3,-3.5 2.4,-2 2.5,-1.5 10.3,-4.3 7,-4 5.1,-4.1 7,-8.5 1.5,-1.4zM115.9,46.7l1.5,-0.4 1.5,0 2.5,0.9 3,2.8 6,7.4 5.1,4.1 7,4 9.4,3.8 4.7,3 3,3 2.5,3.9 1.4,4.1 0.6,4 -0.3,4.6 -1.3,4 -1.8,3.5 -3,3.5 -2.4,2 -2.5,1.5 -10.3,4.3 -7,4 -5.1,4.1 -8,9.4 -2,1.4 -2,0.4 -2.5,-0.5 -2.2,-1.5 -2.1,-3 -1.5,-3.5 -1.4,-5 -1,-5.6 -0.8,-7.1 -0.6,-9.4 -0.1,-9.1 0.4,-9 0.7,-8 1.1,-7.1 1.3,-5.5 1.7,-4.1 2,-3z"/>
<path fill="#a68975" d="M57.5,46.7l2.7,0.4 2.4,1.6 2.1,3.1 1.7,3.9 1.4,5.5 1.2,7.6 0.7,7.5 0.3,9.5 -0.1,9.6 -0.6,9 -0.9,7.5 -1.3,6.1 -1.7,5 -2.2,3.8 -2.5,2.1 -2.5,0.6 -2,-0.3 -2,-1.1 -2,-2 -6,-7.4 -5.6,-4.5 -6.5,-3.6 -10.3,-4.2 -4.3,-3 -2.7,-3 -2.3,-3.8 -1.4,-4.2 -0.4,-4 0.3,-4.2 1.4,-4.4 2.4,-4 2.7,-3 4.3,-3 11.3,-4.7 6,-3.4 5.1,-4.2 7.5,-8.9 2,-1.5zM118,46.7l2.4,0.3 2,1.1 2,2 6,7.4 5.6,4.5 6.5,3.6 10.3,4.2 4.3,3 2.7,3 2.3,3.8 1.4,4.2 0.4,4 -0.3,4.2 -1.4,4.4 -2.4,4 -2.7,3 -4.3,3 -10.3,4.2 -6.5,3.6 -5.6,4.5 -6,7.4 -2,2 -2,1.1 -2,0.3 -2.5,-0.6 -2.3,-1.9 -1.9,-3 -1.8,-4.5 -1.4,-6 -0.9,-6.6 -0.7,-7 -0.3,-9.5 0.1,-9.1 0.5,-9 1,-7.5 1.2,-6.1 1.6,-5 2.2,-4 2.2,-2.1z"/>
<path fill="#a98a73" d="M56.6,47.2l2.6,0.1 2.5,1.4 2.4,3 1.8,4 1.5,5.5 1.1,7.1 0.8,7.5 0.3,9.5 -0.1,9.6 -0.5,9 -1,7.5 -1.3,6.3 -1.8,5.3 -2.2,3.5 -2.5,2 -2.5,0.6 -2,-0.3 -2,-1.3 -7.5,-8.9 -5.6,-4.5 -6.5,-3.6 -9.2,-3.6 -2.7,-1.5 -2.6,-2 -3,-3.5 -2,-3.5 -1.3,-4 -0.4,-4 0.3,-4.1 1.3,-4.3 2.1,-3.7 2.5,-3 2.4,-2 2.4,-1.5 10.7,-4.4 6.5,-3.6 5.1,-4.2 7.5,-8.9 1.5,-1.1zM117.9,47.2l2.5,0.1 2,1 2,2 6,7.3 5.6,4.5 6.5,3.6 9.2,3.6 2.7,1.5 2.6,2 3,3.5 2,3.5 1.3,4 0.4,4 -0.4,4.6 -1.3,4 -2,3.5 -3,3.5 -2.6,2 -2.7,1.5 -9.2,3.6 -6.5,3.6 -5.6,4.5 -7.5,8.9 -2,1.3 -2,0.3 -2.5,-0.6 -2.5,-2 -1.9,-3 -1.6,-4.1 -1.3,-4.9 -1.1,-7.1 -0.7,-7.5 -0.3,-9 0.1,-9.6 0.5,-8.5 1,-8 1.1,-5.6 1.6,-5 1.9,-3.5 2.2,-2.4z"/>
<path fill="#ac8c71" d="M55.9,47.7l2.8,0 2.7,1.5 2.3,2.9 1.7,3.6 1.6,5.5 1.2,7.6 0.7,7 0.4,9.5 -0.1,9.6 -0.6,9 -1,7.5 -1.3,6.1 -1.7,5 -2.2,3.5 -2.4,2 -2.8,0.7 -2,-0.4 -1.5,-1 -7.5,-8.9 -5.1,-4.1 -6.5,-3.6 -10.6,-4.3 -4.2,-3 -2.7,-3 -2.1,-3.5 -1.5,-4.4 -0.4,-4.1 0.3,-4.1 1.2,-4 2,-3.7 2.6,-3.3 2.4,-2 2.4,-1.5 10.6,-4.3 6.5,-3.6 5.1,-4.1 7,-8.5 1.5,-1.1zM117.9,47.7l3,0 2,1.2 7.5,8.9 6.1,4.8 6.5,3.4 8.6,3.3 4.7,3 2.8,3 2.5,4 1.5,4.4 0.4,4.1 -0.4,4.6 -1.3,4 -2.3,4 -2.7,3 -4.2,3 -10.6,4.3 -6.5,3.6 -5.1,4.1 -7.5,8.9 -1.5,1 -2,0.4 -2.5,-0.6 -2.5,-1.9 -2,-3 -1.7,-4.2 -1.3,-5 -1,-6.7 -0.7,-7.4 -0.4,-9 0.5,-16.6 0.9,-8 1.2,-6 1.5,-5.1 1.7,-3.5 2.1,-2.5z"/>
<path fill="#af8d6f" d="M55.2,48.2l3,-0.1 2.5,1.2 2.1,2.4 1.9,3.7 1.7,5.3 1.1,5.6 0.9,8.5 0.5,8 0,10.6 -0.5,8 -0.9,8.5 -1.2,6.1 -1.6,5 -2.2,4 -2.3,2.2 -1.5,0.8 -1.5,0.2 -2,-0.2 -2,-1.3 -7,-8.4 -5.1,-4.2 -6.5,-3.5 -9.5,-3.7 -2.7,-1.5 -2.5,-2 -2.7,-3 -2,-3.5 -1.4,-4 -0.5,-4 0.3,-4.6 1.2,-4 1.8,-3.5 2.8,-3.5 2.3,-2 2.4,-1.5 11,-4.4 6,-3.3 4.6,-3.7 6.5,-7.9 1.5,-1.4zM118,48.2l2.9,-0.1 2,1 2,2 5.5,6.8 3.1,2.7 3,2.1 6.5,3.3 8.5,3.3 4.7,3 2.8,3 2.2,3.5 1.5,4 0.6,4.5 -0.3,4.6 -1.4,4.5 -2.2,4 -2.7,3 -2.5,2 -2.7,1.5 -9.5,3.7 -6.5,3.5 -5.1,4.2 -7,8.4 -1.5,1.1 -2,0.4 -2.5,-0.4 -2.5,-1.8 -1.8,-2.5 -1.7,-4 -1.4,-5 -1.2,-6.6 -1.1,-14.5 0,-10.1 0.4,-8 0.7,-7 1.3,-7.1 1.6,-5.5 1.7,-3.4 2,-2.6z"/>
<path fill="#b38e6d" d="M54.7,48.7l1.5,-0.3 1.5,0.1 2.5,1.1 2.4,2.6 1.6,3.2 1.7,5.3 1.2,5.6 1,8.5 0.4,8 0,10.1 -0.4,8 -0.7,7 -1.5,7.6 -1.7,5.3 -2,3.7 -2.5,2.4 -1.5,0.7 -1.5,0.2 -2,-0.3 -1.5,-0.9 -7,-8.4 -5.6,-4.5 -5.5,-2.9 -9.9,-3.9 -4.6,-3 -2.8,-3 -2.2,-3.5 -1.6,-4.4 -0.5,-4.1 0.3,-4.6 1.2,-4 2,-4 2.5,-3 2.3,-2 2.4,-1.5 11.9,-4.8 5.5,-3.2 4.6,-3.8 6,-7.4zM118.2,48.7l2.7,-0.3 2,0.9 2,1.9 6,7.3 5.6,4.3 6,3.1 8.9,3.4 4.6,3 2.8,3 2.2,3.5 1.6,4.4 0.5,4.1 -0.3,4.6 -1.3,4.2 -1.9,3.8 -3,3.5 -2.5,2 -2.7,1.5 -9.9,3.9 -6,3.2 -5.1,4.2 -6.5,7.9 -2,1.4 -1.5,0.3 -2.5,-0.4 -2.5,-1.7 -2,-2.7 -1.7,-4 -1.4,-5 -1.1,-6.6 -1.1,-14 -0.1,-8.6 0.5,-9 0.7,-7 1.2,-7.1 1.5,-5 1.8,-4 2,-2.5z"/>
<path fill="#b68f6a" d="M54.2,49.2l2.5,-0.4 1.5,0.4 1.5,0.8 2.5,2.6 1.8,3.6 1.7,5.4 1.3,6.7 0.7,7 0.5,8 0,9.6 -0.5,8 -0.7,7 -1.5,7.6 -1.8,5.2 -2,3.5 -2.5,2.4 -3,0.8 -2,-0.4 -1.5,-1.1 -6.5,-7.9 -5.1,-4.1 -6,-3.2 -9.8,-3.8 -4.6,-3 -2.8,-3 -2.3,-4 -1.4,-4 -0.5,-4 0.3,-4.6 1.2,-4 2,-4 2.9,-3.5 2.5,-2 2.7,-1.5 9.8,-3.8 6.5,-3.5 4.6,-3.8 5.5,-6.9zM118.3,49.2l2.6,-0.4 1.5,0.4 1,0.6 7.5,8.9 5.6,4.3 6,3 8.8,3.3 4.6,3 2.8,3 2.3,4 1.4,4 0.5,4 -0.3,4.6 -1.2,4 -2,4 -2.9,3.5 -2.5,2 -2.7,1.5 -9.8,3.8 -6,3.2 -5.1,4.1 -6.5,7.9 -1.5,1.1 -1.5,0.4 -2.5,-0.4 -2.4,-1.5 -2,-2.5 -1.8,-4 -1.3,-4.5 -1.3,-6.6 -1.1,-14 -0.1,-9.1 0.4,-9 0.8,-7 1.1,-6.6 1.5,-5 1.8,-4 2,-2.5z"/>
<path fill="#b99068" d="M53.7,49.7l2.5,-0.5 1.5,0.4 1.5,0.7 2.5,2.6 2,3.8 1.6,5 1.3,6.6 0.8,7 0.4,8 0,9.6 -0.4,8 -0.8,7 -1.6,7.6 -1.7,5 -2.1,3.5 -2.5,2.2 -3,0.8 -1.5,-0.3 -1.5,-0.9 -6.5,-7.9 -5.1,-4.2 -5.5,-2.9 -10.2,-3.9 -4.6,-3 -2.7,-3 -2.1,-3.5 -1.5,-4.1 -0.6,-4.4 0.3,-4.6 1.4,-4.5 2.1,-4 2.6,-3 2.4,-2 2.7,-1.5 10.2,-3.9 6,-3.3 4.6,-3.8 5,-6.3zM118.5,49.7l2.4,-0.5 2,0.5 2.5,2.3 5,6.3 5.1,4.2 5.5,2.9 10.2,3.9 4,2.5 2.9,3 2.5,4 1.5,4.1 0.6,4.4 -0.3,4.6 -1.4,4.5 -2.1,4 -2.6,3 -2.4,2 -2.7,1.5 -10.2,3.9 -5.5,2.9 -5.1,4.2 -6.5,7.9 -1.5,0.9 -1.5,0.3 -2.5,-0.5 -2.1,-1.5 -1.9,-2.5 -1.9,-4 -1.3,-4.5 -1.2,-6.6 -1.2,-13.5 0,-8.6 0.4,-9 0.7,-7 1.2,-6.6 1.4,-5 1.9,-4 2,-2.6z"/>
<path fill="#bc9166" d="M54.6,49.7l2.6,0.2 2.5,1.5 2,2.4 2,4.2 1.4,4.7 1.3,7.1 0.8,8 0.3,7.5 -0.1,9.1 -0.5,7.5 -0.9,7 -1.4,6.6 -1.6,4.5 -2.1,3.5 -2.2,2.1 -3,1 -1.5,-0.2 -1.5,-0.8 -6.5,-7.9 -5.1,-4.1 -5.5,-2.9 -10.1,-3.8 -2.7,-1.5 -1.9,-1.5 -2.6,-3 -2.3,-4 -1.3,-4 -0.6,-4.5 0.5,-4.6 1.2,-4 1.8,-3.5 2.8,-3.5 2.4,-2 2.7,-1.5 10.1,-3.8 5.5,-2.9 5.1,-4.1 6,-7.4 1,-0.9zM120.3,49.7l2.1,0.1 1.5,0.8 7,8.4 5.1,3.9 5,2.6 10.1,3.8 2.7,1.5 1.9,1.5 2.6,3 2.3,4 1.3,4 0.6,4.5 -0.5,4.6 -1.4,4.5 -2.3,4 -2.6,3 -1.9,1.5 -2.7,1.5 -10.1,3.8 -5.5,2.9 -5.1,4.1 -6,7.4 -1.5,1.1 -1.5,0.4 -2.5,-0.5 -2.3,-1.6 -1.9,-2.5 -1.9,-4 -1.4,-5.1 -1.2,-6.5 -0.8,-8 -0.3,-7.5 0.1,-8.6 0.5,-7.5 0.8,-7 1.4,-6.6 1.5,-4.5 2,-3.6 2.4,-2.4z"/>
<path fill="#bf9264" d="M53.8,50.2l1.4,-0.2 1.5,0.3 2.5,1.4 2.1,2.5 2,4 1.4,4.8 1.3,6.8 0.8,8 0.3,7.5 -0.1,8.6 -0.4,7.5 -0.9,7 -1.5,6.7 -1.8,4.9 -2.2,3.5 -2.5,2 -2.5,0.7 -1.5,-0.2 -1.5,-1 -6,-7.4 -5.1,-4.2 -5.5,-2.8 -10.1,-3.7 -2.6,-1.5 -1.8,-1.5 -2.7,-3 -2.2,-4 -1.3,-4 -0.5,-4.5 0.4,-4.6 1.2,-4 2.1,-4 2.4,-3 2.4,-2 2.6,-1.5 10.6,-3.9 5.5,-3 4.1,-3.3 6,-7.4zM120.3,50.2l2.1,-0.1 2,1.1 6.5,7.9 5.1,4 5,2.5 10.1,3.7 2.6,1.5 1.8,1.5 2.7,3 2.2,4 1.3,4 0.5,4.5 -0.4,4.6 -1.4,4.5 -2.2,4 -2.7,3 -1.8,1.5 -2.6,1.5 -10.1,3.7 -5.5,2.8 -5.1,4.2 -6,7.4 -1.5,1 -1,0.2 -2.5,-0.5 -2.5,-1.7 -2,-2.6 -1.8,-3.9 -1.5,-5.6 -1.1,-6 -0.7,-7.5 -0.3,-7 0,-8.6 0.5,-7.5 0.9,-7.5 1.3,-6.1 1.5,-4.5 1.9,-3.5 2.3,-2.4z"/>
<path fill="#c39362" d="M53.2,50.7l1.5,-0.3 1.5,0.3 2.5,1.3 2.3,2.7 2,4 1.5,5.1 1.2,6.5 0.7,7.5 0.4,7 -0.1,9.1 -0.5,7.5 -1,7.3 -1.4,6.3 -1.9,5 -2,3 -2.4,2 -2.8,0.8 -1.5,-0.3 -1,-0.7 -6,-7.4 -5.1,-4.1 -5,-2.6 -10.5,-3.8 -2.6,-1.5 -1.8,-1.5 -2.6,-3 -2.2,-4 -1.3,-4.3 -0.5,-4.2 0.4,-4.6 1.4,-4.5 2.2,-4 2.6,-3 1.8,-1.5 2.6,-1.5 10.5,-3.8 5.5,-2.9 4.1,-3.3 5.5,-6.9zM120.3,50.7l2.1,-0.2 2,0.9 6.5,7.9 5.1,3.9 5.5,2.7 8.4,2.9 2.9,1.5 2,1.5 2.8,3 2.4,4 1.5,4.5 0.5,4.5 -0.4,4.6 -1.4,4.5 -2.2,4 -2.6,3 -1.8,1.5 -2.6,1.5 -10.5,3.8 -5,2.6 -5.1,4.1 -6,7.4 -1,0.7 -1.5,0.3 -2.5,-0.6 -2.3,-1.7 -2.1,-3 -1.6,-3.5 -1.4,-5.1 -1.1,-6 -0.7,-7.5 -0.4,-7 0.1,-8.6 0.5,-7.5 0.9,-7.5 1.2,-5.6 1.5,-4.5 1.9,-3.5 2,-2.2z"/>
<path fill="#c69460" d="M52.8,51.2l0.9,-0.3 1.5,0 1.5,0.5 1.5,0.9 2.2,2.4 2.1,4 1.5,5.1 1.3,6.5 0.8,7.5 0.3,7 -0.1,8.6 -0.5,8 -0.9,7 -1.4,6.1 -1.8,4.7 -2,3.3 -2.5,2.1 -3,0.8 -1.5,-0.4 -1,-0.8 -6,-7.5 -4.6,-3.6 -5,-2.5 -10.4,-3.7 -2.5,-1.5 -1.9,-1.5 -2.5,-3 -2.2,-4 -1.3,-4 -0.5,-4.5 0.4,-4.6 1.4,-4.5 2.2,-4 2.5,-3 1.9,-1.5 2.5,-1.5 10.4,-3.7 5,-2.5 4.6,-3.6 5,-6.4zM120.3,51.2l2.6,-0.3 1.5,0.7 6.5,7.9 5.1,3.9 5,2.4 8.8,3 2.9,1.5 2,1.5 2.8,3 2.3,4 1.3,4 0.7,4.5 -0.3,4.6 -1.3,4.5 -2.1,4 -2.8,3.5 -1.9,1.5 -2.5,1.5 -10.4,3.7 -5,2.5 -4.6,3.6 -6,7.5 -1,0.8 -1.5,0.4 -2.5,-0.6 -2.5,-1.8 -1.8,-2.5 -1.7,-3.5 -1.4,-5.1 -1.2,-6 -1.1,-14 0,-8.1 0.5,-8 0.7,-6 1.3,-6.5 1.4,-4.6 1.8,-3.5 2,-2.5z"/>
<path fill="#c9955d" d="M52.3,51.7l0.9,-0.4 1.5,0 1.5,0.4 1.5,0.9 2.1,2.1 2.2,4 1.6,5.1 1.3,6.5 0.8,7.5 0.3,7 0,8.6 -0.5,7.5 -1,7.5 -1.3,5.6 -1.7,4.5 -2.1,3.5 -2.2,2 -3,1 -1.5,-0.3 -1,-0.7 -6,-7.4 -4.6,-3.6 -5.5,-2.7 -8.7,-2.9 -2.9,-1.5 -2,-1.5 -2.7,-3 -2.3,-4 -1.4,-4.5 -0.5,-4.5 0.4,-4.6 1.1,-4 2,-4 2.9,-3.5 1.8,-1.5 2.5,-1.5 9.8,-3.4 6,-3 4.1,-3.3 5,-6.4zM120.4,51.7l2.5,-0.5 1.5,0.6 1.5,1.4 5,6.4 5.1,3.9 5,2.4 8.7,2.9 2.9,1.5 2,1.5 2.7,3 2.3,4 1.4,4.5 0.5,4 -0.3,4.6 -1.2,4.5 -2,4 -2.9,3.5 -1.8,1.5 -2.5,1.5 -9.8,3.4 -5.5,2.7 -4.6,3.6 -6,7.4 -2,1 -2.5,-0.5 -2.3,-1.5 -2,-2.5 -1.7,-3.5 -1.4,-4.6 -1.2,-6 -1.2,-13 0,-8.1 0.3,-7.5 0.8,-7.5 1.2,-6 1.5,-5.1 1.7,-3.5 2,-2.5z"/>
<path fill="#cc965b" d="M53,51.7l2.7,0.3 2.5,1.7 2,2.6 1.7,3.4 1.4,4.6 1.3,6.5 0.8,7.5 0.3,7.5 -0.1,8.6 -0.6,7.5 -1.1,7 -1.3,5.6 -1.8,4.5 -2.1,3 -2.5,2 -2.5,0.6 -1,-0.2 -1.5,-1.1 -5.5,-6.9 -4.6,-3.6 -5.5,-2.6 -8.6,-2.8 -2.9,-1.5 -2.5,-2 -2.5,-3.2 -2.1,-3.8 -1.3,-4.5 -0.4,-4 0.4,-4.6 1.3,-4.5 2.1,-3.8 2.5,-3.2 2.5,-2 2.9,-1.5 8.6,-2.8 5.5,-2.6 4.1,-3.1 5.5,-6.9 1,-1zM122.1,51.7l1.3,-0.1 1.5,0.8 6,7.4 4.6,3.6 5.5,2.6 8.6,2.8 2.9,1.5 1.9,1.5 2.7,3 2.2,4 1.5,4.5 0.5,4.5 -0.4,4.6 -1.3,4.5 -2.1,3.8 -2.5,3.2 -2.5,2 -2.9,1.5 -8.6,2.8 -5.5,2.6 -4.6,3.6 -5.5,6.9 -1.5,1.1 -1,0.2 -2.5,-0.6 -2.5,-2 -2,-2.9 -1.5,-3.6 -1.3,-4.6 -1.1,-6 -0.8,-7 -0.3,-7.5 0.1,-8.1 0.5,-7.5 1.1,-7 1.1,-5.1 1.6,-4.5 2.1,-3.4 2.2,-2.1z"/>
<path fill="#cf9759" d="M52.4,52.2l2.3,0 2.8,1.5 2.2,2.7 1.7,3.3 1.6,5.1 1.2,6.3 0.8,6.7 0.3,8 -0.1,8.1 -0.5,7.1 -1,7 -1.5,6.2 -1.5,3.8 -2.2,3.5 -2.5,2 -2.8,0.7 -1,-0.3 -1,-0.8 -5.5,-6.9 -4.6,-3.6 -5,-2.4 -9,-2.8 -2,-1 -2.8,-2 -2.2,-2.5 -2.6,-4.5 -1.4,-4.5 -0.5,-4.5 0.4,-4.6 1.1,-3.9 1.9,-4.1 2.8,-3.5 1.7,-1.5 2.5,-1.5 10.1,-3.3 5,-2.4 4.6,-3.6 4.5,-5.9zM121.9,52.2l1.5,-0.2 1.5,0.6 1.5,1.5 4.5,5.9 5.1,3.9 4.5,2.1 9,2.8 2,1 2.8,2 2.2,2.5 2.6,4.5 1.4,4.5 0.5,4.5 -0.4,4.6 -1.5,5 -2.6,4.5 -2.2,2.5 -2.8,2 -2,1 -9,2.8 -5,2.4 -4.6,3.6 -5.5,6.9 -1,0.8 -1,0.3 -2.5,-0.6 -2.3,-1.6 -2.2,-3 -1.6,-3.5 -1.2,-4.1 -1.2,-6.3 -0.7,-6.2 -0.4,-7.5 0.4,-14.6 0.9,-7 1.3,-6 1.7,-5.1 1.8,-3 2,-2.2z"/>
<path fill="#d39957" d="M52.1,52.7l1.1,-0.2 1.5,0.4 2.5,1.5 2.2,2.8 1.8,3.8 1.3,4.3 1.1,5.5 0.9,7 0.3,7.5 -0.1,9.1 -0.5,7 -0.7,5 -1.5,6.5 -1.8,4.7 -2,3.1 -2.5,2.2 -2.5,0.8 -1,-0.2 -1,-0.6 -5.5,-6.9 -5.1,-3.9 -4.5,-2 -8.8,-2.7 -2.1,-1 -2.7,-2 -2.9,-3.5 -2,-4 -1.4,-5 -0.3,-3.5 0.3,-4.1 1.4,-5 2,-4 2.9,-3.5 3.7,-2.5 9.9,-3.2 5.5,-2.6 4.1,-3.3 4.5,-5.9zM122.4,52.7l1.5,-0.1 1.5,0.7 5.5,6.9 5.1,3.9 4.5,2 8.8,2.7 4.2,2.5 3.5,4 2,4 1.4,5 0.3,3.5 -0.3,4.1 -1.4,5 -2,4 -2.9,3.5 -2.7,2 -2.1,1 -8.8,2.7 -4.5,2 -5.1,3.9 -5.5,6.9 -1,0.6 -1,0.2 -2.5,-0.8 -2.3,-1.9 -2,-3 -1.5,-3.5 -1.2,-4.4 -1,-5.2 -0.8,-6.5 -0.3,-7.5 0.1,-9.1 0.5,-6.5 0.7,-5.5 1.4,-6 1.6,-4.6 1.7,-3 2.1,-2.2z"/>
<path fill="#d69a55" d="M51.2,53.7l1,-0.4 1,0 1.5,0.6 1.5,0.9 2.4,2.9 2,4 1.5,5.1 0.9,4.5 0.8,6.5 0.4,7.5 -0.5,14.1 -0.9,6.5 -1.5,6.5 -1.8,4.6 -1.9,3 -2.4,2.1 -2.5,0.8 -1,-0.1 -1,-0.7 -5,-6.4 -4.6,-3.6 -4.5,-2 -9.1,-2.7 -2.9,-1.5 -1.8,-1.5 -2.8,-3.5 -1.8,-3.5 -1.2,-4 -0.6,-4.5 0.3,-4.6 1.3,-5 2,-4 2.8,-3.5 1.8,-1.5 2.9,-1.5 9.1,-2.7 4.5,-2 4.6,-3.6 4,-5.3zM122.3,53.7l1.6,-0.4 1.5,0.4 1.5,1.5 4,5.3 5.1,3.9 4,1.7 9.1,2.7 2.1,1 2.1,1.5 2.6,3 2.2,4 1.5,4.5 0.6,4.5 -0.3,4.6 -1.3,5 -2,4 -2.8,3.5 -1.8,1.5 -2.9,1.5 -9.1,2.7 -4.5,2 -4.1,3.1 -5,6.4 -1,0.9 -1,0.4 -2.5,-0.6 -2,-1.4 -2,-2.5 -1.9,-3.9 -2.3,-9.1 -0.8,-6.5 -0.5,-7.5 0.5,-14.1 0.8,-6.5 1.2,-5.5 1.1,-3.6 2,-4 2,-2.5z"/>
<path fill="#d99b53" d="M51.1,54.2l1.1,-0.2 1,0.2 2.5,1.5 2.2,2.5 2,4 1.5,5.1 0.8,4 1,7.5 0.3,7.5 -0.5,13.1 -0.9,6.5 -1.5,6 -1.4,3.6 -2,3.5 -2.5,2.3 -2.5,0.9 -1,-0.2 -1,-0.8 -4.5,-5.9 -4.6,-3.5 -4.5,-2 -8.9,-2.4 -2.1,-1 -2,-1.5 -2.8,-3.5 -2.1,-4 -1.3,-4.5 -0.5,-4.5 0.4,-4.6 1.2,-4.5 1.9,-4 2.7,-3.5 1.7,-1.5 2.9,-1.5 8.9,-2.4 4.5,-2 4.6,-3.5 4,-5.3zM123.5,54.2l1.4,-0.2 1,0.5 5.5,6.9 4.6,3.3 4.5,1.8 8.4,2.3 2.1,1 2,1.5 2.8,3.5 2.1,4 1.3,4.5 0.5,4.5 -0.4,4.6 -1.4,5 -2.1,4 -2.8,3.5 -2,1.5 -2.1,1 -8.9,2.4 -4.5,2 -4.6,3.5 -4.5,5.9 -1,0.8 -1,0.2 -2.5,-0.9 -2,-1.8 -1.8,-2.5 -1.6,-3.5 -1.5,-5.1 -0.9,-5 -0.7,-6.5 -0.3,-7 0.5,-13.1 0.9,-6.5 1.4,-5.5 1,-3.1 2.2,-4 1.8,-2z"/>
<path fill="#dc9c50" d="M51.6,54.7l2.6,1 2,1.8 1.8,2.7 1.7,4.1 1.3,4.5 1,5.5 0.6,6 0.2,7 -0.6,12.6 -1,6.5 -1.3,5 -1.6,4.1 -1.9,3 -2.2,2 -2.5,1 -1,-0.3 -1,-0.9 -4.5,-5.8 -4.1,-3.1 -4.5,-1.8 -8.7,-2.2 -2,-1 -2,-1.5 -2.7,-3.5 -2,-4 -1.3,-4.5 -0.4,-4.5 0.3,-4.6 1.4,-5 2,-4 2.7,-3.5 2,-1.5 2,-1 8.7,-2.2 4.5,-1.8 4.1,-3.1 4.5,-5.8 1,-0.9zM124.9,54.7l1.5,0.7 4.5,5.8 4.6,3.6 4.5,1.8 8.7,2.2 2,1 2,1.5 2.7,3.5 2,4 1.3,4.5 0.4,4.5 -0.3,4.6 -1.4,5 -2,4 -2.7,3.5 -2,1.5 -2,1 -8.7,2.2 -4.5,1.8 -4.1,3.1 -4.5,5.8 -1,0.9 -1,0.3 -2.5,-1 -2,-1.8 -1.8,-2.7 -1.7,-4.1 -1.3,-4.5 -1,-5.5 -0.6,-6 -0.2,-7.5 0.6,-12.6 1,-6 1.3,-5 1.6,-4.1 1.9,-3 2.2,-2z"/>
<path fill="#e09d4e" d="M50.4,55.7l0.8,-0.3 1,0.2 2.5,1.7 2,2.4 1.8,3.6 1.6,5 0.9,4.5 0.8,6.5 0.4,6.5 -0.1,6.6 -0.5,6.5 -0.9,6.5 -1.3,5 -1.3,3.6 -2.1,3.5 -2.3,2.2 -2.5,1.1 -1.5,-0.9 -4.5,-5.8 -4.1,-3 -4.2,-1.7 -8.7,-2 -2.1,-1 -1.9,-1.5 -2.6,-3.5 -1.9,-4 -1.3,-4.5 -0.4,-4.5 0.3,-4.6 1.3,-4.7 2,-4.3 2.6,-3.5 1.9,-1.5 2.1,-1 8.7,-2 4.2,-1.7 4.1,-3 4,-5.3zM124.2,55.7l1.2,-0.3 1,0.4 5,6.3 4.6,3.3 3.7,1.4 8.7,2 3.5,2 2.5,3 2.3,4.5 1.4,4.5 0.5,5 -0.3,4.6 -1.3,4.7 -2,4.3 -2.6,3.5 -1.9,1.5 -2.1,1 -8.7,2 -4.2,1.7 -4.1,3 -4.5,5.8 -1.5,0.9 -2.1,-0.8 -2.3,-2 -1.6,-2.3 -1.5,-3.2 -1.4,-4.6 -0.9,-4.5 -0.8,-6 -0.3,-6 0.3,-12.6 0.8,-6 1,-5 1.5,-4.5 1.8,-3.6 2,-2.4z"/>
<path fill="#e39e4c" d="M50.5,56.2l0.7,0 1.3,0.5 2.4,2 1.7,2.5 1.6,3.6 1.4,4.5 0.9,4.5 0.7,6 0.3,6.5 0,5.6 -0.6,7.5 -1,6 -1.2,4.7 -1.5,3.9 -1.9,3 -2.6,2.4 -2,0.6 -1.5,-1 -4,-5.2 -4.1,-3.1 -4,-1.4 -8.6,-1.9 -2.2,-1 -1.3,-1 -2.7,-3.5 -1.9,-4 -1.3,-4.5 -0.6,-5 0.4,-4.6 1.3,-5 2.1,-4.5 2.7,-3.5 1.3,-1 2.2,-1 8.6,-1.9 4,-1.4 4.1,-3.1 4,-5.2zM123.4,57.2l2.5,-1 1,0.5 4.5,5.7 4.1,3.1 4,1.4 8.6,1.9 2.2,1 1.3,1 2.7,3.5 1.9,4 1.3,4.5 0.6,5 -0.4,4.6 -1.3,5 -2.1,4.5 -2.7,3.5 -1.3,1 -2.2,1 -8.6,1.9 -4,1.4 -4.1,3.1 -4,5.2 -1.5,1 -2,-0.6 -2.2,-1.9 -1.7,-2.5 -1.6,-3.6 -1.4,-4.5 -0.9,-4.5 -0.7,-6 -0.3,-6 0,-6.1 0.5,-6.5 0.9,-6 1.2,-5 1.3,-3.5 1.9,-3.5z"/>
<path fill="#e69f4a" d="M49.6,57.2l0.6,-0.3 1,0.1 2.4,1.7 2.1,2.5 1.7,3.6 1.3,4 1,4.5 0.8,6 0.4,6.5 0,5.6 -0.6,7 -0.8,5.5 -1.2,5 -1.3,3.5 -2,3.6 -2.3,2.3 -2,1 -1.5,-0.7 -4,-5.2 -4.1,-3 -3.5,-1.3 -8.8,-1.7 -2.2,-1 -1.2,-1 -2.6,-3.5 -1.9,-4 -1.3,-4.5 -0.5,-4.5 0.3,-4.6 1.1,-5 2,-4.5 2.9,-4 1.2,-1 2.2,-1 8.8,-1.7 3.5,-1.3 4.1,-3zM125,57.2l0.9,-0.3 1,0.3 4.5,5.6 4.6,3.3 3.5,1.1 8.3,1.6 2.2,1 1.2,1 2.6,3.5 1.9,4 1.3,4.5 0.5,4.5 -0.3,4.6 -1.1,5 -2,4.5 -2.9,4 -1.2,1 -2.2,1 -8.8,1.7 -3.5,1.3 -4.1,3 -4,5.2 -1.5,0.7 -1.7,-0.8 -2.3,-2.2 -1.5,-2.3 -1.6,-3.6 -1.2,-4 -0.9,-5 -1,-11 0.5,-11.6 0.8,-6 1,-4.5 1.4,-4 1.5,-3.1 2,-2.4z"/>
<path fill="#e9a048" d="M49.7,57.7l1.5,0.2 2.5,2.1 1.6,2.2 1.8,4.1 1.4,4.5 0.9,5 0.9,10.5 -0.1,4.6 -0.6,8 -0.8,5 -1.2,4.5 -1.3,3.5 -2,3.6 -2.1,2.1 -2,1 -1.5,-1 -3.5,-4.6 -4.1,-3 -3.5,-1.1 -8.5,-1.5 -2.2,-1 -1.2,-1 -2.4,-3.5 -2.1,-4.5 -1.1,-4.5 -0.4,-4.5 0.3,-4.6 1.2,-5 2.1,-4.5 2.4,-3.5 1.2,-1 2.2,-1 8.5,-1.5 3.5,-1.1 4.1,-3 3,-4zM123.9,59l2.5,-1.4 1,0.5 4,5.1 4.1,3 3.5,1.1 8.5,1.5 2.2,1 1.2,1 2.4,3.5 2.1,4.5 1.1,4.5 0.4,4.5 -0.3,4.6 -1.2,5 -2.1,4.5 -2.4,3.5 -1.2,1 -2.2,1 -8.5,1.5 -3.5,1.1 -4.1,3 -3.5,4.6 -1.5,1 -2,-1 -2,-2 -1.6,-2.7 -1.5,-3.5 -1.3,-4.5 -0.8,-4.5 -0.9,-10.5 0.6,-12.1 0.8,-5 1.1,-4.5 1.3,-3.5 1.8,-3.5z"/>
<path fill="#eaa34b" d="M48.7,59.2l1,-0.4 0.5,0.1 2,1.5 2.2,2.9 1.7,3.5 1.2,4 1.1,5 0.9,10.5 -0.7,12.1 -0.8,5 -1,4 -1.6,4 -1.5,2.6 -2.2,2.5 -1.8,0.9 -1.5,-1 -3,-4 -4.1,-3 -3.5,-1 -7.5,-0.8 -1.8,-0.7 -1.5,-1 -2.2,-3 -2.1,-4.5 -1.3,-4.5 -0.5,-4.5 0.2,-5.1 1,-5 1.9,-4.5 2.5,-4 1.1,-1 2.2,-1 8,-1 3.5,-1 4.1,-3zM125.8,59.2l1.1,-0.4 1,0.4 3.5,4.6 4.6,3.2 3,0.8 7.5,0.8 1.8,0.7 1.5,1 2.2,3 2.1,4.5 1.3,4.5 0.5,4.5 -0.2,5.1 -1.2,5.4 -1.9,4.6 -2.8,4 -1.5,1 -1.8,0.7 -7.5,0.8 -3.5,1 -4.1,3 -3,4 -1.5,1 -1.8,-0.9 -1.9,-2 -1.5,-2.6 -1.5,-3.5 -1.2,-4 -0.8,-4.5 -0.9,-10 0.4,-10.1 1.7,-9.5 1.1,-3.5 1.4,-3 1.7,-2.6z"/>
<path fill="#eba54e" d="M45.2,64.5l3.5,-4.1 1,0.1 1.9,1.7 1.8,2.6 1.6,3.5 1.2,3.8 0.8,4.2 1,10 -0.5,10.6 -1.8,9 -1.3,3.5 -1.3,2.5 -1.9,2.6 -2,1.4 -1.5,-0.9 -2.5,-3.3 -4.1,-3 -2.5,-0.7 -8,-0.6 -1.6,-0.5 -1.4,-1 -2,-3 -2,-4.5 -1.1,-4 -0.5,-4.5 0.1,-5.1 1,-5.5 2,-5 2.5,-4 1.4,-1 1.6,-0.5 8,-0.6 2.5,-0.7zM126.6,60.7l0.8,-0.4 1,0.4 3,3.8 4.6,3.3 2.5,0.5 7.5,0.5 1.6,0.5 1.4,1 2,3 2,4.5 1.1,4 0.5,4.5 -0.1,5.1 -1,5.5 -2,5 -2.5,4 -1.4,1 -1.6,0.5 -8,0.6 -2.5,0.7 -4.1,3 -2.5,3.3 -1.5,0.9 -1.5,-1 -2,-2.4 -1.4,-2.6 -1.2,-3 -1.8,-7.5 -0.9,-9.5 0.4,-9.6 1.5,-8.5 2.4,-6.5 1.7,-2.6z"/>
<path fill="#eca851" d="M47.9,62.2l0.8,-0.2 0.4,0.2 1.6,1.7 1.6,2.4 1.5,3.5 1.1,3.5 0.9,4.5 0.7,8.5 -0.4,9.6 -1.5,8 -1.2,3.5 -1.4,3 -1.9,2.5 -1.4,1.3 -1,-0.4 -2.5,-3 -4.6,-3.2 -2,-0.3 -7,0 -1.6,-0.4 -1.4,-1 -2.1,-3.5 -1.5,-4 -1,-4 -0.6,-4.5 0.1,-5.1 1.2,-6 1.8,-5 2.1,-3.5 1.4,-1 1.6,-0.4 7,0 2.5,-0.5 4.1,-3zM127.5,62.2l0.9,-0.1 0.5,0.3 2.5,3 4.6,3.2 2,0.3 7,0 1.6,0.4 1.4,1 2.1,3.5 1.7,4.5 1,4.5 0.4,4 -0.2,5.1 -1.1,5.5 -1.8,5 -2.1,3.5 -1.4,1 -1.6,0.4 -7,0 -2,0.3 -4.6,3.2 -2.5,3 -1,0.4 -1.4,-1.3 -1.6,-2 -2.5,-5.5 -1.8,-8 -0.5,-8 0.4,-9.1 1.5,-8 2.3,-6 1.7,-2.5z"/>
<path fill="#edaa54" d="M45.2,66.3l2.5,-2.5 0.5,0 1,1 1.8,2.5 1.6,3.5 1.9,7.5 0.7,8.5 -0.4,8.6 -1.4,7.5 -1.2,3.5 -1.5,3 -2,2.5 -1,0.5 -2.5,-2.5 -2.1,-1.2 -2,-1.8 -2,-0.3 -6.5,0.5 -1.5,-0.3 -1.4,-0.9 -2.1,-4 -1.5,-4.5 -0.9,-4.5 -0.3,-4 0.2,-4.6 0.9,-5 1.6,-5 2.1,-4 1.4,-0.9 1.5,-0.3 8,0.4zM127.9,64.3l0.5,-0.5 1,0.3 2,2.2 4.6,3.2 7.5,-0.4 1.7,0.2 1.3,0.6 1.6,2.4 1.8,4.5 1.2,4.5 0.6,5.5 -0.2,5.1 -0.9,5 -1.6,5 -2.1,4 -1.4,0.9 -1.5,0.3 -6.5,-0.5 -2,0.3 -2,1.8 -2.1,1.2 -2.5,2.5 -1,-0.4 -1.7,-2.1 -2.3,-5 -1.8,-7 -0.7,-8 0.3,-8.6 1.2,-7 2.2,-6z"/>
<path fill="#eead57" d="M46.6,65.8l1.1,-0.2 1,1 1.5,2.4 1.4,3.3 1.7,7 0.6,7.5 -0.3,8.1 -1.4,7 -2.4,6 -1.6,2.3 -1,0.5 -6.4,-4.8 -7.2,0.9 -2,-0.3 -0.8,-0.6 -1.5,-3 -1.4,-4 -1,-4.5 -0.4,-5.5 0.1,-4.6 0.8,-5 1.5,-5 1.9,-4 0.8,-0.6 2,-0.3 7.2,0.9 0.8,-0.4 2,-1.9 1.6,-0.8zM128.7,65.8l0.7,-0.3 0.5,0.2 1.5,1.5 1.6,0.8 2,1.9 1,0.4 7,-0.9 2,0.3 0.8,0.6 1.5,3 1.4,4 1,4.5 0.4,5.5 -0.1,4.6 -0.8,5 -1.5,5 -1.9,4 -0.8,0.6 -2,0.3 -7.2,-0.9 -6.4,4.8 -1,-0.5 -1.5,-2.1 -2.4,-5.7 -1.3,-6.5 -0.5,-6.5 0.3,-8.1 1.2,-6.5 2.1,-5.5z"/>
<path fill="#efaf5a" d="M46.4,67.3l0.8,-0.1 1.2,1.6 1.3,2.5 1.3,3.5 1.3,6.5 0.4,6.5 -0.4,7.1 -1.2,6 -2.1,5.5 -1.3,2.1 -1,0.6 -3.1,-1.6 -2.5,-2.3 -1,-0.1 -5.5,1.3 -1.5,-0.1 -1,-0.4 -1.4,-3 -1.4,-4.5 -0.9,-4.5 -0.4,-5.5 0.3,-5.1 0.7,-4.5 1.5,-5 1.6,-3.5 1,-0.4 1.5,-0.1 5.5,1.3 1,-0.1 2.5,-2.3zM129.4,67.3l0.5,-0.2 3.1,1.6 2,2 1,0.4 6,-1.3 1.5,0.1 0.9,0.4 1.4,2.5 1.4,4.5 1,5 0.4,5 -0.2,4.6 -0.7,5 -1.6,5.5 -1.6,3.5 -1,0.4 -1.5,0.1 -5.5,-1.3 -1,0.1 -2.5,2.3 -3.1,1.6 -1,-0.6 -1,-1.6 -2.3,-5.5 -1.3,-6 -0.4,-6.5 0.3,-7.1 1,-5.5 1.9,-5.5z"/>
<path fill="#f0b25d" d="M43.6,69.5l2.9,-0.7 0.6,0.5 1.6,2.9 1.4,4.1 1.1,5.5 0.3,4.5 -0.1,5.6 -0.7,5.5 -1,3.9 -1.7,4.1 -1.5,2 -2.9,-0.7 -2,-2.1 -1,-0.4 -4.5,1.5 -2,0.2 -1,-0.5 -0.3,-0.5 -1.1,-3 -1.3,-5.5 -0.7,-5 0.2,-8.1 0.7,-4.7 1.1,-4.3 1.1,-3 0.8,-0.8 2,-0.1 4.5,1.4 1,0.1zM130.1,68.8l2.9,0.7 2,2.1 1,0.4 5,-1.6 2,0.1 0.8,0.8 1.1,3 1.1,4.3 0.7,4.7 0.2,8.1 -0.7,5 -1.3,5.5 -1.1,3 -0.3,0.5 -1,0.5 -2,-0.2 -4.5,-1.5 -1,0.4 -2,2.1 -2.9,0.7 -1.5,-2 -1.6,-4 -1.1,-4 -0.6,-5 -0.2,-5.6 0.3,-4.5 0.6,-4 1.1,-4 1.5,-3.5z"/>
<path fill="#f1b560" d="M43.5,70.3l1.2,-0.3 1,0.3 0.8,1 0.9,2 1.9,6 0.8,7 -0.2,6.6 -1.1,6 -2.3,6 -0.8,1 -1,0.3 -1.6,-0.6 -2,-2.2 -1,0.1 -3.5,1.5 -1,0.1 -1,-0.4 -1.9,-6.3 -0.9,-8 0,-5.1 0.4,-4.5 1,-5 1.2,-4 0.7,-0.7 1,0 5,1.7zM130.9,70.3l1,-0.3 1.1,0.2 2.5,2.6 1,-0.1 3,-1.4 1.5,-0.2 1,0.4 0.6,1.3 1.8,8.5 0.4,9.1 -0.4,4.5 -0.7,4.5 -1.3,4.5 -0.9,1.2 -1.9,-0.2 -3.1,-1.4 -1,-0.1 -2.5,2.6 -1.6,0.2 -1.3,-1.3 -2,-5 -1.4,-7.5 0,-8.6 1.4,-7.5 1.5,-4z"/>
<path fill="#f1b763" d="M44,70.8l0.7,0.1 0.9,0.9 1.4,4 1.4,6 0.4,6 -0.3,5.6 -1.1,5.5 -1.6,5 -0.6,1.1 -1.1,0.5 -1,-0.6 -2,-2.5 -3.5,1.6 -1.5,-0.1 -0.8,-2.5 -1,-5 -0.6,-8 0.6,-8.1 1.6,-7.5 0.3,-0.5 0.9,-0.2 4,1.7 2,-2.5zM132.2,70.8l1.3,0.5 2,2.5 3.5,-1.6 1.5,0.1 0.8,2.5 1,5 0.6,8 -0.6,8.1 -1.6,7.5 -0.3,0.5 -0.9,0.2 -4,-1.7 -2,2.5 -1.1,0.6 -1,-0.5 -0.6,-1.1 -1.6,-5 -1,-5 -0.4,-5.5 0.3,-5.6 1,-5 1.7,-5.5 0.6,-1z"/>
<path fill="#f2ba66" d="M43.4,71.8l0.7,-0.2 0.6,0.2 1.1,2.5 1.5,8 0.4,5 -0.3,5.6 -1,6.5 -1.1,4 -1.2,1.2 -1,-0.4 -1.5,-2.4 -0.5,-0.3 -2.5,1.2 -0.5,0.1 -0.7,-0.4 -1.2,-6 -0.5,-7.5 0.5,-8.6 1.2,-6.5 0.7,-0.4 0.5,0.1 2.5,1.2 0.5,-0.3zM132,71.8l1,-0.2 0.5,0.4 1.5,2.4 0.5,0.3 2.5,-1.2 0.5,-0.1 0.7,0.4 1.2,6 0.5,7.5 -0.5,8.6 -1.2,6.5 -0.7,0.4 -0.5,-0.1 -2.5,-1.2 -0.5,0.3 -1.5,2.4 -1.1,0.4 -1.1,-1.2 -1.1,-4 -1,-6 -0.3,-5 0.3,-5.1 0.9,-6 1,-4z"/>
<path fill="#f3bc69" d="M41.6,75.2l2,-2.8 0.5,0 0.8,0.9 0.6,1.5 1,6 0.4,6.5 -0.3,7.1 -0.8,5.5 -0.9,3 -0.8,0.9 -0.5,0 -2,-2.8 -0.5,-0.3 -2,0.5 -0.5,-0.8 -0.7,-4.5 -0.4,-6 0.2,-7.6 0.9,-6.5 0.5,-0.8 2,0.5zM132,72.8l1,-0.4 2,2.8 0.5,0.3 1.5,-0.5 0.8,0.3 0.8,4.5 0.5,6 -0.2,7.6 -0.9,7 -0.5,0.8 -2,-0.5 -0.5,0.3 -2,2.8 -1.1,-0.4 -0.8,-2 -0.9,-5.5 -0.5,-6 0.1,-4.6 0.5,-5.5 0.8,-5z"/>
<path fill="#f4bf6c" d="M43.4,73.3l0.7,-0.2 0.6,0.6 0.6,2.1 0.7,4.5 0.4,7 -0.1,5.6 -0.8,6.5 -0.8,3 -0.6,0.7 -0.5,0 -2,-3 -1.3,-0.7 -0.3,-0.5 -0.6,-4.5 -0.2,-5 0.1,-6.1 0.5,-5.5 0.5,-1 1.3,-0.7zM132.3,73.3l0.7,-0.2 0.5,0.4 1.5,2.6 1.3,0.7 0.3,0.5 0.8,9 -0.1,6.6 -0.5,5.5 -0.5,1 -1.3,0.7 -2,3 -0.6,0 -0.5,-0.6 -0.6,-2.1 -0.7,-4 -0.4,-6.5 0,-5.1 0.5,-6 0.8,-4z"/>
<path fill="#f5c16f" d="M43.6,73.8l0.5,0.1 0.6,0.8 0.6,2.6 0.6,5 0.2,5.5 -0.2,6.1 -0.6,5 -0.6,2.6 -0.6,0.8 -0.5,0.1 -2.8,-4.5 -0.6,-9.5 0.1,-6.6 0.5,-3.5zM132.9,73.8l0.6,0.4 2.3,4.1 0.6,9.5 -0.1,6.6 -0.5,3.5 -2.8,4.5 -0.6,-0.1 -0.5,-0.8 -0.6,-2.6 -0.6,-5 -0.2,-5.5 0.1,-5.6 0.6,-5 0.7,-3.1 0.5,-0.8z"/>
<path fill="#f6c472" d="M41.4,78.3l2.2,-3.8 0.5,0.1 0.9,2.2 0.5,3.5 0.4,6.5 -0.1,5.6 -0.5,5.5 -0.6,2.7 -0.6,1 -0.5,0.1 -0.7,-0.8 -1.7,-3.5 -0.5,-7 0.4,-10.6zM132.4,74.8l0.6,-0.3 0.5,0.4 1.7,3.4 0.5,2.5 0.2,4.5 -0.1,7.6 -0.3,4 -1.5,3.5 -1,1.3 -0.6,-0.1 -0.3,-0.7 -0.6,-2 -0.8,-9 0.4,-10.1 0.5,-3z"/>
<path fill="#f7c675" d="M43.5,75.3l0.6,0.1 0.9,2.4 0.5,4.5 0.2,5.5 -0.6,10.1 -0.7,2.5 -0.8,0.7 -1,-1.4 -1.1,-2.8 -0.4,-8 0.3,-9.1 1.1,-3zM131.9,76.5l1.1,-1.4 0.5,0.5 1.6,3.7 0.4,7.5 -0.3,9.6 -1.1,3 -1.1,1.7 -0.8,-0.7 -0.7,-2.5 -0.6,-9 0.4,-9.1z"/>
<path fill="#f8c978" d="M43.6,75.8l0.6,0.5 0.7,2.5 0.7,9 -0.7,9.6 -0.7,2.5 -0.6,0.5 -1,-1.3 -0.9,-2.7 -0.4,-8 0.4,-8.6 0.9,-2.7zM132.9,75.8l1.1,1.3 0.9,2.7 0.4,8 -0.4,8.6 -0.9,2.7 -1,1.3 -0.6,-0.5 -0.7,-2.5 -0.7,-9 0.7,-9.6 0.7,-2.5z"/>
<path fill="#f8cb7b" d="M43.1,76.8l0.5,-0.4 0.5,0.4 0.6,1.5 0.7,8 -0.4,9.6 -0.6,3 -0.8,0.9 -1,-1.4 -0.7,-2 -0.4,-6 0.3,-9.6 0.4,-2zM132.4,76.8l0.6,-0.4 0.5,0.4 1,2.5 0.6,6.5 -0.4,10.1 -0.7,2.5 -1,1.4 -0.6,-0.4 -0.6,-2 -0.6,-7.5 0.3,-8.6z"/>
<path fill="#f9cd7f" d="M43.2,77.3l0.4,-0.3 0.5,0.4 0.6,1.7 0.6,7.7 -0.4,8.6 -0.6,3 -0.7,0.8 -0.5,-0.4 -0.9,-2.4 -0.5,-6 0.2,-9.1 0.4,-2zM132.6,77.3l0.4,-0.3 0.5,0.4 0.8,1.9 0.4,2.5 0.2,4 -0.3,9.6 -0.6,2.4 -1,1.4 -0.6,-0.4 -0.5,-1.9 -0.6,-7.5 0.3,-8.1z"/>
<path fill="#f9cf82" d="M42.5,79.3l1.1,-1.7 0.5,0.5 0.5,1.7 0.6,7.5 -0.4,8.1 -0.7,2.7 -0.5,0.5 -0.5,-0.3 -0.9,-2.4 -0.4,-6 0.3,-8.6zM131.8,81.3l1.2,-3.7 0.5,0.3 0.9,2.4 0.4,6.5 -0.4,8.6 -0.4,1.8 -1,1.4 -0.6,-0.5 -0.5,-2.2 -0.5,-7z"/>
<path fill="#fad185" d="M42.6,79.6l1,-1.5 0.5,0.7 0.5,2 0.5,6.5 -0.4,7.6 -0.6,2.5 -0.5,0.7 -0.5,-0.4 -0.8,-2.3 -0.4,-6 0.3,-8.1zM132.3,79.3l0.7,-1.2 0.5,0.4 0.7,1.8 0.5,7 -0.4,8.1 -0.8,2.3 -0.5,0.4 -0.6,-0.7 -0.5,-2.1 -0.4,-6.4 0.3,-7.1z"/>
<path fill="#fad389" d="M43.5,78.8l0.6,0.6 0.5,1.9 0.4,6.5 -0.3,6.5 -0.6,2.5 -0.5,0.7 -0.5,-0.4 -0.6,-1.7 -0.5,-6.5 0.4,-7.6 0.4,-1.5zM132.9,78.8l0.6,0.3 0.6,1.7 0.5,7 -0.4,7.1 -0.6,2 -0.6,0.6 -0.6,-0.7 -0.4,-2.4 -0.4,-6 0.3,-6.5 0.5,-2.5z"/>
<path fill="#fad58c" d="M43.6,79.3l0.5,0.8 0.4,1.7 0.4,6 -0.3,6.1 -0.5,2.2 -0.5,0.8 -0.5,-0.3 -0.5,-1.7 -0.4,-6.5 0.3,-6.6 0.5,-2zM132.9,79.3l0.6,0.3 0.5,1.7 0.4,6.5 -0.3,6.6 -0.5,2 -0.6,0.5 -0.6,-0.8 -0.4,-2.2 -0.3,-5.5 0.3,-6.1 0.4,-2.2z"/>
<path fill="#fbd790" d="M43.1,80.3l0.5,-0.5 0.5,0.9 0.7,5.6 -0.2,6.6 -0.5,2.6 -0.5,0.9 -0.5,-0.3 -0.5,-1.6 -0.3,-3.6 0.1,-7.1zM132,83.8l1,-4 0.5,0.3 0.4,1.2 0.4,5.5 -0.2,7.1 -0.6,2.2 -0.5,0.3 -0.6,-0.9 -0.3,-1.6 -0.3,-5z"/>
<path fill="#fbd993" d="M43.1,80.8l0.5,-0.4 0.5,1 0.6,4.9 -0.2,6.1 -0.4,2.4 -0.5,1 -0.5,-0.3 -0.3,-1.1 -0.4,-4 0.1,-6.6zM132.1,83.8l0.9,-3.4 0.5,0.3 0.3,1.1 0.4,5 -0.2,6.8 -0.5,1.9 -0.5,0.3 -0.7,-1.9 -0.4,-5z"/>
<path fill="#fcdb97" d="M43.1,81.3l0.5,-0.4 0.5,1.2 0.5,4.2 -0.2,6.1 -0.8,2.9 -0.5,-0.4 -0.2,-1 -0.4,-3.5 0.1,-6.1zM132.2,83.8l0.8,-2.9 0.5,0.4 0.2,1 0.4,5 -0.2,5.6 -0.4,2 -0.5,0.4 -0.7,-1.9 -0.3,-4.5z"/>
<path fill="#fcde9a" d="M43.3,81.8l0.3,-0.3 0.5,1.3 0.4,4 -0.2,5.6 -0.7,2.3 -0.6,-0.8 -0.4,-4 0.1,-5.1zM132.3,83.8l0.7,-2.3 0.6,0.8 0.4,5 -0.2,5.6 -0.3,1.4 -0.5,0.4 -0.6,-1.8 -0.3,-4.5z"/>
<path fill="#fde09d" d="M42.9,84.3l0.7,-2.2 0.5,1.6 0.3,3.6 -0.2,4.6 -0.6,2.2 -0.5,-0.5 -0.1,-0.7 -0.3,-4zM132.9,82.3l0.6,0.3 0.1,0.7 0.3,4.5 -0.3,5.1 -0.1,0.7 -0.5,0.5 -0.6,-1.6 -0.2,-4.1 0.2,-4.6z"/>
<path fill="#fde2a1" d="M43.6,82.8l0.5,1.9 0.2,3.1 -0.2,3.7 -0.5,1.9 -0.5,-0.6 -0.3,-4.4 0.3,-4.6zM132.9,82.8l0.6,0.6 0.3,4.4 -0.3,4.6 -0.5,1 -0.6,-1.9 -0.1,-3.1 0.1,-3.7z"/>
<path fill="#fde4a4" d="M43.1,84.8l0.5,-1.3 0.6,3.8 -0.1,2.8 -0.5,2.6 -0.5,-0.9 -0.2,-2.9zM132.4,88.4l0.6,-4.9 0.5,0.9 0.2,3.4 -0.2,4 -0.5,0.9z"/>
<path fill="#fee6a8" d="M43.1,85.7l0.5,-1.3 0.5,3.4 -0.5,4 -0.5,-1.3 0,-1.6zM132.5,88.4l0.5,-4 0.5,1.3 0.1,2.1 -0.1,2.7 -0.5,1.3z"/>
<path fill="#fee8ab" d="M43.2,88.4l0.4,-2.8 0.3,2.2 -0.3,2.8zM133,90.6l0,-5 0.4,2.2z"/>
</g></g>

</g>
<rect x="52.80" y="239.60" width="184.20" height="183.80" fill="none" stroke="#3c3c3c" stroke-width="1.25"/>
<line x1="52.80" x2="55.60" y1="250.80" y2="250.80" stroke="#111" stroke-width="1.2"/>
<text x="50.10" y="257.80" font-family='"Liberation Sans", sans-serif' font-size="20.0" font-weight="normal" font-style="normal" text-anchor="end" stroke="#000" stroke-width="0.25" letter-spacing="-0.45">0.1</text>
<line x1="52.80" x2="55.60" y1="331.50" y2="331.50" stroke="#111" stroke-width="1.2"/>
<text x="50.10" y="338.50" font-family='"Liberation Sans", sans-serif' font-size="20.0" font-weight="normal" font-style="normal" text-anchor="end" stroke="#000" stroke-width="0.25" letter-spacing="-0.45">0</text>
<line x1="52.80" x2="55.60" y1="412.20" y2="412.20" stroke="#111" stroke-width="1.2"/>
<text x="50.10" y="419.20" font-family='"Liberation Sans", sans-serif' font-size="20.0" font-weight="normal" font-style="normal" text-anchor="end" stroke="#000" stroke-width="0.25" letter-spacing="-0.45">−0.1</text>
<line x1="64.40" x2="64.40" y1="423.40" y2="420.60" stroke="#111" stroke-width="1.2"/>
<text x="64.00" y="443.70" font-family='"Liberation Sans", sans-serif' font-size="20.0" font-weight="normal" font-style="normal" text-anchor="middle" stroke="#000" stroke-width="0.25" letter-spacing="-0.45">−4.5</text>
<line x1="144.85" x2="144.85" y1="423.40" y2="420.60" stroke="#111" stroke-width="1.2"/>
<text x="144.45" y="443.70" font-family='"Liberation Sans", sans-serif' font-size="20.0" font-weight="normal" font-style="normal" text-anchor="middle" stroke="#000" stroke-width="0.25" letter-spacing="-0.45">0</text>
<line x1="225.30" x2="225.30" y1="423.40" y2="420.60" stroke="#111" stroke-width="1.2"/>
<text x="224.90" y="443.70" font-family='"Liberation Sans", sans-serif' font-size="20.0" font-weight="normal" font-style="normal" text-anchor="middle" stroke="#000" stroke-width="0.25" letter-spacing="-0.45">4.5</text>
<text x="61.40" y="265.60" font-family='"Liberation Sans", sans-serif' font-size="22" font-weight="bold" font-style="normal" text-anchor="start" letter-spacing="-1.11">(b1)</text>
<text x="144.05" y="461.60" font-family='"Liberation Serif", serif' font-size="19" text-anchor="middle" textLength="42.5" lengthAdjust="spacing"><tspan font-style="normal">Re</tspan><tspan font-style="italic">E</tspan><tspan font-size="13.3" dy="2.9">0</tspan></text>
<g id="hm-b2">
<rect x="288.10" y="243.60" width="176.60" height="176.20" fill="#26538c"/>
<clipPath id="cp-b2"><rect x="0" y="0" width="176.60" height="176.20"/></clipPath>
<g transform="translate(288.10,243.60)" clip-path="url(#cp-b2)"><g fill-rule="evenodd" filter="url(#soft)">
<path fill="#28548e" d="M65.2,34.6l3,-0.1 2.5,1.2 2.2,2.5 2.1,4.5 1.4,5.5 1.1,7 1.1,11.6 0.5,13 0,16.6 -0.5,12.5 -1.1,12.1 -1,6.5 -1.5,6 -2.1,4.5 -2.7,2.9 -1,0.5 -2,0.4 -2.5,-0.3 -2.5,-1.2 -2,-1.4 -3.1,-2.9 -8.4,-10.5 -6.1,-6 -1.5,-4.1 -0.9,-0.4 -6.6,-1.2 -7,-2.6 -5.5,-3 -5,-4 -3.4,-3.8 -2,-3.5 -1.5,-4 -0.5,-4 0.1,-3.6 1.4,-5 2.5,-4.5 3,-3.5 5.4,-4.3 5.5,-3 7,-2.6 6.6,-1.2 0.9,-0.4 1.5,-4.1 6.1,-6 8,-10 4.5,-4.2 2,-1.2zM107.9,34.6l2.5,-0.2 3,0.9 2.5,1.6 3,2.7 2.8,3.1 6.2,8 6.1,6 1.5,4.1 0.9,0.4 6.6,1.2 6,2.2 6.5,3.4 4.5,3.5 3.9,4.3 2,3.5 1.5,4 0.5,4 -0.1,3.6 -1.4,5 -2.5,4.5 -3.4,3.8 -5,4 -5.5,3 -7,2.6 -6.6,1.2 -0.9,0.4 -1.5,4.1 -6.1,6 -8.4,10.5 -3.1,2.9 -2,1.4 -2,1 -2.5,0.5 -2.5,-0.4 -2.6,-1.8 -2.2,-3.6 -1.6,-4.5 -1.4,-6.5 -1,-8.5 -1.1,-20.1 0,-16.6 0.5,-12.5 1.6,-16.1 1.6,-7 1.9,-5 2.3,-3.1z"/>
<path fill="#29558f" d="M64.4,35.6l1.3,-0.3 2,-0.1 2.5,1.1 2.4,2.9 1.9,4.5 1.6,7 1.2,9.5 1.1,19.6 0,16.1 -0.5,12.5 -0.6,7.6 -1.3,10 -1.5,6.5 -1.9,4.5 -2.4,2.9 -1.5,0.8 -1.5,0.3 -2,-0.2 -2.5,-1 -2,-1.3 -3.5,-3.2 -8,-9.9 -6,-6.4 -0.6,-1 -0.5,-2.1 -0.6,-0.9 -1.1,-0.5 -6.8,-1.4 -6.5,-2.4 -5.5,-2.9 -4.5,-3.5 -3.3,-3.4 -2.5,-4 -1.5,-4 -0.6,-4 0.2,-3.6 1.4,-5 1.9,-3.5 3.4,-4 4.5,-3.7 6.5,-3.6 6.5,-2.4 6.8,-1.4 1.1,-0.5 0.6,-0.9 0.5,-2.1 0.6,-1 6.5,-6.9 6.8,-8.6 4.7,-4.4zM107.5,35.6l2.4,-0.4 3,0.7 2.5,1.4 3,2.6 3.4,3.8 5.6,7.1 6,6.4 0.6,1 0.5,2.1 0.6,0.9 1.1,0.5 6.3,1.3 6,2 5,2.5 5,3.5 3.4,3.3 2.9,4 2,5 0.6,4 -0.2,3.6 -1.4,5 -2.6,4.5 -3.2,3.5 -5,3.9 -5.5,2.9 -6.5,2.4 -6.8,1.4 -1.1,0.5 -0.6,0.9 -0.5,2.1 -0.6,1 -6,6.4 -8,9.9 -3.5,3.2 -2,1.3 -2,0.9 -2,0.3 -2.5,-0.5 -2.4,-1.9 -1.8,-3.1 -1.5,-4.5 -1.2,-5.5 -1.2,-9.5 -1.1,-19.6 0,-16.1 0.5,-12.5 1.7,-16.6 1.3,-6 1.5,-4.5 1.8,-3.1z"/>
<path fill="#2b5691" d="M64.4,36.1l2.8,-0.4 2.5,1 2.3,2.5 1.9,4.5 1.7,7 1.2,9 1.2,20.1 0,16.1 -0.6,12.5 -0.6,8.1 -1.3,9.5 -1.6,6.5 -1.9,4.5 -2.3,2.6 -1.5,0.7 -1.5,0.2 -2,-0.3 -2.5,-1.2 -5,-4.2 -7.5,-9.3 -5.3,-5.5 -1.4,-2 -0.7,-2.5 -0.7,-0.8 -8,-2 -6,-2.1 -6.5,-3.5 -4.5,-3.6 -2.8,-3.1 -2.4,-4 -1.5,-4.5 -0.3,-3 0.2,-4.1 1.4,-4.5 2.3,-4 3,-3.5 4.6,-3.7 6.5,-3.5 6,-2.1 8,-2 0.7,-0.8 0.7,-2.5 1.4,-2 5.3,-5.5 7,-8.8 4.5,-4.1zM107.8,36.1l2.6,-0.4 2.5,0.7 2.5,1.4 3,2.6 2.6,2.8 6.4,8.1 4.4,4.4 1.8,2.5 0.7,2.5 0.7,0.8 8,2 5.5,1.9 6,3.1 4,2.9 3.9,3.9 2.3,3.5 1.6,4 0.7,4.5 -0.2,4.1 -1.4,4.5 -2.3,4 -3.1,3.6 -4.5,3.6 -6.5,3.5 -6,2.1 -8,2 -0.7,0.8 -0.7,2.5 -1.4,2 -5.3,5.5 -7.5,9.3 -5,4.2 -2.5,1.2 -2,0.3 -2.5,-0.7 -2.4,-2.3 -1.6,-3.1 -1.6,-4.9 -1,-5 -1,-8.5 -1.2,-20.1 0,-15.6 0.5,-12 0.7,-8.1 1,-8.5 1.2,-5.5 1.6,-5 1.8,-3.1z"/>
<path fill="#2d5792" d="M64.3,36.6l2.9,-0.3 1.5,0.5 1.2,0.8 2.2,3.1 1.7,4.2 1.4,6.3 1.1,8.5 1.2,20.1 0.1,13.6 -0.5,14 -0.8,9.1 -1.1,8.5 -1.4,6.3 -2.1,4.9 -2.4,2.9 -2.6,0.8 -2,-0.2 -2.5,-1.1 -5,-4.2 -8,-9.8 -4.2,-4.1 -1.6,-2.5 -0.8,-2.5 -0.8,-1 -8.7,-2.2 -5.5,-2 -6,-3.2 -4.5,-3.5 -3.3,-3.7 -1.9,-3 -1.5,-4 -0.6,-4 0.3,-4.6 1.3,-4 2.4,-4 2.8,-3.2 5,-4 5.5,-3 6,-2.2 8.7,-2.2 0.8,-1 0.8,-2.5 1.6,-2.5 4.2,-4.1 7.5,-9.3 4,-3.6zM108.2,36.6l2.2,-0.3 2.5,0.6 2.5,1.4 3,2.5 2.7,2.9 6.3,7.9 4.2,4.1 1.6,2.5 0.8,2.5 0.8,1 8.7,2.2 5.5,2 6,3.2 4,3.1 3.4,3.6 2.3,3.5 1.5,4 0.6,4 -0.3,4.6 -1.3,4 -2.4,4 -3,3.5 -4.8,3.7 -5.5,3 -6,2.2 -8.7,2.2 -0.8,1 -0.8,2.5 -1.6,2.5 -4.2,4.1 -8,9.8 -5,4.2 -2,0.9 -2,0.4 -2.5,-0.5 -2.2,-1.9 -1.8,-3.3 -1.6,-4.7 -1,-4.8 -1.1,-8.7 -1.2,-20.1 0,-13.1 0.5,-14 0.8,-9.1 1,-8 1,-5 1.9,-5.5 1.7,-2.7z"/>
<path fill="#2f5894" d="M64.4,37.1l1.8,-0.2 1.3,0.2 2.3,1.6 2,3 2,5.4 1.4,7.6 0.8,6.5 0.6,8.1 0.6,14 -0.1,13.1 -0.5,11.5 -0.8,9.4 -1.2,8.2 -1.6,6 -1.8,4.2 -1,1.4 -1.5,1.4 -2.5,0.8 -2,-0.3 -2,-0.9 -5,-4 -7.5,-9.2 -4.8,-4.9 -1.1,-2 -0.9,-2.5 -0.8,-1 -1,-0.6 -7.5,-1.6 -6,-2.2 -5.5,-2.9 -4.9,-3.8 -3.2,-3.5 -2.1,-3.5 -1.5,-4.5 -0.4,-3.5 0.4,-4.1 1.5,-4.5 2.1,-3.5 3.1,-3.4 5,-3.9 5.5,-2.9 6,-2.2 7.5,-1.6 1,-0.6 0.8,-1 0.9,-2.5 1.1,-2 4.8,-4.9 6.5,-8.1 4.5,-4.1zM109.1,37.1l2.3,-0.1 2,0.6 2.5,1.5 3,2.5 8.5,10.2 4.3,4.4 1.1,2 0.9,2.5 0.8,1 1,0.6 7.5,1.6 6,2.2 5.5,2.9 4.5,3.4 3.2,3.4 2.5,4 1.5,4.5 0.4,3.5 -0.4,4.1 -1.5,4.5 -2.1,3.5 -3.1,3.4 -5,3.9 -5.5,2.9 -6,2.2 -7.5,1.6 -1,0.6 -0.8,1 -0.9,2.5 -1.1,2 -4.8,4.9 -7.5,9.2 -4.5,3.7 -2,1 -2,0.5 -2.5,-0.5 -2.1,-1.8 -1.9,-3.3 -1.6,-4.7 -1.4,-7.5 -0.8,-6.5 -0.6,-8.1 -0.6,-14 0.1,-13.1 0.5,-11 0.8,-9.6 1,-7.4 1,-4.7 2.1,-5.7 2,-2.8z"/>
<path fill="#305a95" d="M63.2,38.2l1.5,-0.4 1.5,0 1.5,0.5 1.1,0.9 2.4,3.2 1.8,4.8 1.5,7 1,8 1.2,21.1 -0.1,13.1 -0.5,11 -0.9,9.6 -1.4,9 -1.6,5.5 -2,3.9 -2.5,2.5 -2.5,0.6 -2,-0.4 -1.5,-0.8 -4.5,-3.6 -8,-9.6 -4.1,-4.1 -1.9,-4.5 -1.1,-1.2 -1.5,-0.7 -7,-1.5 -5.5,-2 -6,-3.1 -4.7,-3.6 -3.1,-3.5 -1.9,-3 -1.6,-4 -0.6,-4 0.3,-4.1 1.4,-4.5 2,-3.5 3,-3.5 4.7,-3.7 5.5,-3.1 5.5,-2 8,-1.9 1.8,-0.9 0.8,-1 1.9,-4.5 4.1,-4.1 6.5,-8 4,-3.9zM109.3,38.2l2.1,-0.5 2,0.4 2.5,1.4 3,2.5 8.5,10.1 4.1,4.1 1.9,4.5 1.1,1.2 1.5,0.7 7,1.5 5.5,2 5.5,2.8 4.5,3.3 3.4,3.6 2.3,3.5 1.6,4 0.6,4 -0.3,4.1 -1.4,4.5 -2,3.5 -3.2,3.7 -4.5,3.5 -5.5,3.1 -6.5,2.4 -7,1.5 -1.5,0.7 -1.1,1.2 -1.9,4.5 -4.1,4.1 -8,9.6 -4.5,3.6 -1.5,0.8 -2,0.4 -2.5,-0.6 -2.1,-1.9 -1.9,-3.3 -1.5,-4.5 -1.4,-6.7 -0.9,-7.5 -1.2,-21.1 0,-9.6 0.6,-14 1.6,-15.1 1.3,-6.2 1.5,-4.5 2,-3.4z"/>
<path fill="#325b97" d="M62.3,39.2l2.9,-0.5 1.5,0.5 1.5,1 2,2.6 2,4.9 1.6,6.5 1.1,8 0.8,10.1 0.4,11 0,9.6 -0.6,14 -1,10.1 -1.3,7.5 -1.5,5.5 -1.9,4 -2.3,2.5 -1.3,0.7 -1.5,0.3 -1.5,-0.2 -2,-0.8 -4.5,-3.6 -7.5,-9 -3.9,-3.9 -0.9,-1.5 -1,-3 -1.3,-1.5 -9,-2.3 -5.5,-2 -5.5,-2.9 -4.4,-3.4 -3.2,-3.5 -2.2,-3.5 -1.4,-4 -0.5,-3.5 0.3,-4.1 1.2,-4 2.2,-4 3.1,-3.5 4.9,-3.9 5.5,-2.9 6,-2.2 7.5,-1.7 1.5,-0.8 0.8,-1.1 1.3,-3.5 1,-1.4 3.5,-3.5 8,-9.5 2.5,-2.1zM110,39.2l1.9,-0.5 2.5,0.5 2,1.1 2.5,2 8.5,10 3.9,3.9 0.9,1.5 1,3 1.3,1.5 8.5,2.1 5,1.8 5,2.4 5,3.5 3.3,3.3 2.7,4 1.6,4 0.6,4 -0.3,4.1 -1.2,4 -2.2,4 -3.1,3.5 -4.9,3.9 -5.5,2.9 -5.5,2 -9,2.3 -1.3,1.5 -1,3 -0.9,1.5 -3.9,3.9 -7,8.5 -2,1.9 -2.5,1.9 -1.5,0.8 -2,0.5 -2.5,-0.5 -2.4,-2 -2,-3.5 -1.4,-4 -1.3,-5.5 -1.1,-8.5 -0.8,-9.6 -0.4,-11 0,-9.6 0.4,-11 0.8,-9.6 1.1,-8.5 1.6,-6.4 1.5,-4 2,-3.1z"/>
<path fill="#345c98" d="M61.5,40.2l1.7,-0.5 1.5,0.1 2.5,1.3 2.2,2.6 1.9,4.5 1.6,6 1.3,8.5 0.8,9.6 0.5,10.5 0,10.6 -0.5,10.5 -0.9,10.1 -1.5,9 -1.8,6.5 -1.8,3.5 -2.4,2.5 -1.4,0.7 -1.5,0.3 -2,-0.4 -1.5,-0.7 -4,-3.3 -7,-8.4 -3.7,-3.7 -0.9,-1.5 -1,-3.1 -1.3,-1.4 -8.7,-2.3 -5.5,-2 -6,-3.1 -4.1,-3.2 -3.3,-3.5 -2.2,-3.5 -1.4,-4 -0.5,-3.5 0.2,-4.1 1.3,-4 2.3,-4 3,-3.5 4.7,-3.7 5.5,-2.9 5.5,-2.1 8,-1.9 1.5,-0.7 1,-1.2 1,-3.1 0.9,-1.5 3.7,-3.7 7.5,-8.9 2.5,-2.1zM110.9,40.2l2,-0.5 2,0.4 2,1 2.5,2 8,9.4 3.7,3.7 0.9,1.5 1,3.1 1.3,1.4 8.7,2.3 5.5,2 5,2.5 4.5,3.3 3.5,3.5 2.3,3.5 1.6,4 0.6,4 -0.2,4.1 -1.3,4 -2.3,4 -3,3.5 -4.7,3.7 -5.5,2.9 -6,2.2 -8.7,2.3 -1.3,1.4 -1,3.1 -0.9,1.5 -3.7,3.7 -7,8.4 -4,3.3 -1.5,0.7 -2,0.4 -2.5,-0.7 -2.5,-2.3 -1.7,-3 -1.6,-5 -1.2,-5.7 -1.1,-7.4 -0.7,-8.5 -0.5,-10.5 0,-10.6 0.5,-10.5 0.7,-8.8 1.2,-7.8 1.4,-6.1 1.5,-4.3 2,-3.2z"/>
<path fill="#365d9a" d="M60.8,41.2l2.9,-0.3 2.7,1.3 2.3,2.9 1.8,4.1 1.5,5.5 1.3,7.5 1,10.1 0.4,9.5 0,12.6 -0.4,9.5 -1.2,11.1 -1.4,7.6 -1.5,5.2 -2,4.2 -2.5,2.5 -1.5,0.7 -1.5,0.2 -1.5,-0.2 -1.5,-0.7 -2,-1.4 -2,-1.9 -6.5,-7.7 -3.6,-3.5 -0.8,-1.5 -1.1,-3.5 -1.1,-1 -1.5,-0.7 -7.5,-1.7 -5.5,-2 -5.5,-2.9 -4.5,-3.4 -3.1,-3.4 -2.5,-3.9 -1.4,-4.1 -0.3,-3.5 0.2,-3.6 1.5,-4.5 2.1,-3.5 3.1,-3.5 4.5,-3.5 5.9,-3.2 5.5,-2 7.5,-1.7 1.5,-0.7 1.1,-1 1.1,-3.5 0.8,-1.5 3.6,-3.5 7,-8.2 2,-1.9zM111.9,41.2l2,-0.4 2,0.4 2,1.1 2,1.7 7.5,8.7 3.6,3.5 0.8,1.5 1.1,3.5 1.1,1 1.5,0.7 7.5,1.7 5.5,2 5,2.6 4.3,3.1 3.2,3.3 2.6,3.7 1.6,4 0.6,4 -0.2,4.1 -1.5,4.5 -2.1,3.5 -3.1,3.5 -4.5,3.5 -5.9,3.2 -5.5,2 -7.5,1.7 -1.5,0.7 -1.1,1 -1.1,3.5 -0.8,1.5 -3.6,3.5 -6.5,7.7 -2,1.9 -2,1.4 -1.5,0.7 -1.5,0.2 -2.5,-0.6 -2.5,-2.2 -1.6,-2.6 -1.8,-5 -1.4,-6 -1,-7.1 -1.2,-17.5 -0.1,-7.1 0.3,-12 0.8,-9.5 1.3,-9.1 1.3,-5.5 1.9,-5.2 2,-3z"/>
<path fill="#375e9c" d="M60.3,42.2l1.4,-0.3 1.5,0.2 2.7,1.6 2.3,3 2,5 1.4,6 1.3,9.1 0.8,9 0.4,11 -0.2,10.1 -0.7,9.5 -1.1,9.1 -1.4,6.9 -1.5,4.8 -2,3.8 -2.5,2.5 -2.5,0.8 -2,-0.3 -1.5,-0.6 -3.5,-3 -6,-7.1 -3.8,-3.8 -1.5,-4.5 -1,-1 -1.8,-0.8 -7.5,-1.8 -5.4,-2 -5.6,-2.9 -4.1,-3.1 -2.9,-3.1 -2.6,-3.8 -1.5,-3.9 -0.5,-3.7 0.2,-4.1 1.3,-4.1 2,-3.5 3.1,-3.5 4.1,-3.4 5.9,-3.3 6.5,-2.4 7.5,-1.8 2,-1.1 0.5,-1 0.8,-3 0.8,-1.3 3.5,-3.5 7,-8.1 2,-1.7zM113.1,42.2l1.8,-0.3 2,0.5 1.5,0.7 2,1.7 7,8.1 3.5,3.5 0.8,1.3 1,3.5 1,1 1.8,0.8 7.5,1.8 5.4,2 5.6,2.9 4,3 3,3.2 2.6,3.9 1.5,4 0.5,4 -0.4,4.1 -1.1,3.6 -2.3,3.9 -3.1,3.5 -4.6,3.5 -5.6,3 -5.5,2 -7.5,1.8 -1.8,0.8 -1,1 -1.5,4.5 -3.8,3.8 -5.5,6.6 -3.5,3.2 -2,0.9 -1.5,0.3 -2.5,-0.6 -2.5,-2 -2.2,-3.7 -1.5,-4.5 -1.3,-5.5 -1.3,-9.6 -0.7,-8 -0.4,-11 0.6,-17.1 0.9,-8.5 1.4,-8.1 1.5,-5.3 1.8,-4.2 2,-2.5z"/>
<path fill="#395f9d" d="M59.9,43.2l2.8,0.1 2.5,1.7 2,2.7 2,4.8 1.5,5.7 1.3,8.6 0.9,9 0.4,11 -0.7,17.1 -1.3,10.6 -1.3,6.5 -1.6,5 -2.1,4 -2.6,2.4 -2.5,0.7 -2,-0.2 -1.5,-0.7 -3.5,-3.2 -5,-5.9 -3.6,-3.6 -0.7,-1.5 -0.7,-3 -0.6,-0.8 -2,-1 -7.5,-1.8 -5.5,-2 -5,-2.5 -4.8,-3.5 -3.4,-3.5 -2.4,-3.8 -1.4,-4.2 -0.4,-3.5 0.3,-4 1.5,-4.1 2.1,-3.5 3.1,-3.5 3.9,-3 5.5,-3.1 6,-2.3 8,-1.9 2,-1 0.6,-0.8 0.7,-3 0.8,-1.6 10,-11 2,-1.6zM114.5,43.2l1.9,-0.1 2,0.7 3.5,2.8 5.5,6.5 3.6,3.6 0.7,1.5 0.8,3 0.5,0.8 2,1 7.5,1.8 5.5,2 5,2.5 4.8,3.5 3.4,3.5 2.4,3.8 1.4,4.2 0.4,3.5 -0.3,4 -1.5,4.1 -2.1,3.5 -3.1,3.5 -3.9,3 -5.5,3.1 -6,2.3 -8,1.9 -2,1 -0.5,0.8 -0.8,3 -0.7,1.5 -3.6,3.6 -4.5,5.4 -4,3.7 -1.5,0.7 -1.5,0.2 -2.8,-0.6 -2.4,-2 -2.1,-3.5 -1.6,-4.5 -1.6,-7 -1,-7.1 -0.7,-8 -0.4,-11 0.7,-17.1 1,-9 1.4,-7.2 1.5,-5.1 2,-4.2 2,-2.3z"/>
<path fill="#3b609f" d="M57.7,44.7l1.5,-0.4 1.5,-0.1 2.5,1 2.5,2.5 2,4 1.6,5 1.4,7.1 1.1,8.5 0.5,8.5 0.2,8.6 -0.4,11 -1,9.5 -1.7,9.1 -1.7,5.4 -2,4.1 -2.5,2.5 -1.5,0.7 -1.5,0.3 -1.5,-0.2 -1.5,-0.6 -3.5,-3 -8,-8.9 -0.7,-1.3 -0.8,-3.5 -0.6,-0.6 -2.5,-0.9 -7.5,-1.9 -4.6,-1.7 -5,-2.5 -4.9,-3.5 -3,-3.1 -2.6,-3.7 -1.5,-3.8 -0.6,-3.9 0.3,-4.1 1.3,-4.2 2.1,-3.4 2.9,-3.4 4.4,-3.5 5.4,-3 5.8,-2.2 7.5,-1.9 2.5,-0.9 0.6,-0.6 0.8,-3.5 0.8,-1.5 8.4,-9.3 2,-1.8zM114.3,44.7l2.1,-0.5 1.5,0.2 2,0.9 1.5,1.2 9.5,10.4 0.7,1.3 0.9,3.5 0.5,0.6 2.5,0.9 7.5,1.9 4.6,1.7 5,2.5 4.3,3 3.6,3.5 2.6,3.8 1.5,3.8 0.6,3.9 -0.3,4.1 -1.3,4.2 -2.3,3.8 -3.2,3.5 -4.6,3.5 -5,2.6 -5.5,2.1 -7.5,1.9 -2.5,0.9 -0.5,0.6 -1.1,4 -1,1.4 -9,9.8 -2.5,1.8 -2,0.5 -2.5,-0.5 -2.2,-1.5 -1.9,-2.5 -1.8,-4 -1.4,-5 -1.3,-6.6 -1,-8 -0.5,-8.5 -0.2,-8.6 0.4,-10.5 0.9,-9 1,-6.6 1.5,-6 1.9,-5 2.1,-3.2z"/>
<path fill="#3d61a0" d="M57.1,45.7l1.6,-0.4 1.5,0.1 2.5,1.2 2.3,2.6 1.8,3.5 1.6,5 1.4,6.6 1.1,8 0.7,9.5 0.1,8.1 -0.5,10.5 -1,9 -1.6,8.6 -1.8,5.5 -2.1,4 -2.5,2.4 -1.5,0.8 -1.5,0.2 -2.5,-0.6 -2,-1.4 -8.5,-9.2 -1.1,-1.7 -0.9,-3.9 -0.6,-0.4 -10,-2.7 -5.3,-2.1 -5.6,-3 -3.9,-3 -3.2,-3.5 -2.1,-3.4 -1.4,-4.1 -0.4,-3.5 0.3,-4 1.5,-4.1 2.1,-3.4 2.7,-3.1 4.4,-3.5 5.6,-3 5.3,-2.1 10,-2.7 0.6,-0.4 0.9,-3.9 0.9,-1.5 8.2,-9zM115.5,45.7l1.9,-0.4 2,0.3 3,2.1 8.5,9.4 1.6,5 0.5,0.4 9.5,2.6 4.7,1.7 5.9,3 4.1,3 3.4,3.5 2.5,3.9 1.4,4.1 0.4,3.5 -0.4,4.1 -1.4,4.1 -2.1,3.4 -3.2,3.5 -3.9,3 -5.6,3 -5.3,2.1 -10,2.7 -0.5,0.4 -1,3.9 -1.1,1.7 -8.5,9.2 -2,1.4 -2.5,0.6 -2.5,-0.7 -2.2,-1.7 -2,-3 -1.6,-4 -1.5,-5.5 -1.2,-6.6 -1,-9 -0.4,-6.5 -0.1,-7.6 0.5,-10 0.9,-9 1.3,-7.1 1.5,-5.5 1.8,-4.3 2,-2.9z"/>
<path fill="#3e62a2" d="M56.4,46.7l2.8,-0.2 2.6,1.2 2.4,2.8 1.9,3.7 1.7,5.5 1.4,7.1 1.1,8.5 0.5,8.5 0,9.6 -0.6,8 -1.2,9.5 -1.4,6.6 -1.9,5.5 -2.4,4 -2.3,2 -2.8,0.8 -2,-0.4 -2,-1.3 -8,-8.6 -0.9,-1.5 -1.1,-4.3 -10.2,-2.8 -5.3,-2 -5.6,-3 -3.9,-3 -3.1,-3.4 -2.1,-3.1 -1.5,-3.8 -0.6,-4.2 0.5,-4.1 1.1,-3.5 2.1,-3.5 3,-3.5 4.5,-3.5 5.6,-3 5.3,-2 10.2,-2.8 1.1,-4.3 0.8,-1.5 7.6,-8.1zM116.7,46.7l2.2,-0.3 1.5,0.4 3,2.2 7.4,8.2 1.7,5.3 10,2.7 4.2,1.6 5.2,2.5 5,3.5 3.1,3.2 2.6,3.8 1.5,3.8 0.5,3.7 -0.3,4.1 -1.2,4 -2.1,3.5 -3,3.5 -4.5,3.5 -5.6,3 -5.3,2 -10.1,2.8 -1.2,4.3 -0.8,1.5 -8.1,8.6 -2,1.3 -1.5,0.4 -2.5,-0.4 -2.5,-1.7 -2,-2.8 -1.8,-3.9 -1.6,-5.5 -1.3,-7.1 -0.9,-8 -0.5,-7.5 0,-9.6 0.4,-7 0.9,-8 1.4,-7.6 1.6,-5.5 1.8,-4 2.3,-3z"/>
<path fill="#4063a3" d="M55.6,47.7l1.6,-0.2 1.5,0.2 2.5,1.3 2.5,3.1 1.7,3.6 1.8,5.5 1.4,7.6 0.9,7.5 0.5,9 -0.1,8.6 -0.6,8.5 -1.3,8.5 -1.5,6.6 -1.9,5 -2.2,3.5 -2.5,2 -2.7,0.7 -1.5,-0.2 -2,-1.2 -7.5,-8.1 -0.8,-1.2 -1.2,-4.7 -8,-1.9 -5.9,-2 -6,-3 -4.8,-3.5 -2.9,-3.2 -2.5,-3.8 -1.4,-4 -0.4,-3.5 0.4,-4.1 1.3,-3.9 2.1,-3.3 2.9,-3.3 4.5,-3.5 5.6,-3 7.1,-2.5 8,-1.9 1.1,-4.2 0.7,-1.5 6.7,-7.4zM117.9,47.7l1.5,-0.2 1.5,0.2 1.5,0.8 2,1.8 6.5,7.4 1.6,5.2 7.9,1.9 5.9,2 5.2,2.5 5,3.5 3,3 2.7,4 1.6,4 0.5,4 -0.4,4.1 -1.3,3.9 -2.3,3.6 -3.2,3.5 -4.8,3.5 -6,3 -5.9,2 -7.9,1.9 -1.3,4.7 -0.8,1.2 -7.5,8.1 -2,1.2 -1.5,0.2 -2.5,-0.6 -2.5,-1.9 -2,-3 -1.8,-4.2 -1.5,-5.5 -1.3,-7.1 -0.8,-7 -0.4,-8.5 0.1,-8.1 0.5,-7.5 0.9,-7 1.5,-7.6 1.8,-5.5 1.7,-3.5 2.1,-2.5z"/>
<path fill="#4264a5" d="M54.8,48.7l1.4,-0.2 1.5,0.2 2.8,1.5 2.2,2.7 2,4.1 1.6,5.2 1.5,7.1 0.9,7.5 0.5,8.5 -0.1,8.6 -0.6,7.5 -1.3,8.5 -1.5,6.3 -1.7,4.8 -2.3,3.7 -2.5,2.2 -3,0.8 -1.5,-0.2 -1.5,-1 -7,-7.5 -0.8,-1.5 -1.2,-4.6 -1.6,0 -6,-1.5 -5.8,-2 -6.1,-3 -4.7,-3.5 -2.9,-3 -2.6,-3.9 -1.5,-4.1 -0.4,-3.5 0.4,-4.1 1.2,-3.5 2.4,-3.8 2.8,-3.2 4.5,-3.5 5.7,-3 7,-2.5 6,-1.5 1.6,0 1.2,-4.6 0.7,-1.5 6.1,-6.6zM118.9,48.7l1.5,-0.2 1.5,0.2 1.5,1 1.5,1.4 5.9,6.6 1.7,5.6 1.5,0 6,1.5 5.8,2 5.2,2.5 5.1,3.5 3.4,3.5 2.4,3.5 1.5,4 0.6,4 -0.4,4.1 -1.5,4 -2.2,3.5 -3.3,3.5 -4.7,3.5 -6.1,3 -5.8,2 -6,1.5 -1.5,0 -1.3,4.6 -0.8,1.5 -7,7.5 -1.5,1 -1.5,0.2 -2.5,-0.5 -2.3,-1.7 -2.2,-3 -1.8,-4 -1.5,-5 -1.3,-6.6 -0.9,-7.5 -0.5,-8.5 0.1,-8.1 0.5,-7.5 1,-7 1.5,-7.1 1.5,-4.5 2,-4 2.1,-2.5z"/>
<path fill="#4365a7" d="M54,49.7l1.2,-0.3 1.5,0.2 2.9,1.6 2.1,2.5 2.1,4 1.6,5 1.5,7.1 1,8 0.5,8 -0.2,8.1 -0.6,7.5 -1,7 -1.7,7.1 -2,5 -2.2,3.4 -2.5,2.1 -3,0.8 -1.5,-0.4 -1.5,-1.1 -6,-6.6 -0.7,-1.2 -1.3,-4.9 -1.1,0.2 -1,-0.1 -5.5,-1.4 -5.3,-1.9 -6.1,-3 -5.1,-3.8 -3,-3.2 -2.2,-3.5 -1.4,-3.5 -0.5,-4 0.4,-4.1 1.2,-3.5 2.1,-3.5 3.1,-3.5 5.4,-4 6.1,-3 5.3,-1.9 5.5,-1.4 1,-0.1 1.1,0.2 1.3,-4.9 0.7,-1.2 5.5,-6.1zM119.7,49.7l2.2,-0.2 1.5,0.6 6.8,7.1 0.9,1.5 1.4,4.9 1,-0.2 1,0.1 5.5,1.4 5.3,1.9 6.1,3 4.8,3.5 2.9,3 2.4,3.6 1.6,3.9 0.5,4 -0.4,4.1 -1.2,3.5 -2.1,3.5 -3.1,3.5 -5.4,4 -6.1,3 -5.3,1.9 -5.5,1.4 -1,0.1 -1,-0.2 -1.4,4.9 -0.7,1.2 -6,6.6 -1.5,1.1 -1.5,0.4 -2.5,-0.6 -2.5,-1.8 -2.1,-2.9 -1.9,-4 -1.6,-5.6 -1.2,-6 -0.9,-7.5 -0.5,-7.5 0.1,-8.1 0.6,-7.5 1,-7 1.5,-6.6 1.6,-4.5 2.2,-4 2.2,-2.3z"/>
<path fill="#4567a8" d="M53.1,50.7l1.1,-0.3 1.5,0.1 3,1.6 2.2,2.6 2.1,4 1.7,5.3 1.4,6.3 1,7.5 0.4,7.5 -0.1,8.1 -0.6,7.5 -1.2,7.5 -1.5,6.1 -1.9,4.7 -2,3.3 -2.5,2.3 -3,1 -1.5,-0.2 -1,-0.7 -6,-6.5 -2,-6.3 -1.1,0.5 -1,0 -6.1,-1.7 -4.2,-1.5 -6.1,-3 -5.4,-4 -3.2,-3.5 -2,-3.5 -1.3,-3.5 -0.4,-3.5 0.4,-4.1 1.2,-3.5 2.1,-3.5 3,-3.3 4.8,-3.7 6.9,-3.5 4.2,-1.5 6.1,-1.7 1,0 1.1,0.5 2,-6.3 5,-5.6zM120.4,50.7l2,-0.3 1.5,0.5 6.1,6.3 0.9,1.5 1,4.3 0.6,1.1 1,-0.5 1,0 6.1,1.7 4.2,1.5 6.1,3 4.8,3.5 3,3 2.4,3.5 1.6,4 0.5,4 -0.4,4.1 -1.3,3.5 -2,3.5 -3.2,3.5 -5.4,4 -6.1,3 -4.2,1.5 -6.1,1.7 -1,0 -1,-0.5 -2.1,6.3 -5.5,6.1 -1.5,1.1 -1,0.2 -2.5,-0.5 -2.5,-1.7 -2,-2.6 -2,-4.1 -1.7,-5.5 -1.3,-6 -0.9,-7.5 -0.4,-7 0.1,-8.1 0.5,-7 1.1,-7 1.4,-6.1 1.6,-4.5 2.1,-3.8 2,-2.3z"/>
<path fill="#4768aa" d="M52.2,51.7l1,-0.4 1,0 1.5,0.4 1.7,1 2.4,2.5 2.2,4 1.8,5.1 1.5,6.5 1,7.5 0.4,7 -0.1,8.1 -0.6,7.5 -1.3,7.5 -1.5,5.6 -1.9,4.5 -2.3,3.5 -2.3,2 -3,1 -1,-0.3 -1,-0.6 -5.5,-6 -2,-6.4 -1.1,0.8 -1,-0.1 -5.6,-1.5 -4.2,-1.5 -6,-3 -5.5,-4 -2.8,-3 -2.3,-3.5 -1.3,-3.5 -0.6,-4 0.5,-4.1 1.2,-3.5 2.1,-3.5 2.7,-3 5.1,-4 6.9,-3.5 4.2,-1.5 5.6,-1.5 1,-0.1 1.1,0.8 2,-6.4zM120.9,51.7l2,-0.5 1.5,0.5 5.5,5.8 1,1.6 1,4.4 0.6,1 1,-0.8 1,0.1 8.5,2.5 6.5,3 5.7,4 3.3,3.4 2.4,3.6 1.3,3.5 0.6,4 -0.5,4.1 -1.3,3.6 -2,3.4 -3.2,3.5 -5.5,4 -6,3 -4.2,1.5 -5.6,1.5 -1,0.1 -1,-0.8 -2.1,6.4 -5.5,6 -1,0.6 -1,0.3 -2.5,-0.7 -2.5,-1.9 -2.1,-2.9 -1.8,-4 -1.6,-5.1 -1.3,-6 -0.9,-7 -0.3,-6.5 0,-7.6 0.6,-7 0.9,-6 1.4,-6 1.8,-5.1 1.8,-3.4 2.1,-2.6z"/>
<path fill="#4969ab" d="M52.4,52.2l2.3,0.3 2.7,1.7 2.4,3 1.9,4 1.7,5.1 1.3,6.3 0.9,6.7 0.4,7 -0.2,7.6 -0.7,7 -0.9,5.5 -1.7,6.5 -1.9,4.6 -2.3,3.5 -2.2,2 -2.9,1.1 -1,-0.2 -1,-0.6 -5,-5.6 -0.6,-1.2 -0.9,-4.4 -0.5,-0.9 -1.1,1.1 -0.5,0.1 -8.4,-2.5 -7.4,-3.5 -5.5,-4 -2.8,-3 -2.3,-3.5 -1.4,-3.5 -0.5,-4 0.3,-3.6 1.3,-4 2.2,-3.5 2.7,-3 5.2,-4 6.9,-3.5 4.1,-1.5 5.1,-1.4 1,0 1.1,1.1 0.5,-0.9 0.9,-4.4 0.6,-1.2 4.5,-5.1zM122.8,52.2l1.1,-0.1 1.5,0.8 4.9,5.3 0.6,1.4 1,4.5 0.6,0.9 1,-1.1 0.5,-0.1 8.4,2.5 7.4,3.5 5.5,4 2.8,3 2.3,3.5 1.4,3.5 0.5,4 -0.3,3.6 -1.3,4 -2.2,3.5 -3,3.3 -5.7,4.2 -7.4,3.5 -8.4,2.5 -0.5,-0.1 -1,-1.1 -0.6,0.9 -0.9,4.4 -0.6,1.2 -5,5.6 -1,0.6 -1,0.2 -2.5,-0.9 -2.2,-1.7 -2.2,-3 -1.8,-4 -1.7,-5.6 -1.2,-6 -0.8,-6.5 -0.4,-6.5 0.2,-7.1 0.6,-7 1,-6 1.6,-6 1.9,-4.9 2,-3.2 2.5,-2.4z"/>
<path fill="#4a6aad" d="M50.2,54.3l2,-1.4 1.5,0.3 2.5,1.5 2.6,3 2.1,4 1.7,5.1 1.3,6 0.9,6.5 0.4,6.5 -0.1,7.1 -0.6,6.5 -1.1,6.5 -1.7,6.3 -2,4.8 -2,3 -2.5,2.3 -2.5,1 -1,-0.2 -1,-0.7 -4.5,-5 -1.5,-5.8 -0.5,-0.9 -0.8,1.2 -0.8,0.4 -7.9,-2.4 -7.3,-3.5 -5.8,-4.3 -3,-3.2 -2,-3.3 -1.4,-3.7 -0.5,-3.5 0.4,-3.6 1.3,-4 2.2,-3.5 2.7,-3 3.1,-2.5 3,-2 7.3,-3.5 7.9,-2.4 0.8,0.4 0.8,1.2 0.5,-0.9 1.5,-5.8zM122.9,53.2l1.5,-0.3 1,0.5 4.6,4.8 0.9,1.8 1,4.6 0.6,0.9 0.7,-1.2 0.8,-0.4 7.9,2.4 7.3,3.5 5.5,4 2.9,3 2.3,3.5 1.4,3.5 0.6,4 -0.4,3.6 -1.3,4 -2.2,3.5 -2.7,3 -3.1,2.5 -3,2 -7.3,3.5 -7.9,2.4 -0.8,-0.4 -0.7,-1.2 -0.6,0.9 -1.5,5.8 -4,4.5 -2,1.4 -2.5,-0.7 -2.5,-2.1 -1.9,-2.5 -2,-4 -1.6,-5.1 -1.2,-5.5 -0.9,-6.5 -0.4,-6 0.1,-7.1 0.5,-6.5 1.1,-6.5 1.4,-5.5 1.4,-4.1 2.2,-4 2.3,-2.5z"/>
<path fill="#4c6bae" d="M50.7,54.2l1,-0.5 1,0.2 3,1.8 2.2,2.5 2.1,4 1.8,5.1 1.3,5.5 0.9,6.5 0.4,6.5 -0.1,7.1 -0.6,6.5 -1.1,6.5 -1.6,5.5 -1.4,3.6 -2.5,4 -2.4,2.3 -2.5,1.1 -1,-0.1 -1,-0.7 -4,-4.6 -1.5,-6 -0.5,-0.8 -0.6,1.2 -1,0.7 -6,-1.7 -4.8,-2 -3.8,-2 -3.1,-2 -3,-2.5 -2.8,-3 -2.2,-3.5 -1.2,-3.5 -0.5,-3.5 0.4,-3.6 1.1,-3.5 2.1,-3.5 2.8,-3.2 5.6,-4.3 8.1,-4 7.3,-2.2 1,0.7 0.6,1.2 0.5,-0.8 1.5,-6zM123.1,54.2l1.8,-0.5 1,0.5 4,4.3 1,1.9 1,4.8 0.6,0.8 0.5,-1.2 1,-0.7 6,1.7 7.7,3.5 3.2,2 3.3,2.5 2.9,3 2.3,3.5 1.4,3.5 0.6,4 -0.4,3.6 -1.3,4 -2.2,3.5 -2.8,3 -3,2.5 -3.1,2 -3.8,2 -4.8,2 -6,1.7 -1,-0.7 -0.5,-1.2 -0.6,0.8 -1.5,6 -4,4.6 -1.5,0.9 -2,-0.6 -2.5,-1.9 -2,-2.6 -2,-3.9 -1.7,-5.1 -1.3,-5.5 -0.8,-6 -0.4,-6.5 0,-6.6 0.6,-6 1,-6.5 1.1,-4.3 1.7,-4.8 1.8,-3.5 2.5,-3z"/>
<path fill="#4e6cb0" d="M50.7,54.7l1,-0.2 1,0.4 2.6,1.8 2,2.5 2.1,4.1 1.8,5 1.2,5.5 0.9,6 0.4,7 -0.1,6.6 -0.6,5.5 -1.2,6.5 -1.4,5 -1.7,4.1 -2.1,3.5 -2.4,2.4 -2.5,1.3 -1,-0.2 -1,-0.8 -3.5,-4.1 -1.5,-6.2 -0.5,-0.7 -0.8,1.7 -0.8,0.6 -5.4,-1.6 -8.5,-4 -3.1,-2 -3.1,-2.5 -2.8,-3 -2.2,-3.5 -1.3,-3.5 -0.5,-3.5 0.4,-3.6 1.1,-3.5 2.1,-3.5 2.6,-3 3,-2.5 3.8,-2.5 8.5,-4 5.4,-1.6 0.8,0.6 0.8,1.7 0.5,-0.7 1.5,-6.2 3,-3.6zM124.3,54.7l1.1,-0.1 1,0.5 3.8,4.1 0.7,1.7 1,4.9 0.6,0.7 0.7,-1.7 0.8,-0.6 5.4,1.6 8.5,4 6.1,4.4 2.9,3.1 2.2,3.5 1.3,3.5 0.5,3.5 -0.5,4.1 -1.3,3.5 -2.2,3.5 -2.8,3 -3.1,2.5 -3.1,2 -8.5,4 -5.4,1.6 -0.8,-0.6 -0.7,-1.7 -0.6,0.7 -1.5,6.2 -3.5,4.1 -1,0.8 -1,0.2 -2.4,-1.2 -2.1,-2 -2,-3 -1.8,-4.1 -1.5,-4.5 -1.1,-5.5 -0.8,-5.5 -0.3,-6.5 0.1,-6.6 0.6,-5.5 1.1,-6 1.2,-4.5 1.7,-4.6 1.8,-3.1 2.5,-2.9z"/>
<path fill="#506daf" d="M49.9,55.7l0.8,-0.4 1,0.1 2.5,1.6 2.5,2.9 2,3.8 1.8,5.1 1.2,5 0.9,6 0.4,6.5 -0.1,6.6 -0.5,5.5 -1.2,6.5 -1.3,4.5 -1.6,4.1 -2.1,3.5 -2.5,2.6 -2.5,1.3 -1.5,-0.6 -3.5,-4 -1.5,-6.5 -0.5,-0.7 -0.7,1.8 -0.9,0.9 -3.5,-0.9 -5,-2 -4,-2 -4,-2.5 -3.1,-2.5 -2.8,-3 -2.2,-3.5 -1.3,-3.5 -0.5,-3.5 0.4,-3.6 1.1,-3.5 2.1,-3.5 2.7,-3 3,-2.5 3.8,-2.5 8.4,-4 4.9,-1.4 0.9,0.9 0.7,1.8 0.5,-0.7 1.5,-6.5zM124.2,55.7l1.2,-0.4 1,0.2 3.5,3.7 1,2.1 1,5.1 0.6,0.7 0.6,-1.8 0.9,-0.9 3.5,0.9 5,2 4,2 3.2,2 3.3,2.5 3,3 2.4,3.5 1.4,3.5 0.6,4 -0.4,3.6 -1.1,3.5 -2.1,3.5 -2.8,3.1 -2.9,2.4 -3.8,2.5 -4.8,2.5 -5,2 -3.5,0.9 -0.9,-0.9 -0.6,-1.8 -0.6,0.7 -1.5,6.5 -3.5,4 -1.5,0.6 -2,-0.9 -2.5,-2.4 -2,-3 -1.6,-3.7 -1.5,-4.5 -1.1,-5 -0.7,-5 -0.4,-6.5 0.5,-11.1 0.9,-5.5 1.2,-5 1.9,-5 1.6,-3.1 2.2,-2.7z"/>
<path fill="#526dad" d="M49.8,56.2l0.9,-0.3 1,0.3 2.6,2 2.3,3 1.9,4.1 1.6,4.5 1.2,5.5 0.7,5 0.4,6.5 -0.1,5.6 -0.6,6 -1.1,6 -1.5,5 -1.7,4.1 -2.2,3.4 -2.5,2.5 -2,0.9 -1.5,-0.8 -3,-3.6 -1.5,-6.7 -0.5,-0.6 -0.8,2.3 -0.8,0.8 -3,-0.8 -5,-2 -4.8,-2.5 -3.8,-2.5 -2.9,-2.4 -2.8,-3.1 -1.8,-3 -1.3,-3.5 -0.5,-3.5 0.3,-3.6 1.2,-3.5 2.1,-3.5 2.7,-3 3,-2.5 3.8,-2.5 4.8,-2.5 5,-2 3,-0.8 0.8,0.8 0.8,2.3 0.5,-0.6 1.5,-6.7zM124.9,56.2l1,-0.3 1,0.4 3,3.2 1,2.2 1,5.3 0.6,0.6 1,-2.8 0.5,-0.3 1.5,0.3 4.2,1.5 5.3,2.5 4.2,2.5 3.8,3 2.9,3 2.2,3.5 1.3,3.5 0.5,3.5 -0.3,3.6 -1.2,3.5 -2.1,3.5 -2.7,3 -3,2.5 -3.8,2.5 -4.8,2.5 -5,2 -3,0.8 -0.8,-0.8 -0.7,-2.3 -0.6,0.6 -1.5,6.7 -3,3.6 -1.5,0.8 -2,-0.9 -2.5,-2.4 -1.9,-3 -1.6,-3.6 -1.4,-4 -1.2,-5.5 -0.7,-5 -0.4,-6 0.5,-10.6 0.9,-5.5 1.2,-5 1.7,-4.5 1.8,-3.6 2.1,-2.6z"/>
<path fill="#546eac" d="M49.8,56.7l0.9,-0.1 1,0.5 2.5,2.2 2,2.8 2,4.2 1.4,4.5 1.2,5.5 0.7,5 0.3,6 -0.1,5.1 -0.6,6 -1.1,5.5 -1.5,5 -1.7,4 -2.1,3.4 -2.5,2.5 -1.1,0.7 -0.9,0.1 -1.5,-1 -2.5,-3 -1.5,-6.9 -0.5,-0.6 -1.1,3.1 -0.5,0.3 -1.5,-0.2 -4.8,-1.9 -5,-2.5 -4,-2.5 -3.7,-3 -2.7,-3 -1.9,-3 -1.4,-3.5 -0.4,-3.5 0.3,-3.6 1.2,-3.5 2.2,-3.5 2.7,-3 3.7,-3 4,-2.5 5,-2.5 4.8,-1.9 1.5,-0.2 0.5,0.3 1.1,3.1 0.5,-0.6 1.5,-6.9 2,-2.5zM125.5,56.7l0.9,-0.1 1,0.5 2.8,3.1 0.7,1.8 1,5.5 0.6,0.6 1,-3.1 0.5,-0.3 1.1,0.1 4.1,1.5 5.2,2.5 4.2,2.5 3.9,3 2.8,3 2.3,3.5 1.4,3.5 0.4,3.5 -0.3,3.6 -1.2,3.5 -2.2,3.5 -2.7,3 -3.7,3 -4,2.5 -5,2.5 -4.8,1.9 -1.5,0.2 -0.5,-0.3 -1,-3.1 -0.6,0.6 -1.5,6.9 -2.5,3 -1.5,1 -1.7,-0.6 -2.6,-2.5 -1.7,-2.5 -2,-4.1 -1.3,-4 -1.3,-5.5 -0.7,-5 -0.3,-5.5 0.1,-5.6 0.4,-5 0.9,-5.5 1.3,-5 1.6,-4 1.9,-3.6 2.4,-2.9z"/>
<path fill="#566fab" d="M49.9,57.2l0.8,0.1 1,0.7 2.5,2.5 2,3.3 1.6,3.5 1.6,5 0.9,4.5 0.7,5 0.2,5.5 0,4.6 -0.7,6 -1,5.5 -1.3,4.5 -1.5,3.5 -2,3.6 -2.5,2.8 -2,1.2 -1.5,-0.7 -2.5,-3 -1.5,-7.2 -0.5,-0.5 -1.1,3.3 -0.5,0.5 -1,-0.1 -4.8,-1.9 -5,-2.5 -4,-2.5 -3.7,-3 -2.7,-3 -1.9,-3 -1.4,-3.5 -0.4,-3.5 0.3,-3.6 1.2,-3.5 2.2,-3.5 2.7,-3 3.7,-3 4,-2.5 5,-2.5 4.8,-1.9 1,-0.1 0.5,0.5 1.1,3.3 0.5,-0.5 1.5,-7.2 2,-2.5zM126.3,57.2l0.6,0.1 1,0.6 2.5,3 1.5,7.2 0.6,0.5 1,-3.3 0.5,-0.5 1,0.1 4.8,1.9 5,2.5 4,2.5 3.7,3 2.7,3 1.9,3 1.4,3.5 0.4,3.5 -0.3,3.6 -1.2,3.5 -2.2,3.5 -2.7,3 -3.7,3 -4,2.5 -5,2.5 -4.8,1.9 -1,0.1 -0.5,-0.5 -1,-3.3 -0.6,0.5 -1.5,7.2 -2.5,3 -1.5,0.7 -1.8,-1 -2.4,-2.5 -2.1,-3.6 -1.5,-3.5 -1.4,-4.5 -1,-5 -0.6,-5 -0.2,-5.5 0.1,-4.6 0.6,-6 1,-5 1.3,-4.5 1.5,-3.5 2,-3.6 2.1,-2.5z"/>
<path fill="#586fa9" d="M48.8,58.2l1.4,-0.3 2.4,1.8 2.2,3 2.1,4.1 1.5,4.5 1.1,4.5 0.8,5 0.4,5.5 -0.1,4.6 -0.5,6 -1,5.5 -1.3,4.5 -1.6,4 -2,3.6 -2.5,2.8 -2,1.1 -1.5,-1 -2,-2.5 -1.5,-7.3 -0.5,-0.5 -1.1,3.6 -0.5,0.5 -1,0 -4.3,-1.8 -4.9,-2.5 -4,-2.5 -3.7,-3 -2.8,-3 -1.9,-3 -1.4,-3.5 -0.4,-3.5 0.3,-3.6 1.1,-3.1 1.9,-3.4 2.7,-3 3.5,-3 3.8,-2.5 5.8,-3 4.3,-1.8 1,0 0.5,0.5 1.1,3.6 0.5,-0.5 1.5,-7.3 1,-1.5zM123.6,60.2l2.8,-2.3 1,0.1 2.5,2.4 1,2.4 1,5.8 0.6,0.5 1,-3.6 0.5,-0.5 1,0 4.3,1.8 4.9,2.5 4,2.5 3.2,2.5 2.9,3 2.3,3.5 1.4,3.5 0.4,3.5 -0.3,3.6 -1.1,3.1 -1.9,3.4 -2.7,3 -3.5,3 -3.8,2.5 -5.8,3 -4.3,1.8 -1,0 -0.5,-0.5 -1,-3.6 -0.6,0.5 -1.5,7.3 -2,2.5 -1.5,1 -1.8,-0.9 -2.3,-2.5 -1.9,-3.1 -1.6,-3.5 -2.3,-8.5 -1.1,-10 0.5,-10.1 0.8,-4.5 1.2,-5 1.5,-4 1.9,-3.6z"/>
<path fill="#5a70a8" d="M48.7,58.7l1,-0.3 0.5,0.2 2,1.7 2.5,3.5 1.7,3.5 1.4,4 1.2,5 1.1,10 0,4.6 -0.6,6 -0.9,5 -1.3,4.5 -1.6,4 -2,3.6 -2.1,2.5 -1.9,1.3 -1.5,-0.7 -2,-2.5 -1.5,-7.6 -0.5,-0.5 -1.1,4 -0.5,0.6 -1,0 -4.9,-2.2 -4.6,-2.5 -3.8,-2.5 -3.1,-2.5 -2.7,-3 -2,-3 -1.3,-3.5 -0.5,-3.5 0.3,-3.6 1.1,-3.1 2,-3.4 2.6,-3 3.6,-3 3.8,-2.5 4.6,-2.5 4.9,-2.2 1,0 0.5,0.6 1.1,4 0.5,-0.5 1.5,-7.6 1,-1.5zM124.1,60.7l2.8,-2.3 1,0.3 2.3,2.5 0.7,2 1,6 0.6,0.5 1,-4 0.5,-0.6 1,0 4.9,2.2 4.6,2.5 3.8,2.5 3.1,2.5 2.7,3 2,3 1.3,3.5 0.5,3.5 -0.3,3.6 -1.1,3.1 -2,3.4 -2.6,3 -3.6,3 -3.8,2.5 -4.6,2.5 -4.9,2.2 -1,0 -0.5,-0.6 -1,-4 -0.6,0.5 -1.5,7.6 -2,2.5 -1.5,0.7 -1.9,-1.3 -2.1,-2.5 -1.8,-3.1 -1.5,-3.5 -2.1,-8 -1,-10 0.6,-10.1 2,-9 1.5,-4 1.6,-3z"/>
<path fill="#5c71a6" d="M47.2,60.5l2,-1.5 0.7,0.2 2.3,2.2 2,2.9 1.9,4 1.4,4 1,4.5 1.1,10 -0.6,10.1 -0.9,4.5 -1.2,4.5 -1.7,4.2 -2,3.4 -2.5,2.9 -1.5,0.8 -1.5,-1 -1.5,-2 -1.5,-7.8 -0.5,-0.4 -1.1,4.2 -0.5,0.7 -1,0 -4.4,-2 -4.6,-2.5 -3.7,-2.5 -3.6,-3 -2.7,-3 -1.8,-3 -1.1,-3 -0.5,-3.5 0.3,-3.6 1.1,-3 2,-3.5 2.7,-3 3.6,-3 3.7,-2.5 4.6,-2.5 4.4,-2 1,0 0.5,0.7 1.1,4.2 0.5,-0.4 1.5,-7.8zM126.7,59.2l0.7,-0.2 1,0.5 2,2.5 1.5,7.8 0.6,0.4 1,-4.2 0.5,-0.7 1,0 4.4,2 4.6,2.5 3.7,2.5 3.1,2.5 2.8,3 1.9,3 1.4,3.5 0.5,3.5 -0.3,3.6 -1.1,3 -2,3.5 -2.7,3 -3.6,3 -3.7,2.5 -4.6,2.5 -4.4,2 -1,0 -0.5,-0.7 -1,-4.2 -0.6,0.4 -1.5,7.8 -1.5,2 -1.5,1 -1.5,-0.8 -2.2,-2.4 -1.8,-2.9 -1.6,-3.7 -2.2,-8 -1.1,-10 0.6,-9.6 2,-9 1.5,-4 1.6,-3 1.8,-2.6z"/>
<path fill="#5e71a5" d="M48.5,59.7l1.2,0.1 2.4,2.4 2,3.1 1.8,4 2.2,8 1,9.5 -0.6,9.6 -0.8,4.5 -1.3,4.5 -1.6,4 -1.7,3 -2.4,3.1 -1.5,1.1 -1.5,-0.7 -1.5,-2 -1.5,-8.1 -0.5,-0.4 -1.1,4.6 -0.5,0.7 -1,0 -3.9,-1.8 -5.3,-3 -3.6,-2.5 -3,-2.5 -2.6,-3 -1.9,-3 -1.1,-3 -0.5,-3.5 0.4,-3.6 1,-3 2.1,-3.5 2.6,-3 3,-2.5 3.6,-2.5 5.3,-3 3.9,-1.8 1,0 0.5,0.7 1.1,4.6 0.5,-0.4 1.5,-8.1 1,-1.5zM127.1,59.7l1.3,0.2 1,0.9 1,1.5 1.5,8.1 0.6,0.4 1,-4.6 0.5,-0.7 1,0 8.4,4.3 3.8,2.5 3,2.5 2.8,3 2,3 1.4,3.5 0.5,3.5 -0.4,3.6 -1,3 -2.1,3.5 -2.6,3 -3,2.5 -3.6,2.5 -5.3,3 -3.9,1.8 -1,0 -0.5,-0.7 -1,-4.6 -0.6,0.4 -1.5,8.1 -1.5,2 -1.5,0.7 -1.5,-1.1 -2.1,-2.6 -1.8,-3 -1.5,-3.5 -2.1,-8 -0.9,-9.5 0.6,-9.1 1.9,-8.5 1.6,-4 1.5,-3 2.3,-3.1z"/>
<path fill="#6072a4" d="M48.5,60.2l1.2,0.4 2.4,2.7 1.8,3 1.7,4 1.3,4 0.9,4.5 0.7,9 -0.6,9.1 -2.1,8.5 -1.6,4 -1.8,3 -2.2,2.8 -1.5,0.8 -1.5,-1 -1,-1.5 -1.5,-8.3 -0.5,-0.3 -1.1,4.8 -0.5,0.8 -0.5,0.2 -4.9,-2.3 -5.8,-3.5 -5,-4 -3.4,-4 -2,-4 -0.8,-4.5 0.7,-4.6 1.8,-4 3.2,-4 4.8,-4 6.5,-4 4.9,-2.3 0.5,0.2 0.5,0.8 1.1,4.8 0.5,-0.3 1.5,-8.3 1,-1.5zM127.5,60.2l1.4,0.5 1.5,2 1.5,8.3 0.5,0.3 1.1,-4.8 0.5,-0.8 1,-0.1 8.7,4.7 3.6,2.5 2.9,2.5 2.7,3 1.8,3 1.2,3 0.5,3.5 -0.4,3.6 -1,3 -2.1,3.5 -2.7,3 -2.9,2.5 -3.6,2.5 -8.7,4.7 -1,-0.1 -0.5,-0.8 -1.1,-4.8 -0.5,0.3 -1.5,8.3 -1,1.5 -1.5,1 -1.5,-0.8 -2.2,-2.8 -1.8,-3 -1.4,-3.5 -2.1,-8 -0.8,-9 0.6,-9.1 1.9,-8.5 2.9,-6.5 2.2,-3.1z"/>
<path fill="#6273a2" d="M48.6,60.7l1.5,1 2.3,3.1 3,6.5 2,8 0.6,8.5 -0.6,9.1 -2,8 -3,6.5 -2.2,2.9 -1.5,1.2 -1.5,-0.8 -1,-1.6 -1.5,-8.5 -0.5,-0.3 -1,5.1 -0.6,0.9 -0.5,0.2 -4.4,-2.1 -5.7,-3.5 -5,-4 -3.4,-4 -2,-4 -0.8,-4.5 0.6,-4.6 2.2,-4.5 3.4,-4 5,-4 5.7,-3.5 4.4,-2.1 0.5,0.2 0.6,0.9 1,5.1 0.5,-0.3 1.5,-8.5 1,-1.6zM127.9,60.7l1.5,0.8 1,1.6 1.5,8.5 0.6,0.3 0.9,-5.1 0.6,-0.9 0.5,-0.2 4.4,2.1 5.7,3.5 5,4 3.4,4 2,4 0.8,4.5 -0.6,4.6 -2.2,4.5 -3.4,4 -5,4 -5.7,3.5 -4.4,2.1 -0.5,-0.2 -0.6,-0.9 -0.9,-5.1 -0.6,0.3 -1.5,8.5 -1,1.6 -1.5,0.8 -1.5,-1.2 -2.2,-2.9 -3,-6.5 -2,-8 -0.6,-8.5 0.6,-9.1 2,-8 3,-6.5 2.2,-2.9z"/>
<path fill="#6574a1" d="M47.3,61.7l1.4,-0.4 1.5,1.4 2.1,3.1 2,4 1.2,3.5 1.1,4.5 0.9,9 -0.5,9.1 -2,8.5 -1.6,4 -1.7,3 -2.4,3.1 -1.1,0.4 -1,-0.6 -1,-1.5 -0.6,-2.4 -0.9,-6.5 -0.5,-0.2 -1.1,5.5 -0.5,0.9 -0.5,0.2 -3,-1.4 -5.9,-3.5 -5.1,-4 -3.6,-4 -2.4,-4.5 -0.8,-4.5 0.6,-4.6 2.2,-4.5 4,-4.5 5.1,-4 5.9,-3.5 3,-1.4 0.5,0.2 0.5,0.9 1.1,5.5 0.5,-0.2 1,-7.1 0.5,-1.8zM125.6,63.8l2.3,-2.5 1,0.2 1.5,1.9 0.6,2.4 0.9,6.5 0.6,0.2 1,-5.5 0.5,-0.9 0.5,-0.2 2.1,0.9 5.2,3 6.7,5 2.9,3 2.2,3.5 1.2,3 0.5,3.5 -0.6,4.6 -2.2,4.5 -4,4.5 -5.1,4 -5.9,3.5 -3,1.4 -0.5,-0.2 -0.5,-0.9 -1,-5.5 -0.6,0.2 -0.9,6.5 -0.6,2.4 -1,1.5 -1,0.6 -1.1,-0.4 -2.1,-2.6 -1.5,-2.5 -1.6,-3.5 -2.2,-8 -0.8,-8 0.4,-9.1 1.6,-7.5 2.8,-6.9z"/>
<path fill="#67749f" d="M47.2,62.2l1,-0.4 1.5,1.1 2.3,3.4 1.7,3.5 1.3,3.5 1.1,4.5 0.9,8.5 -0.4,9.1 -1.8,8 -1.3,3.5 -1.8,3.5 -2.2,3.1 -1.3,0.9 -1,-0.5 -1,-1.5 -0.7,-2.5 -0.8,-6.7 -0.5,-0.1 -1.1,5.8 -0.5,1 -0.5,0.2 -1.7,-0.7 -5.1,-3 -5.5,-4 -4.4,-4.5 -2.6,-4.5 -0.7,-2.5 -0.3,-2.5 0.2,-2.6 0.6,-2.5 2.4,-4.5 4.2,-4.5 5.3,-4 5,-3 2.6,-1.2 0.5,0.2 0.5,1 1.1,5.8 0.5,-0.1 1,-7.4 0.5,-1.8zM127.6,62.2l0.8,-0.4 0.5,0.1 1,0.9 0.5,1 0.7,2.5 0.8,6.7 0.6,0.1 1,-5.8 0.5,-1 0.5,-0.2 1.7,0.7 5.1,3 5.5,4 4.4,4.5 2.6,4.5 0.7,2.5 0.3,2.5 -0.2,2.6 -0.6,2.5 -2.4,4.5 -4.2,4.5 -5.3,4 -5,3 -2.6,1.2 -0.5,-0.2 -0.5,-1 -1,-5.8 -0.6,0.1 -0.8,6.7 -0.7,2.5 -1,1.5 -1,0.5 -1.3,-0.9 -1.9,-2.6 -2.9,-6 -2,-7.5 -0.7,-8 0.4,-8.6 1.6,-7.5 2.7,-6.5z"/>
<path fill="#69759e" d="M47.1,62.7l1.1,-0.3 1,0.9 2.2,3 2,4 2.2,7.5 1,8.5 -0.4,8.6 -1.7,8 -2.8,6.5 -2,3 -1.5,1.4 -1,-0.3 -1,-1.5 -0.7,-2.6 -0.8,-7 -0.5,0.1 -0.9,5.4 -0.7,1.8 -0.5,0.2 -1,-0.3 -4.5,-2.7 -6.3,-4.5 -4.3,-4.5 -2.6,-4.5 -0.8,-2.5 -0.3,-2.5 0.2,-2.6 0.7,-2.5 2.4,-4.5 4.2,-4.5 6,-4.5 4.8,-2.9 1.5,-0.6 0.5,0.2 0.5,1.1 1.1,6.1 0.5,0.1 1,-7.7 0.5,-1.9zM127.8,62.7l0.6,-0.3 1,0.3 1,1.5 0.7,2.6 0.8,7 0.6,-0.1 0.8,-5.4 0.7,-1.8 0.5,-0.2 1,0.3 4.5,2.7 6.3,4.5 4.3,4.5 2.6,4.5 0.8,2.5 0.3,2.5 -0.2,2.6 -0.7,2.5 -2.4,4.5 -4.2,4.5 -6,4.5 -4.8,2.9 -1.5,0.6 -0.5,-0.2 -0.5,-1.1 -1,-6.1 -0.6,-0.1 -1.2,8.5 -0.8,2.1 -1,0.8 -1.1,-0.3 -1.9,-2.4 -1.8,-3.2 -1.3,-3 -2,-7.5 -0.8,-7.5 0.4,-8.1 1.6,-8 2.6,-6.5z"/>
<path fill="#6b769d" d="M47,63.3l0.7,-0.4 0.5,0.1 1.2,1.3 2,3 1.9,4 2.1,8 0.7,8 -0.4,8.1 -1.7,7.5 -1.4,3.5 -1.8,3.5 -2.1,2.9 -1,0.5 -1,-0.7 -0.9,-2.2 -1.1,-8.7 -0.5,0.1 -1.1,6.6 -0.5,1 -1,0.2 -8.2,-5.2 -5.6,-5 -2,-2.5 -1.7,-3 -0.8,-2.5 -0.4,-3 0.2,-2.6 0.6,-2.5 1.2,-2.5 1.6,-2.5 4.4,-4.5 6.9,-5 3.8,-2.2 1,0.2 0.7,2 0.9,5.6 0.5,0.1 1,-8 0.5,-2zM128.1,63.3l0.8,-0.4 0.5,0.2 1,1.4 0.7,3.3 0.8,6.7 0.6,-0.1 1,-6.6 0.5,-1 1,-0.2 8.2,5.2 5.6,5 2,2.5 1.7,3 0.8,2.5 0.4,3 -0.2,2.6 -0.6,2.5 -1.2,2.5 -1.6,2.5 -4.4,4.5 -6.9,5 -3.8,2.2 -1,-0.2 -0.7,-2 -0.8,-5.6 -0.6,-0.1 -1.1,8.7 -0.9,2.2 -1,0.7 -1,-0.5 -2.1,-2.9 -2.8,-6 -1.8,-7 -0.7,-7.5 0.3,-7.6 1.5,-7.5 2.4,-6 1.7,-3z"/>
<path fill="#6d769b" d="M46.9,63.8l0.8,-0.4 0.5,0.2 1,1.2 1.9,3 1.8,4 2.1,7.5 0.7,8 -0.4,7.6 -1.7,7.5 -2.7,6.5 -2.1,3 -1.1,0.9 -1,-0.6 -0.8,-1.8 -1.2,-9.5 -0.5,0.3 -1.1,6.8 -0.5,1.2 -1,0.2 -7.7,-5 -3.6,-3 -2.4,-2.5 -1.9,-2.5 -1.4,-2.5 -0.8,-2.5 -0.4,-3 0.3,-3.1 0.7,-2.5 1.6,-3 1.9,-2.5 2.4,-2.5 3.6,-3 7.7,-5 1,0.2 0.5,1.2 1.1,6.8 0.5,0.3 1,-8.4 0.5,-2zM128.3,63.8l0.6,-0.4 0.5,0.1 1,1.4 0.7,3.4 0.8,7 0.6,-0.3 1,-6.8 0.5,-1.2 1,-0.2 7.7,5 3.6,3 2.4,2.5 1.9,2.5 1.4,2.5 0.8,2.5 0.4,3 -0.3,3.1 -0.7,2.5 -1.6,3 -1.9,2.5 -2.4,2.5 -3.6,3 -7.7,5 -1,-0.2 -0.5,-1.2 -1,-6.8 -0.6,-0.3 -1.2,9.5 -0.8,1.8 -1,0.6 -1.1,-0.9 -2.1,-3 -2.6,-6 -1.6,-6.5 -0.6,-7.5 0.4,-7.6 1.5,-7 2.4,-6z"/>
<path fill="#6f779a" d="M46.8,64.3l0.9,-0.3 1.3,1.3 1.9,3 1.6,3.5 2,7.5 0.8,7.5 -0.4,7.6 -1.6,7.5 -2.7,6.5 -1.6,2.5 -1.3,1.3 -1,-0.4 -0.8,-1.9 -1.2,-9.9 -0.5,0.5 -1.1,7.2 -0.5,1.3 -1,0.2 -7.8,-5.3 -5.4,-5 -1.9,-2.5 -1.3,-2.5 -0.9,-2.5 -0.4,-3 0.3,-3.1 0.8,-2.5 1.2,-2.5 1.8,-2.5 2.3,-2.5 3.5,-3 7.8,-5.3 1,0.2 0.5,1.3 1.1,7.2 0.5,0.5 1,-8.8 0.5,-2.1zM128.5,64.3l0.9,-0.3 1,1.3 0.7,3 0.8,7.9 0.6,-0.5 1,-7.2 0.5,-1.3 1,-0.2 7.8,5.3 5.4,5 1.9,2.5 1.3,2.5 0.9,2.5 0.4,3 -0.3,3.1 -0.8,2.5 -1.2,2.5 -1.8,2.5 -2.3,2.5 -3.5,3 -7.8,5.3 -1,-0.2 -0.5,-1.3 -1,-7.2 -0.6,-0.5 -1.2,9.9 -0.8,1.9 -1,0.4 -1.3,-1.3 -1.6,-2.5 -2.6,-6 -1.5,-6.5 -0.6,-7 0.5,-7.6 1.5,-7 2.4,-6z"/>
<path fill="#717899" d="M46.7,64.8l1,-0.3 1.1,1.3 1.8,3 1.8,4 1.8,7 0.7,7.5 -0.5,7.6 -1.5,7 -2.8,6.5 -1.9,2.8 -1,0.5 -1,-1.2 -0.5,-2.1 -1,-9.2 -0.5,0.6 -1.1,7.6 -0.5,1.3 -0.5,0.4 -0.5,-0.1 -7.3,-5.1 -5.4,-5 -1.8,-2.5 -1.4,-2.5 -0.9,-2.5 -0.3,-3 0.2,-3.1 0.8,-2.5 1.3,-2.5 1.7,-2.5 2.3,-2.5 3.5,-3 7.3,-5.1 0.5,-0.1 0.5,0.4 0.5,1.3 1.1,7.6 0.5,0.6 1,-9.2 0.5,-2.1zM128.7,64.8l0.7,-0.3 1,1.2 0.7,3.1 0.8,8.2 0.6,-0.6 1,-7.6 0.5,-1.3 0.5,-0.4 0.5,0.1 7.3,5.1 5.4,5 1.8,2.5 1.4,2.5 0.9,2.5 0.3,3 -0.2,3.1 -0.8,2.5 -1.3,2.5 -1.7,2.5 -2.3,2.5 -3.5,3 -7.3,5.1 -0.5,0.1 -0.5,-0.4 -0.5,-1.3 -1,-7.6 -0.6,-0.6 -1,9.2 -0.5,2.1 -1,1.2 -1,-0.5 -1.6,-2.3 -2.7,-6 -1.7,-6.5 -0.7,-7 0.4,-7.6 1.5,-7 2.4,-6z"/>
<path fill="#737897" d="M46.6,65.3l0.6,-0.3 0.5,0.1 1,1.2 1.7,3 1.7,4 1.8,7 0.6,7 -0.5,7.6 -1.6,7 -2.5,6 -1.7,2.7 -1,0.6 -0.5,-0.2 -0.5,-1 -0.5,-2.1 -1,-9.6 -0.5,0.8 -1.1,8 -0.5,1.4 -0.5,0.3 -0.5,0 -7.5,-5.4 -5.1,-5 -1.7,-2.5 -1.3,-2.5 -0.7,-2.5 -0.3,-2.5 0.3,-3.1 0.7,-2.5 1.3,-2.5 1.7,-2.5 5.1,-5 7.5,-5.4 0.5,0 0.5,0.3 0.5,1.4 1.1,8 0.5,0.8 1,-9.6zM128.8,65.3l0.6,-0.3 0.5,0.2 0.6,1.1 0.6,3 0.8,8.6 0.6,-0.8 1,-8 0.5,-1.4 0.5,-0.3 0.5,0 7.5,5.4 5.1,5 1.7,2.5 1.3,2.5 0.7,2.5 0.3,2.5 -0.3,3.1 -0.7,2.5 -1.3,2.5 -1.7,2.5 -5.1,5 -7.5,5.4 -0.5,0 -0.5,-0.3 -0.5,-1.4 -1,-8 -0.6,-0.8 -1,9.6 -0.5,2.1 -0.5,1 -0.5,0.2 -1,-0.6 -1.7,-2.7 -2.5,-6 -1.5,-6.5 -0.6,-6.5 0.4,-7.1 1.4,-6.5 2.3,-6z"/>
<path fill="#757996" d="M46.6,65.8l0.6,-0.3 0.5,0.3 1,1.3 1.7,3.2 1.4,3.5 1.7,6.5 0.6,7 -0.4,7.1 -1.4,6.5 -2.4,6 -1.7,3 -1,0.8 -0.5,-0.2 -0.5,-0.9 -0.5,-2.2 -1,-10.1 -0.5,1 -1.1,8.5 -0.5,1.4 -0.5,0.4 -0.5,-0.1 -7,-5.1 -5,-5 -1.8,-2.5 -1.3,-2.5 -0.7,-2.5 -0.3,-2.5 0.2,-2.6 0.6,-2.5 1.2,-2.5 1.7,-2.5 2.1,-2.5 3.3,-3 7,-5.1 0.5,-0.1 0.5,0.4 0.5,1.4 1.1,8.5 0.5,1 1,-10.1zM128.9,65.8l0.5,-0.3 0.5,0.2 0.8,2.1 1.2,11.1 0.6,-1 1,-8.5 0.5,-1.4 0.5,-0.4 0.5,0.1 7,5.1 5,5 1.8,2.5 1.3,2.5 0.7,2.5 0.3,2.5 -0.2,2.6 -0.6,2.5 -1.2,2.5 -1.7,2.5 -2.1,2.5 -3.3,3 -7,5.1 -0.5,0.1 -0.5,-0.4 -0.5,-1.4 -1,-8.5 -0.6,-1 -1,10.1 -0.5,2.2 -0.5,0.9 -0.5,0.2 -0.9,-0.8 -1.3,-2 -2.6,-6 -1.6,-6.5 -0.5,-6.5 0.3,-6.6 1.3,-6.5 2.1,-5.5z"/>
<path fill="#777a94" d="M46.6,66.3l0.6,-0.3 0.3,0.3 1.1,1.5 1.9,3.5 1.1,3 1.6,6.5 0.5,6.5 -0.3,6.6 -1.3,6.5 -2.4,6 -1.5,2.8 -1,1 -0.5,-0.1 -0.5,-1 -0.5,-2.2 -1,-10.6 -0.5,1.3 -1.1,8.8 -0.5,1.6 -0.5,0.4 -0.5,-0.1 -6.5,-4.9 -5,-5 -1.8,-2.5 -1.3,-2.5 -0.7,-2.5 -0.3,-2.5 0.2,-2.6 0.6,-2.5 1.2,-2.5 1.7,-2.5 4.8,-5 7.1,-5.4 0.5,-0.1 0.5,0.4 0.5,1.6 1.1,8.8 0.5,1.3 1,-10.6zM129.1,66.3l0.8,-0.2 0.5,1 0.5,2.2 1,10.6 0.6,-1.3 1,-8.8 0.5,-1.6 0.5,-0.4 0.5,0.1 6.5,4.9 5,5 1.8,2.5 1.3,2.5 0.7,2.5 0.3,2.5 -0.2,2.6 -0.6,2.5 -1.2,2.5 -1.7,2.5 -4.8,5 -7.1,5.4 -0.5,0.1 -0.5,-0.4 -0.5,-1.6 -1,-8.8 -0.6,-1.3 -1,10.6 -0.5,2.2 -0.5,1 -0.5,0.1 -1,-1 -1.3,-2.3 -2.4,-6 -1.3,-6 -0.5,-6.5 0.4,-6.6 1.2,-6 2.1,-5.5z"/>
<path fill="#797a93" d="M46.6,66.8l0.6,-0.2 1.3,1.7 1.5,3 1.4,3.5 1.4,6 0.6,6.5 -0.4,6.6 -1.2,6 -2,5.5 -1.6,3 -1,1.2 -0.5,0 -0.5,-0.9 -0.5,-2.3 -1,-11.1 -0.5,1.4 -1.1,9.4 -0.5,1.6 -0.5,0.4 -0.5,0 -6.7,-5.2 -4.7,-5 -2.7,-4.5 -0.7,-2.5 -0.3,-2.5 0.2,-2.6 0.6,-2.5 1.2,-2.5 1.7,-2.5 4.7,-5 6.7,-5.2 0.5,0 0.5,0.4 0.5,1.6 1.1,9.4 0.5,1.4 1,-11.1zM129.2,66.8l0.7,-0.2 0.5,0.9 0.5,2.3 1,11.1 0.6,-1.4 1,-9.4 0.5,-1.6 0.5,-0.4 0.5,0 6.7,5.2 4.7,5 2.7,4.5 0.7,2.5 0.3,2.5 -0.2,2.6 -0.6,2.5 -1.2,2.5 -1.7,2.5 -4.7,5 -6.7,5.2 -0.5,0 -0.5,-0.4 -0.5,-1.6 -1,-9.4 -0.6,-1.4 -1,11.1 -0.5,2.3 -0.5,0.9 -0.5,0 -1,-1.2 -1.4,-2.5 -2.1,-5.5 -1.2,-6 -0.5,-6 0.5,-6.6 1.1,-5.5 2,-5.5z"/>
<path fill="#7b7b92" d="M46.6,67.3l0.6,-0.1 1.1,1.6 2.8,6.5 1.4,6 0.5,6.5 -0.4,6.6 -1.3,6 -2.4,6 -1.2,2.1 -0.5,0.5 -0.5,0.1 -0.5,-0.9 -0.5,-2.4 -1,-11.7 -0.5,1.8 -1.1,9.9 -0.5,1.7 -0.5,0.4 -0.5,-0.1 -6.2,-4.9 -4.7,-5 -1.7,-2.5 -1.2,-2.5 -0.8,-4.5 0.2,-2.6 0.6,-2.5 2.5,-4.5 4.5,-5 6.8,-5.4 0.5,-0.1 0.5,0.4 0.5,1.7 1.1,9.9 0.5,1.8 1,-11.7 0.5,-2.4zM129.3,67.3l0.6,-0.2 0.5,0.9 0.5,2.4 1,11.7 0.6,-1.8 1,-9.9 0.5,-1.7 0.5,-0.4 0.5,0.1 6.2,4.9 4.7,5 1.7,2.5 1.2,2.5 0.8,4.5 -0.2,2.6 -0.6,2.5 -2.5,4.5 -4.5,5 -6.8,5.4 -0.5,0.1 -0.5,-0.4 -0.5,-1.7 -1,-9.9 -0.6,-1.8 -1,11.7 -0.5,2.4 -0.5,0.9 -0.6,-0.2 -1.3,-2 -2.5,-6 -1.4,-6 -0.5,-6 0.3,-6.1 1.1,-6 2,-5.5z"/>
<path fill="#7d7c90" d="M46.6,67.8l0.6,0 1.3,2 2.4,6 1.3,6 0.5,6 -0.4,6.1 -1.2,6 -2.4,6 -1.1,2 -0.9,0.6 -0.5,-0.8 -0.5,-2.5 -1,-12.5 -0.5,2.3 -1.1,10.4 -0.5,1.8 -0.5,0.5 -0.5,-0.1 -5.8,-4.7 -4.7,-5 -1.6,-2.5 -1.2,-2.5 -0.9,-4.5 0.2,-2.6 0.7,-2.5 2.5,-4.5 4.5,-5 6.3,-5.2 0.5,-0.1 0.5,0.5 0.5,1.8 1.1,10.4 0.5,2.3 1,-12.5 0.5,-2.5zM129.4,67.8l0.5,-0.1 0.5,0.8 0.5,2.5 1,12.5 0.6,-2.3 1,-10.4 0.5,-1.8 0.5,-0.5 0.5,0.1 5.8,4.7 4.7,5 1.6,2.5 1.2,2.5 0.9,4.5 -0.2,2.6 -0.7,2.5 -2.5,4.5 -4.5,5 -6.3,5.2 -0.5,0.1 -0.5,-0.5 -0.5,-1.8 -1,-10.4 -0.6,-2.3 -1,12.5 -0.5,2.5 -0.5,0.8 -0.5,-0.1 -1.3,-2 -2.4,-6 -1.3,-6 -0.5,-6 0.4,-6.1 1.1,-5.5 2,-5.5z"/>
<path fill="#7f7d8f" d="M46.6,68.3l0.6,0.1 1.1,1.9 2.4,6 1.2,5.5 0.4,6 -0.4,6.1 -1.1,5.5 -2.2,6 -1.1,2 -0.8,0.6 -0.5,-0.8 -0.5,-2.6 -1,-13.5 -1.5,13.8 -0.6,2 -0.5,0.5 -1.1,-0.5 -4.2,-3.5 -5.2,-5.5 -1.6,-2.5 -1.2,-2.5 -0.9,-4.5 0.2,-2.6 0.7,-2.5 2.4,-4.5 4.5,-5 5.9,-4.9 0.5,-0.1 0.5,0.5 0.5,1.8 1.6,14 1,-13.5 0.5,-2.6zM129.8,68.3l0.6,0.7 0.5,2.6 1,13.5 1.5,-13.8 0.6,-2 0.5,-0.5 1.1,0.5 4.2,3.5 5.2,5.5 1.6,2.5 1.2,2.5 0.9,4.5 -0.2,2.6 -0.7,2.5 -2.4,4.5 -4.5,5 -5.9,4.9 -0.5,0.1 -0.5,-0.5 -0.5,-1.8 -1.6,-14 -1,13.5 -0.5,2.6 -0.5,0.8 -0.8,-0.6 -1.1,-2 -2.1,-5.5 -1.2,-5.5 -0.4,-6 0.4,-6.1 1.1,-5.5 2,-5.5 1.1,-2.2z"/>
<path fill="#817d8e" d="M41.4,69.3l0.7,-0.3 0.5,0.6 0.5,1.8 1.5,15.9 -1.3,16.1 -0.7,3.2 -0.5,0.6 -1,-0.4 -3.9,-3.4 -5.1,-5.5 -1.7,-2.5 -1.2,-2.5 -0.8,-4.5 0.7,-4.6 2.2,-4.5 4.3,-5zM45.5,74.3l1.2,-5.5 1,1 2.7,6.5 1.1,5.5 0.5,6 -0.4,6.1 -1.1,5.5 -2,5.5 -1.2,2 -0.6,0.5 -0.5,-0.8 -0.5,-2.6 -1,-15.6zM129.3,69.3l0.6,-0.5 0.5,0.8 0.5,2.6 1,14.6 -0.8,16.1 -0.7,3.7 -0.5,0.8 -0.5,-0.2 -1,-1.8 -2.2,-5.5 -1.1,-5.5 -0.5,-5.5 0.2,-5.1 0.9,-5.5 1.6,-5zM133.6,70.8l0.9,-1.8 0.7,0.3 3.1,2.5 3.7,3.5 2.5,3 1.7,2.5 1.2,2.5 0.8,4.5 -0.2,2.6 -0.6,2.5 -2.5,4.5 -4.9,5.5 -4.1,3.5 -1.4,0.8 -0.5,-0.6 -0.7,-3.2 -1.3,-15 1.2,-15.1z"/>
<path fill="#837e8c" d="M41,69.8l1.1,-0.5 0.5,0.5 0.5,2 1.3,15.5 -1,15.6 -0.8,3.5 -0.5,0.5 -1.1,-0.5 -4,-3.5 -4.9,-5.5 -2.4,-4.5 -0.9,-4.5 0.7,-4.6 2.3,-4.5 3.7,-4.5zM45.5,74.3l1.2,-4.9 1,1.1 2.3,5.8 1.2,5.5 0.5,6 -0.3,5.6 -1.1,5.5 -2,5.5 -1.1,2.1 -0.5,0.3 -0.5,-0.7 -0.5,-2.8 -1,-14.9zM129.4,69.8l0.5,-0.4 0.5,0.7 0.5,2.8 0.9,13.9 -0.8,15.6 -0.6,3.7 -0.5,0.7 -0.5,-0.3 -1.1,-2.1 -1.9,-5 -1,-5 -0.5,-5.5 0.3,-5.6 0.9,-5 1.5,-5zM134,69.8l0.5,-0.5 0.5,0.1 1.2,0.9 4.4,4 3.1,3.5 3,5 0.8,2.5 0.3,2.5 -0.7,4.6 -1.1,2.5 -1.5,2.5 -4.9,5.5 -4,3.5 -1.1,0.5 -0.5,-0.5 -0.8,-3.5 -1.1,-14.5 1,-13.6z"/>
<path fill="#857f8b" d="M41.4,69.8l0.7,-0.3 0.5,0.6 0.5,2 1.2,15.7 -0.9,14.6 -0.7,3.5 -0.6,0.8 -1,-0.5 -3.7,-3.3 -4.8,-5.5 -2.5,-4.5 -0.8,-4.5 0.7,-4.6 2.2,-4.5 3.7,-4.5zM134.2,69.8l0.8,-0.2 2.6,2.2 3.6,3.5 2.5,3 1.6,2.5 1.2,2.5 0.8,4.5 -0.7,4.6 -2.2,4.5 -4.7,5.5 -3.8,3.5 -1.4,0.8 -0.6,-0.8 -0.7,-3.5 -0.9,-14 0.9,-14.1 0.4,-3zM46.2,70.7l0.5,-0.7 0.5,0.3 0.5,1 2.1,5.5 1.2,5.5 0.4,5.5 -0.4,5.6 -0.9,5 -1.9,5.5 -1,2 -0.5,0.3 -0.5,-0.7 -0.5,-2.8 -0.9,-14.3 0.8,-14.1zM129.5,70.3l0.4,-0.3 0.5,0.7 0.5,2.8 0.9,13.8 -0.9,15.4 -0.5,2.8 -0.5,0.7 -0.5,-0.3 -1,-2 -1.8,-5 -1,-5 -0.4,-5 0.3,-5.1 0.8,-5 1.5,-5z"/>
<path fill="#887f89" d="M41.1,70.3l1,-0.5 0.5,0.6 0.5,2.1 1,12.8 -0.1,7.6 -0.5,8 -0.6,4 -0.8,1.5 -1,-0.4 -3.3,-3.1 -4.8,-5.5 -2.4,-4.5 -0.9,-4.5 0.5,-4.1 2.1,-4.5 3.5,-4.5zM134.1,70.3l0.4,-0.5 0.5,0.1 1.1,0.9 4.2,4 2.9,3.5 2.8,5 0.9,4.5 -0.7,4.6 -2.3,4.5 -4.6,5.5 -3.8,3.5 -1,0.5 -0.5,-0.6 -0.7,-3.4 -0.8,-13.5 0.5,-12.6 0.5,-3.8zM46.2,71.3l0.5,-0.7 0.5,0.4 0.7,1.3 1.9,5.5 0.9,5 0.4,5 -0.3,5.1 -0.9,5 -1.7,5.3 -1,2 -0.5,0.4 -0.5,-0.7 -0.5,-2.9 -0.8,-13.6 0.8,-14.2zM128.1,73.8l1.8,-3.2 0.5,0.7 0.5,2.9 0.8,13.6 -0.8,14.2 -0.5,2.9 -0.5,0.7 -0.5,-0.4 -0.9,-1.8 -1.7,-5 -0.9,-5 -0.4,-5 0.3,-5.1 0.8,-4.5z"/>
<path fill="#8a8088" d="M41.4,70.3l0.7,-0.2 0.5,0.6 0.5,2.1 1,13.5 -0.7,14.6 -0.6,4 -0.7,1.2 -1,-0.4 -3,-2.8 -4.7,-5.5 -2.4,-4.5 -0.9,-4.5 0.6,-4.1 2,-4.5 3.5,-4.5zM134.3,70.3l0.7,-0.1 2.4,2.1 3.4,3.5 2.4,3 2.4,4.5 0.9,4.5 -0.7,4.6 -2.3,4.5 -4.5,5.5 -3.5,3.3 -1,0.4 -0.5,-0.6 -0.7,-3.6 -0.8,-13.5 0.7,-13.1 0.5,-3.5zM46.6,71.3l0.6,0.4 0.8,1.6 1.6,5 0.8,4.5 0.4,5 -0.3,5.1 -0.8,4.5 -1.5,5 -1,2.1 -0.5,0.5 -0.5,-0.7 -0.5,-3.1 -0.7,-12.8 0.7,-13.4 0.5,-3.1zM129.9,71.3l0.5,0.6 0.5,3.1 0.7,12.8 -0.7,13.4 -0.5,3.1 -0.5,0.7 -1.3,-2.1 -1.6,-5 -0.8,-4.5 -0.4,-5 0.3,-5.1 0.8,-4.5 1.5,-5z"/>
<path fill="#8c8187" d="M41.1,70.8l1,-0.5 0.5,0.7 0.5,1.8 0.9,12.5 0,6.6 -0.6,8.5 -0.6,4 -0.7,1.5 -1,-0.5 -3.1,-3 -4.5,-5.5 -2.3,-4.5 -0.7,-4 0.6,-4.1 1.7,-4 3.4,-4.5zM133.5,73.2l1,-2.9 0.5,0.1 1,0.9 4,4 2.8,3.5 2.4,4.5 0.9,4.5 -0.7,4.6 -2.3,4.5 -4.5,5.5 -3.1,3 -1,0.5 -0.5,-0.7 -0.7,-3.3 -0.8,-13 0.6,-12.6zM45.6,76.8l1.1,-4.9 0.7,0.9 1.8,5 0.9,5 0.4,5 -0.2,4.6 -0.9,5 -1.6,5 -1.1,1.9 -0.5,-0.7 -0.5,-3.1 -0.6,-11.6zM128.2,75.3l1.7,-3.4 0.5,0.7 0.5,3.1 0.6,11.1 -0.6,13.7 -0.5,3.1 -0.5,0.7 -1.1,-1.9 -1.5,-4.5 -0.8,-4.5 -0.4,-4.5 0.2,-4.6 0.7,-4.5z"/>
<path fill="#8e8185" d="M41.5,70.8l0.6,-0.2 0.5,0.7 0.5,2.3 0.9,13.2 -0.7,14.1 -0.7,4 -0.5,0.7 -1,-0.4 -2.8,-2.8 -4.4,-5.5 -2.3,-4.5 -0.7,-4 0.6,-4.1 1.7,-4 3.8,-5zM134.3,70.8l0.7,-0.1 2.3,2.1 3.2,3.5 2.2,3 2.3,4.5 0.7,4 -0.7,4.6 -2.3,4.5 -4.4,5.5 -2.8,2.8 -1,0.4 -0.5,-0.7 -0.7,-3.5 -0.7,-13 0.7,-13.1 0.5,-3.5zM46.2,73.2l0.5,-0.7 0.8,1.3 1.5,4.5 0.9,4.5 0.3,5 -0.2,4.6 -0.7,4.5 -1.4,4.5 -1.2,2.3 -0.5,-0.7 -0.5,-3.3 -0.6,-11.3 0.6,-11.9zM128.5,75.3l1.4,-2.8 0.5,0.7 0.5,3.3 0.6,10.8 -0.6,12.4 -0.5,3.3 -0.5,0.7 -1,-1.8 -1.4,-4.5 -0.8,-4.5 -0.3,-4.5 0.2,-4.6 0.6,-4z"/>
<path fill="#908284" d="M41.2,71.3l0.9,-0.4 0.5,0.7 0.4,1.7 1,12.5 -0.6,14.1 -0.6,4 -0.7,1.4 -1,-0.4 -2.4,-2.5 -4.4,-5.5 -2.3,-4.5 -0.7,-4 0.6,-4.1 1.7,-4 3.3,-4.5zM133.5,73.8l1,-2.9 0.5,0.1 1,0.8 3.3,3.5 2.7,3.5 2.4,4.5 0.9,4.5 -0.6,4.1 -2,4.5 -4.3,5.5 -2.9,3 -1,0.4 -0.5,-0.7 -0.6,-3.2 -0.8,-12.5 0.6,-12.1zM46.6,73.3l0.6,0.5 0.4,1 1.3,4 0.7,4.5 0.3,4.5 -0.2,4.6 -0.7,4.5 -1.3,4.4 -1,1.7 -0.5,-0.7 -0.5,-3.4 -0.5,-10.5 0.5,-11.1 0.5,-3.4zM129.8,73.3l0.6,0.6 0.5,3.4 0.5,10.5 -0.5,11.1 -0.5,3.4 -0.5,0.7 -1,-1.7 -1.3,-4.4 -0.6,-4 -0.3,-4.5 0.2,-4.6 0.6,-4 1.3,-4.5z"/>
<path fill="#928382" d="M41.6,71.3l0.5,-0.1 0.5,0.7 0.5,2.4 0.8,12.5 -0.6,13.6 -0.7,3.9 -0.5,0.7 -1,-0.4 -2.6,-2.7 -4.2,-5.5 -1.9,-4 -0.7,-4 0.5,-4.1 1.8,-4 3.2,-4.5zM134.4,71.3l0.6,-0.1 2.1,2.1 4.9,6 2.2,4.5 0.7,4 -0.5,4.1 -2.1,4.5 -4.2,5.5 -2.6,2.7 -1,0.4 -0.5,-0.7 -0.7,-3.4 -0.7,-12.5 0.7,-12.6 0.6,-3.5zM45.6,78.3l1.1,-4.4 0.5,0.6 1.4,4.3 0.8,4.5 0.3,4.5 -0.3,4.6 -0.6,4 -1.1,4.1 -1,1.8 -0.5,-0.7 -0.5,-3.5 -0.4,-8.7zM128.6,76.8l1.3,-2.9 0.5,0.7 0.4,2.2 0.5,10 -0.4,11.3 -0.5,3.5 -0.5,0.7 -1,-1.8 -1.1,-4.1 -0.6,-4 -0.3,-4 0.7,-7.6z"/>
<path fill="#948381" d="M41.3,71.8l0.8,-0.4 0.5,0.8 0.4,1.6 0.9,12.5 -0.6,13.6 -0.7,4.1 -0.5,0.8 -1,-0.5 -2.2,-2.4 -4.2,-5.5 -1.9,-4 -0.7,-4 0.5,-4.1 1.8,-4 2.8,-4zM133.3,76.3l1.2,-4.9 0.5,0.1 1,0.9 3,3.4 2.6,3.5 2.2,4.5 0.7,4 -0.5,4.1 -2.1,4.5 -4.2,5.5 -2.2,2.4 -1,0.5 -0.5,-0.8 -0.6,-3.1 -0.7,-12.5zM46.2,75.3l0.5,-0.7 0.5,0.6 1.2,4.1 0.7,4 0.3,4.5 -0.2,4.1 -0.6,4 -0.9,3.8 -1,1.9 -0.5,-0.7 -0.5,-3.7 -0.4,-8.3 0.4,-9.9zM128.9,76.8l1,-2.2 0.5,0.7 0.5,3.5 0.4,8.5 -0.4,9.9 -0.5,3.7 -0.5,0.7 -0.9,-1.7 -0.9,-3.5 -0.7,-4 -0.2,-4 0.7,-7.6z"/>
<path fill="#968480" d="M41.6,71.8l0.5,-0.1 0.5,0.8 0.5,2.6 0.8,12.2 -0.7,13.1 -0.6,3.3 -0.5,0.8 -1,-0.5 -1.9,-2.1 -4.2,-5.5 -1.9,-4 -0.7,-4 0.4,-3.6 1.7,-4 3,-4.5zM134.4,71.8l0.6,0 2,2 4.6,6 1.9,4 0.7,4 -0.6,4.1 -1.7,4 -4,5.5 -2.4,2.6 -1,0.5 -0.5,-0.8 -0.6,-2.8 -0.7,-12.5 0.7,-12.6 0.6,-3.3zM46.6,75.3l0.9,1.5 0.9,3.5 0.8,7.5 -0.7,7.6 -0.9,3.5 -0.9,2 -0.5,-0.7 -0.5,-3.9 -0.3,-7.9 0.3,-8.5 0.5,-3.9zM129.9,75.3l0.5,0.7 0.5,3.9 0.3,7.9 -0.3,8.5 -0.5,3.9 -0.5,0.7 -0.8,-1.5 -0.9,-3.5 -0.8,-7.5 0.7,-7.6 0.9,-3.5z"/>
<path fill="#98857e" d="M41.4,72.3l0.7,-0.3 0.5,0.8 0.4,1.5 0.8,12 -0.5,13.1 -0.7,4 -0.5,0.8 -1,-0.5 -1.6,-1.8 -4.1,-5.5 -1.9,-4 -0.7,-4 0.4,-3.6 1.6,-4 3,-4.5zM133.8,73.3l0.7,-1.3 0.5,0.1 1.2,1.2 5,6.5 1.9,4 0.7,4 -0.5,4.1 -1.8,4 -3.9,5.5 -2.1,2.3 -1,0.5 -0.5,-0.8 -0.6,-3 -0.6,-12 0.5,-11.6zM46.2,76.7l0.5,-0.7 0.5,0.8 0.8,3 0.7,4 0.2,4 -0.6,7.1 -0.8,3.5 -0.8,1.8 -0.5,-0.7 -0.4,-3.1 -0.4,-7.5 0.3,-8zM128.9,78.3l1,-2.3 0.5,0.7 0.3,1.6 0.5,9 -0.3,8 -0.5,4.2 -0.5,0.7 -0.6,-1.3 -0.9,-3.5 -0.7,-7 0.5,-6.6z"/>
<path fill="#9a867d" d="M42.1,72.3l0.5,0.8 0.5,2.8 0.7,11.9 -0.7,12.5 -0.5,2.8 -0.5,0.8 -1,-0.5 -1.8,-2 -3.9,-5.5 -1.7,-4 -0.6,-3.5 0.6,-4.1 1.7,-4 3.9,-5.5 1.8,-2zM134.4,72.3l1.1,0.5 1.8,2 3.9,5.5 1.7,4 0.6,3.5 -0.6,4.1 -1.7,4 -3.9,5.5 -1.8,2 -1,0.5 -0.5,-0.8 -0.5,-2.8 -0.7,-11.9 0.6,-12.1 0.6,-3.2zM46.6,76.8l0.6,1 0.9,3.5 0.6,6.5 -0.6,7.1 -0.7,3 -0.7,1.5 -0.5,-0.7 -0.4,-2.8 -0.3,-7.5 0.3,-7.6 0.4,-3.3zM129.9,76.8l0.5,0.7 0.4,2.8 0.3,7.5 -0.3,7.6 -0.4,3.3 -0.5,0.7 -0.7,-1.5 -0.7,-3 -0.6,-6.5 0.6,-7.1 0.7,-3z"/>
<path fill="#9c867c" d="M41.5,72.8l0.6,-0.2 0.2,0.2 0.7,2.5 0.8,11.5 -0.6,12.6 -0.6,3.4 -0.5,0.8 -1,-0.5 -1.5,-1.7 -3.8,-5.5 -1.8,-4 -0.5,-3.5 0.4,-3.6 1.3,-3.5 2.9,-4.5zM134.3,72.8l0.7,-0.2 1.1,1.2 4.5,6 1.8,4 0.7,4 -0.5,4.1 -1.8,4 -3.8,5.5 -1.5,1.7 -1,0.5 -0.5,-0.8 -0.5,-2.9 -0.7,-11.5 0.6,-11.6 0.6,-3.4zM46.2,78.3l0.5,-0.7 0.5,0.9 0.6,2.8 0.6,6.5 -0.5,6.6 -0.7,3.3 -0.5,0.9 -0.5,-0.7 -0.2,-1.5 -0.4,-7.5 0.1,-6.6zM128.6,82.3l1.3,-4.7 0.5,0.7 0.6,9 -0.2,7.6 -0.4,3 -0.5,0.7 -0.5,-0.9 -0.7,-3.3 -0.5,-6z"/>
<path fill="#9e877a" d="M41.2,73.3l0.9,-0.4 0.7,1.4 0.5,4 0.4,8 -0.5,12.6 -0.6,3.6 -0.5,0.8 -0.5,0 -1.7,-1.9 -3.8,-5.5 -1.8,-4 -0.5,-3.5 0.4,-3.6 1.4,-3.5 2.4,-4zM133.3,77.8l1.2,-4.9 1,0.5 4.7,6.4 1.9,4 0.7,4 -0.4,3.6 -1.6,4 -3.7,5.5 -1.6,1.9 -1,0.5 -0.5,-0.8 -0.5,-3 -0.6,-11.1zM45.8,83.3l0.9,-4.9 0.9,2.9 0.6,6.5 -0.4,6.1 -1.1,3.9 -0.5,-0.8 -0.6,-7.1zM128.8,82.8l1.1,-4.4 0.5,0.8 0.6,7.6 -0.3,8.1 -0.3,2.1 -0.5,0.8 -1.1,-3.9 -0.4,-5.5z"/>
<path fill="#a08879" d="M41.6,73.3l0.5,-0.1 0.4,0.6 0.5,2 0.7,11 -0.5,12.1 -0.6,3.3 -0.5,0.8 -0.5,0 -1.4,-1.6 -3.8,-5.5 -1.7,-4 -0.6,-3.5 0.4,-3.6 1.4,-3.5 2.4,-4zM134.4,73.3l0.6,-0.1 1,1.1 4.2,6 1.7,4 0.6,3.5 -0.4,3.6 -1.6,4 -3.7,5.5 -1.3,1.6 -1,0.5 -0.5,-0.8 -0.5,-3.1 -0.6,-10.7 0.6,-11.3 0.5,-3.1zM46.6,79.3l1,3.5 0.4,5 -0.4,5.6 -0.9,3.5 -0.5,-0.8 -0.5,-7.7 0.4,-7.6zM129.9,79.3l0.5,0.8 0.5,7.7 -0.4,8.1 -0.6,1 -0.9,-3.5 -0.4,-5 0.4,-5.6z"/>
<path fill="#a28877" d="M41.4,73.8l0.7,-0.4 0.6,1.4 0.5,3.5 0.4,7.5 -0.4,12.6 -0.6,3.4 -0.5,1 -0.5,-0.1 -1.5,-1.8 -3.7,-5.5 -1.4,-3.5 -0.6,-3.5 0.3,-3.1 1.2,-3.5 2.3,-4zM133.4,77.8l1.1,-4.4 0.5,0.1 0.5,0.5 4.1,5.8 1.9,4 0.7,4 -0.4,3.6 -1.6,4 -3.7,5.5 -1.5,1.8 -0.5,0.1 -0.5,-1 -0.5,-3.1 -0.6,-10.3zM46.6,80.3l0.8,2.5 0.4,5 -0.4,5.1 -0.7,3.1 -0.5,-0.9 -0.4,-6.7 0.4,-7.3zM129.9,80.3l0.5,0.8 0.4,6.7 -0.4,7.3 -0.5,0.9 -0.7,-3.1 -0.4,-4.5 0.4,-5.1z"/>
<path fill="#a48976" d="M41.1,74.3l1,-0.6 0.5,1 0.5,3.1 0.5,9.5 -0.5,11 -0.5,3.2 -0.5,1 -0.5,-0.1 -1.3,-1.5 -3.6,-5.5 -1.4,-3.5 -0.6,-3.5 0.5,-3.6 1.3,-3.5 2.7,-4.5zM134.4,73.8l0.6,0 1.3,1.5 3.6,5.5 1.4,3.5 0.6,3.5 -0.5,3.6 -1.5,4 -3.6,5.5 -1.3,1.5 -0.5,0.1 -0.5,-1 -0.5,-3.2 -0.5,-9.9 0.5,-10.5 0.5,-3.2zM46.6,81.3l0.6,2 0.3,4.5 -0.2,4.6 -0.6,2.5 -0.5,-0.9 -0.3,-5.6 0.3,-6.2zM129.9,81.3l0.5,0.9 0.3,5.6 -0.3,6.2 -0.5,0.9 -0.6,-2.5 -0.2,-4 0.2,-4.6z"/>
<path fill="#a68a75" d="M41.5,74.3l0.6,-0.2 0.6,1.2 0.5,3.5 0.4,7.5 -0.5,11.5 -0.5,3.4 -0.5,0.9 -0.5,0 -1,-1.2 -3.6,-5.5 -1.4,-3.5 -0.6,-3.5 0.3,-3.1 1.2,-3.5 2.3,-4zM134,75l0.5,-0.9 0.5,0 0.6,0.7 3.7,5.5 1.7,4 0.6,3.5 -0.4,3.6 -1.4,3.5 -3.4,5.5 -1.4,1.7 -0.5,0 -0.5,-0.9 -0.5,-3.4 -0.5,-9.4 0.5,-10zM46.2,83.6l0.5,-1.1 0.5,2.4 0.1,2.9 -0.1,3.5 -0.5,2.4 -0.5,-1.1 -0.2,-3.7zM129.3,88.4l0.6,-5.9 0.5,1.1 0.2,3.7 -0.2,5.3 -0.5,1.1 -0.5,-2.4z"/>
<path fill="#a88a73" d="M41.3,74.8l0.8,-0.4 0.5,1 0.5,3.4 0.4,7 -0.4,11.6 -0.5,3.4 -0.5,1 -0.5,0 -1.1,-1.4 -3.2,-5 -1.4,-3.5 -0.6,-3.5 0.3,-3.1 1.2,-3.5 2,-3.5zM133.5,78.8l1,-4.4 1,0.5 3.5,5.4 1.7,4 0.6,3.5 -0.4,3.6 -1.4,3.5 -3.4,5.5 -1.1,1.4 -0.5,0 -0.5,-1 -0.5,-3.4 -0.5,-9zM46.2,85.6l0.5,-1.6 0.3,3.8 -0.3,4.4 -0.6,-2.8zM129.6,88.4l0.3,-4.4 0.5,1.6 0.1,1.7 -0.1,3.3 -0.5,1.6z"/>
<path fill="#ab8b72" d="M41.6,74.8l0.5,-0.1 0.6,1.6 0.8,10.5 -0.4,10.1 -0.5,3.6 -0.5,1 -0.5,-0.1 -1.2,-1.5 -3.1,-5 -1.3,-3.5 -0.4,-3 0.3,-3.1 1,-3 2.1,-4zM134.4,74.8l0.6,0 0.9,1 3.1,5 1.4,3.5 0.6,3.5 -0.4,3.6 -1.3,3.5 -3.1,5 -1.2,1.5 -0.5,0.1 -0.5,-1 -0.5,-3.6 -0.4,-8.5 0.4,-9.1 0.5,-3.6zM46.5,88.4l0.2,-1.9 0,3.2zM129.9,88.4l0,-1.9 0,3.2z"/>
<path fill="#ad8c71" d="M41.4,75.3l0.7,-0.3 0.5,1 0.9,10.3 -0.4,10.2 -0.5,3.7 -0.5,1 -0.5,-0.1 -1,-1.2 -3,-5 -1.3,-3.5 -0.4,-3 0.3,-3.1 1,-3 1.8,-3.5zM134,76l0.5,-1 0.5,0.1 0.5,0.5 3.2,5.2 1.5,3.5 0.5,3.5 -0.3,3.1 -1.2,3.5 -2.9,5 -1.3,1.7 -0.5,0.1 -0.5,-1 -0.5,-3.7 -0.4,-8.1 0.4,-8.7z"/>
<path fill="#af8c6f" d="M41.3,75.8l0.8,-0.5 0.5,1.1 0.8,8.9 -0.3,10.7 -0.5,3.8 -0.5,1.1 -0.5,-0.1 -0.7,-0.9 -3,-5 -1.3,-3.5 -0.5,-3 0.2,-2.6 0.9,-3 1.8,-3.5zM133.5,80.2l1,-4.9 1,0.6 2.7,4.4 1.7,4 0.6,3.5 -0.4,3.1 -1.2,3.5 -2.8,5 -1.1,1.4 -0.5,0.1 -0.5,-1.1 -0.5,-3.4 -0.4,-7.5z"/>
<path fill="#b18d6e" d="M41.6,75.8l0.5,-0.2 0.5,1.1 0.8,10.1 -0.3,8.7 -0.5,4 -0.5,1.1 -0.5,-0.1 -0.8,-1.1 -2.6,-4.5 -1.4,-3.5 -0.4,-3 0.3,-3.1 1,-3 1.8,-3.5zM134.4,75.8l0.6,-0.1 0.5,0.6 2.7,4.5 1.4,3.5 0.6,3.5 -0.3,3.1 -1.2,3.5 -2.9,5 -0.8,1.1 -0.5,0.1 -0.5,-1.1 -0.5,-3.1 -0.3,-8 0.3,-7.7 0.5,-4z"/>
<path fill="#b38e6c" d="M41.4,76.3l0.7,-0.3 0.5,1.1 0.8,8.7 -0.3,9.2 -0.5,4.1 -0.5,1.1 -0.5,0 -0.6,-0.8 -2.6,-4.5 -1.3,-3.5 -0.4,-3 0.2,-2.6 0.9,-3 1.7,-3.5zM134,77.1l0.5,-1.1 0.5,0 0.5,0.6 2.7,4.7 1.3,3.5 0.4,3 -0.3,3.1 -1.2,3.5 -2.5,4.5 -0.9,1.3 -0.5,0 -0.5,-1.1 -0.5,-3.2 -0.3,-7.5 0.3,-7.2z"/>
<path fill="#b58f6b" d="M42,76.3l0.6,1.2 0.3,1.8 0.5,8.5 -0.3,7.6 -0.5,3.3 -0.5,1.2 -0.5,-0.1 -0.7,-0.9 -2.5,-4.5 -1,-3 -0.5,-3 0.3,-3.1 1,-3 2.4,-4.5 1,-1.4zM134.4,76.3l0.6,0.1 0.7,0.9 2.5,4.5 1,3 0.5,3 -0.3,3.1 -1.2,3.5 -2.5,4.5 -0.7,0.9 -0.5,0.1 -0.5,-1.2 -0.4,-2.8 -0.4,-7.5 0.3,-7.6 0.5,-3.3z"/>
<path fill="#b78f6a" d="M41.6,76.8l0.5,-0.2 0.5,1.2 0.7,9 -0.2,8.1 -0.5,3.5 -0.5,1.2 -0.5,-0.1 -0.5,-0.6 -2.4,-4.5 -1.1,-3 -0.4,-3 0.2,-2.6 0.9,-3 1.6,-3.5zM134.4,76.8l0.6,-0.1 0.5,0.6 2.2,4 1.3,3.5 0.4,3 -0.3,3.1 -1,3 -2.3,4.5 -0.8,1.1 -0.5,0.1 -0.5,-1.2 -0.4,-2.5 -0.4,-7.5 0.3,-7.1 0.5,-3.5z"/>
<path fill="#b99068" d="M41.4,77.3l0.7,-0.3 0.5,1.2 0.7,7.6 -0.2,8.1 -0.5,4.1 -0.5,1.2 -0.5,-0.1 -0.5,-0.6 -2.2,-4.1 -1.1,-3 -0.4,-3 0.2,-2.6 0.7,-2.5 1.6,-3.5zM133.5,81.8l1,-4.8 0.5,0.1 0.5,0.6 1.9,3.6 1.4,3.5 0.4,3 -0.3,3.1 -1,3 -2.4,4.5 -0.5,0.7 -0.5,0.1 -0.5,-1.2 -0.3,-2.1 -0.4,-7.5z"/>
<path fill="#bb9167" d="M42.1,77.3l0.8,3 0.4,7.5 -0.4,7.6 -0.3,2.2 -0.5,1.3 -0.5,-0.1 -0.5,-0.6 -2.2,-4.3 -0.9,-3 -0.4,-2.5 0.4,-3.1 0.9,-3 2.2,-4.3 0.5,-0.6zM134.5,77.3l0.5,0.1 0.5,0.6 2.2,4.3 0.9,3 0.4,2.5 -0.4,3.1 -0.9,3 -2.2,4.3 -0.5,0.6 -0.5,0.1 -0.8,-3 -0.4,-7.5 0.4,-7.6 0.3,-2.2z"/>
<path fill="#bd9165" d="M41.6,77.8l0.5,-0.1 0.5,1.3 0.7,7.8 -0.3,7.6 -0.4,2.8 -0.5,1.3 -0.5,-0.1 -0.5,-0.6 -1.9,-3.9 -1,-3 -0.3,-2.5 0.2,-2.6 0.7,-2.5 1.6,-3.5zM134.4,77.8l0.6,0 0.5,0.6 1.7,3.4 1.1,3 0.4,3 -0.2,2.6 -0.9,3 -2.1,4.4 -0.5,0.6 -0.5,0.1 -0.7,-2.6 -0.5,-7.5 0.4,-7.1z"/>
<path fill="#bf9264" d="M41.5,78.3l0.6,-0.3 0.5,1.4 0.6,6.9 -0.2,7.6 -0.4,2.9 -0.5,1.4 -0.5,-0.1 -0.5,-0.7 -1.7,-3.5 -1,-3 -0.3,-2.5 0.7,-4.6zM133.7,81.8l0.8,-3.8 0.6,0.3 1.9,3.5 1.1,3 0.4,3 -0.2,2.6 -0.9,3 -1.9,4 -0.5,0.7 -0.5,0.1 -0.7,-2.3 -0.4,-7.5z"/>
<path fill="#c19363" d="M41.4,78.8l0.7,-0.4 0.5,1.4 0.6,6 -0.2,7.6 -0.4,3 -0.5,1.4 -0.5,-0.1 -0.5,-0.7 -1.5,-3.1 -1,-3 -0.3,-2.5 0.8,-4.6zM133.7,81.8l0.8,-3.4 0.5,0.1 1.8,3.3 1,3 0.5,3 -0.2,2.6 -0.9,3 -1.7,3.6 -0.5,0.7 -0.5,0.1 -0.6,-1.9 -0.5,-7.5z"/>
<path fill="#c39361" d="M41,79.8l1.1,-1.1 0.5,1.5 0.6,7.1 -0.4,7.6 -0.7,2.6 -0.5,-0.2 -0.5,-0.7 -1.3,-2.7 -0.9,-3 -0.4,-2.5 0.3,-2.6 0.7,-2.5zM134.4,78.8l0.6,0.1 0.5,0.7 1.3,2.7 0.9,3 0.4,2.5 -0.3,2.6 -0.9,3 -1.4,3.2 -0.5,0.7 -0.5,0.2 -0.6,-1.6 -0.5,-7.5 0.4,-7.1z"/>
<path fill="#c59460" d="M41.6,79.3l0.5,-0.2 0.5,1.6 0.5,6.1 -0.3,7.6 -0.7,2.7 -0.5,-0.1 -0.5,-0.8 -1.2,-2.8 -0.8,-2.5 -0.4,-2.5 0.6,-4.1zM134.4,79.3l0.6,-0.1 1.5,3.1 1,3 0.4,2.5 -0.3,2.6 -0.9,3 -1.2,2.8 -0.5,0.8 -0.5,0.1 -0.5,-1.6 -0.5,-7.1 0.4,-7.1z"/>
<path fill="#c7955f" d="M41.5,79.8l0.6,-0.3 0.5,1.6 0.5,5.7 -0.3,7.1 -0.7,2.8 -0.5,-0.1 -0.4,-0.7 -1.1,-2.5 -0.8,-2.5 -0.4,-2.5 0.7,-4.1zM133.9,81.8l0.6,-2.3 0.5,0.1 1.3,2.7 1,3 0.4,2.5 -0.3,2.6 -0.7,2.5 -1.2,2.9 -0.5,0.8 -0.5,0.1 -0.5,-1.6 -0.5,-6.7z"/>
<path fill="#c9955d" d="M41.5,80.3l0.6,-0.4 0.5,1.7 0.4,4.7 -0.2,7.1 -0.7,2.9 -0.6,-0.4 -1.2,-2.5 -0.8,-2.5 -0.3,-2.5 0.6,-4.1zM133.9,82.3l0.6,-2.4 0.5,0.1 1.1,2.3 1,3 0.3,2.5 -0.2,2.6 -0.7,2.5 -1.1,2.5 -0.4,0.8 -0.5,0.1 -0.5,-1.7 -0.5,-6.2z"/>
<path fill="#cb965c" d="M42.1,80.3l0.5,1.7 0.4,5.8 -0.4,6.4 -0.5,1.7 -0.5,-0.1 -1.1,-2.4 -0.8,-2.5 -0.3,-2.5 0.2,-2.6 0.7,-2.5 1.1,-2.5zM134.5,80.3l0.5,0.1 1.1,2.4 0.8,2.5 0.3,2.5 -0.2,2.6 -0.7,2.5 -1.3,2.9 -0.5,0.1 -0.5,-1.7 -0.4,-5.8 0.4,-6.4z"/>
<path fill="#ce975a" d="M41.8,80.8l0.3,-0.1 0.5,1.8 0.4,4.8 -0.4,6.4 -0.5,1.8 -0.5,-0.2 -1.1,-2.4 -1,-4.5 0.7,-4.1zM134.4,80.8l0.6,0.1 1,2.1 0.7,2.3 0.4,2.5 -0.8,4.6 -1.3,2.9 -0.5,0.2 -0.5,-1.8 -0.4,-5.3 0.4,-5.9z"/>
<path fill="#d09759" d="M41.6,81.3l0.5,-0.2 0.5,1.9 0.3,3.8 -0.3,6.4 -0.5,1.9 -0.5,-0.2 -0.9,-2 -1,-4.5 0.5,-3.6zM134.4,81.3l0.6,0 0.7,1.5 0.8,2.5 0.4,2.5 -0.2,2.1 -0.6,2.5 -1.1,2.5 -0.5,0.2 -0.5,-1.9 -0.3,-4.8 0.3,-5.4z"/>
<path fill="#d29858" d="M41.6,81.8l0.5,-0.2 0.4,1.2 0.4,4 -0.3,5.8 -0.5,2 -0.5,-0.1 -0.7,-1.6 -1,-4.5 0.4,-3.1zM134,83.6l0.5,-2 0.5,0.1 0.7,1.6 1,4.5 -0.2,2.1 -0.6,2.5 -0.9,2.1 -0.5,0.1 -0.5,-2 -0.3,-4.2z"/>
<path fill="#d49956" d="M41.6,82.3l0.5,-0.3 0.7,4.3 -0.2,5.8 -0.5,2.1 -0.5,-0.2 -0.7,-1.6 -0.8,-4 0.4,-3.1zM134,84.1l0.5,-2.1 0.5,0.2 0.5,1.1 1,4.5 -0.7,4.1 -0.8,2.1 -0.5,0.2 -0.5,-2.1 -0.2,-3.7z"/>
<path fill="#d69a55" d="M41.6,82.8l0.5,-0.3 0.6,3.8 -0.1,5.2 -0.5,2.2 -0.5,-0.2 -0.5,-1.1 -0.8,-4 0.2,-2.6zM134,84.7l0.5,-2.2 0.5,0.2 0.5,1.1 0.8,4 -0.7,4.1 -0.6,1.6 -0.5,0.2 -0.5,-2.2 -0.2,-3.1z"/>
<path fill="#d89a54" d="M41.6,83.3l0.5,-0.3 0.6,2.8 -0.1,5 -0.5,2.4 -0.5,-0.2 -0.4,-1.1 -0.7,-3 0.1,-2.6zM134,85.4l0.5,-2.4 0.5,0.2 0.4,1.1 0.7,3.5 -0.6,4 -0.5,1.2 -0.5,0.2 -0.5,-2.4 -0.2,-2.4z"/>
<path fill="#da9b52" d="M41.6,83.8l0.5,-0.3 0.5,2.6 0,4 -0.5,2.6 -0.5,-0.2 -0.2,-0.6 -0.7,-3 0.1,-2.6zM133.9,88.4l0.6,-4.9 0.5,0.2 0.2,0.6 0.7,3.5 -0.4,3.4 -0.5,1.3 -0.5,0.2z"/>
<path fill="#dc9c51" d="M41.6,84.3l0.5,-0.2 0.5,2.9 0,2.4 -0.5,2.7 -0.5,-0.2 -0.7,-3 0.1,-2.6zM133.9,88.4l0.6,-4.3 0.5,0.2 0.8,3.5 -0.5,3.1 -0.3,1 -0.5,0.2z"/>
<path fill="#de9c4f" d="M41.7,84.8l0.4,-0.2 0.5,2.7 -0.5,4.3 -0.5,-0.3 -0.6,-2.4 0.1,-2.1zM134,88.4l0.5,-3.8 0.5,0.3 0.6,2.9 -0.5,3.1 -0.1,0.4 -0.5,0.3z"/>
<path fill="#e09d4e" d="M41.4,86.3l0.7,-1.1 0.4,2.6 -0.4,3.2 -0.5,-0.3 -0.4,-2.3zM134.4,85.3l0.6,0.2 0.4,2.3 -0.3,2.6 -0.6,0.6 -0.4,-2.6z"/>
<path fill="#e29e4d" d="M41.6,86.3l0.5,-0.4 0,4.4 -0.5,-0.4 -0.2,-1zM134.5,90.3l0,-4.4 0.5,0.4 0.2,1.5 -0.2,2.1z"/>
<path fill="#e49e4b" d="M42.1,86.8l0.1,1 -0.1,1.6 -0.5,-1 0,-0.9zM134.4,86.8l0.6,1 0,0.9 -0.5,0.7z"/>
</g></g>
<g filter="url(#soft)">
<rect x="329.95" y="316.80" width="3.30" height="29.30" fill="#f0c060"/>
<rect x="330.65" y="317.40" width="1.90" height="28.10" fill="#fff4cf"/>
<rect x="419.55" y="316.80" width="3.30" height="29.30" fill="#f0c060"/>
<rect x="420.25" y="317.40" width="1.90" height="28.10" fill="#fff4cf"/>
</g>
</g>
<rect x="284.60" y="239.60" width="184.00" height="183.80" fill="none" stroke="#3c3c3c" stroke-width="1.25"/>
<line x1="284.60" x2="287.40" y1="250.80" y2="250.80" stroke="#111" stroke-width="1.2"/>
<text x="281.90" y="257.80" font-family='"Liberation Sans", sans-serif' font-size="20.0" font-weight="normal" font-style="normal" text-anchor="end" stroke="#000" stroke-width="0.25" letter-spacing="-0.45">0.1</text>
<line x1="284.60" x2="287.40" y1="331.50" y2="331.50" stroke="#111" stroke-width="1.2"/>
<text x="281.90" y="338.50" font-family='"Liberation Sans", sans-serif' font-size="20.0" font-weight="normal" font-style="normal" text-anchor="end" stroke="#000" stroke-width="0.25" letter-spacing="-0.45">0</text>
<line x1="284.60" x2="287.40" y1="412.20" y2="412.20" stroke="#111" stroke-width="1.2"/>
<text x="281.90" y="419.20" font-family='"Liberation Sans", sans-serif' font-size="20.0" font-weight="normal" font-style="normal" text-anchor="end" stroke="#000" stroke-width="0.25" letter-spacing="-0.45">−0.1</text>
<line x1="295.95" x2="295.95" y1="423.40" y2="420.60" stroke="#111" stroke-width="1.2"/>
<text x="295.55" y="443.70" font-family='"Liberation Sans", sans-serif' font-size="20.0" font-weight="normal" font-style="normal" text-anchor="middle" stroke="#000" stroke-width="0.25" letter-spacing="-0.45">−4.5</text>
<line x1="376.40" x2="376.40" y1="423.40" y2="420.60" stroke="#111" stroke-width="1.2"/>
<text x="376.00" y="443.70" font-family='"Liberation Sans", sans-serif' font-size="20.0" font-weight="normal" font-style="normal" text-anchor="middle" stroke="#000" stroke-width="0.25" letter-spacing="-0.45">0</text>
<line x1="456.85" x2="456.85" y1="423.40" y2="420.60" stroke="#111" stroke-width="1.2"/>
<text x="456.45" y="443.70" font-family='"Liberation Sans", sans-serif' font-size="20.0" font-weight="normal" font-style="normal" text-anchor="middle" stroke="#000" stroke-width="0.25" letter-spacing="-0.45">4.5</text>
<text x="292.10" y="266.80" font-family='"Liberation Sans", sans-serif' font-size="22" font-weight="bold" font-style="normal" text-anchor="start" letter-spacing="-0.71">(b2)</text>
<text x="375.60" y="461.60" font-family='"Liberation Serif", serif' font-size="19" text-anchor="middle" textLength="42.5" lengthAdjust="spacing"><tspan font-style="normal">Re</tspan><tspan font-style="italic">E</tspan><tspan font-size="13.3" dy="2.9">0</tspan></text>
<g id="hm-b3">
<rect x="519.55" y="243.60" width="176.60" height="176.20" fill="#26538c"/>
<clipPath id="cp-b3"><rect x="0" y="0" width="176.60" height="176.20"/></clipPath>
<g transform="translate(519.55,243.60)" clip-path="url(#cp-b3)"><g fill-rule="evenodd" filter="url(#soft)">
<path fill="#28548e" d="M64.9,35.1l1.8,-0.3 1.5,0.1 2.5,1.3 2.3,3 2,5 1.5,6.5 1.1,9 1.1,20.1 0,16.6 -0.5,13 -1.1,11.6 -1.1,7 -1.5,5.5 -2.1,4.5 -2.2,2.4 -1.5,0.7 -1.5,0.3 -2,-0.2 -3,-1.3 -5.1,-4.4 -8.4,-10.5 -5.6,-6 -1.5,-4.1 -1,-0.5 -8,-1.7 -5.5,-1.9 -6,-3.2 -4.5,-3.5 -3.4,-3.7 -1.9,-3 -1.6,-4 -0.6,-4 0.1,-4.6 1.6,-5 2.4,-4 2.9,-3.2 5,-4 6,-3.2 5.5,-1.9 8,-1.7 1,-0.5 1.5,-4.1 6.1,-6.6 7.4,-9.4 4.6,-4.2zM107.7,35.1l2.7,-0.3 2.5,0.8 3,1.8 3,2.7 2.8,3.1 6.2,8 5.2,5.5 0.7,1 0.7,2.7 0.5,0.9 1,0.5 8,1.7 5.5,1.9 6,3.2 4.5,3.5 3.4,3.7 1.9,3 1.6,4 0.6,4.5 -0.1,4.1 -1.6,5 -2.4,4 -2.9,3.2 -5,4 -6,3.2 -5.5,1.9 -8,1.7 -1,0.5 -1.5,4.1 -5.6,6 -8.4,10.5 -5.1,4.4 -2,1 -2.5,0.5 -1.5,-0.1 -1.5,-0.6 -2.4,-2.1 -1.9,-3.6 -1.4,-4.5 -1.1,-5.5 -1.1,-8.5 -1.1,-20.1 0,-16.6 0.5,-12.5 1.7,-16.1 1.5,-7 1.5,-4 2.3,-3.5z"/>
<path fill="#29558f" d="M65.1,36.1l3,0 2.4,1.5 2.2,3.6 1.6,4.3 1.2,5.7 1.1,9 0.7,8.1 0.5,14.5 -0.1,13.6 -0.5,12 -0.7,8.6 -1.2,9.2 -1.5,6.2 -2.1,4.5 -2.5,2.7 -2.5,0.7 -2,-0.3 -2.5,-1.2 -5,-4.2 -8,-9.9 -4.5,-4.7 -1.1,-2 -1,-3 -0.5,-0.7 -1,-0.5 -8,-1.7 -5.5,-1.9 -6,-3.1 -4.5,-3.4 -3.4,-3.8 -1.9,-3 -1.5,-4 -0.6,-4 0.2,-4.1 1.4,-4.5 2,-3.5 3.3,-3.8 5,-3.9 6,-3.1 5.5,-1.9 8,-1.7 1,-0.5 0.5,-0.7 1,-3 1.1,-2 4.5,-4.7 7.5,-9.4 4.5,-4.1zM108.5,36.1l2.4,-0.1 2.5,0.8 2.5,1.6 3,2.7 8.5,10.4 4.5,4.7 1.1,2 1,3 0.5,0.7 1,0.5 8,1.7 5.5,1.9 6,3.1 4.5,3.4 3.4,3.8 1.9,3 1.5,4 0.6,4.5 -0.2,3.6 -1.4,4.5 -2.4,4 -3.1,3.5 -4.8,3.7 -6,3.1 -5.5,1.9 -8,1.7 -1,0.5 -0.5,0.7 -1,3 -1.1,2 -4.5,4.7 -8,9.9 -5,4.2 -2.5,1.2 -2,0.3 -2.5,-0.7 -2.1,-2.1 -1.9,-3.7 -1.6,-5.1 -1.9,-13.2 -1.1,-22.1 0.1,-13.6 0.5,-12 0.6,-8.1 1.2,-9 1.5,-6.5 1.6,-4 2.1,-2.8z"/>
<path fill="#2b5691" d="M63.5,37.6l2.7,-0.4 2.5,1 1.5,1.4 1,1.6 1.6,3.5 1.5,5.7 1.3,8.8 0.7,8.6 0.6,12 0,13.1 -0.5,14.5 -0.8,9.6 -1.3,8.5 -1.6,6 -2,4.3 -1,1.3 -1.5,1.3 -2.5,0.6 -2,-0.4 -2,-1 -5,-4.2 -7.5,-9.2 -4,-4.2 -0.9,-1.5 -1.1,-3.5 -0.7,-1 -1.4,-0.7 -8,-1.6 -5.5,-1.9 -6,-3.2 -4.2,-3.2 -3.2,-3.5 -1.9,-3 -1.6,-4 -0.6,-4 0.3,-4.1 1.4,-4.5 2,-3.5 3.1,-3.5 4.7,-3.7 6,-3.2 5.5,-1.9 8,-1.6 1.4,-0.7 0.7,-1 1.3,-4 1.1,-1.5 3.6,-3.7 8.5,-10.2 3,-2.6zM108.7,37.6l2.2,-0.4 2.5,0.6 2.5,1.4 3,2.6 8.5,10.2 4,4.2 0.9,1.5 1.1,3.5 1.1,1.3 8.5,1.9 5,1.6 5.5,2.7 5,3.5 3.5,3.6 2.3,3.5 1.6,4 0.6,4 -0.3,4.1 -1.4,4.5 -2,3.5 -3.3,3.7 -4.5,3.5 -6,3.2 -5.5,1.9 -8,1.6 -1.4,0.7 -0.7,1 -1.1,3.5 -0.9,1.5 -4,4.2 -7.5,9.2 -5,4.2 -2,1 -2,0.4 -2.5,-0.6 -2,-1.9 -2,-3.5 -1.4,-4.5 -1.2,-5.5 -1,-7.8 -1.1,-18.8 0,-13.1 0.5,-14 1.5,-15.1 1.1,-6.1 1.6,-4.9 2,-3.6z"/>
<path fill="#2d5792" d="M63,39.2l2.7,0 2.5,1.6 2.1,2.9 1.9,5 1.4,6.5 1.1,8.1 0.7,9 0.4,11.5 -0.1,12.6 -0.5,10.5 -0.9,9.9 -1.4,7.7 -1.7,5.9 -1.8,3.6 -2.2,2.3 -1.5,0.7 -1.5,0.2 -1.5,-0.2 -2,-0.9 -2.5,-1.9 -2.5,-2.5 -6.5,-8 -4,-4.2 -1.6,-4.7 -1,-1.3 -1.5,-0.5 -7,-1.4 -6,-2 -6,-3.1 -4.5,-3.4 -3.1,-3.4 -2,-3.3 -1.5,-4 -0.5,-4 0.4,-4.1 1.3,-4 2.1,-3.5 3.1,-3.5 4.7,-3.6 6,-3.1 6,-2 7,-1.4 1.5,-0.5 1,-1.3 1.6,-4.7 4,-4.2 6,-7.4 4,-3.9 2,-1.4zM111.1,39.2l1.8,-0.2 2,0.6 2.5,1.6 2.5,2.2 7.5,9.1 3.6,3.7 1.1,2 0.9,3.2 1,1.3 1.5,0.5 7,1.4 6,2 6,3.1 4.2,3.1 3.2,3.5 2.2,3.5 1.5,4 0.5,4 -0.4,4.1 -1.3,4 -2.1,3.5 -3.1,3.5 -4.7,3.6 -6,3.1 -6,2 -7,1.4 -1.5,0.5 -1,1.3 -1.6,4.7 -4,4.2 -6.5,8 -2.5,2.5 -2.5,1.9 -2,0.9 -1.5,0.2 -2.5,-0.6 -2.3,-2.1 -1.8,-3 -1.5,-4.5 -1.3,-6 -1.1,-8.1 -1.1,-20 0,-10.1 0.6,-13 0.8,-9.6 1,-6.5 1.5,-6 1.7,-4.1 2.1,-2.9 1.3,-1z"/>
<path fill="#2f5894" d="M61.7,41.2l1.5,-0.1 1.5,0.5 2.5,1.9 2,3.2 1.8,5 1.3,6 1.2,9.6 0.6,8.5 0.3,11.5 -0.1,9.6 -0.6,10 -1,9.1 -1.5,7.4 -1.4,4.6 -2.1,4 -2.5,2.4 -2.5,0.7 -1.5,-0.2 -2,-0.8 -2,-1.5 -2.5,-2.6 -5.5,-6.7 -3.7,-3.8 -0.7,-1.5 -0.8,-3.5 -0.8,-1 -1.6,-0.7 -8,-1.7 -5.5,-1.9 -5.5,-2.8 -4.7,-3.5 -3.1,-3.5 -2.1,-3.5 -1.4,-4 -0.4,-3.5 0.4,-4.1 1.2,-3.7 2.3,-3.8 3.1,-3.5 4.7,-3.5 5.5,-2.8 5.5,-1.9 8,-1.7 1.6,-0.7 0.8,-1 1,-4 1,-1.5 10.7,-12.1 2.5,-2zM113.3,41.2l2.1,0.1 2,0.8 4,3.5 9.7,11.1 0.7,1.5 0.8,3.5 0.8,1 1.6,0.7 8,1.7 5,1.7 5.2,2.5 4.9,3.5 3.4,3.5 2.2,3.5 1.5,4 0.5,4 -0.4,4.1 -1.2,3.7 -2.3,3.8 -3.1,3.5 -4.7,3.5 -5.5,2.8 -5.5,1.9 -8,1.7 -1.6,0.7 -0.8,1 -0.8,3.5 -0.7,1.5 -3.7,3.8 -5.5,6.7 -2.5,2.6 -2,1.5 -2,0.8 -1.5,0.2 -2.5,-0.7 -2.5,-2.4 -2.1,-4 -1.4,-4.5 -1.5,-7.5 -0.8,-7.6 -0.6,-8 -0.3,-12 0.7,-19.1 1,-8.6 1.3,-7.5 1.4,-4.5 1.9,-4 2.3,-2.5z"/>
<path fill="#305a95" d="M58.8,43.7l2.9,-0.3 2.5,1.1 2.1,2.2 2,4 1.5,5 1.2,6 1.1,8.6 0.6,9.5 0.2,9.1 -0.4,11.5 -0.9,9.5 -1.4,9.1 -1.7,6 -1.9,4 -2.4,2.7 -1.5,0.8 -1.5,0.4 -2,-0.2 -1.5,-0.7 -4,-3.6 -8,-9.3 -0.7,-1.6 -0.9,-3.7 -0.5,-0.6 -9.5,-2.3 -4.6,-1.5 -5.4,-2.5 -5,-3.5 -3,-3 -2.6,-3.7 -1.5,-3.8 -0.7,-4 0.3,-4.1 1.4,-4.3 2.1,-3.4 2.8,-3.3 4.5,-3.5 5.8,-3 5.9,-2 9.5,-2.3 0.5,-0.6 1,-4.2 0.8,-1.5 8.8,-10 2,-1.8zM113.9,43.7l2,-0.4 2,0.4 2,1.2 2,1.8 9,10.4 0.7,1.6 0.8,3.7 0.6,0.6 9.5,2.3 4.6,1.5 5.4,2.5 5,3.5 3,3 2.7,4 1.6,4 0.5,4 -0.3,3.6 -1.4,4.3 -2.3,3.7 -3.2,3.5 -4.8,3.5 -4.9,2.5 -5.9,2 -9.5,2.3 -0.6,0.8 -1,4.1 -1,1.7 -9.5,10.7 -2.5,1.8 -2.5,0.6 -1.5,-0.2 -1.5,-0.7 -2.2,-2 -2,-3.5 -1.5,-4.5 -1.5,-6.5 -0.9,-6.6 -0.7,-8.5 -0.4,-10.5 0.7,-17.6 0.9,-8.5 1.1,-6.6 1.5,-5.5 1.8,-4 1.9,-2.5z"/>
<path fill="#325b97" d="M57.8,45.7l2.4,0 2.8,1.5 2.2,2.8 1.7,3.7 1.7,6 1.2,6.6 0.9,8.5 0.4,8.5 0,11.1 -0.5,8 -1,9 -1.4,6.7 -1.7,5.4 -2.2,4 -2.6,2.4 -2.5,0.7 -2.5,-0.4 -2,-1.4 -8.5,-9.5 -1,-1.8 -1.1,-4.6 -0.5,-0.4 -8.2,-1.6 -6.2,-2 -5.2,-2.5 -4.8,-3.5 -3.1,-3.3 -2.4,-3.7 -1.5,-4 -0.4,-3.5 0.3,-3.6 1.4,-4.2 2.1,-3.4 3,-3.4 4.6,-3.5 6,-3 6.2,-2 8.2,-1.6 0.5,-0.4 1.1,-4.6 1,-1.8 8,-9 2,-1.6zM116.4,45.7l2,-0.1 1.5,0.4 2,1.4 2,2 6.8,7.8 0.7,1.5 1,4.6 0.6,0.4 8.2,1.6 6.2,2 5.2,2.5 4.8,3.5 3.1,3.3 2.4,3.7 1.5,4 0.4,3.5 -0.3,3.6 -1.4,4.2 -2.1,3.4 -3,3.4 -4.6,3.5 -6,3 -6.2,2 -8.2,1.6 -0.6,0.4 -1,4.6 -1,1.8 -8.5,9.5 -2,1.4 -2,0.4 -2.5,-0.4 -2.3,-1.7 -2.1,-3 -1.7,-4 -1.4,-5.5 -1.2,-6.6 -0.9,-9 -0.3,-7.5 0,-10.6 0.4,-7 0.8,-8.5 1.4,-7.6 1.6,-5.5 1.7,-3.7 2.2,-2.8z"/>
<path fill="#345c98" d="M54.9,48.2l1.3,-0.4 1.5,-0.1 1.5,0.4 1.5,0.9 2.5,2.7 1.8,3.5 1.7,5.5 1.2,6.1 1,8 0.5,8.5 0,9.6 -0.5,8.5 -1.1,8.5 -1.3,6.6 -1.8,5.1 -2.3,3.9 -2.2,2.1 -1.5,0.7 -1.5,0.2 -2,-0.3 -2,-1.5 -7,-8 -0.8,-1.7 -1.3,-5.1 -1.5,0.2 -5.5,-1.1 -6.8,-2.1 -6.2,-3 -4.7,-3.5 -2.8,-3 -2.3,-3.5 -1.3,-3.5 -0.5,-4 0.3,-3.6 1.2,-3.9 2.1,-3.4 2.7,-3.2 5.3,-4 6.2,-3 6.8,-2.1 5.5,-1.1 1.5,0.2 1.3,-5.1 0.8,-1.7 6,-7zM117.2,48.2l1.7,-0.5 2,0.2 1.5,0.7 2,1.9 6.2,7.2 1.8,6.6 1.6,-0.2 3.5,0.7 7.5,2 5.7,2.5 5.4,3.5 3.4,3.4 2.5,3.6 1.6,3.9 0.5,3.6 -0.3,4.1 -1.2,3.9 -2.2,3.6 -3.2,3.5 -4.7,3.5 -6.2,3 -6.8,2.1 -5.5,1.1 -1.6,-0.2 -1.2,5.1 -0.8,1.7 -7,8 -2,1.5 -1.5,0.3 -2.5,-0.4 -2.4,-1.6 -2.1,-2.9 -1.6,-3.6 -1.5,-5 -1.4,-7.1 -0.8,-7 -0.4,-7.5 -0.1,-8.6 0.5,-9 0.8,-7 1.2,-7.1 1.5,-5 1.7,-4 2.1,-2.9z"/>
<path fill="#365d9a" d="M53.4,50.2l2.3,-0.5 3,1.2 2.5,2.5 2.1,3.8 1.7,5 1.4,7.1 0.9,7 0.5,9 -0.1,8.6 -0.6,7.5 -0.9,7 -1.7,7.1 -1.7,4.5 -2.1,3.5 -2.5,2.2 -3,0.8 -1.5,-0.3 -1.5,-1.1 -6,-7 -2.1,-7.2 -1,0.8 -1,0 -5.8,-1.3 -4.7,-1.5 -6.4,-3 -5.1,-3.7 -3,-3.3 -2,-3.2 -1.4,-3.8 -0.5,-3.5 0.3,-3.6 1.4,-4 2.1,-3.5 2.8,-3 5.4,-4 6.4,-3 4.7,-1.5 5.8,-1.3 1,0 1,0.8 2.1,-7.2 5,-6zM119.1,50.2l1.8,-0.5 1.5,0.1 1.5,0.8 1.5,1.5 5.1,6.1 1.9,7.1 1.1,-0.8 1,0 9.1,2.3 6.9,3 5.2,3.5 3.3,3.3 2.5,3.7 1.3,3.5 0.6,4 -0.3,3.6 -1.4,4 -2.1,3.5 -2.8,3 -5.4,4 -6.4,3 -4.7,1.5 -5.8,1.3 -1,0 -1.1,-0.8 -2,7.2 -6,7 -1.5,1.1 -1.5,0.3 -2.5,-0.6 -2.5,-1.9 -2,-2.8 -1.7,-3.7 -1.5,-5.6 -1.2,-6 -0.8,-7.5 -0.4,-7 0.1,-8.6 0.5,-7 0.9,-7 1.2,-6.1 1.6,-5 1.8,-3.5 2,-2.5z"/>
<path fill="#375e9c" d="M52.7,51.7l1,-0.1 1.5,0.3 2.5,1.4 2.4,2.9 1.8,3.5 1.6,5.1 1.3,6 0.9,7.5 0.4,7.5 -0.1,8.1 -0.6,7.5 -1.2,7 -1.4,5.6 -1.8,4.5 -2.3,3.4 -2.5,2 -2.5,0.7 -1,-0.1 -1.5,-1.1 -5,-5.9 -0.5,-1.4 -1.6,-6.5 -1,1.6 -1,0.2 -7.6,-2 -4,-1.5 -4.1,-2 -5.6,-4 -2.8,-3 -2.2,-3.5 -1.3,-3.5 -0.4,-3.5 0.3,-3.6 1.2,-3.5 2,-3.5 2.7,-3 3,-2.5 3.1,-2 4.1,-2 4,-1.5 7.6,-2 1,0.2 1,1.6 2.1,-7.7 4.5,-5.6zM122,51.7l1.4,-0.1 1.5,0.7 5.1,5.9 0.9,1.9 1.5,6.5 1.1,-1.6 1,-0.2 7.6,2 4,1.5 4.1,2 5.6,4 2.8,3 2.2,3.5 1.3,3.5 0.4,3.5 -0.4,4.1 -1.3,3.5 -2.2,3.5 -2.8,3 -5.6,4 -4.1,2 -4,1.5 -7.6,2 -1,-0.2 -1.1,-1.6 -1.5,6.5 -0.5,1.4 -5,5.9 -1.5,1.1 -1,0.1 -2.5,-0.7 -2.4,-1.9 -2.1,-3 -1.8,-4 -1.4,-5.1 -1.1,-5.5 -0.8,-7 -0.3,-7 0.1,-8.1 0.6,-7 0.8,-5.5 1.5,-6.5 1.6,-4.6 2.1,-3.5 2.2,-2.3z"/>
<path fill="#395f9d" d="M51.1,53.7l1.1,-0.4 1,0.2 3,1.7 2.1,2.5 2.1,4 1.8,5.6 1,5 0.9,6.5 0.4,7 -0.1,7.1 -0.5,6.5 -1,6.5 -1.7,6.5 -2,4.6 -2,3 -2.3,2 -2.7,0.9 -1,-0.4 -1,-0.9 -4,-5.1 -2.1,-8.2 -1,2.3 -0.5,0.4 -1,-0.1 -9.5,-3 -4.3,-2 -3.3,-2 -3.9,-3.3 -3,-3.7 -1.8,-4 -0.8,-4.5 0.6,-4.6 1.7,-4 3.1,-4 4.1,-3.5 3.3,-2 4.3,-2 9.5,-3 1,-0.1 0.5,0.4 1,2.3 2.1,-8.2 3,-4zM122.8,53.7l1.6,-0.4 1,0.4 4.5,5.1 1,2.3 1,5.6 0.5,1.2 0.9,-2.1 0.7,-0.6 4.8,1.1 4.5,1.5 4.5,2 3.5,2 3.3,2.5 2.9,3 2.3,3.5 1.3,3.5 0.5,3.5 -0.4,3.6 -1.2,3.5 -2.1,3.5 -2.7,3 -3.2,2.5 -4.2,2.5 -4.5,2 -4.5,1.5 -4.8,1.1 -0.7,-0.6 -0.9,-2.1 -2,8.2 -4,5.1 -1,0.9 -1,0.4 -2.5,-0.8 -2,-1.6 -2,-2.5 -1.9,-4 -1.6,-5.1 -1.1,-5.5 -0.8,-6 -0.4,-6.5 0.1,-7.1 0.5,-6.5 0.9,-6.5 1.2,-5 1.4,-4.1 2.1,-4 2.1,-2.5z"/>
<path fill="#3b609f" d="M50.6,55.2l1.1,-0.1 1,0.4 2.5,1.9 2,2.5 1.9,3.9 1.6,5 1.1,5 0.8,6 0.3,7 -0.1,6.6 -0.6,6 -1.1,6.5 -1.5,5 -1.7,4.1 -1.9,3 -2.3,2.1 -2.5,1 -1,-0.4 -1,-1 -3,-4 -0.7,-2.2 -0.8,-5.5 -0.6,-1.2 -1,3.1 -0.5,0.6 -1,0 -9.1,-3.1 -6.6,-3.5 -4.3,-3.5 -2.8,-3.5 -2,-4 -0.7,-4.5 0.6,-4.6 1.9,-4.2 3,-3.8 4.3,-3.5 6.6,-3.5 9.1,-3.1 1,0 0.5,0.6 1,3.1 0.6,-1.2 0.8,-5.5 0.7,-2.2 2.5,-3.5zM124.5,55.2l0.9,-0.1 1,0.4 3.9,4.7 0.8,2.5 0.8,5.5 0.5,1.2 1.1,-3.1 0.5,-0.6 1.3,0.1 6.2,2 4.8,2 4.4,2.5 3.2,2.5 2.9,3 1.9,3 1.4,3.5 0.4,3.5 -0.6,4.6 -1.9,4.2 -3,3.8 -4.3,3.5 -6.6,3.5 -9.1,3.1 -1,0 -0.5,-0.6 -1.1,-3.1 -0.5,1.2 -0.8,5.5 -0.7,2.2 -3,4 -1,1 -1,0.4 -2,-0.6 -2.5,-2.2 -2,-2.8 -1.8,-4.1 -1.3,-4.5 -1,-5 -0.8,-5.5 -0.3,-6.5 0.1,-6.6 0.5,-5.5 1,-6.5 1.2,-4.5 1.4,-4.1 2,-3.5 2.2,-2.5z"/>
<path fill="#3d61a0" d="M50.5,56.7l2,1 2.4,2.5 1.9,3.1 1.4,3.5 1.4,4.5 0.9,5 0.6,5 0.3,6 -0.1,5.1 -0.6,6.5 -0.9,5 -1.4,5 -1.4,3.5 -2.1,3.6 -2.2,2.3 -2,1.2 -1,-0.3 -1,-0.9 -2.5,-3.4 -0.8,-3 -0.7,-5.4 -0.6,-1.2 -1,3.9 -0.5,0.7 -0.5,0.2 -7.8,-2.7 -6.9,-3.5 -4.3,-3.4 -3.1,-3.6 -2,-4 -0.8,-4.5 0.6,-4.6 1.9,-4 3.2,-4 4.5,-3.5 6.9,-3.5 7.8,-2.7 0.5,0.2 0.5,0.7 1,3.9 0.6,-1.2 0.7,-5.4 0.8,-3 2.5,-3.4 1,-0.9zM125.9,56.7l1,0.3 1,0.9 2.5,3.4 0.8,3 0.7,5.4 0.5,1.2 1.1,-3.9 0.5,-0.7 0.5,-0.2 7.8,2.7 6.9,3.5 4.3,3.4 3.1,3.6 2,4 0.8,4.5 -0.6,4.6 -1.9,4 -3.2,4 -4.5,3.5 -6.9,3.5 -7.8,2.7 -0.5,-0.2 -0.5,-0.7 -1.1,-3.9 -0.5,1.2 -0.7,5.4 -0.8,3 -2.5,3.4 -1,0.9 -1,0.3 -2,-1.2 -2.2,-2.3 -1.9,-3.1 -1.4,-3.5 -1.4,-4.5 -0.9,-5 -0.6,-5 -0.3,-6.5 0.7,-11.1 0.9,-5 1.4,-5 1.4,-3.5 2.1,-3.6 2.2,-2.3z"/>
<path fill="#3e62a2" d="M48.8,58.7l0.9,-0.4 0.5,0.2 2.2,1.7 2.3,3.1 1.7,3.5 1.4,4 1.1,5 1.1,10.5 -0.6,10.6 -0.9,5.5 -1.2,4.5 -1.6,4 -1.7,3.1 -2.3,2.7 -2,1.2 -1.5,-1 -2,-2.9 -0.8,-3.1 -0.7,-6.1 -0.6,-1.1 -1,4.7 -0.5,0.9 -0.5,0.2 -6.1,-2.1 -6.4,-3.1 -4.7,-3.4 -3.6,-4 -2.1,-4 -0.8,-4.5 0.6,-4.6 2.1,-4.2 3.3,-3.8 4.6,-3.5 5.9,-3 7.2,-2.6 0.5,0.2 0.5,0.9 1,4.7 0.6,-1.1 0.7,-6.1 0.8,-3.1 1,-1.7zM125.9,58.7l1,-0.4 1,0.5 1.5,1.7 1,1.7 0.8,3.1 0.7,6.1 0.5,1.1 1.1,-4.7 0.5,-0.9 0.5,-0.2 6.1,2.1 6.4,3.1 4.7,3.4 3.6,4 2.1,4 0.8,4.5 -0.6,4.6 -2.1,4.2 -3.3,3.8 -4.6,3.5 -5.9,3 -7.2,2.6 -0.5,-0.2 -0.5,-0.9 -1.1,-4.7 -0.5,1.1 -0.7,6.1 -0.8,3.1 -2,2.9 -1.5,1 -1.7,-0.9 -2.3,-2.5 -1.5,-2.6 -1.6,-3.5 -1.2,-4 -1,-4.5 -1,-10 0.5,-10.1 1.9,-9.5 1.2,-3.5 1.7,-3.5 1.8,-2.6z"/>
<path fill="#4063a3" d="M48.2,60.2l1,-0.3 0.5,0.2 2,1.9 2,2.9 1.8,3.9 2.1,8 1,10 -0.6,10.1 -1.8,8.5 -1.4,3.5 -1.6,3.2 -2.2,2.9 -1.8,1.3 -1.5,-0.8 -1.5,-2.4 -0.7,-3.2 -0.8,-7.1 -0.6,-0.9 -1,5.7 -0.5,1.1 -0.5,0.3 -4.3,-1.6 -6.2,-3 -5.2,-3.5 -3.8,-4 -2.1,-4 -0.9,-4.5 0.7,-4.6 2.3,-4.5 3.8,-4 5.2,-3.5 6.2,-3 4.3,-1.6 0.5,0.3 0.5,1.1 1,5.7 0.6,-0.9 0.8,-7.1 0.7,-3.2 1,-1.8zM126.8,60.2l0.6,-0.3 1,0.4 1,1 1,1.8 0.7,3.2 0.8,7.1 0.5,0.9 1.1,-5.7 0.5,-1.1 0.5,-0.3 4.3,1.6 6.2,3 5.2,3.5 3.8,4 2.1,4 0.9,4.5 -0.7,4.6 -2.3,4.5 -3.8,4 -5.2,3.5 -6.2,3 -4.3,1.6 -0.5,-0.3 -0.5,-1.1 -1.1,-5.7 -0.5,0.9 -0.8,7.1 -0.7,3.2 -1.5,2.4 -1.5,0.8 -1.8,-1.3 -2,-2.6 -1.4,-2.5 -1.4,-3.5 -2,-8 -0.8,-9 0.5,-9.6 1.8,-8.5 2.7,-6.5 1.7,-2.6z"/>
<path fill="#4264a5" d="M47.7,61.7l1,-0.2 1.9,1.8 2,3 1.6,3.5 1.2,3.5 1,4.5 0.8,8.5 -0.4,9.6 -1.7,8 -2.7,6.5 -2.2,3.1 -1.5,1.2 -0.5,0 -1,-0.7 -1,-1.9 -0.8,-4.2 -0.7,-7.4 -0.6,-0.6 -1,6.8 -0.5,1.3 -0.5,0.3 -1.5,-0.4 -5.4,-2.5 -5.9,-3.5 -4.4,-4 -1.5,-2 -1.4,-2.5 -0.8,-2.5 -0.2,-2.5 0.2,-2.6 0.6,-2.5 1.3,-2.5 1.4,-2 4.1,-4 6,-3.7 6,-2.8 1.5,-0.4 0.5,0.3 0.5,1.3 1,6.8 0.6,-0.6 1.3,-10.9 0.7,-1.9zM125.6,63.8l2.3,-2.3 1,0.3 1.5,2.3 0.8,4.2 0.7,7.4 0.5,0.6 1.1,-6.8 0.5,-1.3 0.5,-0.3 1.5,0.4 5.4,2.5 5.9,3.5 4.4,4 1.5,2 1.4,2.5 0.8,2.5 0.2,2.5 -0.2,2.6 -0.6,2.5 -1.3,2.5 -1.4,2 -4.1,4 -6,3.7 -6,2.8 -1.5,0.4 -0.5,-0.3 -0.5,-1.3 -1.1,-6.8 -0.5,0.6 -0.7,7.4 -0.8,4.2 -1,1.9 -1,0.7 -0.5,0 -1.5,-1.2 -1.9,-2.6 -2.7,-6 -1.8,-7.5 -0.6,-8 0.4,-9.1 1.5,-7.5 2.7,-6.5z"/>
<path fill="#4365a7" d="M47.2,63.3l1,-0.3 1.5,1.4 1.8,2.9 1.7,3.5 1.1,3.5 1,4.5 0.7,8 -0.4,8.6 -1.6,7.5 -1.2,3.5 -1.5,3 -1.8,2.5 -1.3,1.3 -1,-0.3 -0.5,-0.6 -0.7,-1.9 -0.7,-4.5 -0.6,-7.9 -0.6,-0.2 -1.2,8.6 -0.3,0.8 -0.5,0.5 -0.5,-0.1 -8.3,-4.2 -3.2,-2.1 -2.7,-2.4 -2.2,-2.5 -1.5,-2.5 -1,-2.5 -0.4,-3 0.3,-3.1 0.8,-2.5 1.4,-2.5 2.3,-2.7 2.5,-2.3 3.5,-2.4 8.5,-4.3 0.5,-0.1 0.5,0.5 0.3,0.8 1.2,8.6 0.6,-0.2 1,-10.9 0.5,-2.2zM128,63.3l0.9,-0.3 0.5,0.3 1,1.8 0.8,4.2 0.7,8.9 0.5,0.2 1.3,-8.6 0.3,-0.8 0.5,-0.5 0.5,0.1 8.3,4.2 3.2,2.1 2.7,2.4 2.2,2.5 1.5,2.5 1,2.5 0.4,3 -0.3,3.1 -0.8,2.5 -1.4,2.5 -2.3,2.7 -2.5,2.3 -3.5,2.4 -8.5,4.3 -0.5,0.1 -0.5,-0.5 -0.3,-0.8 -1.3,-8.6 -0.5,0.2 -1,10.9 -1,3.4 -1,0.9 -1,-0.3 -1.6,-2 -1.8,-3 -1.2,-3 -2,-7.5 -0.7,-8 0.4,-8.1 1.5,-7.5 2.3,-6 1.5,-2.5z"/>
<path fill="#4567a8" d="M46.9,64.8l0.8,-0.3 1.5,1.5 1.7,2.8 1.4,3.5 1.8,7 0.7,7.5 -0.4,8.1 -1.4,7 -2.4,6 -1.6,2.5 -1.3,1.3 -1,-0.5 -1,-3.6 -1,-12.6 -0.6,0.4 -1,9.5 -0.5,1.6 -0.5,0.5 -0.5,0 -8,-4.4 -5.2,-4.2 -2.1,-2.5 -1.4,-2.5 -0.9,-2.5 -0.3,-2.5 0.2,-2.6 0.8,-2.5 1.3,-2.5 1.9,-2.5 2.7,-2.5 2.8,-2 8.2,-4.6 0.5,0 0.5,0.5 0.5,1.6 1,9.5 0.6,0.4 1,-12.6 0.5,-2.5zM128.5,64.8l0.9,-0.3 1.1,1.8 0.7,4.5 0.7,10.4 0.5,-0.4 1.1,-9.5 0.5,-1.6 0.5,-0.5 0.5,0 8,4.4 5.2,4.2 2.1,2.5 1.4,2.5 0.9,2.5 0.3,2.5 -0.2,2.6 -0.8,2.5 -1.3,2.5 -1.9,2.5 -2.7,2.5 -2.8,2 -8.2,4.6 -0.5,0 -0.5,-0.5 -0.5,-1.6 -1.1,-9.5 -0.5,-0.4 -1,12.6 -1,3.6 -1,0.5 -1,-0.8 -1.6,-2.5 -2.6,-6 -1.4,-6.5 -0.5,-7 0.4,-7.6 1.4,-7 2.1,-5.5z"/>
<path fill="#4768aa" d="M46.6,66.3l0.6,-0.4 0.5,0.2 0.9,1.2 1.6,3 1.4,3.5 1.6,6.5 0.6,7 -0.5,7.6 -1.4,6.5 -2.4,6 -1.3,2.1 -1,0.8 -0.5,-0.3 -0.5,-1.1 -0.5,-2.7 -1,-15.1 -0.6,1.5 -1,11.2 -0.5,1.9 -0.5,0.5 -0.5,0 -7.3,-4.3 -4.8,-4 -1.7,-2 -1.5,-2.5 -0.9,-2.5 -0.3,-2.5 0.2,-2.6 0.8,-2.5 1.4,-2.5 1.5,-2 2.6,-2.5 2.7,-2 7.3,-4.3 0.5,0 0.5,0.5 0.5,1.9 1,11.2 0.6,1.5 0.9,-14.8zM128.8,66.3l0.6,-0.4 0.5,0.3 1,3.8 1,15.1 0.5,-1.5 1.1,-11.2 0.5,-1.9 0.5,-0.5 0.5,0 7.3,4.3 4.8,4 1.7,2 1.5,2.5 0.9,2.5 0.3,2.5 -0.2,2.6 -0.8,2.5 -1.4,2.5 -1.5,2 -2.6,2.5 -2.7,2 -7.3,4.3 -0.5,0 -0.5,-0.5 -0.5,-1.9 -1.1,-11.2 -0.5,-1.5 -1,15.1 -0.5,2.7 -0.5,1.1 -0.5,0.3 -1,-0.8 -1.3,-2.1 -2.4,-6 -1.4,-6 -0.5,-6.5 0.4,-6.6 1,-6 1.9,-5.5z"/>
<path fill="#4969ab" d="M46.6,67.8l0.6,-0.3 1.3,1.8 2.5,6 1.3,6 0.4,6 -0.3,6.6 -1,5.5 -1.9,5.5 -1.3,2.5 -1,1.3 -0.5,-0.1 -0.5,-1.1 -0.5,-2.9 -0.9,-15.2 0.8,-16.6 0.6,-4.1zM129.2,67.8l0.7,-0.2 0.5,1.1 0.5,2.9 0.9,16.2 -0.9,16.8 -0.5,2.9 -0.5,1.1 -0.5,0.1 -1,-1.3 -1.3,-2.5 -1.8,-5 -1,-5.5 -0.4,-6 0.3,-6.1 1,-5.5 1.9,-5.5zM41.5,70.8l0.6,-0.1 0.5,0.7 0.5,2.1 1,14.3 -0.2,7.1 -0.8,7.8 -0.5,2.1 -0.5,0.7 -0.5,0 -7.1,-4.6 -4.4,-4 -2.6,-4 -0.7,-2 -0.3,-2.5 0.2,-2.6 0.6,-2 1.3,-2.5 1.5,-2 4.4,-4zM134.4,70.8l1.1,0.1 5.2,3.4 5.3,4.5 1.7,2 1.4,2.5 0.7,2 0.3,2.5 -0.2,2.6 -0.6,2 -1.3,2.5 -1.5,2 -4.4,4 -7.1,4.6 -0.5,0 -0.5,-0.7 -0.5,-2.1 -1,-13.3 0.7,-13.6 0.5,-3.5z"/>
<path fill="#4a6aad" d="M46.6,69.3l0.6,0 0.9,1.5 2.1,5.5 1.2,5.5 0.4,6 -0.4,6.1 -1,5.5 -2.1,5.5 -1.1,2 -0.5,0.1 -0.5,-1 -0.5,-3.4 -0.7,-14.2 0.7,-14.8 0.5,-3.4zM129.5,69.3l0.4,-0.1 0.5,1 0.5,3.4 0.7,13.7 -0.7,15.3 -0.5,3.4 -0.5,1 -0.5,-0.1 -1.1,-2 -1.9,-5 -1.2,-5.5 -0.4,-5.5 0.3,-5.6 0.9,-5.5 1.6,-5zM41.1,71.8l1,-0.3 0.5,0.8 0.4,1.5 1,13 -0.2,6.6 -0.7,8.2 -0.5,2.3 -0.5,0.8 -0.5,0 -6.3,-4.3 -4.1,-4 -2.5,-4 -0.8,-4 0.2,-2.6 0.6,-2 2.4,-3.9 4.2,-4.1zM134.3,71.8l0.7,-0.3 0.5,0.2 3.1,2.1 3.9,3 2.5,2.5 2.7,4 0.7,2 0.3,2.5 -0.2,2.6 -0.6,2 -2.5,4 -4.1,4 -6.3,4.3 -0.5,0 -0.5,-0.8 -0.5,-2.3 -0.9,-12.2 0.6,-12.6 0.5,-3.5z"/>
<path fill="#4c6bae" d="M46.2,71.9l0.5,-0.9 0.5,0.3 0.5,0.8 1.8,5.2 1,5 0.4,5.5 -0.3,5.1 -0.8,5 -1.6,5.1 -1,1.9 -0.5,0.3 -0.5,-0.9 -0.5,-3.8 -0.5,-11.6 0.5,-13.2zM129.4,71.3l0.5,-0.3 0.5,0.9 0.3,1.9 0.7,12.5 -0.5,14.2 -0.5,3.8 -0.5,0.9 -0.5,-0.3 -0.8,-1.5 -1.5,-4.5 -1,-5 -0.4,-5 0.2,-5.1 0.7,-4.5 1.2,-4.5zM40.8,72.8l1.3,-0.5 0.7,1.5 0.6,4.5 0.5,8.5 -0.8,13.7 -0.5,2.5 -0.5,0.9 -0.5,0 -5.4,-4 -4,-4 -2.1,-3.5 -0.9,-4 0.7,-4.1 1.9,-3.5 3.8,-4zM133.2,77.8l1.3,-5.5 0.5,0 1,0.6 4.4,3.4 3.2,3 2.7,4 0.7,2 0.4,2.5 -0.7,4.1 -2.3,4 -4,4 -5.4,4 -0.5,0 -0.5,-0.9 -0.5,-2.5 -0.8,-11.1z"/>
<path fill="#4e6cb0" d="M41.4,73.3l0.7,-0.1 0.5,0.9 0.4,1.7 0.8,12 -0.7,11.5 -0.5,2.8 -0.5,0.9 -0.5,0 -4.6,-3.6 -3.8,-4 -2,-3.5 -0.7,-3.5 0.7,-4.1 2,-3.5 3.2,-3.5zM45.7,78.1l1,-5.2 0.5,0.4 1.7,5 0.9,5 0.3,4.5 -0.3,5.1 -0.8,4.5 -1.3,4.4 -1,1.5 -0.5,-1 -0.5,-4.2 -0.4,-9.2zM129.4,73.3l0.5,-0.4 0.5,1 0.5,4.2 0.4,7.7 -0.4,12.3 -0.5,4.2 -0.5,1 -1,-1.5 -1.3,-4.4 -0.8,-4.5 -0.3,-4 0.2,-4.6 0.5,-4 1,-4zM134.4,73.3l0.6,-0.1 0.5,0.2 2.4,1.9 5.1,5 2.2,3.5 0.9,4 -0.7,4.1 -2,3.5 -3.8,4 -4.6,3.6 -0.5,0 -0.5,-0.9 -0.5,-2.7 -0.7,-10.5 0.6,-11.6 0.6,-3.2z"/>
<path fill="#506daf" d="M41.1,74.3l1,-0.3 0.5,1 0.7,4.3 0.4,8 -0.6,11.1 -0.5,2.8 -0.5,1 -0.5,0 -4.5,-3.8 -3,-3.5 -1.7,-3 -0.7,-3.5 0.5,-3.6 1.5,-3 2.9,-3.5zM134.3,74.3l0.7,-0.3 1,0.7 3.5,3.1 2.3,2.5 2.4,4 0.7,3.5 -0.5,3.6 -1.9,3.5 -3,3.5 -4.5,3.8 -0.5,0 -0.5,-1 -0.4,-1.8 -0.7,-10.5 0.6,-10.8zM45.7,80.7l1,-5.9 0.5,0.6 1.2,3.9 0.7,4 0.2,4.5 -0.7,8.1 -0.9,3.6 -1,1.9 -0.5,-1.1 -0.4,-2.9 -0.3,-8zM128.6,77.8l1.3,-3 0.5,1.1 0.7,9.9 -0.2,9.7 -0.5,4.8 -0.5,1.1 -0.8,-1.5 -1,-3.5 -0.8,-7.5 0.5,-7.6z"/>
<path fill="#526dad" d="M41.6,74.8l0.5,0 0.8,2.5 0.7,10.5 -0.6,10.6 -0.4,1.9 -0.5,1.1 -0.5,0 -3.9,-3.5 -2.9,-3.5 -1.5,-3 -0.6,-3 0.6,-3.6 1.5,-3 2.9,-3.5zM134.8,74.8l3.1,2.5 3.6,4 1.8,3.5 0.6,3 -0.6,3.6 -1.5,3 -2.9,3.5 -3.9,3.5 -0.5,0 -0.3,-0.5 -0.5,-2 -0.7,-10.5 0.6,-10.1 0.4,-2.4 0.5,-1.1zM46.6,76.8l0.6,0.7 0.8,3.3 0.7,7 -0.6,7.1 -0.8,3.5 -0.6,1.1 -0.5,-1.2 -0.2,-1.4 -0.4,-8.5 0.4,-8.6 0.2,-1.9zM129.9,76.8l0.6,2 0.5,9 -0.4,8.6 -0.2,1.9 -0.5,1.2 -0.6,-1.1 -0.7,-3 -0.7,-7 0.6,-7.1 0.7,-3z"/>
<path fill="#546eac" d="M41.3,75.8l0.8,-0.1 0.5,1.1 0.5,3.7 0.4,6.8 -0.6,10.6 -0.7,2.5 -0.6,0.2 -2.9,-2.7 -2.9,-3.5 -1.5,-3 -0.6,-3 0.4,-3.1 1.4,-3 2.3,-3zM134.4,75.8l0.6,-0.2 0.9,0.7 4.5,5 1.9,3.5 0.6,3 -0.4,3.1 -1.4,3 -2.7,3.5 -3.4,3.2 -0.5,-0.1 -0.5,-1.1 -0.9,-10 0.4,-8.9 0.5,-3.7zM46,81.8l0.7,-2.9 0.9,2.9 0.5,6 -0.4,6.1 -1,3.4 -0.5,-1.3 -0.4,-7.1zM128.9,82.8l1,-3.9 0.5,1.3 0.4,7.1 -0.3,8.6 -0.6,1.4 -1,-3.4 -0.4,-5.5z"/>
<path fill="#566fab" d="M38.3,79.8l3.3,-3.4 0.5,0.1 0.5,1.2 0.8,9.6 -0.7,10.6 -0.6,1.8 -0.5,0.1 -2.8,-2.9 -2.3,-3 -1.4,-3 -0.4,-2.5 0.3,-2.6 1.2,-3zM134.3,76.8l0.7,-0.4 0.5,0.4 4.3,5 1.5,3 0.6,3 -0.3,2.6 -1.2,3 -2.6,3.5 -2.8,2.9 -0.5,-0.1 -0.5,-1.2 -0.8,-9.1 0.3,-7.7 0.5,-4zM46.2,83.1l0.5,-1.6 0.5,1.7 0.3,4.6 -0.2,4.6 -0.6,2.3 -0.5,-1.6 -0.2,-4.2zM129.3,84.3l0.6,-2.8 0.5,1.6 0.2,4.2 -0.2,5.8 -0.5,1.6 -0.6,-2.3 -0.2,-4z"/>
<path fill="#586fa9" d="M38.5,80.8l3.1,-3.5 0.5,0.1 0.5,1.3 0.7,8.1 -0.2,6.3 -0.4,4.3 -0.6,1.4 -0.5,0.1 -2.3,-2.5 -2.2,-3 -1.1,-2.5 -0.4,-2.5 0.3,-2.6 1,-2.5zM133.5,83.1l1,-5.7 0.5,-0.1 0.5,0.4 3.3,4.1 1.6,3 0.6,3 -0.3,2.6 -1,2.5 -2,3 -2.7,3 -0.5,-0.1 -0.5,-1.3 -0.7,-8.1zM46.5,88.4l0.2,-2.5 0,4.4zM129.8,88.4l0.1,-2.5 0,4.4z"/>
<path fill="#5a70a8" d="M41.5,78.3l0.6,0 0.5,1.4 0.7,8.1 -0.7,8.7 -0.5,1.4 -0.5,0.1 -1.9,-2.1 -2,-3 -1,-2.5 -0.3,-2 0.2,-2.1 0.9,-2.5 1.9,-3zM134.5,78.3l0.5,-0.1 0.6,0.6 3,4 1.1,2.5 0.5,2.5 -0.3,2.6 -1,2.5 -2,3 -1.9,2.1 -0.5,-0.1 -0.5,-1.4 -0.6,-7.1 0.3,-7.1 0.3,-2.6z"/>
<path fill="#5c71a6" d="M41.5,79.3l0.6,0 0.5,1.5 0.6,7 -0.6,7.6 -0.5,1.5 -0.5,0.1 -1.8,-2.1 -1.5,-2.5 -0.8,-2 -0.3,-2 0.2,-2.1 0.9,-2.5zM134.4,79.3l0.6,-0.1 0.5,0.4 2.2,3.2 1.2,2.5 0.5,2.5 -0.2,2.1 -0.9,2.5 -1.5,2.5 -1.8,2.1 -0.5,-0.1 -0.5,-1.5 -0.6,-6 0.3,-6.6z"/>
<path fill="#5e71a5" d="M41.5,80.3l0.6,0 0.5,1.6 0.5,5.9 -0.5,6.5 -0.5,1.6 -0.5,0.1 -1.3,-1.6 -1.4,-2.5 -0.9,-3.5 0.2,-2.1 0.7,-2zM134.4,80.3l0.6,-0.1 0.5,0.5 1.7,2.6 1.1,2.5 0.3,2 -0.2,2.1 -0.7,2 -1.4,2.5 -1.3,1.6 -0.5,-0.1 -0.5,-1.6 -0.5,-5.4 0.4,-6.6z"/>
<path fill="#6072a4" d="M41.5,81.3l0.6,0 0.5,1.9 0.4,4.6 -0.4,5.2 -0.5,1.9 -0.5,0.1 -2.2,-3.6 -0.7,-3 0.7,-3.6zM134.5,81.3l0.5,-0.1 0.5,0.5 1.2,2.1 0.8,2 0.4,2 -0.7,3.6 -2.2,3.6 -0.5,-0.1 -0.5,-1.9 -0.4,-4.1 0.4,-5.7z"/>
<path fill="#6273a2" d="M41.6,82.3l0.5,0.1 0.5,2.1 0.2,3.3 -0.2,3.9 -0.5,2.1 -0.5,0.1 -1.5,-2.5 -0.7,-3 0.5,-3.1zM135,82.3l1.5,2.5 0.7,3 -0.5,3.1 -1.7,3 -0.5,-0.1 -0.5,-2.1 -0.2,-3.3 0.2,-3.9 0.5,-2.1z"/>
<path fill="#6574a1" d="M40.4,85.8l1.2,-2.3 0.5,0.1 0.6,3.7 -0.2,3.6 -0.4,1.7 -0.5,0.1 -1,-1.8 -0.6,-2.5zM134.4,83.8l0.6,-0.3 0.5,0.7 0.8,2.1 0.3,1.5 -0.4,2.6 -1.2,2.3 -0.5,-0.1 -0.6,-2.7 0.1,-3.9z"/>
<path fill="#67749f" d="M40.8,86.8l0.8,-1.9 0.5,0.1 0.5,2.8 -0.5,3.4 -0.5,0.1 -0.7,-1.4 -0.2,-1.5zM134.1,88.9l0.4,-3.9 0.5,-0.1 0.9,2.4 -0.1,2.1 -0.8,1.9 -0.5,-0.1z"/>
<path fill="#69759e" d="M41.3,88.4l0.3,-1.9 0.5,0.1 0.2,1.2 -0.2,1.8 -0.5,0.1zM134.4,86.8l0.6,-0.3 0.2,0.8 -0.2,2.4 -0.5,-0.1z"/>
</g></g>
<g filter="url(#soft)">
<rect x="561.90" y="316.80" width="2.80" height="29.30" fill="#f0c060"/>
<ellipse cx="564.90" cy="331.0" rx="1.6" ry="5.0" fill="#f6c878"/>
<rect x="562.60" y="317.40" width="1.40" height="28.10" fill="#fff4cf"/>
<rect x="651.00" y="316.80" width="2.80" height="29.30" fill="#f0c060"/>
<ellipse cx="650.80" cy="331.0" rx="1.6" ry="5.0" fill="#f6c878"/>
<rect x="651.70" y="317.40" width="1.40" height="28.10" fill="#fff4cf"/>
</g>
</g>
<rect x="515.80" y="239.60" width="184.30" height="183.80" fill="none" stroke="#3c3c3c" stroke-width="1.25"/>
<line x1="515.80" x2="518.60" y1="250.80" y2="250.80" stroke="#111" stroke-width="1.2"/>
<text x="513.10" y="257.80" font-family='"Liberation Sans", sans-serif' font-size="20.0" font-weight="normal" font-style="normal" text-anchor="end" stroke="#000" stroke-width="0.25" letter-spacing="-0.45">0.1</text>
<line x1="515.80" x2="518.60" y1="331.50" y2="331.50" stroke="#111" stroke-width="1.2"/>
<text x="513.10" y="338.50" font-family='"Liberation Sans", sans-serif' font-size="20.0" font-weight="normal" font-style="normal" text-anchor="end" stroke="#000" stroke-width="0.25" letter-spacing="-0.45">0</text>
<line x1="515.80" x2="518.60" y1="412.20" y2="412.20" stroke="#111" stroke-width="1.2"/>
<text x="513.10" y="419.20" font-family='"Liberation Sans", sans-serif' font-size="20.0" font-weight="normal" font-style="normal" text-anchor="end" stroke="#000" stroke-width="0.25" letter-spacing="-0.45">−0.1</text>
<line x1="527.40" x2="527.40" y1="423.40" y2="420.60" stroke="#111" stroke-width="1.2"/>
<text x="527.00" y="443.70" font-family='"Liberation Sans", sans-serif' font-size="20.0" font-weight="normal" font-style="normal" text-anchor="middle" stroke="#000" stroke-width="0.25" letter-spacing="-0.45">−4.5</text>
<line x1="607.85" x2="607.85" y1="423.40" y2="420.60" stroke="#111" stroke-width="1.2"/>
<text x="607.45" y="443.70" font-family='"Liberation Sans", sans-serif' font-size="20.0" font-weight="normal" font-style="normal" text-anchor="middle" stroke="#000" stroke-width="0.25" letter-spacing="-0.45">0</text>
<line x1="688.30" x2="688.30" y1="423.40" y2="420.60" stroke="#111" stroke-width="1.2"/>
<text x="687.90" y="443.70" font-family='"Liberation Sans", sans-serif' font-size="20.0" font-weight="normal" font-style="normal" text-anchor="middle" stroke="#000" stroke-width="0.25" letter-spacing="-0.45">4.5</text>
<text x="525.00" y="266.80" font-family='"Liberation Sans", sans-serif' font-size="22" font-weight="bold" font-style="normal" text-anchor="start" letter-spacing="-0.68">(b3)</text>
<text x="607.05" y="461.60" font-family='"Liberation Serif", serif' font-size="19" text-anchor="middle" textLength="42.5" lengthAdjust="spacing"><tspan font-style="normal">Re</tspan><tspan font-style="italic">E</tspan><tspan font-size="13.3" dy="2.9">0</tspan></text>
<text x="27.70" y="328.50" font-family='"Liberation Serif", serif' font-size="19.5" text-anchor="middle" textLength="42.5" lengthAdjust="spacing" transform="rotate(-90 27.70 328.50)"><tspan font-style="normal">Im</tspan><tspan font-style="italic">E</tspan><tspan font-size="13.6" dy="2.9">0</tspan></text>
<linearGradient id="cbA" x1="0" y1="0" x2="0" y2="1"><stop offset="0.000" stop-color="#ffecb2"/><stop offset="0.250" stop-color="#f8c978"/><stop offset="0.500" stop-color="#e9a048"/><stop offset="0.870" stop-color="#4e6cb0"/><stop offset="1.000" stop-color="#26538c"/></linearGradient>
<rect x="713.40" y="35.30" width="8.60" height="160.60" fill="url(#cbA)"/>
<rect x="713.40" y="35.30" width="8.60" height="11.80" fill="#fff2cc"/>
<rect x="713.40" y="193.20" width="8.60" height="2.70" fill="#5c82ac" fill-opacity="1"/>
<line x1="722.00" x2="724.60" y1="35.60" y2="35.60" stroke="#d8d8d8" stroke-width="0.6"/>
<line x1="722.00" x2="724.60" y1="115.80" y2="115.80" stroke="#d8d8d8" stroke-width="0.6"/>
<line x1="722.00" x2="724.60" y1="195.60" y2="195.60" stroke="#d8d8d8" stroke-width="0.6"/>
<linearGradient id="cbB" x1="0" y1="0" x2="0" y2="1"><stop offset="0.000" stop-color="#ffecb2"/><stop offset="0.250" stop-color="#f8c978"/><stop offset="0.500" stop-color="#e9a048"/><stop offset="0.870" stop-color="#4e6cb0"/><stop offset="1.000" stop-color="#26538c"/></linearGradient>
<rect x="713.40" y="260.40" width="8.60" height="162.30" fill="url(#cbB)"/>
<rect x="713.40" y="260.40" width="8.60" height="5.20" fill="#fff2cc"/>
<rect x="713.40" y="410.20" width="8.60" height="12.50" fill="#4f78a8" fill-opacity="1"/>
<rect x="713.40" y="413.00" width="8.60" height="1.20" fill="#5b83b0" fill-opacity="1"/>
<rect x="713.40" y="416.30" width="8.60" height="1.20" fill="#44699c" fill-opacity="1"/>
<rect x="713.40" y="419.60" width="8.60" height="1.20" fill="#5b83b0" fill-opacity="1"/>
<line x1="722.00" x2="724.60" y1="260.70" y2="260.70" stroke="#d8d8d8" stroke-width="0.6"/>
<line x1="722.00" x2="724.60" y1="341.50" y2="341.50" stroke="#d8d8d8" stroke-width="0.6"/>
<line x1="722.00" x2="724.60" y1="422.40" y2="422.40" stroke="#d8d8d8" stroke-width="0.6"/>
<text x="727.00" y="41.20" font-family='"Liberation Sans", sans-serif' font-size="14.1" font-weight="normal" font-style="normal" text-anchor="start" >200</text>
<text x="727.00" y="121.10" font-family='"Liberation Sans", sans-serif' font-size="14.1" font-weight="normal" font-style="normal" text-anchor="start" >100</text>
<text x="727.00" y="201.10" font-family='"Liberation Sans", sans-serif' font-size="14.1" font-weight="normal" font-style="normal" text-anchor="start" >0</text>
<text x="727.00" y="265.80" font-family='"Liberation Sans", sans-serif' font-size="14.1" font-weight="normal" font-style="normal" text-anchor="start" >200</text>
<text x="727.00" y="346.80" font-family='"Liberation Sans", sans-serif' font-size="14.1" font-weight="normal" font-style="normal" text-anchor="start" >100</text>
<text x="727.00" y="427.80" font-family='"Liberation Sans", sans-serif' font-size="14.1" font-weight="normal" font-style="normal" text-anchor="start" >0</text>
<text x="704.30" y="21.50" font-family='"Liberation Serif", serif' font-size="21.5" textLength="54.5" lengthAdjust="spacing"><tspan font-style="italic">w</tspan>(<tspan font-style="italic">E</tspan><tspan font-size="15.0" dy="4.3">0</tspan><tspan dy="-4.3">)</tspan></text>
<text x="702.40" y="246.80" font-family='"Liberation Serif", serif' font-size="21.5" textLength="54.5" lengthAdjust="spacing"><tspan font-style="italic">w</tspan>(<tspan font-style="italic">E</tspan><tspan font-size="15.0" dy="4.3">0</tspan><tspan dy="-4.3">)</tspan></text>
<rect x="89.00" y="474.50" width="274.80" height="156.60" fill="#fff" stroke="#000" stroke-width="1.35"/>
<line x1="93.90" x2="93.90" y1="631.10" y2="628.10" stroke="#000" stroke-width="0.8"/>
<text transform="translate(93.90,648.60) scale(1.097,1)" font-family='"Liberation Sans", sans-serif' font-size="17.0" text-anchor="middle" stroke="#000" stroke-width="0.3">0.00</text>
<line x1="107.12" x2="107.12" y1="631.10" y2="629.30" stroke="#000" stroke-width="0.8"/>
<line x1="120.35" x2="120.35" y1="631.10" y2="629.30" stroke="#000" stroke-width="0.8"/>
<line x1="133.57" x2="133.57" y1="631.10" y2="629.30" stroke="#000" stroke-width="0.8"/>
<line x1="146.80" x2="146.80" y1="631.10" y2="628.10" stroke="#000" stroke-width="0.8"/>
<text transform="translate(146.80,648.60) scale(1.097,1)" font-family='"Liberation Sans", sans-serif' font-size="17.0" text-anchor="middle" stroke="#000" stroke-width="0.3">0.02</text>
<line x1="160.03" x2="160.03" y1="631.10" y2="629.30" stroke="#000" stroke-width="0.8"/>
<line x1="173.25" x2="173.25" y1="631.10" y2="629.30" stroke="#000" stroke-width="0.8"/>
<line x1="186.48" x2="186.48" y1="631.10" y2="629.30" stroke="#000" stroke-width="0.8"/>
<line x1="199.70" x2="199.70" y1="631.10" y2="628.10" stroke="#000" stroke-width="0.8"/>
<text transform="translate(199.70,648.60) scale(1.097,1)" font-family='"Liberation Sans", sans-serif' font-size="17.0" text-anchor="middle" stroke="#000" stroke-width="0.3">0.04</text>
<line x1="212.93" x2="212.93" y1="631.10" y2="629.30" stroke="#000" stroke-width="0.8"/>
<line x1="226.15" x2="226.15" y1="631.10" y2="629.30" stroke="#000" stroke-width="0.8"/>
<line x1="239.38" x2="239.38" y1="631.10" y2="629.30" stroke="#000" stroke-width="0.8"/>
<line x1="252.60" x2="252.60" y1="631.10" y2="628.10" stroke="#000" stroke-width="0.8"/>
<text transform="translate(252.60,648.60) scale(1.097,1)" font-family='"Liberation Sans", sans-serif' font-size="17.0" text-anchor="middle" stroke="#000" stroke-width="0.3">0.06</text>
<line x1="265.82" x2="265.82" y1="631.10" y2="629.30" stroke="#000" stroke-width="0.8"/>
<line x1="279.05" x2="279.05" y1="631.10" y2="629.30" stroke="#000" stroke-width="0.8"/>
<line x1="292.27" x2="292.27" y1="631.10" y2="629.30" stroke="#000" stroke-width="0.8"/>
<line x1="305.50" x2="305.50" y1="631.10" y2="628.10" stroke="#000" stroke-width="0.8"/>
<text transform="translate(305.50,648.60) scale(1.097,1)" font-family='"Liberation Sans", sans-serif' font-size="17.0" text-anchor="middle" stroke="#000" stroke-width="0.3">0.08</text>
<line x1="318.73" x2="318.73" y1="631.10" y2="629.30" stroke="#000" stroke-width="0.8"/>
<line x1="331.95" x2="331.95" y1="631.10" y2="629.30" stroke="#000" stroke-width="0.8"/>
<line x1="345.18" x2="345.18" y1="631.10" y2="629.30" stroke="#000" stroke-width="0.8"/>
<line x1="358.40" x2="358.40" y1="631.10" y2="628.10" stroke="#000" stroke-width="0.8"/>
<text transform="translate(358.40,648.60) scale(1.097,1)" font-family='"Liberation Sans", sans-serif' font-size="17.0" text-anchor="middle" stroke="#000" stroke-width="0.3">0.10</text>
<line x1="89.00" x2="91.60" y1="487.20" y2="487.20" stroke="#000" stroke-width="0.8"/>
<text transform="translate(87.10,493.50) scale(1.125,1)" font-family='"Liberation Sans", sans-serif' font-size="17.0" text-anchor="end" stroke="#000" stroke-width="0.3">1.2</text>
<line x1="89.00" x2="91.60" y1="526.30" y2="526.30" stroke="#000" stroke-width="0.8"/>
<text transform="translate(87.10,532.60) scale(1.125,1)" font-family='"Liberation Sans", sans-serif' font-size="17.0" text-anchor="end" stroke="#000" stroke-width="0.3">0.9</text>
<line x1="89.00" x2="91.60" y1="565.40" y2="565.40" stroke="#000" stroke-width="0.8"/>
<text transform="translate(87.10,571.70) scale(1.125,1)" font-family='"Liberation Sans", sans-serif' font-size="17.0" text-anchor="end" stroke="#000" stroke-width="0.3">0.6</text>
<line x1="89.00" x2="91.60" y1="604.50" y2="604.50" stroke="#000" stroke-width="0.8"/>
<text transform="translate(87.10,610.80) scale(1.125,1)" font-family='"Liberation Sans", sans-serif' font-size="17.0" text-anchor="end" stroke="#000" stroke-width="0.3">0.3</text>
<polyline points="93.90,484.40 146.80,562.40 199.70,597.40 252.60,608.30 305.50,614.60 358.40,618.20" fill="none" stroke="#0000f5" stroke-width="2.6" stroke-linejoin="round"/>
<ellipse cx="93.90" cy="484.40" rx="4.5" ry="3.9" fill="#0000f5"/>
<ellipse cx="146.80" cy="562.40" rx="4.5" ry="3.9" fill="#0000f5"/>
<ellipse cx="199.70" cy="597.40" rx="4.5" ry="3.9" fill="#0000f5"/>
<ellipse cx="252.60" cy="608.30" rx="4.5" ry="3.9" fill="#0000f5"/>
<ellipse cx="305.50" cy="614.60" rx="4.5" ry="3.9" fill="#0000f5"/>
<ellipse cx="358.40" cy="618.20" rx="4.5" ry="3.9" fill="#0000f5"/>
<text x="331.70" y="500.50" font-family='"Liberation Sans", sans-serif' font-size="22.5" font-weight="bold" letter-spacing="-1.3">(c)</text>
<text x="178.60" y="671.9" font-family='"Liberation Serif", serif' font-size="25.5" textLength="81.5" lengthAdjust="spacing">2<tspan font-style="italic">πϕ</tspan><tspan font-size="31.9" dy="3.1">/</tspan><tspan font-style="italic" dy="-3.1">ϕ</tspan><tspan font-size="17.8" dy="4.6">0</tspan></text>
<rect x="427.90" y="475.50" width="260.60" height="154.60" fill="#fff" stroke="#000" stroke-width="1.35"/>
<line x1="432.60" x2="432.60" y1="630.10" y2="627.10" stroke="#000" stroke-width="0.8"/>
<text transform="translate(432.60,647.60) scale(1.097,1)" font-family='"Liberation Sans", sans-serif' font-size="17.0" text-anchor="middle" stroke="#000" stroke-width="0.3">0.00</text>
<line x1="445.12" x2="445.12" y1="630.10" y2="628.30" stroke="#000" stroke-width="0.8"/>
<line x1="457.65" x2="457.65" y1="630.10" y2="628.30" stroke="#000" stroke-width="0.8"/>
<line x1="470.18" x2="470.18" y1="630.10" y2="628.30" stroke="#000" stroke-width="0.8"/>
<line x1="482.70" x2="482.70" y1="630.10" y2="627.10" stroke="#000" stroke-width="0.8"/>
<text transform="translate(482.70,647.60) scale(1.097,1)" font-family='"Liberation Sans", sans-serif' font-size="17.0" text-anchor="middle" stroke="#000" stroke-width="0.3">0.02</text>
<line x1="495.23" x2="495.23" y1="630.10" y2="628.30" stroke="#000" stroke-width="0.8"/>
<line x1="507.75" x2="507.75" y1="630.10" y2="628.30" stroke="#000" stroke-width="0.8"/>
<line x1="520.27" x2="520.27" y1="630.10" y2="628.30" stroke="#000" stroke-width="0.8"/>
<line x1="532.80" x2="532.80" y1="630.10" y2="627.10" stroke="#000" stroke-width="0.8"/>
<text transform="translate(532.80,647.60) scale(1.097,1)" font-family='"Liberation Sans", sans-serif' font-size="17.0" text-anchor="middle" stroke="#000" stroke-width="0.3">0.04</text>
<line x1="545.33" x2="545.33" y1="630.10" y2="628.30" stroke="#000" stroke-width="0.8"/>
<line x1="557.85" x2="557.85" y1="630.10" y2="628.30" stroke="#000" stroke-width="0.8"/>
<line x1="570.38" x2="570.38" y1="630.10" y2="628.30" stroke="#000" stroke-width="0.8"/>
<line x1="582.90" x2="582.90" y1="630.10" y2="627.10" stroke="#000" stroke-width="0.8"/>
<text transform="translate(582.90,647.60) scale(1.097,1)" font-family='"Liberation Sans", sans-serif' font-size="17.0" text-anchor="middle" stroke="#000" stroke-width="0.3">0.06</text>
<line x1="595.43" x2="595.43" y1="630.10" y2="628.30" stroke="#000" stroke-width="0.8"/>
<line x1="607.95" x2="607.95" y1="630.10" y2="628.30" stroke="#000" stroke-width="0.8"/>
<line x1="620.48" x2="620.48" y1="630.10" y2="628.30" stroke="#000" stroke-width="0.8"/>
<line x1="633.00" x2="633.00" y1="630.10" y2="627.10" stroke="#000" stroke-width="0.8"/>
<text transform="translate(633.00,647.60) scale(1.097,1)" font-family='"Liberation Sans", sans-serif' font-size="17.0" text-anchor="middle" stroke="#000" stroke-width="0.3">0.08</text>
<line x1="645.53" x2="645.53" y1="630.10" y2="628.30" stroke="#000" stroke-width="0.8"/>
<line x1="658.05" x2="658.05" y1="630.10" y2="628.30" stroke="#000" stroke-width="0.8"/>
<line x1="670.58" x2="670.58" y1="630.10" y2="628.30" stroke="#000" stroke-width="0.8"/>
<line x1="683.10" x2="683.10" y1="630.10" y2="627.10" stroke="#000" stroke-width="0.8"/>
<text transform="translate(683.10,647.60) scale(1.097,1)" font-family='"Liberation Sans", sans-serif' font-size="17.0" text-anchor="middle" stroke="#000" stroke-width="0.3">0.10</text>
<line x1="427.90" x2="430.50" y1="486.70" y2="486.70" stroke="#000" stroke-width="0.8"/>
<text transform="translate(426.00,493.00) scale(1.125,1)" font-family='"Liberation Sans", sans-serif' font-size="17.0" text-anchor="end" stroke="#000" stroke-width="0.3">0.27</text>
<line x1="427.90" x2="430.50" y1="519.90" y2="519.90" stroke="#000" stroke-width="0.8"/>
<text transform="translate(426.00,526.20) scale(1.125,1)" font-family='"Liberation Sans", sans-serif' font-size="17.0" text-anchor="end" stroke="#000" stroke-width="0.3">0.21</text>
<line x1="427.90" x2="430.50" y1="553.00" y2="553.00" stroke="#000" stroke-width="0.8"/>
<text transform="translate(426.00,559.30) scale(1.125,1)" font-family='"Liberation Sans", sans-serif' font-size="17.0" text-anchor="end" stroke="#000" stroke-width="0.3">0.15</text>
<line x1="427.90" x2="430.50" y1="586.20" y2="586.20" stroke="#000" stroke-width="0.8"/>
<text transform="translate(426.00,592.50) scale(1.125,1)" font-family='"Liberation Sans", sans-serif' font-size="17.0" text-anchor="end" stroke="#000" stroke-width="0.3">0.09</text>
<line x1="427.90" x2="430.50" y1="619.10" y2="619.10" stroke="#000" stroke-width="0.8"/>
<text transform="translate(426.00,625.40) scale(1.125,1)" font-family='"Liberation Sans", sans-serif' font-size="17.0" text-anchor="end" stroke="#000" stroke-width="0.3">0.03</text>
<polyline points="432.60,487.40 482.70,566.70 532.80,599.20 582.90,610.40 633.00,614.40 683.10,619.40" fill="none" stroke="#0000f5" stroke-width="2.6" stroke-linejoin="round"/>
<ellipse cx="432.60" cy="487.40" rx="4.5" ry="3.9" fill="#0000f5"/>
<ellipse cx="482.70" cy="566.70" rx="4.5" ry="3.9" fill="#0000f5"/>
<ellipse cx="532.80" cy="599.20" rx="4.5" ry="3.9" fill="#0000f5"/>
<ellipse cx="582.90" cy="610.40" rx="4.5" ry="3.9" fill="#0000f5"/>
<ellipse cx="633.00" cy="614.40" rx="4.5" ry="3.9" fill="#0000f5"/>
<ellipse cx="683.10" cy="619.40" rx="4.5" ry="3.9" fill="#0000f5"/>
<text x="654.50" y="500.30" font-family='"Liberation Sans", sans-serif' font-size="22.5" font-weight="bold" letter-spacing="-1.3">(d)</text>
<text x="516.10" y="671.9" font-family='"Liberation Serif", serif' font-size="25.5" textLength="81.5" lengthAdjust="spacing">2<tspan font-style="italic">πϕ</tspan><tspan font-size="31.9" dy="3.1">/</tspan><tspan font-style="italic" dy="-3.1">ϕ</tspan><tspan font-size="17.8" dy="4.6">0</tspan></text>
<text x="0" y="0" transform="translate(51.8,578.6) scale(1.15,1) rotate(-90)" font-family='"Liberation Serif", serif' font-size="24" textLength="47" lengthAdjust="spacing"><tspan font-style="italic">S</tspan><tspan font-size="16.8" dy="1.9">1</tspan><tspan dy="1.0" font-size="28.8">/</tspan><tspan dy="-2.9" font-style="italic">N</tspan></text>
</svg>
</body></html>
